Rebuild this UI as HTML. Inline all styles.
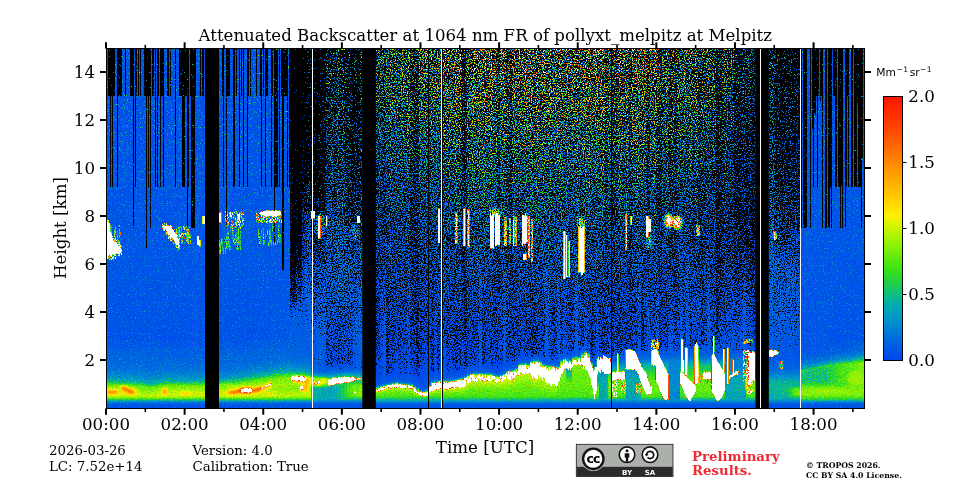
<!DOCTYPE html>
<html lang="en"><head><meta charset="utf-8"><title>Attenuated Backscatter at 1064 nm FR of pollyxt_melpitz at Melpitz</title>
<style>
html,body{margin:0;padding:0;background:#fff;}
body{width:960px;height:480px;overflow:hidden;}
svg{display:block;will-change:transform;}
text{font-family:"DejaVu Serif","Liberation Serif",serif;fill:#000;}
.t16{font-size:16.67px;}
.t13{font-size:13.33px;}
</style></head>
<body>
<svg width="960" height="480" viewBox="0 0 960 480">
<defs>
<filter id="lidar" filterUnits="userSpaceOnUse" x="107" y="49" width="757" height="359" color-interpolation-filters="sRGB">
<feTurbulence type="fractalNoise" baseFrequency="0.83 0.79" numOctaves="2" seed="5" result="t"/>
<feColorMatrix in="t" type="matrix" values="1 0 0 0 0 1 0 0 0 0 1 0 0 0 0 0 0 0 0 1" result="n"/>
<feTurbulence type="fractalNoise" baseFrequency="0.77 0.87" numOctaves="2" seed="23" result="t2"/>
<feColorMatrix in="t2" type="matrix" values="0 1 0 0 0 0 1 0 0 0 0 1 0 0 0 0 0 0 0 1" result="n2"/>
<feComponentTransfer in="n2" result="spk"><feFuncR type="table" tableValues="0 0 0 0 0 0 0 0 0 0 0 0 0 0 0 0 0 0 0 0 0 0 0 0 0 0 0 0 0 0 0 0 0 0 0 0 0 0 0 0 0 0 0 0 0 0 0 0 0 0 0 0 0 0 0 0 0 0 0 0 0 0 0 0 0 0 0 0 0 0 0 0 0 0 0 0 0 0 0 0 0 0 0 0 0 0 0 0 0 0 0 0 0 0 0 0 0 0 0 0 0 0 0 0 0 0 0 0 0 0 0 0 0 0 0 0 0 0 0 0 0 0.019 0.037 0.056 0.074 0.093 0.111 0.13 0.148 0.167 0.185 0.204 0.222 0.241 0.259 0.278 0.296 0.315 0.333 0.352 0.37 0.389 0.407 0.426 0.444 0.463 0.481 0.5 0.519 0.537 0.556 0.574 0.593 0.611 0.63 0.648 0.667 0.685 0.704 0.722 0.741 0.759 0.778 0.796 0.815 0.833 0.852 0.87 0.889 0.907 0.926 0.944 0.963 0.981 1 1 1 1 1 1 1 1 1 1 1 1 1 1 1 1 1 1 1 1 1 1 1 1 1 1 1"/><feFuncG type="table" tableValues="0 0 0 0 0 0 0 0 0 0 0 0 0 0 0 0 0 0 0 0 0 0 0 0 0 0 0 0 0 0 0 0 0 0 0 0 0 0 0 0 0 0 0 0 0 0 0 0 0 0 0 0 0 0 0 0 0 0 0 0 0 0 0 0 0 0 0 0 0 0 0 0 0 0 0 0 0 0 0 0 0 0 0 0 0 0 0 0 0 0 0 0 0 0 0 0 0 0 0 0 0 0 0 0 0 0 0 0 0 0 0 0 0 0 0 0 0 0 0 0 0 0.019 0.037 0.056 0.074 0.093 0.111 0.13 0.148 0.167 0.185 0.204 0.222 0.241 0.259 0.278 0.296 0.315 0.333 0.352 0.37 0.389 0.407 0.426 0.444 0.463 0.481 0.5 0.519 0.537 0.556 0.574 0.593 0.611 0.63 0.648 0.667 0.685 0.704 0.722 0.741 0.759 0.778 0.796 0.815 0.833 0.852 0.87 0.889 0.907 0.926 0.944 0.963 0.981 1 1 1 1 1 1 1 1 1 1 1 1 1 1 1 1 1 1 1 1 1 1 1 1 1 1 1"/><feFuncB type="table" tableValues="0 0 0 0 0 0 0 0 0 0 0 0 0 0 0 0 0 0 0 0 0 0 0 0 0 0 0 0 0 0 0 0 0 0 0 0 0 0 0 0 0 0 0 0 0 0 0 0 0 0 0 0 0 0 0 0 0 0 0 0 0 0 0 0 0 0 0 0 0 0 0 0 0 0 0 0 0 0 0 0 0 0 0 0 0 0 0 0 0 0 0 0 0 0 0 0 0 0 0 0 0 0 0 0 0 0 0 0 0 0 0 0 0 0 0 0 0 0 0 0 0 0.019 0.037 0.056 0.074 0.093 0.111 0.13 0.148 0.167 0.185 0.204 0.222 0.241 0.259 0.278 0.296 0.315 0.333 0.352 0.37 0.389 0.407 0.426 0.444 0.463 0.481 0.5 0.519 0.537 0.556 0.574 0.593 0.611 0.63 0.648 0.667 0.685 0.704 0.722 0.741 0.759 0.778 0.796 0.815 0.833 0.852 0.87 0.889 0.907 0.926 0.944 0.963 0.981 1 1 1 1 1 1 1 1 1 1 1 1 1 1 1 1 1 1 1 1 1 1 1 1 1 1 1"/></feComponentTransfer>
<feColorMatrix in="SourceGraphic" type="matrix" values="0 1 0 0 0 0 1 0 0 0 0 1 0 0 0 0 0 0 0 1" result="sg"/>
<feColorMatrix in="SourceGraphic" type="matrix" values="1 0 0 0 0 1 0 0 0 0 1 0 0 0 0 0 0 0 0 1" result="sv"/>
<feColorMatrix in="SourceGraphic" type="matrix" values="0 0 1 0 0 0 0 1 0 0 0 0 1 0 0 0 0 0 0 1" result="sb"/>
<feComposite in="sg" in2="n" operator="arithmetic" k1="8" k2="-4" k3="0" k4="0.5" result="T"/>
<feComposite in="sv" in2="T" operator="arithmetic" k1="0" k2="1" k3="1" k4="-0.5" result="w1"/>
<feComposite in="sb" in2="spk" operator="arithmetic" k1="0.3" k2="0" k3="0" k4="0" result="S"/>
<feComposite in="w1" in2="S" operator="arithmetic" k1="0" k2="1" k3="1" k4="0" result="w"/>
<feComponentTransfer in="w">
<feFuncR type="table" tableValues="0 0 0 0 0 0 0 0 0 0 0 0 0 0 0 0 0 0 0 0 0 0 0 0 0 0 0 0 0 0 0 0 0 0 0 0 0 0 0 0 0 0 0 0 0 0 0 0 0 0 0 0 0 0 0 0 0 0 0 0 0 0 0 0 0 0 0 0 0 0 0 0 0.015 0.029 0.044 0.059 0.075 0.09 0.106 0.122 0.137 0.157 0.176 0.196 0.216 0.235 0.272 0.308 0.345 0.382 0.418 0.455 0.492 0.528 0.565 0.601 0.638 0.675 0.711 0.748 0.784 0.827 0.871 0.914 0.957 1 1 1 1 1 1 1 1 1 1 1 1 1 1 1 1 1 1 1 1 1 1 1 1 1 1 1 1 1 1 1 1 1 1 1 1 1 1 1 1 1 1 1 1 1 1 1 1 1 1 1 1 1 1 1 1 1 1 1 1 1 1 1 1 1 1 1 1 1 1 1 1 1 1 1 1 1 1 1 1 1 1 1 1 1 1 1 1 1 1 1 1 1 1 1 1 1 1 1 1 1 1 1 1 1 1 1 1 1 1 1 1 1 1 1 1 1 1 1 1 1 1 1 1 1 1 1 1 1 1 1 1 1 1 1 1 1 1 1 1 1 1 1 1 1 1"/>
<feFuncG type="table" tableValues="0 0 0 0 0 0 0 0 0 0 0 0 0 0 0 0 0 0 0 0 0 0 0 0 0 0 0 0 0 0 0 0 0 0 0 0 0 0 0 0 0 0 0 0 0 0 0 0 0 0 0.267 0.285 0.304 0.323 0.342 0.361 0.38 0.398 0.419 0.441 0.463 0.485 0.507 0.529 0.551 0.573 0.59 0.607 0.624 0.641 0.658 0.675 0.692 0.71 0.727 0.745 0.761 0.776 0.792 0.808 0.824 0.838 0.852 0.866 0.88 0.894 0.9 0.907 0.913 0.919 0.925 0.932 0.938 0.942 0.945 0.948 0.95 0.953 0.956 0.958 0.961 0.957 0.953 0.949 0.945 0.941 0.92 0.899 0.878 0.858 0.837 0.816 0.795 0.774 0.754 0.733 0.713 0.693 0.672 0.652 0.631 0.611 0.591 0.57 0.55 0.529 0.509 0.489 0.468 0.448 0.427 0.407 0.387 0.366 0.346 0.325 0.305 0.285 0.267 0.251 0.235 0.22 0.204 0.188 0.173 0.157 0.141 0.125 0.11 0.094 0.078 1 1 1 1 1 1 1 1 1 1 1 1 1 1 1 1 1 1 1 1 1 1 1 1 1 1 1 1 1 1 1 1 1 1 1 1 1 1 1 1 1 1 1 1 1 1 1 1 1 1 1 1 1 1 1 1 1 1 1 1 1 1 1 1 1 1 1 1 1 1 1 1 1 1 1 1 1 1 1 1 1 1 1 1 1 1 1 1 1 1 1 1 1 1 1 1 1 1 1 1"/>
<feFuncB type="table" tableValues="0 0 0 0 0 0 0 0 0 0 0 0 0 0 0 0 0 0 0 0 0 0 0 0 0 0 0 0 0 0 0 0 0 0 0 0 0 0 0 0 0 0 0 0 0 0 0 0 0 0 0.933 0.926 0.919 0.911 0.904 0.897 0.889 0.882 0.873 0.864 0.854 0.844 0.834 0.824 0.814 0.804 0.784 0.765 0.745 0.725 0.706 0.686 0.642 0.598 0.554 0.51 0.455 0.4 0.345 0.29 0.235 0.204 0.173 0.141 0.11 0.078 0.073 0.068 0.063 0.058 0.052 0.047 0.042 0.037 0.031 0.026 0.021 0.016 0.01 0.005 0 0 0 0 0 0 0 0 0 0 0 0 0 0 0 0 0 0 0 0 0 0 0 0 0 0 0 0 0 0 0 0 0 0 0 0 0 0 0 0 0 0 0 0 0 0 0 0 0 0 0 1 1 1 1 1 1 1 1 1 1 1 1 1 1 1 1 1 1 1 1 1 1 1 1 1 1 1 1 1 1 1 1 1 1 1 1 1 1 1 1 1 1 1 1 1 1 1 1 1 1 1 1 1 1 1 1 1 1 1 1 1 1 1 1 1 1 1 1 1 1 1 1 1 1 1 1 1 1 1 1 1 1 1 1 1 1 1 1 1 1 1 1 1 1 1 1 1 1 1 1"/>
</feComponentTransfer>
</filter>
<filter id="soft" x="-10%" y="-10%" width="120%" height="120%" color-interpolation-filters="sRGB"><feGaussianBlur stdDeviation="0.55"/></filter>
<filter id="soft2" x="-20%" y="-20%" width="140%" height="140%" color-interpolation-filters="sRGB"><feGaussianBlur stdDeviation="1.6"/></filter>
</defs>
<rect x="0" y="0" width="960" height="480" fill="#fff"/>
<defs>
<linearGradient id="s0" gradientUnits="userSpaceOnUse" x1="0" y1="49" x2="0" y2="408"><stop offset="0" stop-color="#340099"/><stop offset="0.1309" stop-color="#34008c"/><stop offset="0.5487" stop-color="#35004f"/><stop offset="0.5989" stop-color="#350047"/><stop offset="0.8022" stop-color="#350140"/><stop offset="0.8802" stop-color="#3a013b"/><stop offset="0.8997" stop-color="#3d0139"/><stop offset="0.9136" stop-color="#410338"/><stop offset="0.922" stop-color="#460338"/><stop offset="0.9276" stop-color="#4c0338"/><stop offset="0.9359" stop-color="#5a0337"/><stop offset="0.9582" stop-color="#680336"/><stop offset="0.9666" stop-color="#640335"/><stop offset="0.9721" stop-color="#5c0335"/><stop offset="0.9805" stop-color="#450334"/><stop offset="0.9847" stop-color="#3c0134"/><stop offset="0.9903" stop-color="#360134"/><stop offset="1" stop-color="#340033"/></linearGradient>
<linearGradient id="s1" gradientUnits="userSpaceOnUse" x1="0" y1="49" x2="0" y2="408"><stop offset="0" stop-color="#340099"/><stop offset="0.1309" stop-color="#34008c"/><stop offset="0.5487" stop-color="#35004f"/><stop offset="0.5989" stop-color="#350047"/><stop offset="0.8022" stop-color="#350140"/><stop offset="0.8802" stop-color="#3a013b"/><stop offset="0.8997" stop-color="#3d0139"/><stop offset="0.9136" stop-color="#410338"/><stop offset="0.9276" stop-color="#4b0338"/><stop offset="0.9359" stop-color="#590337"/><stop offset="0.9471" stop-color="#620336"/><stop offset="0.9582" stop-color="#680336"/><stop offset="0.9666" stop-color="#640335"/><stop offset="0.9721" stop-color="#5c0335"/><stop offset="0.9805" stop-color="#450334"/><stop offset="0.9847" stop-color="#3c0134"/><stop offset="0.9903" stop-color="#360134"/><stop offset="1" stop-color="#340033"/></linearGradient>
<linearGradient id="s2" gradientUnits="userSpaceOnUse" x1="0" y1="49" x2="0" y2="408"><stop offset="0" stop-color="#340099"/><stop offset="0.1309" stop-color="#34008c"/><stop offset="0.5487" stop-color="#35004f"/><stop offset="0.5989" stop-color="#350047"/><stop offset="0.8022" stop-color="#350140"/><stop offset="0.8802" stop-color="#3a013b"/><stop offset="0.8997" stop-color="#3d0139"/><stop offset="0.922" stop-color="#450338"/><stop offset="0.9276" stop-color="#4b0338"/><stop offset="0.9359" stop-color="#590337"/><stop offset="0.9471" stop-color="#620336"/><stop offset="0.9582" stop-color="#680336"/><stop offset="0.9666" stop-color="#640335"/><stop offset="0.9721" stop-color="#5c0335"/><stop offset="0.9805" stop-color="#450334"/><stop offset="0.9847" stop-color="#3c0134"/><stop offset="0.9903" stop-color="#360134"/><stop offset="1" stop-color="#340033"/></linearGradient>
<linearGradient id="s3" gradientUnits="userSpaceOnUse" x1="0" y1="49" x2="0" y2="408"><stop offset="0" stop-color="#340099"/><stop offset="0.1309" stop-color="#34008c"/><stop offset="0.5487" stop-color="#35004f"/><stop offset="0.5989" stop-color="#350047"/><stop offset="0.8036" stop-color="#35013f"/><stop offset="0.8816" stop-color="#3a013b"/><stop offset="0.9011" stop-color="#3d0139"/><stop offset="0.915" stop-color="#410338"/><stop offset="0.9234" stop-color="#460338"/><stop offset="0.9318" stop-color="#520337"/><stop offset="0.9373" stop-color="#5b0337"/><stop offset="0.9582" stop-color="#680336"/><stop offset="0.9666" stop-color="#640335"/><stop offset="0.9721" stop-color="#5c0335"/><stop offset="0.9805" stop-color="#450334"/><stop offset="0.9847" stop-color="#3c0134"/><stop offset="0.9903" stop-color="#360134"/><stop offset="1" stop-color="#340033"/></linearGradient>
<linearGradient id="s4" gradientUnits="userSpaceOnUse" x1="0" y1="49" x2="0" y2="408"><stop offset="0" stop-color="#340099"/><stop offset="0.1309" stop-color="#34008c"/><stop offset="0.5487" stop-color="#35004f"/><stop offset="0.5989" stop-color="#350047"/><stop offset="0.8036" stop-color="#35013f"/><stop offset="0.8816" stop-color="#3a013b"/><stop offset="0.9011" stop-color="#3d0139"/><stop offset="0.915" stop-color="#410338"/><stop offset="0.9234" stop-color="#460338"/><stop offset="0.929" stop-color="#4c0338"/><stop offset="0.9373" stop-color="#5a0337"/><stop offset="0.9471" stop-color="#620336"/><stop offset="0.9582" stop-color="#680336"/><stop offset="0.9666" stop-color="#640335"/><stop offset="0.9721" stop-color="#5c0335"/><stop offset="0.9805" stop-color="#450334"/><stop offset="0.9847" stop-color="#3c0134"/><stop offset="0.9903" stop-color="#360134"/><stop offset="1" stop-color="#340033"/></linearGradient>
<linearGradient id="s5" gradientUnits="userSpaceOnUse" x1="0" y1="49" x2="0" y2="408"><stop offset="0" stop-color="#340099"/><stop offset="0.1309" stop-color="#34008c"/><stop offset="0.5487" stop-color="#35004f"/><stop offset="0.5989" stop-color="#350047"/><stop offset="0.8036" stop-color="#35013f"/><stop offset="0.8816" stop-color="#3a013b"/><stop offset="0.9011" stop-color="#3d0139"/><stop offset="0.915" stop-color="#410338"/><stop offset="0.9234" stop-color="#460338"/><stop offset="0.929" stop-color="#4c0338"/><stop offset="0.9373" stop-color="#5a0337"/><stop offset="0.9471" stop-color="#620336"/><stop offset="0.9582" stop-color="#680336"/><stop offset="0.9666" stop-color="#640335"/><stop offset="0.9721" stop-color="#5c0335"/><stop offset="0.9805" stop-color="#450334"/><stop offset="0.9847" stop-color="#3c0134"/><stop offset="0.9903" stop-color="#360134"/><stop offset="1" stop-color="#340033"/></linearGradient>
<linearGradient id="s6" gradientUnits="userSpaceOnUse" x1="0" y1="49" x2="0" y2="408"><stop offset="0" stop-color="#340099"/><stop offset="0.1309" stop-color="#34008c"/><stop offset="0.5487" stop-color="#35004f"/><stop offset="0.5989" stop-color="#350047"/><stop offset="0.8036" stop-color="#35013f"/><stop offset="0.8816" stop-color="#3a013b"/><stop offset="0.9011" stop-color="#3d0139"/><stop offset="0.915" stop-color="#410338"/><stop offset="0.9234" stop-color="#460338"/><stop offset="0.929" stop-color="#4c0338"/><stop offset="0.9373" stop-color="#5a0337"/><stop offset="0.9471" stop-color="#620336"/><stop offset="0.9582" stop-color="#680336"/><stop offset="0.9666" stop-color="#640335"/><stop offset="0.9721" stop-color="#5c0335"/><stop offset="0.9805" stop-color="#450334"/><stop offset="0.9847" stop-color="#3c0134"/><stop offset="0.9903" stop-color="#360134"/><stop offset="1" stop-color="#340033"/></linearGradient>
<linearGradient id="s7" gradientUnits="userSpaceOnUse" x1="0" y1="49" x2="0" y2="408"><stop offset="0" stop-color="#340099"/><stop offset="0.1309" stop-color="#34008c"/><stop offset="0.5487" stop-color="#35004f"/><stop offset="0.5989" stop-color="#350047"/><stop offset="0.8036" stop-color="#35013f"/><stop offset="0.8816" stop-color="#3a013b"/><stop offset="0.9011" stop-color="#3d0139"/><stop offset="0.9234" stop-color="#450338"/><stop offset="0.929" stop-color="#4b0338"/><stop offset="0.9373" stop-color="#590337"/><stop offset="0.9471" stop-color="#620336"/><stop offset="0.9582" stop-color="#680336"/><stop offset="0.9666" stop-color="#640335"/><stop offset="0.9721" stop-color="#5c0335"/><stop offset="0.9805" stop-color="#450334"/><stop offset="0.9847" stop-color="#3c0134"/><stop offset="0.9903" stop-color="#360134"/><stop offset="1" stop-color="#340033"/></linearGradient>
<linearGradient id="s8" gradientUnits="userSpaceOnUse" x1="0" y1="49" x2="0" y2="408"><stop offset="0" stop-color="#340099"/><stop offset="0.1309" stop-color="#34008c"/><stop offset="0.5487" stop-color="#35004f"/><stop offset="0.5989" stop-color="#350047"/><stop offset="0.805" stop-color="#35013f"/><stop offset="0.883" stop-color="#3a013a"/><stop offset="0.9025" stop-color="#3d0139"/><stop offset="0.9248" stop-color="#460338"/><stop offset="0.9331" stop-color="#520337"/><stop offset="0.9387" stop-color="#5b0337"/><stop offset="0.9471" stop-color="#620336"/><stop offset="0.9582" stop-color="#680336"/><stop offset="0.9666" stop-color="#640335"/><stop offset="0.9721" stop-color="#5c0335"/><stop offset="0.9805" stop-color="#450334"/><stop offset="0.9847" stop-color="#3c0134"/><stop offset="0.9903" stop-color="#360134"/><stop offset="1" stop-color="#340033"/></linearGradient>
<linearGradient id="s9" gradientUnits="userSpaceOnUse" x1="0" y1="49" x2="0" y2="408"><stop offset="0" stop-color="#340099"/><stop offset="0.1309" stop-color="#34008c"/><stop offset="0.5487" stop-color="#35004f"/><stop offset="0.5989" stop-color="#350047"/><stop offset="0.805" stop-color="#35013f"/><stop offset="0.883" stop-color="#3a013a"/><stop offset="0.9025" stop-color="#3d0139"/><stop offset="0.9164" stop-color="#410338"/><stop offset="0.9248" stop-color="#460338"/><stop offset="0.9387" stop-color="#5a0337"/><stop offset="0.9471" stop-color="#610336"/><stop offset="0.9582" stop-color="#670336"/><stop offset="0.9666" stop-color="#640335"/><stop offset="0.9721" stop-color="#5c0335"/><stop offset="0.9805" stop-color="#450334"/><stop offset="0.9847" stop-color="#3c0134"/><stop offset="0.9903" stop-color="#360134"/><stop offset="1" stop-color="#340033"/></linearGradient>
<linearGradient id="s10" gradientUnits="userSpaceOnUse" x1="0" y1="49" x2="0" y2="408"><stop offset="0" stop-color="#340099"/><stop offset="0.1309" stop-color="#34008c"/><stop offset="0.5487" stop-color="#35004f"/><stop offset="0.5989" stop-color="#350047"/><stop offset="0.805" stop-color="#35013f"/><stop offset="0.883" stop-color="#3a013a"/><stop offset="0.9025" stop-color="#3d0139"/><stop offset="0.9164" stop-color="#410338"/><stop offset="0.9248" stop-color="#460338"/><stop offset="0.9304" stop-color="#4c0337"/><stop offset="0.9387" stop-color="#5a0337"/><stop offset="0.9582" stop-color="#650336"/><stop offset="0.9666" stop-color="#640335"/><stop offset="0.9721" stop-color="#5c0335"/><stop offset="0.9805" stop-color="#450334"/><stop offset="0.9847" stop-color="#3c0134"/><stop offset="0.9903" stop-color="#360134"/><stop offset="1" stop-color="#340033"/></linearGradient>
<linearGradient id="s11" gradientUnits="userSpaceOnUse" x1="0" y1="49" x2="0" y2="408"><stop offset="0" stop-color="#340099"/><stop offset="0.1309" stop-color="#34008c"/><stop offset="0.5487" stop-color="#35004f"/><stop offset="0.5989" stop-color="#350047"/><stop offset="0.8064" stop-color="#35013f"/><stop offset="0.8844" stop-color="#3a013a"/><stop offset="0.9039" stop-color="#3d0139"/><stop offset="0.9178" stop-color="#410338"/><stop offset="0.9262" stop-color="#460338"/><stop offset="0.9401" stop-color="#5a0337"/><stop offset="0.9471" stop-color="#5c0336"/><stop offset="0.9582" stop-color="#620336"/><stop offset="0.9666" stop-color="#640335"/><stop offset="0.9721" stop-color="#5c0335"/><stop offset="0.9805" stop-color="#450334"/><stop offset="0.9847" stop-color="#3c0134"/><stop offset="0.9903" stop-color="#360134"/><stop offset="1" stop-color="#340033"/></linearGradient>
<linearGradient id="s12" gradientUnits="userSpaceOnUse" x1="0" y1="49" x2="0" y2="408"><stop offset="0" stop-color="#340099"/><stop offset="0.1309" stop-color="#34008c"/><stop offset="0.5487" stop-color="#35004f"/><stop offset="0.5989" stop-color="#350047"/><stop offset="0.8078" stop-color="#35013f"/><stop offset="0.8384" stop-color="#38013d"/><stop offset="0.8858" stop-color="#3a013a"/><stop offset="0.9053" stop-color="#3d0139"/><stop offset="0.9192" stop-color="#410338"/><stop offset="0.9276" stop-color="#460338"/><stop offset="0.9331" stop-color="#4c0337"/><stop offset="0.9359" stop-color="#520337"/><stop offset="0.9415" stop-color="#5a0337"/><stop offset="0.9582" stop-color="#600336"/><stop offset="0.9666" stop-color="#640335"/><stop offset="0.9721" stop-color="#5c0335"/><stop offset="0.9805" stop-color="#450334"/><stop offset="0.9847" stop-color="#3c0134"/><stop offset="0.9903" stop-color="#360134"/><stop offset="1" stop-color="#340033"/></linearGradient>
<linearGradient id="s13" gradientUnits="userSpaceOnUse" x1="0" y1="49" x2="0" y2="408"><stop offset="0" stop-color="#340099"/><stop offset="0.1309" stop-color="#34008c"/><stop offset="0.5487" stop-color="#35004f"/><stop offset="0.5989" stop-color="#350047"/><stop offset="0.8092" stop-color="#35013f"/><stop offset="0.8872" stop-color="#3a013a"/><stop offset="0.9067" stop-color="#3d0139"/><stop offset="0.9206" stop-color="#410338"/><stop offset="0.929" stop-color="#460338"/><stop offset="0.9345" stop-color="#4c0337"/><stop offset="0.9429" stop-color="#5a0337"/><stop offset="0.9666" stop-color="#640335"/><stop offset="0.9721" stop-color="#5c0335"/><stop offset="0.9805" stop-color="#450334"/><stop offset="0.9847" stop-color="#3c0134"/><stop offset="0.9903" stop-color="#360134"/><stop offset="1" stop-color="#340033"/></linearGradient>
<linearGradient id="s14" gradientUnits="userSpaceOnUse" x1="0" y1="49" x2="0" y2="408"><stop offset="0" stop-color="#340099"/><stop offset="0.1309" stop-color="#34008c"/><stop offset="0.5487" stop-color="#35004f"/><stop offset="0.5989" stop-color="#350047"/><stop offset="0.8106" stop-color="#35013f"/><stop offset="0.8886" stop-color="#3a013a"/><stop offset="0.9081" stop-color="#3d0139"/><stop offset="0.922" stop-color="#410338"/><stop offset="0.9304" stop-color="#460337"/><stop offset="0.9359" stop-color="#4c0337"/><stop offset="0.9443" stop-color="#5a0337"/><stop offset="0.9666" stop-color="#640335"/><stop offset="0.9721" stop-color="#5c0335"/><stop offset="0.9805" stop-color="#450334"/><stop offset="0.9847" stop-color="#3c0134"/><stop offset="0.9903" stop-color="#360134"/><stop offset="1" stop-color="#340033"/></linearGradient>
<linearGradient id="s15" gradientUnits="userSpaceOnUse" x1="0" y1="49" x2="0" y2="408"><stop offset="0" stop-color="#340099"/><stop offset="0.1309" stop-color="#34008c"/><stop offset="0.5487" stop-color="#35004f"/><stop offset="0.5989" stop-color="#350047"/><stop offset="0.8092" stop-color="#35013f"/><stop offset="0.8384" stop-color="#38013d"/><stop offset="0.8872" stop-color="#3a013a"/><stop offset="0.9067" stop-color="#3d0139"/><stop offset="0.9206" stop-color="#410338"/><stop offset="0.929" stop-color="#460338"/><stop offset="0.9345" stop-color="#4c0337"/><stop offset="0.9429" stop-color="#5a0337"/><stop offset="0.9666" stop-color="#640335"/><stop offset="0.9721" stop-color="#5c0335"/><stop offset="0.9805" stop-color="#450334"/><stop offset="0.9847" stop-color="#3c0134"/><stop offset="0.9903" stop-color="#360134"/><stop offset="1" stop-color="#340033"/></linearGradient>
<linearGradient id="s16" gradientUnits="userSpaceOnUse" x1="0" y1="49" x2="0" y2="408"><stop offset="0" stop-color="#340099"/><stop offset="0.1309" stop-color="#34008c"/><stop offset="0.5487" stop-color="#35004f"/><stop offset="0.5989" stop-color="#350047"/><stop offset="0.8078" stop-color="#35013f"/><stop offset="0.8384" stop-color="#38013d"/><stop offset="0.8858" stop-color="#3a013a"/><stop offset="0.9053" stop-color="#3d0139"/><stop offset="0.9192" stop-color="#410338"/><stop offset="0.9276" stop-color="#460338"/><stop offset="0.9331" stop-color="#4c0337"/><stop offset="0.9415" stop-color="#5a0337"/><stop offset="0.9582" stop-color="#620336"/><stop offset="0.9666" stop-color="#640335"/><stop offset="0.9721" stop-color="#5c0335"/><stop offset="0.9805" stop-color="#450334"/><stop offset="0.9847" stop-color="#3c0134"/><stop offset="0.9903" stop-color="#360134"/><stop offset="1" stop-color="#340033"/></linearGradient>
<linearGradient id="s17" gradientUnits="userSpaceOnUse" x1="0" y1="49" x2="0" y2="408"><stop offset="0" stop-color="#340099"/><stop offset="0.1309" stop-color="#34008c"/><stop offset="0.5487" stop-color="#35004f"/><stop offset="0.5989" stop-color="#350047"/><stop offset="0.8064" stop-color="#35013f"/><stop offset="0.8844" stop-color="#3a013a"/><stop offset="0.9039" stop-color="#3d0139"/><stop offset="0.9178" stop-color="#410338"/><stop offset="0.9262" stop-color="#460338"/><stop offset="0.9318" stop-color="#4c0337"/><stop offset="0.9401" stop-color="#5a0337"/><stop offset="0.9582" stop-color="#630336"/><stop offset="0.9666" stop-color="#640335"/><stop offset="0.9721" stop-color="#5c0335"/><stop offset="0.9805" stop-color="#450334"/><stop offset="0.9847" stop-color="#3c0134"/><stop offset="0.9903" stop-color="#360134"/><stop offset="1" stop-color="#340033"/></linearGradient>
<linearGradient id="s18" gradientUnits="userSpaceOnUse" x1="0" y1="49" x2="0" y2="408"><stop offset="0" stop-color="#340099"/><stop offset="0.1309" stop-color="#34008c"/><stop offset="0.5487" stop-color="#35004f"/><stop offset="0.5989" stop-color="#350047"/><stop offset="0.805" stop-color="#35013f"/><stop offset="0.883" stop-color="#3a013a"/><stop offset="0.9025" stop-color="#3d0139"/><stop offset="0.9164" stop-color="#410338"/><stop offset="0.9248" stop-color="#460338"/><stop offset="0.9304" stop-color="#4c0337"/><stop offset="0.9387" stop-color="#5a0337"/><stop offset="0.9582" stop-color="#640336"/><stop offset="0.9666" stop-color="#640335"/><stop offset="0.9721" stop-color="#5c0335"/><stop offset="0.9805" stop-color="#450334"/><stop offset="0.9847" stop-color="#3c0134"/><stop offset="0.9903" stop-color="#360134"/><stop offset="1" stop-color="#340033"/></linearGradient>
<linearGradient id="s19" gradientUnits="userSpaceOnUse" x1="0" y1="49" x2="0" y2="408"><stop offset="0" stop-color="#340099"/><stop offset="0.1309" stop-color="#34008c"/><stop offset="0.5487" stop-color="#35004f"/><stop offset="0.5989" stop-color="#350047"/><stop offset="0.8036" stop-color="#35013f"/><stop offset="0.8816" stop-color="#3a013b"/><stop offset="0.9011" stop-color="#3d0139"/><stop offset="0.915" stop-color="#410338"/><stop offset="0.9234" stop-color="#460338"/><stop offset="0.929" stop-color="#4c0338"/><stop offset="0.9373" stop-color="#5a0337"/><stop offset="0.9582" stop-color="#650336"/><stop offset="0.9666" stop-color="#640335"/><stop offset="0.9721" stop-color="#5c0335"/><stop offset="0.9805" stop-color="#450334"/><stop offset="0.9847" stop-color="#3c0134"/><stop offset="0.9903" stop-color="#360134"/><stop offset="1" stop-color="#340033"/></linearGradient>
<linearGradient id="s20" gradientUnits="userSpaceOnUse" x1="0" y1="49" x2="0" y2="408"><stop offset="0" stop-color="#340099"/><stop offset="0.1309" stop-color="#34008c"/><stop offset="0.5487" stop-color="#35004f"/><stop offset="0.5989" stop-color="#350047"/><stop offset="0.8036" stop-color="#35013f"/><stop offset="0.8816" stop-color="#3a013b"/><stop offset="0.9011" stop-color="#3d0139"/><stop offset="0.915" stop-color="#410338"/><stop offset="0.9234" stop-color="#460338"/><stop offset="0.929" stop-color="#4c0338"/><stop offset="0.9373" stop-color="#5a0337"/><stop offset="0.9582" stop-color="#650336"/><stop offset="0.9666" stop-color="#640335"/><stop offset="0.9721" stop-color="#5c0335"/><stop offset="0.9805" stop-color="#450334"/><stop offset="0.9847" stop-color="#3c0134"/><stop offset="0.9903" stop-color="#360134"/><stop offset="1" stop-color="#340033"/></linearGradient>
<linearGradient id="s21" gradientUnits="userSpaceOnUse" x1="0" y1="49" x2="0" y2="408"><stop offset="0" stop-color="#340099"/><stop offset="0.1309" stop-color="#34008c"/><stop offset="0.5487" stop-color="#35004f"/><stop offset="0.5989" stop-color="#350047"/><stop offset="0.8036" stop-color="#35013f"/><stop offset="0.8816" stop-color="#3a013b"/><stop offset="0.9011" stop-color="#3d0139"/><stop offset="0.915" stop-color="#410338"/><stop offset="0.9234" stop-color="#460338"/><stop offset="0.929" stop-color="#4c0338"/><stop offset="0.9373" stop-color="#5a0337"/><stop offset="0.9582" stop-color="#650336"/><stop offset="0.9666" stop-color="#640335"/><stop offset="0.9721" stop-color="#5c0335"/><stop offset="0.9805" stop-color="#450334"/><stop offset="0.9847" stop-color="#3c0134"/><stop offset="0.9903" stop-color="#360134"/><stop offset="1" stop-color="#340033"/></linearGradient>
<linearGradient id="s22" gradientUnits="userSpaceOnUse" x1="0" y1="49" x2="0" y2="408"><stop offset="0" stop-color="#340099"/><stop offset="0.1309" stop-color="#34008c"/><stop offset="0.5487" stop-color="#35004f"/><stop offset="0.5989" stop-color="#350047"/><stop offset="0.8036" stop-color="#35013f"/><stop offset="0.8816" stop-color="#3a013b"/><stop offset="0.9011" stop-color="#3d0139"/><stop offset="0.915" stop-color="#410338"/><stop offset="0.9234" stop-color="#460338"/><stop offset="0.929" stop-color="#4c0338"/><stop offset="0.9373" stop-color="#5a0337"/><stop offset="0.9582" stop-color="#650336"/><stop offset="0.9666" stop-color="#640335"/><stop offset="0.9721" stop-color="#5c0335"/><stop offset="0.9805" stop-color="#450334"/><stop offset="0.9847" stop-color="#3c0134"/><stop offset="0.9903" stop-color="#360134"/><stop offset="1" stop-color="#340033"/></linearGradient>
<linearGradient id="s23" gradientUnits="userSpaceOnUse" x1="0" y1="49" x2="0" y2="408"><stop offset="0" stop-color="#340099"/><stop offset="0.1309" stop-color="#34008c"/><stop offset="0.5487" stop-color="#35004f"/><stop offset="0.5989" stop-color="#350047"/><stop offset="0.8036" stop-color="#35013f"/><stop offset="0.8816" stop-color="#3a013b"/><stop offset="0.9011" stop-color="#3d0139"/><stop offset="0.915" stop-color="#410338"/><stop offset="0.9234" stop-color="#460338"/><stop offset="0.929" stop-color="#4c0338"/><stop offset="0.9373" stop-color="#5a0337"/><stop offset="0.9582" stop-color="#650336"/><stop offset="0.9666" stop-color="#640335"/><stop offset="0.9721" stop-color="#5c0335"/><stop offset="0.9805" stop-color="#450334"/><stop offset="0.9847" stop-color="#3c0134"/><stop offset="0.9903" stop-color="#360134"/><stop offset="1" stop-color="#340033"/></linearGradient>
<linearGradient id="s24" gradientUnits="userSpaceOnUse" x1="0" y1="49" x2="0" y2="408"><stop offset="0" stop-color="#340099"/><stop offset="0.1309" stop-color="#34008c"/><stop offset="0.5487" stop-color="#35004f"/><stop offset="0.5989" stop-color="#350047"/><stop offset="0.8036" stop-color="#35013f"/><stop offset="0.8816" stop-color="#3a013b"/><stop offset="0.9011" stop-color="#3d0139"/><stop offset="0.915" stop-color="#410338"/><stop offset="0.9234" stop-color="#460338"/><stop offset="0.929" stop-color="#4c0338"/><stop offset="0.9373" stop-color="#5a0337"/><stop offset="0.9582" stop-color="#650336"/><stop offset="0.9666" stop-color="#640335"/><stop offset="0.9721" stop-color="#5c0335"/><stop offset="0.9805" stop-color="#450334"/><stop offset="0.9847" stop-color="#3c0134"/><stop offset="0.9903" stop-color="#360134"/><stop offset="1" stop-color="#340033"/></linearGradient>
<linearGradient id="s25" gradientUnits="userSpaceOnUse" x1="0" y1="49" x2="0" y2="408"><stop offset="0" stop-color="#340099"/><stop offset="0.1309" stop-color="#34008c"/><stop offset="0.5487" stop-color="#35004f"/><stop offset="0.5989" stop-color="#350047"/><stop offset="0.8036" stop-color="#35013f"/><stop offset="0.8816" stop-color="#3a013b"/><stop offset="0.9011" stop-color="#3d0139"/><stop offset="0.915" stop-color="#410338"/><stop offset="0.9234" stop-color="#460338"/><stop offset="0.929" stop-color="#4c0338"/><stop offset="0.9373" stop-color="#5a0337"/><stop offset="0.9582" stop-color="#650336"/><stop offset="0.9666" stop-color="#640335"/><stop offset="0.9721" stop-color="#5c0335"/><stop offset="0.9805" stop-color="#450334"/><stop offset="0.9847" stop-color="#3c0134"/><stop offset="0.9903" stop-color="#360134"/><stop offset="1" stop-color="#340033"/></linearGradient>
<linearGradient id="s26" gradientUnits="userSpaceOnUse" x1="0" y1="49" x2="0" y2="408"><stop offset="0" stop-color="#340099"/><stop offset="0.1309" stop-color="#34008c"/><stop offset="0.5487" stop-color="#35004f"/><stop offset="0.5989" stop-color="#350047"/><stop offset="0.8036" stop-color="#35013f"/><stop offset="0.8816" stop-color="#3a013b"/><stop offset="0.9011" stop-color="#3d0139"/><stop offset="0.915" stop-color="#410338"/><stop offset="0.9234" stop-color="#460338"/><stop offset="0.929" stop-color="#4c0338"/><stop offset="0.9373" stop-color="#5a0337"/><stop offset="0.9582" stop-color="#650336"/><stop offset="0.9666" stop-color="#640335"/><stop offset="0.9721" stop-color="#5c0335"/><stop offset="0.9805" stop-color="#450334"/><stop offset="0.9847" stop-color="#3c0134"/><stop offset="0.9903" stop-color="#360134"/><stop offset="1" stop-color="#340033"/></linearGradient>
<linearGradient id="s27" gradientUnits="userSpaceOnUse" x1="0" y1="49" x2="0" y2="408"><stop offset="0" stop-color="#340099"/><stop offset="0.1309" stop-color="#34008c"/><stop offset="0.5487" stop-color="#35004f"/><stop offset="0.5989" stop-color="#350047"/><stop offset="0.8036" stop-color="#35013f"/><stop offset="0.8816" stop-color="#3a013b"/><stop offset="0.9011" stop-color="#3d0139"/><stop offset="0.915" stop-color="#410338"/><stop offset="0.9234" stop-color="#460338"/><stop offset="0.929" stop-color="#4c0338"/><stop offset="0.9373" stop-color="#5a0337"/><stop offset="0.9582" stop-color="#650336"/><stop offset="0.9666" stop-color="#640335"/><stop offset="0.9721" stop-color="#5c0335"/><stop offset="0.9805" stop-color="#450334"/><stop offset="0.9847" stop-color="#3c0134"/><stop offset="0.9903" stop-color="#360134"/><stop offset="1" stop-color="#340033"/></linearGradient>
<linearGradient id="s28" gradientUnits="userSpaceOnUse" x1="0" y1="49" x2="0" y2="408"><stop offset="0" stop-color="#340099"/><stop offset="0.1309" stop-color="#34008c"/><stop offset="0.5487" stop-color="#35004f"/><stop offset="0.5989" stop-color="#350047"/><stop offset="0.8036" stop-color="#35013f"/><stop offset="0.8816" stop-color="#3a013b"/><stop offset="0.9011" stop-color="#3d0139"/><stop offset="0.915" stop-color="#410338"/><stop offset="0.9234" stop-color="#460338"/><stop offset="0.929" stop-color="#4c0338"/><stop offset="0.9373" stop-color="#5a0337"/><stop offset="0.9582" stop-color="#650336"/><stop offset="0.9666" stop-color="#640335"/><stop offset="0.9721" stop-color="#5c0335"/><stop offset="0.9805" stop-color="#450334"/><stop offset="0.9847" stop-color="#3c0134"/><stop offset="0.9903" stop-color="#360134"/><stop offset="1" stop-color="#340033"/></linearGradient>
<linearGradient id="s29" gradientUnits="userSpaceOnUse" x1="0" y1="49" x2="0" y2="408"><stop offset="0" stop-color="#340099"/><stop offset="0.1309" stop-color="#34008c"/><stop offset="0.5487" stop-color="#35004f"/><stop offset="0.5989" stop-color="#350047"/><stop offset="0.8036" stop-color="#35013f"/><stop offset="0.8816" stop-color="#3a013b"/><stop offset="0.9011" stop-color="#3d0139"/><stop offset="0.915" stop-color="#410338"/><stop offset="0.9234" stop-color="#460338"/><stop offset="0.929" stop-color="#4c0338"/><stop offset="0.9373" stop-color="#5a0337"/><stop offset="0.9582" stop-color="#650336"/><stop offset="0.9666" stop-color="#640335"/><stop offset="0.9721" stop-color="#5c0335"/><stop offset="0.9805" stop-color="#450334"/><stop offset="0.9847" stop-color="#3c0134"/><stop offset="0.9903" stop-color="#360134"/><stop offset="1" stop-color="#340033"/></linearGradient>
<linearGradient id="s30" gradientUnits="userSpaceOnUse" x1="0" y1="49" x2="0" y2="408"><stop offset="0" stop-color="#340099"/><stop offset="0.1309" stop-color="#34008c"/><stop offset="0.5487" stop-color="#35004f"/><stop offset="0.5989" stop-color="#350047"/><stop offset="0.8036" stop-color="#35013f"/><stop offset="0.8816" stop-color="#3a013b"/><stop offset="0.9011" stop-color="#3d0139"/><stop offset="0.915" stop-color="#410338"/><stop offset="0.9234" stop-color="#460338"/><stop offset="0.929" stop-color="#4c0338"/><stop offset="0.9373" stop-color="#5a0337"/><stop offset="0.9582" stop-color="#650336"/><stop offset="0.9666" stop-color="#640335"/><stop offset="0.9721" stop-color="#5c0335"/><stop offset="0.9805" stop-color="#450334"/><stop offset="0.9847" stop-color="#3c0134"/><stop offset="0.9903" stop-color="#360134"/><stop offset="1" stop-color="#340033"/></linearGradient>
<linearGradient id="s31" gradientUnits="userSpaceOnUse" x1="0" y1="49" x2="0" y2="408"><stop offset="0" stop-color="#340099"/><stop offset="0.1309" stop-color="#34008c"/><stop offset="0.5487" stop-color="#35004f"/><stop offset="0.5989" stop-color="#350047"/><stop offset="0.8036" stop-color="#35013f"/><stop offset="0.8816" stop-color="#3a013b"/><stop offset="0.9011" stop-color="#3d0139"/><stop offset="0.915" stop-color="#410338"/><stop offset="0.9234" stop-color="#460338"/><stop offset="0.929" stop-color="#4c0338"/><stop offset="0.9373" stop-color="#5a0337"/><stop offset="0.9582" stop-color="#650336"/><stop offset="0.9666" stop-color="#640335"/><stop offset="0.9721" stop-color="#5c0335"/><stop offset="0.9805" stop-color="#450334"/><stop offset="0.9847" stop-color="#3c0134"/><stop offset="0.9903" stop-color="#360134"/><stop offset="1" stop-color="#340033"/></linearGradient>
<linearGradient id="s32" gradientUnits="userSpaceOnUse" x1="0" y1="49" x2="0" y2="408"><stop offset="0" stop-color="#340099"/><stop offset="0.1309" stop-color="#34008c"/><stop offset="0.5487" stop-color="#35004f"/><stop offset="0.5989" stop-color="#350047"/><stop offset="0.8036" stop-color="#35013f"/><stop offset="0.8816" stop-color="#3a013b"/><stop offset="0.9011" stop-color="#3d0139"/><stop offset="0.915" stop-color="#410338"/><stop offset="0.9234" stop-color="#460338"/><stop offset="0.929" stop-color="#4c0338"/><stop offset="0.9373" stop-color="#5a0337"/><stop offset="0.9582" stop-color="#650336"/><stop offset="0.9666" stop-color="#640335"/><stop offset="0.9721" stop-color="#5c0335"/><stop offset="0.9805" stop-color="#450334"/><stop offset="0.9847" stop-color="#3c0134"/><stop offset="0.9903" stop-color="#360134"/><stop offset="1" stop-color="#340033"/></linearGradient>
<linearGradient id="s33" gradientUnits="userSpaceOnUse" x1="0" y1="49" x2="0" y2="408"><stop offset="0" stop-color="#340099"/><stop offset="0.1309" stop-color="#34008c"/><stop offset="0.5487" stop-color="#35004f"/><stop offset="0.5989" stop-color="#350047"/><stop offset="0.8106" stop-color="#35013f"/><stop offset="0.8858" stop-color="#3a013a"/><stop offset="0.9025" stop-color="#3d0139"/><stop offset="0.9136" stop-color="#410338"/><stop offset="0.922" stop-color="#460338"/><stop offset="0.9276" stop-color="#4c0338"/><stop offset="0.9318" stop-color="#540337"/><stop offset="0.9359" stop-color="#600337"/><stop offset="0.9387" stop-color="#5b0337"/><stop offset="0.9582" stop-color="#650336"/><stop offset="0.9666" stop-color="#640335"/><stop offset="0.9721" stop-color="#5c0335"/><stop offset="0.9805" stop-color="#450334"/><stop offset="0.9847" stop-color="#3c0134"/><stop offset="0.9903" stop-color="#360134"/><stop offset="1" stop-color="#340033"/></linearGradient>
<linearGradient id="s34" gradientUnits="userSpaceOnUse" x1="0" y1="49" x2="0" y2="408"><stop offset="0" stop-color="#340099"/><stop offset="0.1309" stop-color="#34008c"/><stop offset="0.5487" stop-color="#35004f"/><stop offset="0.5989" stop-color="#350047"/><stop offset="0.8092" stop-color="#35013f"/><stop offset="0.8844" stop-color="#3a013a"/><stop offset="0.9011" stop-color="#3d0139"/><stop offset="0.9206" stop-color="#450338"/><stop offset="0.9262" stop-color="#4b0338"/><stop offset="0.9359" stop-color="#600337"/><stop offset="0.9373" stop-color="#5c0337"/><stop offset="0.9582" stop-color="#660336"/><stop offset="0.9666" stop-color="#640335"/><stop offset="0.9721" stop-color="#5c0335"/><stop offset="0.9805" stop-color="#450334"/><stop offset="0.9847" stop-color="#3c0134"/><stop offset="0.9903" stop-color="#360134"/><stop offset="1" stop-color="#340033"/></linearGradient>
<linearGradient id="s35" gradientUnits="userSpaceOnUse" x1="0" y1="49" x2="0" y2="408"><stop offset="0" stop-color="#340099"/><stop offset="0.1309" stop-color="#34008c"/><stop offset="0.5487" stop-color="#35004f"/><stop offset="0.5989" stop-color="#350047"/><stop offset="0.8092" stop-color="#35013f"/><stop offset="0.8384" stop-color="#38013d"/><stop offset="0.8844" stop-color="#3a013a"/><stop offset="0.9011" stop-color="#3d0139"/><stop offset="0.9123" stop-color="#410339"/><stop offset="0.9206" stop-color="#460338"/><stop offset="0.9304" stop-color="#540337"/><stop offset="0.9359" stop-color="#600337"/><stop offset="0.9373" stop-color="#5b0337"/><stop offset="0.9582" stop-color="#670336"/><stop offset="0.9666" stop-color="#640335"/><stop offset="0.9721" stop-color="#5c0335"/><stop offset="0.9805" stop-color="#450334"/><stop offset="0.9847" stop-color="#3c0134"/><stop offset="0.9903" stop-color="#360134"/><stop offset="1" stop-color="#340033"/></linearGradient>
<linearGradient id="s36" gradientUnits="userSpaceOnUse" x1="0" y1="49" x2="0" y2="408"><stop offset="0" stop-color="#340099"/><stop offset="0.1309" stop-color="#34008c"/><stop offset="0.5487" stop-color="#35004f"/><stop offset="0.5989" stop-color="#350047"/><stop offset="0.8078" stop-color="#35013f"/><stop offset="0.8384" stop-color="#38013d"/><stop offset="0.883" stop-color="#3a013a"/><stop offset="0.8997" stop-color="#3d0139"/><stop offset="0.9109" stop-color="#410339"/><stop offset="0.9192" stop-color="#460338"/><stop offset="0.9248" stop-color="#4c0338"/><stop offset="0.9359" stop-color="#600337"/><stop offset="0.9471" stop-color="#620336"/><stop offset="0.9582" stop-color="#670336"/><stop offset="0.9666" stop-color="#640335"/><stop offset="0.9721" stop-color="#5c0335"/><stop offset="0.9805" stop-color="#450334"/><stop offset="0.9847" stop-color="#3c0134"/><stop offset="0.9903" stop-color="#360134"/><stop offset="1" stop-color="#340033"/></linearGradient>
<linearGradient id="s37" gradientUnits="userSpaceOnUse" x1="0" y1="49" x2="0" y2="408"><stop offset="0" stop-color="#340099"/><stop offset="0.1309" stop-color="#34008c"/><stop offset="0.5487" stop-color="#35004f"/><stop offset="0.5989" stop-color="#350047"/><stop offset="0.8078" stop-color="#35013f"/><stop offset="0.8384" stop-color="#38013d"/><stop offset="0.883" stop-color="#3a013a"/><stop offset="0.8997" stop-color="#3d0139"/><stop offset="0.9109" stop-color="#410339"/><stop offset="0.9192" stop-color="#460338"/><stop offset="0.929" stop-color="#540338"/><stop offset="0.9359" stop-color="#600337"/><stop offset="0.9471" stop-color="#620336"/><stop offset="0.9582" stop-color="#680336"/><stop offset="0.9666" stop-color="#640335"/><stop offset="0.9721" stop-color="#5c0335"/><stop offset="0.9805" stop-color="#450334"/><stop offset="0.9847" stop-color="#3c0134"/><stop offset="0.9903" stop-color="#360134"/><stop offset="1" stop-color="#340033"/></linearGradient>
<linearGradient id="s38" gradientUnits="userSpaceOnUse" x1="0" y1="49" x2="0" y2="408"><stop offset="0" stop-color="#340099"/><stop offset="0.1309" stop-color="#34008c"/><stop offset="0.5487" stop-color="#35004f"/><stop offset="0.5989" stop-color="#350047"/><stop offset="0.8064" stop-color="#35013f"/><stop offset="0.8816" stop-color="#3a013b"/><stop offset="0.8983" stop-color="#3d0139"/><stop offset="0.9095" stop-color="#410339"/><stop offset="0.9178" stop-color="#460338"/><stop offset="0.9234" stop-color="#4c0338"/><stop offset="0.9276" stop-color="#530338"/><stop offset="0.9345" stop-color="#5b0337"/><stop offset="0.9359" stop-color="#600337"/><stop offset="0.9582" stop-color="#680336"/><stop offset="0.9666" stop-color="#640335"/><stop offset="0.9721" stop-color="#5c0335"/><stop offset="0.9805" stop-color="#450334"/><stop offset="0.9847" stop-color="#3c0134"/><stop offset="0.9903" stop-color="#360134"/><stop offset="1" stop-color="#340033"/></linearGradient>
<linearGradient id="s39" gradientUnits="userSpaceOnUse" x1="0" y1="49" x2="0" y2="408"><stop offset="0" stop-color="#340099"/><stop offset="0.1309" stop-color="#34008c"/><stop offset="0.5487" stop-color="#35004f"/><stop offset="0.5989" stop-color="#350047"/><stop offset="0.805" stop-color="#35013f"/><stop offset="0.8969" stop-color="#3c013a"/><stop offset="0.9081" stop-color="#400339"/><stop offset="0.9164" stop-color="#450338"/><stop offset="0.922" stop-color="#4b0338"/><stop offset="0.9262" stop-color="#520338"/><stop offset="0.9331" stop-color="#5a0337"/><stop offset="0.9359" stop-color="#600337"/><stop offset="0.9582" stop-color="#680336"/><stop offset="0.9666" stop-color="#640335"/><stop offset="0.9721" stop-color="#5c0335"/><stop offset="0.9805" stop-color="#450334"/><stop offset="0.9847" stop-color="#3c0134"/><stop offset="0.9903" stop-color="#360134"/><stop offset="1" stop-color="#340033"/></linearGradient>
<linearGradient id="s40" gradientUnits="userSpaceOnUse" x1="0" y1="49" x2="0" y2="408"><stop offset="0" stop-color="#340099"/><stop offset="0.1309" stop-color="#34008c"/><stop offset="0.5487" stop-color="#35004f"/><stop offset="0.5989" stop-color="#350047"/><stop offset="0.805" stop-color="#35013f"/><stop offset="0.8802" stop-color="#3a013b"/><stop offset="0.8969" stop-color="#3d013a"/><stop offset="0.9081" stop-color="#410339"/><stop offset="0.9164" stop-color="#460338"/><stop offset="0.922" stop-color="#4c0338"/><stop offset="0.9262" stop-color="#540338"/><stop offset="0.9359" stop-color="#600337"/><stop offset="0.9582" stop-color="#680336"/><stop offset="0.9666" stop-color="#640335"/><stop offset="0.9721" stop-color="#5c0335"/><stop offset="0.9805" stop-color="#450334"/><stop offset="0.9847" stop-color="#3c0134"/><stop offset="0.9903" stop-color="#360134"/><stop offset="1" stop-color="#340033"/></linearGradient>
<linearGradient id="s41" gradientUnits="userSpaceOnUse" x1="0" y1="49" x2="0" y2="408"><stop offset="0" stop-color="#340099"/><stop offset="0.1309" stop-color="#34008c"/><stop offset="0.5487" stop-color="#35004f"/><stop offset="0.5989" stop-color="#350047"/><stop offset="0.8036" stop-color="#35013f"/><stop offset="0.8788" stop-color="#3a013b"/><stop offset="0.8955" stop-color="#3d013a"/><stop offset="0.9067" stop-color="#410339"/><stop offset="0.915" stop-color="#460338"/><stop offset="0.9206" stop-color="#4c0338"/><stop offset="0.9248" stop-color="#540338"/><stop offset="0.9359" stop-color="#600337"/><stop offset="0.9471" stop-color="#620336"/><stop offset="0.9582" stop-color="#680336"/><stop offset="0.9666" stop-color="#640335"/><stop offset="0.9721" stop-color="#5c0335"/><stop offset="0.9805" stop-color="#450334"/><stop offset="0.9847" stop-color="#3c0134"/><stop offset="0.9903" stop-color="#360134"/><stop offset="1" stop-color="#340033"/></linearGradient>
<linearGradient id="s42" gradientUnits="userSpaceOnUse" x1="0" y1="49" x2="0" y2="408"><stop offset="0" stop-color="#340099"/><stop offset="0.1309" stop-color="#34008c"/><stop offset="0.5487" stop-color="#35004f"/><stop offset="0.5989" stop-color="#350047"/><stop offset="0.8022" stop-color="#350140"/><stop offset="0.8774" stop-color="#3a013b"/><stop offset="0.8942" stop-color="#3d013a"/><stop offset="0.9053" stop-color="#410339"/><stop offset="0.9136" stop-color="#460338"/><stop offset="0.9192" stop-color="#4c0338"/><stop offset="0.9234" stop-color="#530338"/><stop offset="0.9359" stop-color="#600337"/><stop offset="0.9471" stop-color="#620336"/><stop offset="0.9582" stop-color="#670336"/><stop offset="0.9666" stop-color="#640335"/><stop offset="0.9721" stop-color="#5c0335"/><stop offset="0.9805" stop-color="#450334"/><stop offset="0.9847" stop-color="#3c0134"/><stop offset="0.9903" stop-color="#360134"/><stop offset="1" stop-color="#340033"/></linearGradient>
<linearGradient id="s43" gradientUnits="userSpaceOnUse" x1="0" y1="49" x2="0" y2="408"><stop offset="0" stop-color="#340099"/><stop offset="0.1309" stop-color="#34008c"/><stop offset="0.5487" stop-color="#35004f"/><stop offset="0.5989" stop-color="#350047"/><stop offset="0.8008" stop-color="#350140"/><stop offset="0.876" stop-color="#3a013b"/><stop offset="0.8928" stop-color="#3d013a"/><stop offset="0.9039" stop-color="#410339"/><stop offset="0.9123" stop-color="#460339"/><stop offset="0.9178" stop-color="#4c0338"/><stop offset="0.922" stop-color="#530338"/><stop offset="0.929" stop-color="#5b0338"/><stop offset="0.9359" stop-color="#600337"/><stop offset="0.9471" stop-color="#620336"/><stop offset="0.9582" stop-color="#670336"/><stop offset="0.9666" stop-color="#640335"/><stop offset="0.9721" stop-color="#5c0335"/><stop offset="0.9805" stop-color="#450334"/><stop offset="0.9847" stop-color="#3c0134"/><stop offset="0.9903" stop-color="#360134"/><stop offset="1" stop-color="#340033"/></linearGradient>
<linearGradient id="s44" gradientUnits="userSpaceOnUse" x1="0" y1="49" x2="0" y2="408"><stop offset="0" stop-color="#340099"/><stop offset="0.1309" stop-color="#34008c"/><stop offset="0.5487" stop-color="#35004f"/><stop offset="0.5989" stop-color="#350047"/><stop offset="0.7994" stop-color="#350140"/><stop offset="0.8747" stop-color="#3a013b"/><stop offset="0.8914" stop-color="#3d013a"/><stop offset="0.9025" stop-color="#410339"/><stop offset="0.9109" stop-color="#460339"/><stop offset="0.9164" stop-color="#4c0338"/><stop offset="0.9206" stop-color="#530338"/><stop offset="0.9276" stop-color="#5b0338"/><stop offset="0.9359" stop-color="#600337"/><stop offset="0.9471" stop-color="#620336"/><stop offset="0.9582" stop-color="#670336"/><stop offset="0.9666" stop-color="#640335"/><stop offset="0.9721" stop-color="#5c0335"/><stop offset="0.9805" stop-color="#450334"/><stop offset="0.9847" stop-color="#3c0134"/><stop offset="0.9903" stop-color="#360134"/><stop offset="1" stop-color="#340033"/></linearGradient>
<linearGradient id="s45" gradientUnits="userSpaceOnUse" x1="0" y1="49" x2="0" y2="408"><stop offset="0" stop-color="#340099"/><stop offset="0.1309" stop-color="#34008c"/><stop offset="0.5487" stop-color="#35004f"/><stop offset="0.5989" stop-color="#350047"/><stop offset="0.7994" stop-color="#350140"/><stop offset="0.8733" stop-color="#3a013b"/><stop offset="0.89" stop-color="#3d013a"/><stop offset="0.9095" stop-color="#450339"/><stop offset="0.915" stop-color="#4b0338"/><stop offset="0.9192" stop-color="#530338"/><stop offset="0.9262" stop-color="#5b0338"/><stop offset="0.9359" stop-color="#600337"/><stop offset="0.9471" stop-color="#610336"/><stop offset="0.9582" stop-color="#670336"/><stop offset="0.9666" stop-color="#640335"/><stop offset="0.9721" stop-color="#5c0335"/><stop offset="0.9805" stop-color="#450334"/><stop offset="0.9847" stop-color="#3c0134"/><stop offset="0.9903" stop-color="#360134"/><stop offset="1" stop-color="#340033"/></linearGradient>
<linearGradient id="s46" gradientUnits="userSpaceOnUse" x1="0" y1="49" x2="0" y2="408"><stop offset="0" stop-color="#340099"/><stop offset="0.1309" stop-color="#34008c"/><stop offset="0.5487" stop-color="#35004f"/><stop offset="0.5989" stop-color="#350047"/><stop offset="0.7994" stop-color="#350140"/><stop offset="0.8719" stop-color="#3a013b"/><stop offset="0.8997" stop-color="#400339"/><stop offset="0.9081" stop-color="#450339"/><stop offset="0.9136" stop-color="#4b0338"/><stop offset="0.9248" stop-color="#5b0338"/><stop offset="0.9359" stop-color="#600337"/><stop offset="0.9471" stop-color="#610336"/><stop offset="0.9582" stop-color="#660336"/><stop offset="0.9666" stop-color="#640335"/><stop offset="0.9721" stop-color="#5c0335"/><stop offset="0.9805" stop-color="#450334"/><stop offset="0.9847" stop-color="#3c0134"/><stop offset="0.9903" stop-color="#360134"/><stop offset="1" stop-color="#340033"/></linearGradient>
<linearGradient id="s47" gradientUnits="userSpaceOnUse" x1="0" y1="49" x2="0" y2="408"><stop offset="0" stop-color="#340099"/><stop offset="0.1309" stop-color="#34008c"/><stop offset="0.5487" stop-color="#35004f"/><stop offset="0.5989" stop-color="#350047"/><stop offset="0.7994" stop-color="#350140"/><stop offset="0.8719" stop-color="#3a013b"/><stop offset="0.8886" stop-color="#3d013a"/><stop offset="0.8997" stop-color="#410339"/><stop offset="0.9081" stop-color="#470339"/><stop offset="0.9136" stop-color="#4d0338"/><stop offset="0.9164" stop-color="#520338"/><stop offset="0.9248" stop-color="#5c0338"/><stop offset="0.9359" stop-color="#600337"/><stop offset="0.9471" stop-color="#610336"/><stop offset="0.9582" stop-color="#660336"/><stop offset="0.9666" stop-color="#640335"/><stop offset="0.9721" stop-color="#5c0335"/><stop offset="0.9805" stop-color="#450334"/><stop offset="0.9847" stop-color="#3c0134"/><stop offset="0.9903" stop-color="#360134"/><stop offset="1" stop-color="#340033"/></linearGradient>
<linearGradient id="s48" gradientUnits="userSpaceOnUse" x1="0" y1="49" x2="0" y2="408"><stop offset="0" stop-color="#340099"/><stop offset="0.1309" stop-color="#34008c"/><stop offset="0.5487" stop-color="#35004f"/><stop offset="0.5989" stop-color="#350047"/><stop offset="0.7994" stop-color="#350140"/><stop offset="0.8858" stop-color="#3c013a"/><stop offset="0.8969" stop-color="#40033a"/><stop offset="0.9053" stop-color="#450339"/><stop offset="0.9109" stop-color="#4b0339"/><stop offset="0.9164" stop-color="#540338"/><stop offset="0.922" stop-color="#5a0338"/><stop offset="0.9359" stop-color="#600337"/><stop offset="0.9471" stop-color="#610336"/><stop offset="0.9582" stop-color="#660336"/><stop offset="0.9666" stop-color="#640335"/><stop offset="0.9721" stop-color="#5c0335"/><stop offset="0.9805" stop-color="#450334"/><stop offset="0.9847" stop-color="#3c0134"/><stop offset="0.9903" stop-color="#360134"/><stop offset="1" stop-color="#340033"/></linearGradient>
<linearGradient id="s49" gradientUnits="userSpaceOnUse" x1="0" y1="49" x2="0" y2="408"><stop offset="0" stop-color="#340099"/><stop offset="0.1309" stop-color="#34008c"/><stop offset="0.5487" stop-color="#35004f"/><stop offset="0.5989" stop-color="#350047"/><stop offset="0.7994" stop-color="#350140"/><stop offset="0.8691" stop-color="#3a013b"/><stop offset="0.8858" stop-color="#3d013a"/><stop offset="0.8969" stop-color="#41033a"/><stop offset="0.9053" stop-color="#470339"/><stop offset="0.9109" stop-color="#4d0339"/><stop offset="0.9136" stop-color="#520338"/><stop offset="0.922" stop-color="#5b0338"/><stop offset="0.9359" stop-color="#600337"/><stop offset="0.9471" stop-color="#600336"/><stop offset="0.9582" stop-color="#660336"/><stop offset="0.9666" stop-color="#640335"/><stop offset="0.9721" stop-color="#5c0335"/><stop offset="0.9805" stop-color="#450334"/><stop offset="0.9847" stop-color="#3c0134"/><stop offset="0.9903" stop-color="#360134"/><stop offset="1" stop-color="#340033"/></linearGradient>
<linearGradient id="s50" gradientUnits="userSpaceOnUse" x1="0" y1="49" x2="0" y2="408"><stop offset="0" stop-color="#340099"/><stop offset="0.1309" stop-color="#34008c"/><stop offset="0.5487" stop-color="#35004f"/><stop offset="0.5989" stop-color="#350047"/><stop offset="0.7994" stop-color="#350140"/><stop offset="0.883" stop-color="#3c013a"/><stop offset="0.8942" stop-color="#40033a"/><stop offset="0.9025" stop-color="#450339"/><stop offset="0.9081" stop-color="#4b0339"/><stop offset="0.9136" stop-color="#540338"/><stop offset="0.9192" stop-color="#5a0338"/><stop offset="0.9359" stop-color="#600337"/><stop offset="0.9471" stop-color="#600336"/><stop offset="0.9582" stop-color="#650336"/><stop offset="0.9666" stop-color="#640335"/><stop offset="0.9721" stop-color="#5c0335"/><stop offset="0.9805" stop-color="#450334"/><stop offset="0.9847" stop-color="#3c0134"/><stop offset="0.9903" stop-color="#360134"/><stop offset="1" stop-color="#340033"/></linearGradient>
<linearGradient id="s51" gradientUnits="userSpaceOnUse" x1="0" y1="49" x2="0" y2="408"><stop offset="0" stop-color="#340099"/><stop offset="0.1309" stop-color="#34008c"/><stop offset="0.5487" stop-color="#35004f"/><stop offset="0.5989" stop-color="#350047"/><stop offset="0.7994" stop-color="#360140"/><stop offset="0.8663" stop-color="#3a013c"/><stop offset="0.883" stop-color="#3d013a"/><stop offset="0.8942" stop-color="#41033a"/><stop offset="0.9025" stop-color="#470339"/><stop offset="0.9081" stop-color="#4d0339"/><stop offset="0.9109" stop-color="#520339"/><stop offset="0.9192" stop-color="#5b0338"/><stop offset="0.9359" stop-color="#600337"/><stop offset="0.9471" stop-color="#600336"/><stop offset="0.9582" stop-color="#650336"/><stop offset="0.9666" stop-color="#640335"/><stop offset="0.9721" stop-color="#5c0335"/><stop offset="0.9805" stop-color="#450334"/><stop offset="0.9847" stop-color="#3c0134"/><stop offset="0.9903" stop-color="#360134"/><stop offset="1" stop-color="#340033"/></linearGradient>
<linearGradient id="s52" gradientUnits="userSpaceOnUse" x1="0" y1="49" x2="0" y2="408"><stop offset="0" stop-color="#340099"/><stop offset="0.1309" stop-color="#34008c"/><stop offset="0.5487" stop-color="#35004f"/><stop offset="0.5989" stop-color="#350047"/><stop offset="0.7994" stop-color="#360140"/><stop offset="0.8649" stop-color="#3a013c"/><stop offset="0.8816" stop-color="#3d013b"/><stop offset="0.8928" stop-color="#41033a"/><stop offset="0.9011" stop-color="#460339"/><stop offset="0.9109" stop-color="#540339"/><stop offset="0.9178" stop-color="#5b0338"/><stop offset="0.9359" stop-color="#600337"/><stop offset="0.9471" stop-color="#5f0336"/><stop offset="0.9582" stop-color="#640336"/><stop offset="0.9666" stop-color="#640335"/><stop offset="0.9721" stop-color="#5c0335"/><stop offset="0.9805" stop-color="#450334"/><stop offset="0.9847" stop-color="#3c0134"/><stop offset="0.9903" stop-color="#360134"/><stop offset="1" stop-color="#340033"/></linearGradient>
<linearGradient id="s53" gradientUnits="userSpaceOnUse" x1="0" y1="49" x2="0" y2="408"><stop offset="0" stop-color="#340099"/><stop offset="0.1309" stop-color="#34008c"/><stop offset="0.5487" stop-color="#35004f"/><stop offset="0.5989" stop-color="#350047"/><stop offset="0.7994" stop-color="#360140"/><stop offset="0.8635" stop-color="#3a013c"/><stop offset="0.8802" stop-color="#3d013b"/><stop offset="0.8914" stop-color="#41033a"/><stop offset="0.8997" stop-color="#460339"/><stop offset="0.9053" stop-color="#4c0339"/><stop offset="0.9095" stop-color="#530339"/><stop offset="0.9164" stop-color="#5b0338"/><stop offset="0.9359" stop-color="#600337"/><stop offset="0.9471" stop-color="#5e0336"/><stop offset="0.9582" stop-color="#630336"/><stop offset="0.9666" stop-color="#640335"/><stop offset="0.9721" stop-color="#5c0335"/><stop offset="0.9805" stop-color="#450334"/><stop offset="0.9847" stop-color="#3c0134"/><stop offset="0.9903" stop-color="#360134"/><stop offset="1" stop-color="#340033"/></linearGradient>
<linearGradient id="s54" gradientUnits="userSpaceOnUse" x1="0" y1="49" x2="0" y2="408"><stop offset="0" stop-color="#340099"/><stop offset="0.1309" stop-color="#34008c"/><stop offset="0.5487" stop-color="#35004f"/><stop offset="0.5989" stop-color="#350047"/><stop offset="0.7994" stop-color="#360140"/><stop offset="0.8635" stop-color="#3a013c"/><stop offset="0.8802" stop-color="#3d013b"/><stop offset="0.8914" stop-color="#41033a"/><stop offset="0.8997" stop-color="#470339"/><stop offset="0.9053" stop-color="#4d0339"/><stop offset="0.9081" stop-color="#520339"/><stop offset="0.9164" stop-color="#5b0338"/><stop offset="0.9359" stop-color="#600337"/><stop offset="0.9471" stop-color="#5e0336"/><stop offset="0.9666" stop-color="#640335"/><stop offset="0.9721" stop-color="#5c0335"/><stop offset="0.9805" stop-color="#450334"/><stop offset="0.9847" stop-color="#3c0134"/><stop offset="0.9903" stop-color="#360134"/><stop offset="1" stop-color="#340033"/></linearGradient>
<linearGradient id="s55" gradientUnits="userSpaceOnUse" x1="0" y1="49" x2="0" y2="408"><stop offset="0" stop-color="#340099"/><stop offset="0.1309" stop-color="#34008c"/><stop offset="0.5487" stop-color="#35004f"/><stop offset="0.5989" stop-color="#350047"/><stop offset="0.7994" stop-color="#360140"/><stop offset="0.8621" stop-color="#3a013c"/><stop offset="0.8788" stop-color="#3d013b"/><stop offset="0.89" stop-color="#41033a"/><stop offset="0.8983" stop-color="#460339"/><stop offset="0.9039" stop-color="#4c0339"/><stop offset="0.9081" stop-color="#540339"/><stop offset="0.915" stop-color="#5b0338"/><stop offset="0.9359" stop-color="#600337"/><stop offset="0.9471" stop-color="#5d0336"/><stop offset="0.9666" stop-color="#640335"/><stop offset="0.9721" stop-color="#5c0335"/><stop offset="0.9805" stop-color="#450334"/><stop offset="0.9847" stop-color="#3c0134"/><stop offset="0.9903" stop-color="#360134"/><stop offset="1" stop-color="#340033"/></linearGradient>
<linearGradient id="s56" gradientUnits="userSpaceOnUse" x1="0" y1="49" x2="0" y2="408"><stop offset="0" stop-color="#340099"/><stop offset="0.1309" stop-color="#34008c"/><stop offset="0.5487" stop-color="#35004f"/><stop offset="0.5989" stop-color="#350047"/><stop offset="0.7994" stop-color="#360140"/><stop offset="0.8607" stop-color="#3a013c"/><stop offset="0.8774" stop-color="#3d013b"/><stop offset="0.8886" stop-color="#41033a"/><stop offset="0.9025" stop-color="#4b0339"/><stop offset="0.9067" stop-color="#530339"/><stop offset="0.9136" stop-color="#5b0338"/><stop offset="0.9359" stop-color="#600337"/><stop offset="0.9471" stop-color="#5d0336"/><stop offset="0.9666" stop-color="#640335"/><stop offset="0.9721" stop-color="#5c0335"/><stop offset="0.9805" stop-color="#450334"/><stop offset="0.9847" stop-color="#3c0134"/><stop offset="0.9903" stop-color="#360134"/><stop offset="1" stop-color="#340033"/></linearGradient>
<linearGradient id="s57" gradientUnits="userSpaceOnUse" x1="0" y1="49" x2="0" y2="408"><stop offset="0" stop-color="#0b1200"/><stop offset="0.1978" stop-color="#180d00"/><stop offset="0.4986" stop-color="#270700"/><stop offset="0.5989" stop-color="#2b0500"/><stop offset="0.6992" stop-color="#310300"/><stop offset="0.7493" stop-color="#370300"/><stop offset="0.8384" stop-color="#390200"/><stop offset="0.8607" stop-color="#3a0100"/><stop offset="0.8774" stop-color="#3d0100"/><stop offset="0.8886" stop-color="#410300"/><stop offset="0.8969" stop-color="#460300"/><stop offset="0.9025" stop-color="#4c0300"/><stop offset="0.9067" stop-color="#540300"/><stop offset="0.9136" stop-color="#5b0300"/><stop offset="0.9359" stop-color="#600300"/><stop offset="0.9471" stop-color="#5e0300"/><stop offset="0.9666" stop-color="#640300"/><stop offset="0.9721" stop-color="#5c0300"/><stop offset="0.9805" stop-color="#450300"/><stop offset="0.9847" stop-color="#3c0000"/><stop offset="0.9903" stop-color="#360000"/><stop offset="1" stop-color="#340000"/></linearGradient>
<linearGradient id="s58" gradientUnits="userSpaceOnUse" x1="0" y1="49" x2="0" y2="408"><stop offset="0" stop-color="#001700"/><stop offset="0.1978" stop-color="#111100"/><stop offset="0.5989" stop-color="#290600"/><stop offset="0.6992" stop-color="#310400"/><stop offset="0.7493" stop-color="#390300"/><stop offset="0.7855" stop-color="#370300"/><stop offset="0.8607" stop-color="#3a0200"/><stop offset="0.8774" stop-color="#3d0100"/><stop offset="0.8886" stop-color="#410300"/><stop offset="0.8969" stop-color="#460300"/><stop offset="0.9025" stop-color="#4c0300"/><stop offset="0.9067" stop-color="#540300"/><stop offset="0.9136" stop-color="#5b0300"/><stop offset="0.9359" stop-color="#600300"/><stop offset="0.9471" stop-color="#5e0300"/><stop offset="0.9582" stop-color="#630300"/><stop offset="0.9666" stop-color="#640300"/><stop offset="0.9721" stop-color="#5c0300"/><stop offset="0.9805" stop-color="#450300"/><stop offset="0.9847" stop-color="#3c0000"/><stop offset="0.9903" stop-color="#360000"/><stop offset="1" stop-color="#340000"/></linearGradient>
<linearGradient id="s59" gradientUnits="userSpaceOnUse" x1="0" y1="49" x2="0" y2="408"><stop offset="0" stop-color="#011600"/><stop offset="0.1978" stop-color="#111000"/><stop offset="0.5487" stop-color="#270700"/><stop offset="0.649" stop-color="#320500"/><stop offset="0.7493" stop-color="#370300"/><stop offset="0.8384" stop-color="#390200"/><stop offset="0.8607" stop-color="#3a0200"/><stop offset="0.8774" stop-color="#3d0100"/><stop offset="0.8886" stop-color="#410300"/><stop offset="0.8969" stop-color="#460300"/><stop offset="0.9025" stop-color="#4c0300"/><stop offset="0.9067" stop-color="#540300"/><stop offset="0.9136" stop-color="#5b0300"/><stop offset="0.9359" stop-color="#600300"/><stop offset="0.9471" stop-color="#5e0300"/><stop offset="0.9582" stop-color="#630300"/><stop offset="0.9666" stop-color="#640300"/><stop offset="0.9721" stop-color="#5c0300"/><stop offset="0.9805" stop-color="#450300"/><stop offset="0.9847" stop-color="#3c0000"/><stop offset="0.9903" stop-color="#360000"/><stop offset="1" stop-color="#340000"/></linearGradient>
<linearGradient id="s60" gradientUnits="userSpaceOnUse" x1="0" y1="49" x2="0" y2="408"><stop offset="0" stop-color="#061400"/><stop offset="0.3315" stop-color="#1c0b00"/><stop offset="0.5487" stop-color="#280600"/><stop offset="0.649" stop-color="#320500"/><stop offset="0.7493" stop-color="#370300"/><stop offset="0.8384" stop-color="#390200"/><stop offset="0.8607" stop-color="#3a0200"/><stop offset="0.8774" stop-color="#3d0100"/><stop offset="0.8886" stop-color="#410300"/><stop offset="0.8969" stop-color="#460300"/><stop offset="0.9025" stop-color="#4c0300"/><stop offset="0.9067" stop-color="#540300"/><stop offset="0.9136" stop-color="#5b0300"/><stop offset="0.9359" stop-color="#600300"/><stop offset="0.9471" stop-color="#5e0300"/><stop offset="0.9582" stop-color="#630300"/><stop offset="0.9666" stop-color="#640300"/><stop offset="0.9721" stop-color="#5c0300"/><stop offset="0.9805" stop-color="#450300"/><stop offset="0.9847" stop-color="#3c0000"/><stop offset="0.9903" stop-color="#360000"/><stop offset="1" stop-color="#340000"/></linearGradient>
<linearGradient id="s61" gradientUnits="userSpaceOnUse" x1="0" y1="49" x2="0" y2="408"><stop offset="0" stop-color="#160f00"/><stop offset="0.3315" stop-color="#240900"/><stop offset="0.4986" stop-color="#310600"/><stop offset="0.7493" stop-color="#360200"/><stop offset="0.8329" stop-color="#380200"/><stop offset="0.8607" stop-color="#3a0100"/><stop offset="0.8774" stop-color="#3d0100"/><stop offset="0.8886" stop-color="#410300"/><stop offset="0.8969" stop-color="#460300"/><stop offset="0.9025" stop-color="#4c0300"/><stop offset="0.9067" stop-color="#540300"/><stop offset="0.9136" stop-color="#5b0300"/><stop offset="0.9359" stop-color="#600300"/><stop offset="0.9471" stop-color="#5f0300"/><stop offset="0.9582" stop-color="#640300"/><stop offset="0.9666" stop-color="#640300"/><stop offset="0.9721" stop-color="#5c0300"/><stop offset="0.9805" stop-color="#450300"/><stop offset="0.9847" stop-color="#3c0000"/><stop offset="0.9903" stop-color="#360000"/><stop offset="1" stop-color="#340000"/></linearGradient>
<linearGradient id="s62" gradientUnits="userSpaceOnUse" x1="0" y1="49" x2="0" y2="408"><stop offset="0" stop-color="#0a1800"/><stop offset="0.2646" stop-color="#1b0f00"/><stop offset="0.3315" stop-color="#1e0d00"/><stop offset="0.3844" stop-color="#260c00"/><stop offset="0.4986" stop-color="#320900"/><stop offset="0.649" stop-color="#370500"/><stop offset="0.8384" stop-color="#380200"/><stop offset="0.8802" stop-color="#3d0100"/><stop offset="0.8914" stop-color="#410300"/><stop offset="0.8997" stop-color="#460300"/><stop offset="0.9053" stop-color="#4c0300"/><stop offset="0.9095" stop-color="#540300"/><stop offset="0.9164" stop-color="#5b0300"/><stop offset="0.9359" stop-color="#600300"/><stop offset="0.9471" stop-color="#5f0300"/><stop offset="0.9582" stop-color="#640300"/><stop offset="0.9666" stop-color="#640300"/><stop offset="0.9721" stop-color="#5c0300"/><stop offset="0.9805" stop-color="#450300"/><stop offset="0.9847" stop-color="#3c0000"/><stop offset="0.9903" stop-color="#360000"/><stop offset="1" stop-color="#340000"/></linearGradient>
<linearGradient id="s63" gradientUnits="userSpaceOnUse" x1="0" y1="49" x2="0" y2="408"><stop offset="0" stop-color="#121500"/><stop offset="0.3315" stop-color="#220c00"/><stop offset="0.3844" stop-color="#290b00"/><stop offset="0.4986" stop-color="#330800"/><stop offset="0.7493" stop-color="#380300"/><stop offset="0.8384" stop-color="#380200"/><stop offset="0.8663" stop-color="#3a0200"/><stop offset="0.883" stop-color="#3d0100"/><stop offset="0.8942" stop-color="#410300"/><stop offset="0.9025" stop-color="#460300"/><stop offset="0.9081" stop-color="#4c0300"/><stop offset="0.9123" stop-color="#530300"/><stop offset="0.9192" stop-color="#5b0300"/><stop offset="0.9359" stop-color="#600300"/><stop offset="0.9471" stop-color="#5f0300"/><stop offset="0.9582" stop-color="#640300"/><stop offset="0.9666" stop-color="#640300"/><stop offset="0.9721" stop-color="#5c0300"/><stop offset="0.9805" stop-color="#450300"/><stop offset="0.9847" stop-color="#3c0000"/><stop offset="0.9903" stop-color="#360000"/><stop offset="1" stop-color="#340000"/></linearGradient>
<linearGradient id="s64" gradientUnits="userSpaceOnUse" x1="0" y1="49" x2="0" y2="408"><stop offset="0" stop-color="#002200"/><stop offset="0.0975" stop-color="#001d00"/><stop offset="0.4485" stop-color="#210e00"/><stop offset="0.5989" stop-color="#320900"/><stop offset="0.6992" stop-color="#360600"/><stop offset="0.8384" stop-color="#380300"/><stop offset="0.8942" stop-color="#380200"/><stop offset="0.9053" stop-color="#3f0100"/><stop offset="0.9109" stop-color="#490300"/><stop offset="0.9164" stop-color="#600300"/><stop offset="0.9304" stop-color="#600300"/><stop offset="0.9387" stop-color="#570300"/><stop offset="0.9443" stop-color="#490300"/><stop offset="0.9749" stop-color="#490300"/><stop offset="0.9805" stop-color="#410300"/><stop offset="0.9847" stop-color="#3b0000"/><stop offset="0.9903" stop-color="#360000"/><stop offset="1" stop-color="#340000"/></linearGradient>
<linearGradient id="s65" gradientUnits="userSpaceOnUse" x1="0" y1="49" x2="0" y2="408"><stop offset="0" stop-color="#021b00"/><stop offset="0.1978" stop-color="#131300"/><stop offset="0.4485" stop-color="#250b00"/><stop offset="0.5989" stop-color="#320700"/><stop offset="0.8384" stop-color="#370200"/><stop offset="0.8719" stop-color="#360200"/><stop offset="0.8942" stop-color="#380100"/><stop offset="0.9053" stop-color="#3f0100"/><stop offset="0.9109" stop-color="#480300"/><stop offset="0.9164" stop-color="#5e0300"/><stop offset="0.9304" stop-color="#600300"/><stop offset="0.9387" stop-color="#570300"/><stop offset="0.9443" stop-color="#490300"/><stop offset="0.9749" stop-color="#490300"/><stop offset="0.9805" stop-color="#410300"/><stop offset="0.9847" stop-color="#3b0000"/><stop offset="0.9903" stop-color="#360000"/><stop offset="1" stop-color="#340000"/></linearGradient>
<linearGradient id="s66" gradientUnits="userSpaceOnUse" x1="0" y1="49" x2="0" y2="408"><stop offset="0" stop-color="#002300"/><stop offset="0.0975" stop-color="#001e00"/><stop offset="0.4485" stop-color="#220e00"/><stop offset="0.5989" stop-color="#320900"/><stop offset="0.6992" stop-color="#360600"/><stop offset="0.8384" stop-color="#380300"/><stop offset="0.8955" stop-color="#380200"/><stop offset="0.9067" stop-color="#400300"/><stop offset="0.9123" stop-color="#4b0300"/><stop offset="0.9178" stop-color="#600300"/><stop offset="0.9304" stop-color="#600300"/><stop offset="0.9387" stop-color="#570300"/><stop offset="0.9443" stop-color="#480300"/><stop offset="0.9749" stop-color="#480300"/><stop offset="0.9805" stop-color="#410300"/><stop offset="0.9847" stop-color="#3b0000"/><stop offset="0.9903" stop-color="#360000"/><stop offset="1" stop-color="#340000"/></linearGradient>
<linearGradient id="s67" gradientUnits="userSpaceOnUse" x1="0" y1="49" x2="0" y2="408"><stop offset="0" stop-color="#002500"/><stop offset="0.1309" stop-color="#011e00"/><stop offset="0.4986" stop-color="#270d00"/><stop offset="0.5989" stop-color="#320a00"/><stop offset="0.6992" stop-color="#360700"/><stop offset="0.8384" stop-color="#380300"/><stop offset="0.8955" stop-color="#380200"/><stop offset="0.9067" stop-color="#3f0200"/><stop offset="0.9123" stop-color="#490300"/><stop offset="0.9178" stop-color="#600300"/><stop offset="0.9304" stop-color="#600300"/><stop offset="0.9387" stop-color="#570300"/><stop offset="0.9443" stop-color="#470300"/><stop offset="0.9749" stop-color="#470300"/><stop offset="0.9805" stop-color="#410300"/><stop offset="0.9847" stop-color="#3b0000"/><stop offset="0.9903" stop-color="#360000"/><stop offset="1" stop-color="#340000"/></linearGradient>
<linearGradient id="s68" gradientUnits="userSpaceOnUse" x1="0" y1="49" x2="0" y2="408"><stop offset="0" stop-color="#021f00"/><stop offset="0.1978" stop-color="#131600"/><stop offset="0.5989" stop-color="#320800"/><stop offset="0.649" stop-color="#350700"/><stop offset="0.8384" stop-color="#370200"/><stop offset="0.8747" stop-color="#360200"/><stop offset="0.8969" stop-color="#380200"/><stop offset="0.9081" stop-color="#400300"/><stop offset="0.9136" stop-color="#4c0300"/><stop offset="0.9192" stop-color="#600300"/><stop offset="0.9304" stop-color="#600300"/><stop offset="0.9387" stop-color="#570300"/><stop offset="0.9443" stop-color="#470300"/><stop offset="0.9749" stop-color="#470300"/><stop offset="0.9805" stop-color="#410300"/><stop offset="0.9847" stop-color="#3b0000"/><stop offset="0.9903" stop-color="#360000"/><stop offset="1" stop-color="#340000"/></linearGradient>
<linearGradient id="s69" gradientUnits="userSpaceOnUse" x1="0" y1="49" x2="0" y2="408"><stop offset="0" stop-color="#1c1e00"/><stop offset="0.1978" stop-color="#261600"/><stop offset="0.3315" stop-color="#2a1100"/><stop offset="0.4485" stop-color="#310d00"/><stop offset="0.649" stop-color="#350700"/><stop offset="0.8747" stop-color="#330200"/><stop offset="0.8969" stop-color="#380100"/><stop offset="0.9081" stop-color="#3f0300"/><stop offset="0.9136" stop-color="#4a0300"/><stop offset="0.9192" stop-color="#5e0300"/><stop offset="0.9304" stop-color="#5e0300"/><stop offset="0.9387" stop-color="#550300"/><stop offset="0.9443" stop-color="#460300"/><stop offset="0.9749" stop-color="#460300"/><stop offset="0.9805" stop-color="#410300"/><stop offset="0.9847" stop-color="#3b0000"/><stop offset="0.9903" stop-color="#360000"/><stop offset="1" stop-color="#340000"/></linearGradient>
<linearGradient id="s70" gradientUnits="userSpaceOnUse" x1="0" y1="49" x2="0" y2="408"><stop offset="0" stop-color="#132a00"/><stop offset="0.1978" stop-color="#211e00"/><stop offset="0.4986" stop-color="#320f00"/><stop offset="0.649" stop-color="#350900"/><stop offset="0.8733" stop-color="#330200"/><stop offset="0.8955" stop-color="#380200"/><stop offset="0.9067" stop-color="#3f0200"/><stop offset="0.9178" stop-color="#500300"/><stop offset="0.9304" stop-color="#510300"/><stop offset="0.9443" stop-color="#460300"/><stop offset="0.9749" stop-color="#460300"/><stop offset="0.9805" stop-color="#410300"/><stop offset="0.9847" stop-color="#3b0000"/><stop offset="0.9903" stop-color="#360000"/><stop offset="1" stop-color="#340000"/></linearGradient>
<linearGradient id="s71" gradientUnits="userSpaceOnUse" x1="0" y1="49" x2="0" y2="408"><stop offset="0" stop-color="#1b2000"/><stop offset="0.2646" stop-color="#281400"/><stop offset="0.3315" stop-color="#2a1200"/><stop offset="0.4485" stop-color="#310d00"/><stop offset="0.649" stop-color="#350700"/><stop offset="0.8733" stop-color="#330200"/><stop offset="0.8955" stop-color="#380200"/><stop offset="0.9067" stop-color="#400300"/><stop offset="0.9123" stop-color="#4a0300"/><stop offset="0.9178" stop-color="#510300"/><stop offset="0.9304" stop-color="#510300"/><stop offset="0.9443" stop-color="#470300"/><stop offset="0.9749" stop-color="#470300"/><stop offset="0.9805" stop-color="#410300"/><stop offset="0.9847" stop-color="#3b0000"/><stop offset="0.9903" stop-color="#360000"/><stop offset="1" stop-color="#340000"/></linearGradient>
<linearGradient id="s72" gradientUnits="userSpaceOnUse" x1="0" y1="49" x2="0" y2="408"><stop offset="0" stop-color="#1c1e00"/><stop offset="0.1309" stop-color="#231800"/><stop offset="0.4986" stop-color="#330b00"/><stop offset="0.649" stop-color="#350700"/><stop offset="0.8719" stop-color="#330200"/><stop offset="0.8942" stop-color="#380200"/><stop offset="0.9053" stop-color="#3f0100"/><stop offset="0.9164" stop-color="#510300"/><stop offset="0.9304" stop-color="#510300"/><stop offset="0.9443" stop-color="#480300"/><stop offset="0.9749" stop-color="#480300"/><stop offset="0.9805" stop-color="#410300"/><stop offset="0.9847" stop-color="#3b0000"/><stop offset="0.9903" stop-color="#360000"/><stop offset="1" stop-color="#340000"/></linearGradient>
<linearGradient id="s73" gradientUnits="userSpaceOnUse" x1="0" y1="49" x2="0" y2="408"><stop offset="0" stop-color="#142900"/><stop offset="0.1978" stop-color="#221e00"/><stop offset="0.3315" stop-color="#281700"/><stop offset="0.4485" stop-color="#311100"/><stop offset="0.5989" stop-color="#360b00"/><stop offset="0.8705" stop-color="#330200"/><stop offset="0.8928" stop-color="#370200"/><stop offset="0.9039" stop-color="#3f0200"/><stop offset="0.9095" stop-color="#490300"/><stop offset="0.915" stop-color="#500300"/><stop offset="0.9304" stop-color="#510300"/><stop offset="0.9387" stop-color="#4b0300"/><stop offset="0.9749" stop-color="#4a0300"/><stop offset="0.9805" stop-color="#410300"/><stop offset="0.9847" stop-color="#3b0000"/><stop offset="0.9903" stop-color="#360000"/><stop offset="1" stop-color="#340000"/></linearGradient>
<linearGradient id="s74" gradientUnits="userSpaceOnUse" x1="0" y1="49" x2="0" y2="408"><stop offset="0" stop-color="#182400"/><stop offset="0.0975" stop-color="#1f1f00"/><stop offset="0.4986" stop-color="#330d00"/><stop offset="0.6992" stop-color="#350600"/><stop offset="0.8705" stop-color="#330200"/><stop offset="0.8928" stop-color="#370200"/><stop offset="0.9039" stop-color="#400300"/><stop offset="0.9095" stop-color="#4a0300"/><stop offset="0.915" stop-color="#510300"/><stop offset="0.9304" stop-color="#510300"/><stop offset="0.9387" stop-color="#4e0300"/><stop offset="0.9666" stop-color="#4e0300"/><stop offset="0.9749" stop-color="#4c0300"/><stop offset="0.9805" stop-color="#410300"/><stop offset="0.9847" stop-color="#3b0000"/><stop offset="0.9903" stop-color="#360000"/><stop offset="1" stop-color="#340000"/></linearGradient>
<linearGradient id="s75" gradientUnits="userSpaceOnUse" x1="0" y1="49" x2="0" y2="408"><stop offset="0" stop-color="#0a2900"/><stop offset="0.1309" stop-color="#152100"/><stop offset="0.4986" stop-color="#300f00"/><stop offset="0.5989" stop-color="#350b00"/><stop offset="0.8691" stop-color="#330200"/><stop offset="0.8914" stop-color="#370200"/><stop offset="0.9025" stop-color="#3f0200"/><stop offset="0.9136" stop-color="#510300"/><stop offset="0.9666" stop-color="#520300"/><stop offset="0.9749" stop-color="#4c0300"/><stop offset="0.9805" stop-color="#410300"/><stop offset="0.9847" stop-color="#3b0000"/><stop offset="0.9903" stop-color="#360000"/><stop offset="1" stop-color="#340000"/></linearGradient>
<linearGradient id="s76" gradientUnits="userSpaceOnUse" x1="0" y1="49" x2="0" y2="408"><stop offset="0" stop-color="#052700"/><stop offset="0.1978" stop-color="#161c00"/><stop offset="0.3315" stop-color="#1f1500"/><stop offset="0.5989" stop-color="#340a00"/><stop offset="0.7994" stop-color="#340400"/><stop offset="0.8691" stop-color="#330200"/><stop offset="0.8914" stop-color="#370200"/><stop offset="0.9025" stop-color="#3f0200"/><stop offset="0.9136" stop-color="#500300"/><stop offset="0.9304" stop-color="#510300"/><stop offset="0.9387" stop-color="#570300"/><stop offset="0.9666" stop-color="#570300"/><stop offset="0.9749" stop-color="#4c0300"/><stop offset="0.9805" stop-color="#410300"/><stop offset="0.9847" stop-color="#3b0000"/><stop offset="0.9903" stop-color="#360000"/><stop offset="1" stop-color="#340000"/></linearGradient>
<linearGradient id="s77" gradientUnits="userSpaceOnUse" x1="0" y1="49" x2="0" y2="408"><stop offset="0" stop-color="#082200"/><stop offset="0.1978" stop-color="#181900"/><stop offset="0.3315" stop-color="#201300"/><stop offset="0.5487" stop-color="#310b00"/><stop offset="0.649" stop-color="#350800"/><stop offset="0.8705" stop-color="#330200"/><stop offset="0.8928" stop-color="#370200"/><stop offset="0.9039" stop-color="#400300"/><stop offset="0.9095" stop-color="#4a0300"/><stop offset="0.915" stop-color="#510300"/><stop offset="0.9304" stop-color="#510300"/><stop offset="0.9387" stop-color="#590300"/><stop offset="0.9666" stop-color="#590300"/><stop offset="0.9749" stop-color="#4c0300"/><stop offset="0.9805" stop-color="#410300"/><stop offset="0.9847" stop-color="#3b0000"/><stop offset="0.9903" stop-color="#360000"/><stop offset="1" stop-color="#340000"/></linearGradient>
<linearGradient id="s78" gradientUnits="userSpaceOnUse" x1="0" y1="49" x2="0" y2="408"><stop offset="0" stop-color="#0b1e00"/><stop offset="0.2646" stop-color="#1e1300"/><stop offset="0.3315" stop-color="#211100"/><stop offset="0.4485" stop-color="#2a0d00"/><stop offset="0.5989" stop-color="#330800"/><stop offset="0.7994" stop-color="#370300"/><stop offset="0.8705" stop-color="#360200"/><stop offset="0.8928" stop-color="#380200"/><stop offset="0.9039" stop-color="#3f0100"/><stop offset="0.915" stop-color="#510300"/><stop offset="0.9304" stop-color="#510300"/><stop offset="0.9387" stop-color="#5b0300"/><stop offset="0.9666" stop-color="#5b0300"/><stop offset="0.9805" stop-color="#410300"/><stop offset="0.9847" stop-color="#3b0000"/><stop offset="0.9903" stop-color="#360000"/><stop offset="1" stop-color="#340000"/></linearGradient>
<linearGradient id="s79" gradientUnits="userSpaceOnUse" x1="0" y1="49" x2="0" y2="408"><stop offset="0" stop-color="#0a2000"/><stop offset="0.1309" stop-color="#151a00"/><stop offset="0.3844" stop-color="#251000"/><stop offset="0.5487" stop-color="#310a00"/><stop offset="0.649" stop-color="#350700"/><stop offset="0.8928" stop-color="#380200"/><stop offset="0.9039" stop-color="#3f0100"/><stop offset="0.915" stop-color="#500300"/><stop offset="0.9304" stop-color="#510300"/><stop offset="0.9387" stop-color="#5c0300"/><stop offset="0.9666" stop-color="#5c0300"/><stop offset="0.9805" stop-color="#410300"/><stop offset="0.9847" stop-color="#3b0000"/><stop offset="0.9903" stop-color="#360000"/><stop offset="1" stop-color="#340000"/></linearGradient>
<linearGradient id="s80" gradientUnits="userSpaceOnUse" x1="0" y1="49" x2="0" y2="408"><stop offset="0" stop-color="#022b00"/><stop offset="0.1978" stop-color="#151f00"/><stop offset="0.3315" stop-color="#1e1800"/><stop offset="0.3844" stop-color="#241500"/><stop offset="0.5487" stop-color="#310d00"/><stop offset="0.649" stop-color="#360900"/><stop offset="0.8384" stop-color="#390300"/><stop offset="0.8719" stop-color="#370200"/><stop offset="0.8942" stop-color="#380200"/><stop offset="0.9053" stop-color="#400300"/><stop offset="0.9109" stop-color="#4a0300"/><stop offset="0.9164" stop-color="#510300"/><stop offset="0.9304" stop-color="#510300"/><stop offset="0.9387" stop-color="#5e0300"/><stop offset="0.9666" stop-color="#5e0300"/><stop offset="0.9805" stop-color="#410300"/><stop offset="0.9847" stop-color="#3b0000"/><stop offset="0.9903" stop-color="#360000"/><stop offset="1" stop-color="#340000"/></linearGradient>
<linearGradient id="s81" gradientUnits="userSpaceOnUse" x1="0" y1="49" x2="0" y2="408"><stop offset="0" stop-color="#072900"/><stop offset="0.1978" stop-color="#181e00"/><stop offset="0.3315" stop-color="#211700"/><stop offset="0.5487" stop-color="#320d00"/><stop offset="0.649" stop-color="#360900"/><stop offset="0.8384" stop-color="#390300"/><stop offset="0.8719" stop-color="#370200"/><stop offset="0.8942" stop-color="#380200"/><stop offset="0.9053" stop-color="#3f0200"/><stop offset="0.9164" stop-color="#510300"/><stop offset="0.9304" stop-color="#510300"/><stop offset="0.9387" stop-color="#5e0300"/><stop offset="0.9666" stop-color="#5e0300"/><stop offset="0.9805" stop-color="#410300"/><stop offset="0.9847" stop-color="#3b0000"/><stop offset="0.9903" stop-color="#360000"/><stop offset="1" stop-color="#340000"/></linearGradient>
<linearGradient id="s82" gradientUnits="userSpaceOnUse" x1="0" y1="49" x2="0" y2="408"><stop offset="0" stop-color="#292d00"/><stop offset="0.2646" stop-color="#2e1500"/><stop offset="0.4986" stop-color="#310a00"/><stop offset="0.9109" stop-color="#330000"/><stop offset="0.9331" stop-color="#360000"/><stop offset="0.9401" stop-color="#3c0000"/><stop offset="0.9443" stop-color="#510300"/><stop offset="0.9471" stop-color="#630300"/><stop offset="0.9554" stop-color="#620300"/><stop offset="0.961" stop-color="#5c0300"/><stop offset="0.968" stop-color="#570300"/><stop offset="0.9805" stop-color="#450300"/><stop offset="0.9847" stop-color="#3d0000"/><stop offset="0.9903" stop-color="#360000"/><stop offset="1" stop-color="#340000"/></linearGradient>
<linearGradient id="s83" gradientUnits="userSpaceOnUse" x1="0" y1="49" x2="0" y2="408"><stop offset="0" stop-color="#2c2000"/><stop offset="0.2646" stop-color="#2f1000"/><stop offset="0.5989" stop-color="#320500"/><stop offset="0.9095" stop-color="#330000"/><stop offset="0.9318" stop-color="#360000"/><stop offset="0.9387" stop-color="#3b0000"/><stop offset="0.9429" stop-color="#4f0300"/><stop offset="0.9457" stop-color="#630300"/><stop offset="0.954" stop-color="#630300"/><stop offset="0.961" stop-color="#5b0300"/><stop offset="0.968" stop-color="#570300"/><stop offset="0.9805" stop-color="#450300"/><stop offset="0.9847" stop-color="#3d0000"/><stop offset="0.9903" stop-color="#360000"/><stop offset="1" stop-color="#340000"/></linearGradient>
<linearGradient id="s84" gradientUnits="userSpaceOnUse" x1="0" y1="49" x2="0" y2="408"><stop offset="0" stop-color="#2a2900"/><stop offset="0.1978" stop-color="#2e1800"/><stop offset="0.4485" stop-color="#300b00"/><stop offset="0.6992" stop-color="#340400"/><stop offset="0.9067" stop-color="#340100"/><stop offset="0.929" stop-color="#360000"/><stop offset="0.9359" stop-color="#3a0000"/><stop offset="0.9401" stop-color="#4b0300"/><stop offset="0.9429" stop-color="#620300"/><stop offset="0.9513" stop-color="#630300"/><stop offset="0.9596" stop-color="#5b0300"/><stop offset="0.968" stop-color="#570300"/><stop offset="0.9805" stop-color="#450300"/><stop offset="0.9847" stop-color="#3d0000"/><stop offset="0.9903" stop-color="#360000"/><stop offset="1" stop-color="#340000"/></linearGradient>
<linearGradient id="s85" gradientUnits="userSpaceOnUse" x1="0" y1="49" x2="0" y2="408"><stop offset="0" stop-color="#202400"/><stop offset="0.1309" stop-color="#261900"/><stop offset="0.4485" stop-color="#2e0900"/><stop offset="0.6992" stop-color="#350400"/><stop offset="0.9262" stop-color="#370000"/><stop offset="0.9331" stop-color="#3a0000"/><stop offset="0.9373" stop-color="#4a0300"/><stop offset="0.9401" stop-color="#600300"/><stop offset="0.9485" stop-color="#630300"/><stop offset="0.9582" stop-color="#5b0300"/><stop offset="0.968" stop-color="#570300"/><stop offset="0.9805" stop-color="#450300"/><stop offset="0.9847" stop-color="#3d0000"/><stop offset="0.9903" stop-color="#360000"/><stop offset="1" stop-color="#340000"/></linearGradient>
<linearGradient id="s86" gradientUnits="userSpaceOnUse" x1="0" y1="49" x2="0" y2="408"><stop offset="0" stop-color="#2a2e00"/><stop offset="0.2646" stop-color="#2e1600"/><stop offset="0.5487" stop-color="#310800"/><stop offset="0.9025" stop-color="#320100"/><stop offset="0.9248" stop-color="#360000"/><stop offset="0.9318" stop-color="#3a0000"/><stop offset="0.9359" stop-color="#4c0300"/><stop offset="0.9387" stop-color="#630300"/><stop offset="0.9471" stop-color="#630300"/><stop offset="0.9582" stop-color="#5b0300"/><stop offset="0.968" stop-color="#570300"/><stop offset="0.9805" stop-color="#450300"/><stop offset="0.9847" stop-color="#3d0000"/><stop offset="0.9903" stop-color="#360000"/><stop offset="1" stop-color="#340000"/></linearGradient>
<linearGradient id="s87" gradientUnits="userSpaceOnUse" x1="0" y1="49" x2="0" y2="408"><stop offset="0" stop-color="#293300"/><stop offset="0.1978" stop-color="#2d1d00"/><stop offset="0.4485" stop-color="#300d00"/><stop offset="0.7493" stop-color="#330400"/><stop offset="0.9011" stop-color="#330100"/><stop offset="0.9234" stop-color="#360000"/><stop offset="0.9304" stop-color="#3b0000"/><stop offset="0.9345" stop-color="#4f0300"/><stop offset="0.9373" stop-color="#630300"/><stop offset="0.9457" stop-color="#630300"/><stop offset="0.9568" stop-color="#5b0300"/><stop offset="0.968" stop-color="#570300"/><stop offset="0.9805" stop-color="#450300"/><stop offset="0.9847" stop-color="#3d0000"/><stop offset="0.9903" stop-color="#360000"/><stop offset="1" stop-color="#340000"/></linearGradient>
<linearGradient id="s88" gradientUnits="userSpaceOnUse" x1="0" y1="49" x2="0" y2="408"><stop offset="0" stop-color="#293100"/><stop offset="0.1978" stop-color="#2d1c00"/><stop offset="0.4485" stop-color="#300c00"/><stop offset="0.7994" stop-color="#330300"/><stop offset="0.8983" stop-color="#330100"/><stop offset="0.9206" stop-color="#360000"/><stop offset="0.9276" stop-color="#390000"/><stop offset="0.9318" stop-color="#490300"/><stop offset="0.9345" stop-color="#5f0300"/><stop offset="0.9443" stop-color="#630300"/><stop offset="0.9554" stop-color="#5c0300"/><stop offset="0.968" stop-color="#570300"/><stop offset="0.9805" stop-color="#450300"/><stop offset="0.9847" stop-color="#3d0000"/><stop offset="0.9903" stop-color="#360000"/><stop offset="1" stop-color="#340000"/></linearGradient>
<linearGradient id="s89" gradientUnits="userSpaceOnUse" x1="0" y1="49" x2="0" y2="408"><stop offset="0" stop-color="#2c2400"/><stop offset="0.1978" stop-color="#2f1500"/><stop offset="0.5487" stop-color="#320600"/><stop offset="0.8969" stop-color="#340100"/><stop offset="0.9192" stop-color="#360000"/><stop offset="0.9262" stop-color="#3a0000"/><stop offset="0.9304" stop-color="#4c0300"/><stop offset="0.9331" stop-color="#640300"/><stop offset="0.9429" stop-color="#640300"/><stop offset="0.9554" stop-color="#5b0300"/><stop offset="0.968" stop-color="#570300"/><stop offset="0.9805" stop-color="#450300"/><stop offset="0.9847" stop-color="#3d0000"/><stop offset="0.9903" stop-color="#360000"/><stop offset="1" stop-color="#340000"/></linearGradient>
<linearGradient id="s90" gradientUnits="userSpaceOnUse" x1="0" y1="49" x2="0" y2="408"><stop offset="0" stop-color="#293300"/><stop offset="0.1978" stop-color="#2d1e00"/><stop offset="0.3844" stop-color="#301000"/><stop offset="0.649" stop-color="#320600"/><stop offset="0.8983" stop-color="#330100"/><stop offset="0.9206" stop-color="#360000"/><stop offset="0.9276" stop-color="#3a0000"/><stop offset="0.9318" stop-color="#4b0300"/><stop offset="0.9345" stop-color="#630300"/><stop offset="0.9443" stop-color="#630300"/><stop offset="0.9554" stop-color="#5b0300"/><stop offset="0.968" stop-color="#570300"/><stop offset="0.9805" stop-color="#450300"/><stop offset="0.9847" stop-color="#3d0000"/><stop offset="0.9903" stop-color="#360000"/><stop offset="1" stop-color="#340000"/></linearGradient>
<linearGradient id="s91" gradientUnits="userSpaceOnUse" x1="0" y1="49" x2="0" y2="408"><stop offset="0" stop-color="#293400"/><stop offset="0.1309" stop-color="#2c2400"/><stop offset="0.3844" stop-color="#301000"/><stop offset="0.649" stop-color="#330600"/><stop offset="0.8997" stop-color="#340100"/><stop offset="0.922" stop-color="#360000"/><stop offset="0.929" stop-color="#3a0000"/><stop offset="0.9331" stop-color="#4b0300"/><stop offset="0.9359" stop-color="#630300"/><stop offset="0.9443" stop-color="#640300"/><stop offset="0.9568" stop-color="#5b0300"/><stop offset="0.968" stop-color="#570300"/><stop offset="0.9805" stop-color="#450300"/><stop offset="0.9847" stop-color="#3d0000"/><stop offset="0.9903" stop-color="#360000"/><stop offset="1" stop-color="#340000"/></linearGradient>
<linearGradient id="s92" gradientUnits="userSpaceOnUse" x1="0" y1="49" x2="0" y2="408"><stop offset="0" stop-color="#2a3300"/><stop offset="0.1978" stop-color="#2e1d00"/><stop offset="0.4485" stop-color="#300d00"/><stop offset="0.7493" stop-color="#330400"/><stop offset="0.9011" stop-color="#330100"/><stop offset="0.9234" stop-color="#360000"/><stop offset="0.9304" stop-color="#3b0000"/><stop offset="0.9345" stop-color="#500300"/><stop offset="0.9373" stop-color="#640300"/><stop offset="0.9457" stop-color="#640300"/><stop offset="0.9568" stop-color="#5b0300"/><stop offset="0.968" stop-color="#570300"/><stop offset="0.9805" stop-color="#450300"/><stop offset="0.9847" stop-color="#3d0000"/><stop offset="0.9903" stop-color="#360000"/><stop offset="1" stop-color="#340000"/></linearGradient>
<linearGradient id="s93" gradientUnits="userSpaceOnUse" x1="0" y1="49" x2="0" y2="408"><stop offset="0" stop-color="#293a00"/><stop offset="0.1978" stop-color="#2d2100"/><stop offset="0.4485" stop-color="#300e00"/><stop offset="0.7493" stop-color="#350400"/><stop offset="0.9011" stop-color="#350100"/><stop offset="0.9234" stop-color="#370000"/><stop offset="0.9304" stop-color="#3a0000"/><stop offset="0.9345" stop-color="#4a0300"/><stop offset="0.9373" stop-color="#600300"/><stop offset="0.9457" stop-color="#640300"/><stop offset="0.9568" stop-color="#5b0300"/><stop offset="0.968" stop-color="#570300"/><stop offset="0.9805" stop-color="#450300"/><stop offset="0.9847" stop-color="#3d0000"/><stop offset="0.9903" stop-color="#360000"/><stop offset="1" stop-color="#340000"/></linearGradient>
<linearGradient id="s94" gradientUnits="userSpaceOnUse" x1="0" y1="49" x2="0" y2="408"><stop offset="0" stop-color="#143c00"/><stop offset="0.1309" stop-color="#1d2a00"/><stop offset="0.3315" stop-color="#271600"/><stop offset="0.4986" stop-color="#2c0c00"/><stop offset="0.6992" stop-color="#320500"/><stop offset="0.9025" stop-color="#330100"/><stop offset="0.9248" stop-color="#360000"/><stop offset="0.9318" stop-color="#3a0000"/><stop offset="0.9359" stop-color="#4c0300"/><stop offset="0.9387" stop-color="#640300"/><stop offset="0.9471" stop-color="#640300"/><stop offset="0.9582" stop-color="#5b0300"/><stop offset="0.968" stop-color="#570300"/><stop offset="0.9805" stop-color="#450300"/><stop offset="0.9847" stop-color="#3d0000"/><stop offset="0.9903" stop-color="#360000"/><stop offset="1" stop-color="#340000"/></linearGradient>
<linearGradient id="s95" gradientUnits="userSpaceOnUse" x1="0" y1="49" x2="0" y2="408"><stop offset="0" stop-color="#0c3500"/><stop offset="0.1309" stop-color="#182500"/><stop offset="0.3315" stop-color="#241400"/><stop offset="0.5989" stop-color="#2f0700"/><stop offset="0.8384" stop-color="#330200"/><stop offset="0.9081" stop-color="#330100"/><stop offset="0.9304" stop-color="#360000"/><stop offset="0.9373" stop-color="#390000"/><stop offset="0.9415" stop-color="#4a0300"/><stop offset="0.9443" stop-color="#610300"/><stop offset="0.954" stop-color="#640300"/><stop offset="0.961" stop-color="#5b0300"/><stop offset="0.968" stop-color="#570300"/><stop offset="0.9805" stop-color="#450300"/><stop offset="0.9847" stop-color="#3d0000"/><stop offset="0.9903" stop-color="#360000"/><stop offset="1" stop-color="#340000"/></linearGradient>
<linearGradient id="s96" gradientUnits="userSpaceOnUse" x1="0" y1="49" x2="0" y2="408"><stop offset="0" stop-color="#173000"/><stop offset="0.0975" stop-color="#1e2500"/><stop offset="0.3315" stop-color="#281200"/><stop offset="0.5989" stop-color="#300700"/><stop offset="0.9136" stop-color="#320000"/><stop offset="0.9359" stop-color="#360000"/><stop offset="0.9443" stop-color="#3c0000"/><stop offset="0.9471" stop-color="#490300"/><stop offset="0.9499" stop-color="#5e0300"/><stop offset="0.961" stop-color="#650300"/><stop offset="0.9638" stop-color="#5d0300"/><stop offset="0.9805" stop-color="#450300"/><stop offset="0.9847" stop-color="#3d0000"/><stop offset="0.9903" stop-color="#360000"/><stop offset="1" stop-color="#340000"/></linearGradient>
<linearGradient id="s97" gradientUnits="userSpaceOnUse" x1="0" y1="49" x2="0" y2="408"><stop offset="0" stop-color="#293f00"/><stop offset="0.1309" stop-color="#2c2c00"/><stop offset="0.3315" stop-color="#2f1700"/><stop offset="0.5487" stop-color="#310a00"/><stop offset="0.9192" stop-color="#330000"/><stop offset="0.9415" stop-color="#360000"/><stop offset="0.9485" stop-color="#390000"/><stop offset="0.9526" stop-color="#490300"/><stop offset="0.9554" stop-color="#600300"/><stop offset="0.9652" stop-color="#650300"/><stop offset="0.9666" stop-color="#5b0300"/><stop offset="0.968" stop-color="#570300"/><stop offset="0.9805" stop-color="#450300"/><stop offset="0.9847" stop-color="#3d0000"/><stop offset="0.9903" stop-color="#360000"/><stop offset="1" stop-color="#340000"/></linearGradient>
<linearGradient id="s98" gradientUnits="userSpaceOnUse" x1="0" y1="49" x2="0" y2="408"><stop offset="0" stop-color="#2a3800"/><stop offset="0.1978" stop-color="#2e2000"/><stop offset="0.3844" stop-color="#301100"/><stop offset="0.649" stop-color="#320600"/><stop offset="0.9234" stop-color="#340000"/><stop offset="0.9457" stop-color="#360000"/><stop offset="0.9526" stop-color="#3c0000"/><stop offset="0.9568" stop-color="#510300"/><stop offset="0.9596" stop-color="#650300"/><stop offset="0.9652" stop-color="#650300"/><stop offset="0.9666" stop-color="#5b0300"/><stop offset="0.968" stop-color="#570300"/><stop offset="0.9805" stop-color="#450300"/><stop offset="0.9847" stop-color="#3d0000"/><stop offset="0.9903" stop-color="#360000"/><stop offset="1" stop-color="#340000"/></linearGradient>
<linearGradient id="s99" gradientUnits="userSpaceOnUse" x1="0" y1="49" x2="0" y2="408"><stop offset="0" stop-color="#2a3900"/><stop offset="0.1978" stop-color="#2e2100"/><stop offset="0.3844" stop-color="#301100"/><stop offset="0.649" stop-color="#330600"/><stop offset="0.9192" stop-color="#340000"/><stop offset="0.9415" stop-color="#360000"/><stop offset="0.9499" stop-color="#3d0000"/><stop offset="0.9526" stop-color="#490300"/><stop offset="0.9554" stop-color="#5f0300"/><stop offset="0.9652" stop-color="#650300"/><stop offset="0.9666" stop-color="#5b0300"/><stop offset="0.968" stop-color="#570300"/><stop offset="0.9805" stop-color="#450300"/><stop offset="0.9847" stop-color="#3d0000"/><stop offset="0.9903" stop-color="#360000"/><stop offset="1" stop-color="#340000"/></linearGradient>
<linearGradient id="s100" gradientUnits="userSpaceOnUse" x1="0" y1="49" x2="0" y2="408"><stop offset="0" stop-color="#2c2f00"/><stop offset="0.1978" stop-color="#2f1b00"/><stop offset="0.4986" stop-color="#310a00"/><stop offset="0.6992" stop-color="#340400"/><stop offset="0.9053" stop-color="#350100"/><stop offset="0.9276" stop-color="#370000"/><stop offset="0.9345" stop-color="#3a0000"/><stop offset="0.9387" stop-color="#490300"/><stop offset="0.9415" stop-color="#600300"/><stop offset="0.9568" stop-color="#650300"/><stop offset="0.9624" stop-color="#5c0300"/><stop offset="0.968" stop-color="#570300"/><stop offset="0.9805" stop-color="#450300"/><stop offset="0.9847" stop-color="#3d0000"/><stop offset="0.9903" stop-color="#360000"/><stop offset="1" stop-color="#340000"/></linearGradient>
<linearGradient id="s101" gradientUnits="userSpaceOnUse" x1="0" y1="49" x2="0" y2="408"><stop offset="0" stop-color="#2b3800"/><stop offset="0.1978" stop-color="#2e2000"/><stop offset="0.4485" stop-color="#310d00"/><stop offset="0.7493" stop-color="#320400"/><stop offset="0.8955" stop-color="#320100"/><stop offset="0.9178" stop-color="#360000"/><stop offset="0.9248" stop-color="#390000"/><stop offset="0.929" stop-color="#4b0300"/><stop offset="0.9318" stop-color="#630300"/><stop offset="0.9526" stop-color="#650300"/><stop offset="0.961" stop-color="#5b0300"/><stop offset="0.968" stop-color="#570300"/><stop offset="0.9805" stop-color="#450300"/><stop offset="0.9847" stop-color="#3d0000"/><stop offset="0.9903" stop-color="#360000"/><stop offset="1" stop-color="#340000"/></linearGradient>
<linearGradient id="s102" gradientUnits="userSpaceOnUse" x1="0" y1="49" x2="0" y2="408"><stop offset="0" stop-color="#2b3300"/><stop offset="0.1978" stop-color="#2f1d00"/><stop offset="0.4485" stop-color="#310c00"/><stop offset="0.7994" stop-color="#340300"/><stop offset="0.8955" stop-color="#340100"/><stop offset="0.9178" stop-color="#370000"/><stop offset="0.9248" stop-color="#3c0000"/><stop offset="0.929" stop-color="#510300"/><stop offset="0.9318" stop-color="#650300"/><stop offset="0.9513" stop-color="#650300"/><stop offset="0.9596" stop-color="#5b0300"/><stop offset="0.968" stop-color="#570300"/><stop offset="0.9805" stop-color="#450300"/><stop offset="0.9847" stop-color="#3d0000"/><stop offset="0.9903" stop-color="#360000"/><stop offset="1" stop-color="#340000"/></linearGradient>
<linearGradient id="s103" gradientUnits="userSpaceOnUse" x1="0" y1="49" x2="0" y2="408"><stop offset="0" stop-color="#2c2f00"/><stop offset="0.1978" stop-color="#2f1b00"/><stop offset="0.4986" stop-color="#310900"/><stop offset="0.8942" stop-color="#330100"/><stop offset="0.9164" stop-color="#360000"/><stop offset="0.922" stop-color="#390000"/><stop offset="0.9276" stop-color="#520300"/><stop offset="0.9304" stop-color="#650300"/><stop offset="0.9485" stop-color="#650300"/><stop offset="0.9582" stop-color="#5b0300"/><stop offset="0.968" stop-color="#570300"/><stop offset="0.9805" stop-color="#450300"/><stop offset="0.9847" stop-color="#3d0000"/><stop offset="0.9903" stop-color="#360000"/><stop offset="1" stop-color="#340000"/></linearGradient>
<linearGradient id="s104" gradientUnits="userSpaceOnUse" x1="0" y1="49" x2="0" y2="408"><stop offset="0" stop-color="#2a4000"/><stop offset="0.1978" stop-color="#2e2400"/><stop offset="0.3844" stop-color="#301300"/><stop offset="0.4986" stop-color="#310c00"/><stop offset="0.6992" stop-color="#350500"/><stop offset="0.9136" stop-color="#370000"/><stop offset="0.9206" stop-color="#3a0000"/><stop offset="0.9248" stop-color="#4c0300"/><stop offset="0.9276" stop-color="#650300"/><stop offset="0.9471" stop-color="#650300"/><stop offset="0.9582" stop-color="#5b0300"/><stop offset="0.968" stop-color="#570300"/><stop offset="0.9805" stop-color="#450300"/><stop offset="0.9847" stop-color="#3d0000"/><stop offset="0.9903" stop-color="#360000"/><stop offset="1" stop-color="#340000"/></linearGradient>
<linearGradient id="s105" gradientUnits="userSpaceOnUse" x1="0" y1="49" x2="0" y2="408"><stop offset="0" stop-color="#294b00"/><stop offset="0.1309" stop-color="#2c3400"/><stop offset="0.2646" stop-color="#2e2200"/><stop offset="0.4485" stop-color="#301100"/><stop offset="0.649" stop-color="#340700"/><stop offset="0.8914" stop-color="#350100"/><stop offset="0.9136" stop-color="#370000"/><stop offset="0.9206" stop-color="#3a0000"/><stop offset="0.9248" stop-color="#4b0300"/><stop offset="0.9276" stop-color="#640300"/><stop offset="0.9485" stop-color="#650300"/><stop offset="0.9582" stop-color="#5b0300"/><stop offset="0.968" stop-color="#570300"/><stop offset="0.9805" stop-color="#450300"/><stop offset="0.9847" stop-color="#3d0000"/><stop offset="0.9903" stop-color="#360000"/><stop offset="1" stop-color="#340000"/></linearGradient>
<linearGradient id="s106" gradientUnits="userSpaceOnUse" x1="0" y1="49" x2="0" y2="408"><stop offset="0" stop-color="#294b00"/><stop offset="0.1309" stop-color="#2c3400"/><stop offset="0.2646" stop-color="#2e2200"/><stop offset="0.4485" stop-color="#301100"/><stop offset="0.649" stop-color="#320700"/><stop offset="0.8928" stop-color="#330100"/><stop offset="0.915" stop-color="#360000"/><stop offset="0.922" stop-color="#3c0000"/><stop offset="0.9262" stop-color="#510300"/><stop offset="0.929" stop-color="#650300"/><stop offset="0.9471" stop-color="#650300"/><stop offset="0.9582" stop-color="#5b0300"/><stop offset="0.968" stop-color="#570300"/><stop offset="0.9805" stop-color="#450300"/><stop offset="0.9847" stop-color="#3d0000"/><stop offset="0.9903" stop-color="#360000"/><stop offset="1" stop-color="#340000"/></linearGradient>
<linearGradient id="s107" gradientUnits="userSpaceOnUse" x1="0" y1="49" x2="0" y2="408"><stop offset="0" stop-color="#2b3700"/><stop offset="0.1978" stop-color="#2f1f00"/><stop offset="0.4485" stop-color="#310d00"/><stop offset="0.7493" stop-color="#330400"/><stop offset="0.8928" stop-color="#340100"/><stop offset="0.915" stop-color="#360000"/><stop offset="0.922" stop-color="#3b0000"/><stop offset="0.9262" stop-color="#4f0300"/><stop offset="0.929" stop-color="#650300"/><stop offset="0.9471" stop-color="#650300"/><stop offset="0.9568" stop-color="#5c0300"/><stop offset="0.968" stop-color="#570300"/><stop offset="0.9805" stop-color="#450300"/><stop offset="0.9847" stop-color="#3d0000"/><stop offset="0.9903" stop-color="#360000"/><stop offset="1" stop-color="#340000"/></linearGradient>
<linearGradient id="s108" gradientUnits="userSpaceOnUse" x1="0" y1="49" x2="0" y2="408"><stop offset="0" stop-color="#2a4300"/><stop offset="0.1309" stop-color="#2d2f00"/><stop offset="0.3315" stop-color="#2f1800"/><stop offset="0.5989" stop-color="#320800"/><stop offset="0.89" stop-color="#330100"/><stop offset="0.9123" stop-color="#360000"/><stop offset="0.9192" stop-color="#390000"/><stop offset="0.9234" stop-color="#4a0300"/><stop offset="0.9262" stop-color="#620300"/><stop offset="0.9457" stop-color="#650300"/><stop offset="0.9568" stop-color="#5b0300"/><stop offset="0.968" stop-color="#570300"/><stop offset="0.9805" stop-color="#450300"/><stop offset="0.9847" stop-color="#3d0000"/><stop offset="0.9903" stop-color="#360000"/><stop offset="1" stop-color="#340000"/></linearGradient>
<linearGradient id="s109" gradientUnits="userSpaceOnUse" x1="0" y1="49" x2="0" y2="408"><stop offset="0" stop-color="#285100"/><stop offset="0.1309" stop-color="#2b3800"/><stop offset="0.3315" stop-color="#2f1d00"/><stop offset="0.4986" stop-color="#300f00"/><stop offset="0.7493" stop-color="#320500"/><stop offset="0.8886" stop-color="#320100"/><stop offset="0.9109" stop-color="#360100"/><stop offset="0.9178" stop-color="#3a0000"/><stop offset="0.922" stop-color="#4e0300"/><stop offset="0.9248" stop-color="#650300"/><stop offset="0.9457" stop-color="#650300"/><stop offset="0.9568" stop-color="#5b0300"/><stop offset="0.968" stop-color="#570300"/><stop offset="0.9805" stop-color="#450300"/><stop offset="0.9847" stop-color="#3d0000"/><stop offset="0.9903" stop-color="#360000"/><stop offset="1" stop-color="#340000"/></linearGradient>
<linearGradient id="s110" gradientUnits="userSpaceOnUse" x1="0" y1="49" x2="0" y2="408"><stop offset="0" stop-color="#285100"/><stop offset="0.1309" stop-color="#2b3800"/><stop offset="0.3315" stop-color="#2f1d00"/><stop offset="0.5487" stop-color="#320c00"/><stop offset="0.8872" stop-color="#330100"/><stop offset="0.9095" stop-color="#360100"/><stop offset="0.9164" stop-color="#3b0000"/><stop offset="0.9206" stop-color="#4e0300"/><stop offset="0.9234" stop-color="#650300"/><stop offset="0.9443" stop-color="#650300"/><stop offset="0.9568" stop-color="#5b0300"/><stop offset="0.968" stop-color="#570300"/><stop offset="0.9805" stop-color="#450300"/><stop offset="0.9847" stop-color="#3d0000"/><stop offset="0.9903" stop-color="#360000"/><stop offset="1" stop-color="#340000"/></linearGradient>
<linearGradient id="s111" gradientUnits="userSpaceOnUse" x1="0" y1="49" x2="0" y2="408"><stop offset="0" stop-color="#0b3d00"/><stop offset="0.0975" stop-color="#152f00"/><stop offset="0.2646" stop-color="#211c00"/><stop offset="0.4485" stop-color="#290e00"/><stop offset="0.649" stop-color="#310600"/><stop offset="0.8384" stop-color="#330200"/><stop offset="0.8858" stop-color="#330100"/><stop offset="0.9081" stop-color="#360100"/><stop offset="0.915" stop-color="#3c0000"/><stop offset="0.9192" stop-color="#520300"/><stop offset="0.922" stop-color="#650300"/><stop offset="0.9443" stop-color="#650300"/><stop offset="0.9554" stop-color="#5c0300"/><stop offset="0.968" stop-color="#570300"/><stop offset="0.9805" stop-color="#450300"/><stop offset="0.9847" stop-color="#3d0000"/><stop offset="0.9903" stop-color="#360000"/><stop offset="1" stop-color="#340000"/></linearGradient>
<linearGradient id="s112" gradientUnits="userSpaceOnUse" x1="0" y1="49" x2="0" y2="408"><stop offset="0" stop-color="#004800"/><stop offset="0.0306" stop-color="#004300"/><stop offset="0.1309" stop-color="#0b3200"/><stop offset="0.2646" stop-color="#192100"/><stop offset="0.3844" stop-color="#221500"/><stop offset="0.5989" stop-color="#2e0900"/><stop offset="0.8384" stop-color="#320200"/><stop offset="0.8816" stop-color="#320100"/><stop offset="0.9039" stop-color="#360100"/><stop offset="0.9109" stop-color="#3a0100"/><stop offset="0.915" stop-color="#4d0300"/><stop offset="0.9178" stop-color="#650300"/><stop offset="0.9401" stop-color="#650300"/><stop offset="0.954" stop-color="#5b0300"/><stop offset="0.968" stop-color="#570300"/><stop offset="0.9805" stop-color="#450300"/><stop offset="0.9847" stop-color="#3d0000"/><stop offset="0.9903" stop-color="#360000"/><stop offset="1" stop-color="#340000"/></linearGradient>
<linearGradient id="s113" gradientUnits="userSpaceOnUse" x1="0" y1="49" x2="0" y2="408"><stop offset="0" stop-color="#2b3e00"/><stop offset="0.1978" stop-color="#2e2300"/><stop offset="0.4485" stop-color="#310e00"/><stop offset="0.7493" stop-color="#330400"/><stop offset="0.876" stop-color="#330100"/><stop offset="0.8983" stop-color="#360100"/><stop offset="0.9053" stop-color="#390100"/><stop offset="0.9095" stop-color="#4b0300"/><stop offset="0.9123" stop-color="#640300"/><stop offset="0.9318" stop-color="#650300"/><stop offset="0.9499" stop-color="#5b0300"/><stop offset="0.968" stop-color="#570300"/><stop offset="0.9805" stop-color="#450300"/><stop offset="0.9847" stop-color="#3d0000"/><stop offset="0.9903" stop-color="#360000"/><stop offset="1" stop-color="#340000"/></linearGradient>
<linearGradient id="s114" gradientUnits="userSpaceOnUse" x1="0" y1="49" x2="0" y2="408"><stop offset="0" stop-color="#295000"/><stop offset="0.1309" stop-color="#2c3700"/><stop offset="0.2646" stop-color="#2e2400"/><stop offset="0.4485" stop-color="#301200"/><stop offset="0.649" stop-color="#330700"/><stop offset="0.8733" stop-color="#330200"/><stop offset="0.8955" stop-color="#360100"/><stop offset="0.9025" stop-color="#3a0100"/><stop offset="0.9067" stop-color="#4e0300"/><stop offset="0.9095" stop-color="#650300"/><stop offset="0.9276" stop-color="#650300"/><stop offset="0.9471" stop-color="#5b0300"/><stop offset="0.968" stop-color="#570300"/><stop offset="0.9805" stop-color="#450300"/><stop offset="0.9847" stop-color="#3d0000"/><stop offset="0.9903" stop-color="#360000"/><stop offset="1" stop-color="#340000"/></linearGradient>
<linearGradient id="s115" gradientUnits="userSpaceOnUse" x1="0" y1="49" x2="0" y2="408"><stop offset="0" stop-color="#285400"/><stop offset="0.1309" stop-color="#2b3a00"/><stop offset="0.2646" stop-color="#2e2600"/><stop offset="0.4986" stop-color="#310f00"/><stop offset="0.7493" stop-color="#320500"/><stop offset="0.8733" stop-color="#330200"/><stop offset="0.8955" stop-color="#360100"/><stop offset="0.9025" stop-color="#3c0100"/><stop offset="0.9067" stop-color="#520300"/><stop offset="0.9095" stop-color="#650300"/><stop offset="0.9276" stop-color="#650300"/><stop offset="0.9471" stop-color="#5b0300"/><stop offset="0.968" stop-color="#570300"/><stop offset="0.9805" stop-color="#450300"/><stop offset="0.9847" stop-color="#3d0000"/><stop offset="0.9903" stop-color="#360000"/><stop offset="1" stop-color="#340000"/></linearGradient>
<linearGradient id="s116" gradientUnits="userSpaceOnUse" x1="0" y1="49" x2="0" y2="408"><stop offset="0" stop-color="#2a4800"/><stop offset="0.1309" stop-color="#2d3200"/><stop offset="0.2646" stop-color="#2f2100"/><stop offset="0.4485" stop-color="#311000"/><stop offset="0.7493" stop-color="#330400"/><stop offset="0.8719" stop-color="#330100"/><stop offset="0.8942" stop-color="#360100"/><stop offset="0.9011" stop-color="#390100"/><stop offset="0.9053" stop-color="#4a0300"/><stop offset="0.9081" stop-color="#620300"/><stop offset="0.9262" stop-color="#650300"/><stop offset="0.9471" stop-color="#5b0300"/><stop offset="0.968" stop-color="#570300"/><stop offset="0.9805" stop-color="#450300"/><stop offset="0.9847" stop-color="#3d0000"/><stop offset="0.9903" stop-color="#360000"/><stop offset="1" stop-color="#340000"/></linearGradient>
<linearGradient id="s117" gradientUnits="userSpaceOnUse" x1="0" y1="49" x2="0" y2="408"><stop offset="0" stop-color="#2a4900"/><stop offset="0.1309" stop-color="#2c3300"/><stop offset="0.2646" stop-color="#2f2100"/><stop offset="0.4485" stop-color="#311100"/><stop offset="0.649" stop-color="#350700"/><stop offset="0.8942" stop-color="#370100"/><stop offset="0.9011" stop-color="#3a0100"/><stop offset="0.9053" stop-color="#4c0300"/><stop offset="0.9081" stop-color="#650300"/><stop offset="0.9262" stop-color="#650300"/><stop offset="0.9471" stop-color="#5b0300"/><stop offset="0.968" stop-color="#570300"/><stop offset="0.9805" stop-color="#450300"/><stop offset="0.9847" stop-color="#3d0000"/><stop offset="0.9903" stop-color="#360000"/><stop offset="1" stop-color="#340000"/></linearGradient>
<linearGradient id="s118" gradientUnits="userSpaceOnUse" x1="0" y1="49" x2="0" y2="408"><stop offset="0" stop-color="#285500"/><stop offset="0.1309" stop-color="#2b3b00"/><stop offset="0.3315" stop-color="#2f1e00"/><stop offset="0.4986" stop-color="#311000"/><stop offset="0.6992" stop-color="#320600"/><stop offset="0.8719" stop-color="#320200"/><stop offset="0.8942" stop-color="#360100"/><stop offset="0.9011" stop-color="#390100"/><stop offset="0.9053" stop-color="#4a0300"/><stop offset="0.9081" stop-color="#620300"/><stop offset="0.9262" stop-color="#650300"/><stop offset="0.9471" stop-color="#5b0300"/><stop offset="0.968" stop-color="#570300"/><stop offset="0.9805" stop-color="#450300"/><stop offset="0.9847" stop-color="#3d0000"/><stop offset="0.9903" stop-color="#360000"/><stop offset="1" stop-color="#340000"/></linearGradient>
<linearGradient id="s119" gradientUnits="userSpaceOnUse" x1="0" y1="49" x2="0" y2="408"><stop offset="0" stop-color="#2a4800"/><stop offset="0.1309" stop-color="#2d3200"/><stop offset="0.3315" stop-color="#301a00"/><stop offset="0.5487" stop-color="#320b00"/><stop offset="0.7493" stop-color="#330400"/><stop offset="0.8733" stop-color="#330100"/><stop offset="0.8955" stop-color="#360100"/><stop offset="0.9025" stop-color="#3c0100"/><stop offset="0.9067" stop-color="#510300"/><stop offset="0.9095" stop-color="#650300"/><stop offset="0.9276" stop-color="#650300"/><stop offset="0.9471" stop-color="#5b0300"/><stop offset="0.968" stop-color="#570300"/><stop offset="0.9805" stop-color="#450300"/><stop offset="0.9847" stop-color="#3d0000"/><stop offset="0.9903" stop-color="#360000"/><stop offset="1" stop-color="#340000"/></linearGradient>
<linearGradient id="s120" gradientUnits="userSpaceOnUse" x1="0" y1="49" x2="0" y2="408"><stop offset="0" stop-color="#294d00"/><stop offset="0.1309" stop-color="#2c3500"/><stop offset="0.2646" stop-color="#2e2300"/><stop offset="0.4986" stop-color="#310e00"/><stop offset="0.6992" stop-color="#330600"/><stop offset="0.8733" stop-color="#340200"/><stop offset="0.8955" stop-color="#360100"/><stop offset="0.9025" stop-color="#3b0100"/><stop offset="0.9067" stop-color="#4e0300"/><stop offset="0.9095" stop-color="#650300"/><stop offset="0.9276" stop-color="#650300"/><stop offset="0.9471" stop-color="#5b0300"/><stop offset="0.968" stop-color="#570300"/><stop offset="0.9805" stop-color="#450300"/><stop offset="0.9847" stop-color="#3d0000"/><stop offset="0.9903" stop-color="#360000"/><stop offset="1" stop-color="#340000"/></linearGradient>
<linearGradient id="s121" gradientUnits="userSpaceOnUse" x1="0" y1="49" x2="0" y2="408"><stop offset="0" stop-color="#285600"/><stop offset="0.1309" stop-color="#2c3c00"/><stop offset="0.2646" stop-color="#2e2700"/><stop offset="0.3844" stop-color="#301900"/><stop offset="0.5989" stop-color="#320a00"/><stop offset="0.8747" stop-color="#330200"/><stop offset="0.8969" stop-color="#360100"/><stop offset="0.9039" stop-color="#3a0100"/><stop offset="0.9081" stop-color="#4d0300"/><stop offset="0.9109" stop-color="#650300"/><stop offset="0.9276" stop-color="#650300"/><stop offset="0.9485" stop-color="#5b0300"/><stop offset="0.968" stop-color="#570300"/><stop offset="0.9805" stop-color="#450300"/><stop offset="0.9847" stop-color="#3d0000"/><stop offset="0.9903" stop-color="#360000"/><stop offset="1" stop-color="#340000"/></linearGradient>
<linearGradient id="s122" gradientUnits="userSpaceOnUse" x1="0" y1="49" x2="0" y2="408"><stop offset="0" stop-color="#2b3f00"/><stop offset="0.1978" stop-color="#2e2400"/><stop offset="0.3844" stop-color="#301300"/><stop offset="0.649" stop-color="#320600"/><stop offset="0.8788" stop-color="#330100"/><stop offset="0.9011" stop-color="#360100"/><stop offset="0.9081" stop-color="#3c0100"/><stop offset="0.9123" stop-color="#510300"/><stop offset="0.915" stop-color="#650300"/><stop offset="0.929" stop-color="#650300"/><stop offset="0.9485" stop-color="#5b0300"/><stop offset="0.968" stop-color="#570300"/><stop offset="0.9805" stop-color="#450300"/><stop offset="0.9847" stop-color="#3d0000"/><stop offset="0.9903" stop-color="#360000"/><stop offset="1" stop-color="#340000"/></linearGradient>
<linearGradient id="s123" gradientUnits="userSpaceOnUse" x1="0" y1="49" x2="0" y2="408"><stop offset="0" stop-color="#065200"/><stop offset="0.1309" stop-color="#143900"/><stop offset="0.2646" stop-color="#1e2500"/><stop offset="0.3844" stop-color="#261800"/><stop offset="0.5487" stop-color="#2d0c00"/><stop offset="0.7493" stop-color="#330500"/><stop offset="0.8788" stop-color="#330100"/><stop offset="0.9011" stop-color="#360100"/><stop offset="0.9081" stop-color="#3a0100"/><stop offset="0.9123" stop-color="#4b0300"/><stop offset="0.915" stop-color="#640300"/><stop offset="0.9304" stop-color="#650300"/><stop offset="0.9485" stop-color="#5b0300"/><stop offset="0.968" stop-color="#570300"/><stop offset="0.9805" stop-color="#450300"/><stop offset="0.9847" stop-color="#3d0000"/><stop offset="0.9903" stop-color="#360000"/><stop offset="1" stop-color="#340000"/></linearGradient>
<linearGradient id="s124" gradientUnits="userSpaceOnUse" x1="0" y1="49" x2="0" y2="408"><stop offset="0" stop-color="#2a4700"/><stop offset="0.1309" stop-color="#2d3100"/><stop offset="0.2646" stop-color="#2f2000"/><stop offset="0.4986" stop-color="#310d00"/><stop offset="0.7493" stop-color="#330400"/><stop offset="0.876" stop-color="#330100"/><stop offset="0.8983" stop-color="#360100"/><stop offset="0.9053" stop-color="#390100"/><stop offset="0.9095" stop-color="#490300"/><stop offset="0.9123" stop-color="#600300"/><stop offset="0.929" stop-color="#650300"/><stop offset="0.9485" stop-color="#5b0300"/><stop offset="0.968" stop-color="#570300"/><stop offset="0.9805" stop-color="#450300"/><stop offset="0.9847" stop-color="#3d0000"/><stop offset="0.9903" stop-color="#360000"/><stop offset="1" stop-color="#340000"/></linearGradient>
<linearGradient id="s125" gradientUnits="userSpaceOnUse" x1="0" y1="49" x2="0" y2="408"><stop offset="0" stop-color="#295600"/><stop offset="0.1309" stop-color="#2c3c00"/><stop offset="0.2646" stop-color="#2e2700"/><stop offset="0.3844" stop-color="#301900"/><stop offset="0.4986" stop-color="#311000"/><stop offset="0.6992" stop-color="#350600"/><stop offset="0.8955" stop-color="#370100"/><stop offset="0.9025" stop-color="#3a0100"/><stop offset="0.9067" stop-color="#4b0300"/><stop offset="0.9095" stop-color="#640300"/><stop offset="0.929" stop-color="#650300"/><stop offset="0.9485" stop-color="#5b0300"/><stop offset="0.968" stop-color="#570300"/><stop offset="0.9805" stop-color="#450300"/><stop offset="0.9847" stop-color="#3d0000"/><stop offset="0.9903" stop-color="#360000"/><stop offset="1" stop-color="#340000"/></linearGradient>
<linearGradient id="s126" gradientUnits="userSpaceOnUse" x1="0" y1="49" x2="0" y2="408"><stop offset="0" stop-color="#075200"/><stop offset="0.1309" stop-color="#153800"/><stop offset="0.3315" stop-color="#231d00"/><stop offset="0.4986" stop-color="#2b0f00"/><stop offset="0.649" stop-color="#310800"/><stop offset="0.8384" stop-color="#330300"/><stop offset="0.8663" stop-color="#330200"/><stop offset="0.8886" stop-color="#360100"/><stop offset="0.8955" stop-color="#3a0100"/><stop offset="0.8997" stop-color="#4d0300"/><stop offset="0.9025" stop-color="#650300"/><stop offset="0.9248" stop-color="#650300"/><stop offset="0.9471" stop-color="#5b0300"/><stop offset="0.968" stop-color="#570300"/><stop offset="0.9805" stop-color="#450300"/><stop offset="0.9847" stop-color="#3d0000"/><stop offset="0.9903" stop-color="#360000"/><stop offset="1" stop-color="#340000"/></linearGradient>
<linearGradient id="s127" gradientUnits="userSpaceOnUse" x1="0" y1="49" x2="0" y2="408"><stop offset="0" stop-color="#044f00"/><stop offset="0.1309" stop-color="#123600"/><stop offset="0.3315" stop-color="#221c00"/><stop offset="0.4986" stop-color="#2a0e00"/><stop offset="0.6992" stop-color="#320600"/><stop offset="0.8635" stop-color="#330200"/><stop offset="0.8858" stop-color="#360100"/><stop offset="0.8928" stop-color="#3b0100"/><stop offset="0.8969" stop-color="#4f0300"/><stop offset="0.8997" stop-color="#650300"/><stop offset="0.9234" stop-color="#650300"/><stop offset="0.9457" stop-color="#5b0300"/><stop offset="0.968" stop-color="#570300"/><stop offset="0.9805" stop-color="#450300"/><stop offset="0.9847" stop-color="#3d0000"/><stop offset="0.9903" stop-color="#360000"/><stop offset="1" stop-color="#340000"/></linearGradient>
<linearGradient id="s128" gradientUnits="userSpaceOnUse" x1="0" y1="49" x2="0" y2="408"><stop offset="0" stop-color="#2b4300"/><stop offset="0.1978" stop-color="#2e2600"/><stop offset="0.3844" stop-color="#301400"/><stop offset="0.649" stop-color="#320600"/><stop offset="0.8635" stop-color="#330200"/><stop offset="0.8858" stop-color="#360100"/><stop offset="0.8914" stop-color="#390100"/><stop offset="0.8969" stop-color="#520300"/><stop offset="0.8997" stop-color="#650300"/><stop offset="0.9206" stop-color="#650300"/><stop offset="0.9443" stop-color="#5b0300"/><stop offset="0.968" stop-color="#570300"/><stop offset="0.9805" stop-color="#450300"/><stop offset="0.9847" stop-color="#3d0000"/><stop offset="0.9903" stop-color="#360000"/><stop offset="1" stop-color="#340000"/></linearGradient>
<linearGradient id="s129" gradientUnits="userSpaceOnUse" x1="0" y1="49" x2="0" y2="408"><stop offset="0" stop-color="#2c3b00"/><stop offset="0.1978" stop-color="#2f2200"/><stop offset="0.3844" stop-color="#311200"/><stop offset="0.5989" stop-color="#320700"/><stop offset="0.8579" stop-color="#330200"/><stop offset="0.8802" stop-color="#360100"/><stop offset="0.8872" stop-color="#390100"/><stop offset="0.8914" stop-color="#490300"/><stop offset="0.8942" stop-color="#600300"/><stop offset="0.9136" stop-color="#650300"/><stop offset="0.9415" stop-color="#5b0300"/><stop offset="0.968" stop-color="#570300"/><stop offset="0.9805" stop-color="#450300"/><stop offset="0.9847" stop-color="#3d0000"/><stop offset="0.9903" stop-color="#360000"/><stop offset="1" stop-color="#340000"/></linearGradient>
<linearGradient id="s130" gradientUnits="userSpaceOnUse" x1="0" y1="49" x2="0" y2="408"><stop offset="0" stop-color="#2b4000"/><stop offset="0.1978" stop-color="#2e2400"/><stop offset="0.3844" stop-color="#301300"/><stop offset="0.649" stop-color="#330600"/><stop offset="0.8468" stop-color="#330200"/><stop offset="0.8691" stop-color="#360100"/><stop offset="0.876" stop-color="#390100"/><stop offset="0.8802" stop-color="#490300"/><stop offset="0.883" stop-color="#600300"/><stop offset="0.9081" stop-color="#650300"/><stop offset="0.9387" stop-color="#5b0300"/><stop offset="0.968" stop-color="#570300"/><stop offset="0.9805" stop-color="#450300"/><stop offset="0.9847" stop-color="#3d0000"/><stop offset="0.9903" stop-color="#360000"/><stop offset="1" stop-color="#340000"/></linearGradient>
<linearGradient id="s131" gradientUnits="userSpaceOnUse" x1="0" y1="49" x2="0" y2="408"><stop offset="0" stop-color="#2b4400"/><stop offset="0.1309" stop-color="#2d2f00"/><stop offset="0.3315" stop-color="#301900"/><stop offset="0.5487" stop-color="#320a00"/><stop offset="0.844" stop-color="#340200"/><stop offset="0.8663" stop-color="#360200"/><stop offset="0.8733" stop-color="#390100"/><stop offset="0.8774" stop-color="#490300"/><stop offset="0.8802" stop-color="#600300"/><stop offset="0.9081" stop-color="#650300"/><stop offset="0.9387" stop-color="#5b0300"/><stop offset="0.968" stop-color="#570300"/><stop offset="0.9805" stop-color="#450300"/><stop offset="0.9847" stop-color="#3d0000"/><stop offset="0.9903" stop-color="#360000"/><stop offset="1" stop-color="#340000"/></linearGradient>
<linearGradient id="s132" gradientUnits="userSpaceOnUse" x1="0" y1="49" x2="0" y2="408"><stop offset="0" stop-color="#2a4a00"/><stop offset="0.1309" stop-color="#2d3300"/><stop offset="0.3315" stop-color="#2f1a00"/><stop offset="0.5487" stop-color="#320b00"/><stop offset="0.7493" stop-color="#330400"/><stop offset="0.8454" stop-color="#330200"/><stop offset="0.8677" stop-color="#360200"/><stop offset="0.8747" stop-color="#3c0100"/><stop offset="0.8788" stop-color="#510300"/><stop offset="0.8816" stop-color="#640300"/><stop offset="0.9081" stop-color="#640300"/><stop offset="0.9387" stop-color="#5b0300"/><stop offset="0.968" stop-color="#570300"/><stop offset="0.9805" stop-color="#450300"/><stop offset="0.9847" stop-color="#3d0000"/><stop offset="0.9903" stop-color="#360000"/><stop offset="1" stop-color="#340000"/></linearGradient>
<linearGradient id="s133" gradientUnits="userSpaceOnUse" x1="0" y1="49" x2="0" y2="408"><stop offset="0" stop-color="#294e00"/><stop offset="0.1309" stop-color="#2c3600"/><stop offset="0.2646" stop-color="#2e2300"/><stop offset="0.4986" stop-color="#310e00"/><stop offset="0.6992" stop-color="#330600"/><stop offset="0.8468" stop-color="#330200"/><stop offset="0.8691" stop-color="#360200"/><stop offset="0.876" stop-color="#3b0100"/><stop offset="0.8802" stop-color="#4e0300"/><stop offset="0.883" stop-color="#640300"/><stop offset="0.9081" stop-color="#640300"/><stop offset="0.9387" stop-color="#5b0300"/><stop offset="0.968" stop-color="#570300"/><stop offset="0.9805" stop-color="#450300"/><stop offset="0.9847" stop-color="#3d0000"/><stop offset="0.9903" stop-color="#360000"/><stop offset="1" stop-color="#340000"/></linearGradient>
<linearGradient id="s134" gradientUnits="userSpaceOnUse" x1="0" y1="49" x2="0" y2="408"><stop offset="0" stop-color="#285500"/><stop offset="0.1309" stop-color="#2c3b00"/><stop offset="0.2646" stop-color="#2e2600"/><stop offset="0.4485" stop-color="#301300"/><stop offset="0.649" stop-color="#310800"/><stop offset="0.8384" stop-color="#320300"/><stop offset="0.8607" stop-color="#360200"/><stop offset="0.8677" stop-color="#3a0200"/><stop offset="0.8719" stop-color="#4c0300"/><stop offset="0.8747" stop-color="#630300"/><stop offset="0.9192" stop-color="#630300"/><stop offset="0.9443" stop-color="#5b0300"/><stop offset="0.968" stop-color="#570300"/><stop offset="0.9805" stop-color="#450300"/><stop offset="0.9847" stop-color="#3d0000"/><stop offset="0.9903" stop-color="#360000"/><stop offset="1" stop-color="#340000"/></linearGradient>
<linearGradient id="s135" gradientUnits="userSpaceOnUse" x1="0" y1="49" x2="0" y2="408"><stop offset="0" stop-color="#295200"/><stop offset="0.1309" stop-color="#2c3800"/><stop offset="0.3315" stop-color="#2f1d00"/><stop offset="0.4986" stop-color="#310f00"/><stop offset="0.6992" stop-color="#320600"/><stop offset="0.8384" stop-color="#320300"/><stop offset="0.8593" stop-color="#360200"/><stop offset="0.8663" stop-color="#3b0200"/><stop offset="0.8705" stop-color="#500300"/><stop offset="0.8733" stop-color="#630300"/><stop offset="0.9248" stop-color="#630300"/><stop offset="0.9471" stop-color="#5b0300"/><stop offset="0.968" stop-color="#570300"/><stop offset="0.9805" stop-color="#450300"/><stop offset="0.9847" stop-color="#3d0000"/><stop offset="0.9903" stop-color="#360000"/><stop offset="1" stop-color="#340000"/></linearGradient>
<linearGradient id="s136" gradientUnits="userSpaceOnUse" x1="0" y1="49" x2="0" y2="408"><stop offset="0" stop-color="#285700"/><stop offset="0.1309" stop-color="#2b3c00"/><stop offset="0.2646" stop-color="#2e2700"/><stop offset="0.3844" stop-color="#301900"/><stop offset="0.5989" stop-color="#320a00"/><stop offset="0.8384" stop-color="#330300"/><stop offset="0.8593" stop-color="#360200"/><stop offset="0.8663" stop-color="#3b0200"/><stop offset="0.8705" stop-color="#4f0300"/><stop offset="0.8733" stop-color="#620300"/><stop offset="0.9248" stop-color="#620300"/><stop offset="0.9471" stop-color="#5b0300"/><stop offset="0.968" stop-color="#570300"/><stop offset="0.9805" stop-color="#450300"/><stop offset="0.9847" stop-color="#3d0000"/><stop offset="0.9903" stop-color="#360000"/><stop offset="1" stop-color="#340000"/></linearGradient>
<linearGradient id="s137" gradientUnits="userSpaceOnUse" x1="0" y1="49" x2="0" y2="408"><stop offset="0" stop-color="#2b4000"/><stop offset="0.1309" stop-color="#2d2c00"/><stop offset="0.3315" stop-color="#301700"/><stop offset="0.5487" stop-color="#320a00"/><stop offset="0.8398" stop-color="#330200"/><stop offset="0.8621" stop-color="#360200"/><stop offset="0.8691" stop-color="#3a0100"/><stop offset="0.8733" stop-color="#4c0300"/><stop offset="0.876" stop-color="#610300"/><stop offset="0.922" stop-color="#610300"/><stop offset="0.968" stop-color="#570300"/><stop offset="0.9805" stop-color="#450300"/><stop offset="0.9847" stop-color="#3d0000"/><stop offset="0.9903" stop-color="#360000"/><stop offset="1" stop-color="#340000"/></linearGradient>
<linearGradient id="s138" gradientUnits="userSpaceOnUse" x1="0" y1="49" x2="0" y2="408"><stop offset="0" stop-color="#285700"/><stop offset="0.1309" stop-color="#2b3c00"/><stop offset="0.2646" stop-color="#2e2700"/><stop offset="0.3844" stop-color="#301900"/><stop offset="0.5989" stop-color="#320a00"/><stop offset="0.8468" stop-color="#330200"/><stop offset="0.8691" stop-color="#360200"/><stop offset="0.876" stop-color="#390200"/><stop offset="0.8802" stop-color="#4a0300"/><stop offset="0.883" stop-color="#5d0300"/><stop offset="0.9262" stop-color="#610300"/><stop offset="0.968" stop-color="#570300"/><stop offset="0.9805" stop-color="#450300"/><stop offset="0.9847" stop-color="#3d0000"/><stop offset="0.9903" stop-color="#360000"/><stop offset="1" stop-color="#340000"/></linearGradient>
<linearGradient id="s139" gradientUnits="userSpaceOnUse" x1="0" y1="49" x2="0" y2="408"><stop offset="0" stop-color="#2b4100"/><stop offset="0.1978" stop-color="#2e2500"/><stop offset="0.3844" stop-color="#301300"/><stop offset="0.649" stop-color="#350600"/><stop offset="0.8719" stop-color="#370100"/><stop offset="0.8788" stop-color="#3a0100"/><stop offset="0.883" stop-color="#4c0300"/><stop offset="0.8858" stop-color="#600300"/><stop offset="0.9373" stop-color="#600300"/><stop offset="0.968" stop-color="#570300"/><stop offset="0.9805" stop-color="#450300"/><stop offset="0.9847" stop-color="#3d0000"/><stop offset="0.9903" stop-color="#360000"/><stop offset="1" stop-color="#340000"/></linearGradient>
<linearGradient id="s140" gradientUnits="userSpaceOnUse" x1="0" y1="49" x2="0" y2="408"><stop offset="0" stop-color="#285500"/><stop offset="0.1309" stop-color="#2b3b00"/><stop offset="0.2646" stop-color="#2e2600"/><stop offset="0.4485" stop-color="#301300"/><stop offset="0.649" stop-color="#340800"/><stop offset="0.8496" stop-color="#350200"/><stop offset="0.8719" stop-color="#370200"/><stop offset="0.8788" stop-color="#3a0100"/><stop offset="0.883" stop-color="#4c0300"/><stop offset="0.8858" stop-color="#600300"/><stop offset="0.9415" stop-color="#600300"/><stop offset="0.968" stop-color="#570300"/><stop offset="0.9805" stop-color="#450300"/><stop offset="0.9847" stop-color="#3d0000"/><stop offset="0.9903" stop-color="#360000"/><stop offset="1" stop-color="#340000"/></linearGradient>
<linearGradient id="s141" gradientUnits="userSpaceOnUse" x1="0" y1="49" x2="0" y2="408"><stop offset="0" stop-color="#2a4600"/><stop offset="0.1978" stop-color="#2e2800"/><stop offset="0.3844" stop-color="#301500"/><stop offset="0.5989" stop-color="#320800"/><stop offset="0.851" stop-color="#330200"/><stop offset="0.8733" stop-color="#360100"/><stop offset="0.8802" stop-color="#3b0100"/><stop offset="0.8844" stop-color="#4e0300"/><stop offset="0.8872" stop-color="#5f0300"/><stop offset="0.9471" stop-color="#5f0300"/><stop offset="0.968" stop-color="#570300"/><stop offset="0.9805" stop-color="#450300"/><stop offset="0.9847" stop-color="#3d0000"/><stop offset="0.9903" stop-color="#360000"/><stop offset="1" stop-color="#340000"/></linearGradient>
<linearGradient id="s142" gradientUnits="userSpaceOnUse" x1="0" y1="49" x2="0" y2="408"><stop offset="0" stop-color="#2c3900"/><stop offset="0.1978" stop-color="#2f2000"/><stop offset="0.4485" stop-color="#310d00"/><stop offset="0.7493" stop-color="#330400"/><stop offset="0.8524" stop-color="#330200"/><stop offset="0.8747" stop-color="#360100"/><stop offset="0.8816" stop-color="#390100"/><stop offset="0.8858" stop-color="#4a0300"/><stop offset="0.8886" stop-color="#5b0300"/><stop offset="0.9485" stop-color="#5f0300"/><stop offset="0.968" stop-color="#570300"/><stop offset="0.9805" stop-color="#450300"/><stop offset="0.9847" stop-color="#3d0000"/><stop offset="0.9903" stop-color="#360000"/><stop offset="1" stop-color="#340000"/></linearGradient>
<linearGradient id="s143" gradientUnits="userSpaceOnUse" x1="0" y1="49" x2="0" y2="408"><stop offset="0" stop-color="#285b00"/><stop offset="0.1309" stop-color="#2b3f00"/><stop offset="0.2646" stop-color="#2e2900"/><stop offset="0.4485" stop-color="#301400"/><stop offset="0.649" stop-color="#350800"/><stop offset="0.8747" stop-color="#370200"/><stop offset="0.8816" stop-color="#3a0100"/><stop offset="0.8858" stop-color="#490300"/><stop offset="0.8886" stop-color="#5a0300"/><stop offset="0.9387" stop-color="#5e0300"/><stop offset="0.968" stop-color="#570300"/><stop offset="0.9805" stop-color="#450300"/><stop offset="0.9847" stop-color="#3d0000"/><stop offset="0.9903" stop-color="#360000"/><stop offset="1" stop-color="#340000"/></linearGradient>
<linearGradient id="s144" gradientUnits="userSpaceOnUse" x1="0" y1="49" x2="0" y2="408"><stop offset="0" stop-color="#294a00"/><stop offset="0.1309" stop-color="#2c3400"/><stop offset="0.2646" stop-color="#2e2200"/><stop offset="0.4485" stop-color="#311100"/><stop offset="0.6992" stop-color="#330500"/><stop offset="0.8384" stop-color="#330200"/><stop offset="0.8593" stop-color="#360200"/><stop offset="0.8663" stop-color="#3b0200"/><stop offset="0.8733" stop-color="#5e0300"/><stop offset="0.9095" stop-color="#5e0300"/><stop offset="0.968" stop-color="#570300"/><stop offset="0.9805" stop-color="#450300"/><stop offset="0.9847" stop-color="#3d0000"/><stop offset="0.9903" stop-color="#360000"/><stop offset="1" stop-color="#340000"/></linearGradient>
<linearGradient id="s145" gradientUnits="userSpaceOnUse" x1="0" y1="49" x2="0" y2="408"><stop offset="0" stop-color="#2b3f00"/><stop offset="0.1309" stop-color="#2d2c00"/><stop offset="0.3315" stop-color="#301700"/><stop offset="0.5487" stop-color="#320a00"/><stop offset="0.8384" stop-color="#350200"/><stop offset="0.8538" stop-color="#370200"/><stop offset="0.8607" stop-color="#3a0200"/><stop offset="0.8649" stop-color="#490300"/><stop offset="0.8677" stop-color="#5a0300"/><stop offset="0.8997" stop-color="#5d0300"/><stop offset="0.9345" stop-color="#5b0300"/><stop offset="0.968" stop-color="#570300"/><stop offset="0.9805" stop-color="#450300"/><stop offset="0.9847" stop-color="#3d0000"/><stop offset="0.9903" stop-color="#360000"/><stop offset="1" stop-color="#340000"/></linearGradient>
<linearGradient id="s146" gradientUnits="userSpaceOnUse" x1="0" y1="49" x2="0" y2="408"><stop offset="0" stop-color="#2b3d00"/><stop offset="0.1309" stop-color="#2d2a00"/><stop offset="0.3315" stop-color="#301600"/><stop offset="0.5487" stop-color="#320900"/><stop offset="0.8384" stop-color="#340200"/><stop offset="0.8552" stop-color="#360200"/><stop offset="0.8621" stop-color="#3a0200"/><stop offset="0.8663" stop-color="#4c0300"/><stop offset="0.8691" stop-color="#470300"/><stop offset="0.8969" stop-color="#470300"/><stop offset="0.9331" stop-color="#5b0300"/><stop offset="0.968" stop-color="#570300"/><stop offset="0.9805" stop-color="#450300"/><stop offset="0.9847" stop-color="#3d0000"/><stop offset="0.9903" stop-color="#360000"/><stop offset="1" stop-color="#340000"/></linearGradient>
<linearGradient id="s147" gradientUnits="userSpaceOnUse" x1="0" y1="49" x2="0" y2="408"><stop offset="0" stop-color="#294d00"/><stop offset="0.1978" stop-color="#2d2b00"/><stop offset="0.4485" stop-color="#301100"/><stop offset="0.649" stop-color="#320700"/><stop offset="0.8384" stop-color="#330200"/><stop offset="0.8579" stop-color="#360200"/><stop offset="0.8649" stop-color="#3b0200"/><stop offset="0.8691" stop-color="#4b0300"/><stop offset="0.8719" stop-color="#470300"/><stop offset="0.8969" stop-color="#470300"/><stop offset="0.9331" stop-color="#5b0300"/><stop offset="0.968" stop-color="#570300"/><stop offset="0.9805" stop-color="#450300"/><stop offset="0.9847" stop-color="#3d0000"/><stop offset="0.9903" stop-color="#360000"/><stop offset="1" stop-color="#340000"/></linearGradient>
<linearGradient id="s148" gradientUnits="userSpaceOnUse" x1="0" y1="49" x2="0" y2="408"><stop offset="0" stop-color="#2b3f00"/><stop offset="0.1978" stop-color="#2e2400"/><stop offset="0.3844" stop-color="#301300"/><stop offset="0.649" stop-color="#330600"/><stop offset="0.8273" stop-color="#330200"/><stop offset="0.8496" stop-color="#360200"/><stop offset="0.8565" stop-color="#3a0200"/><stop offset="0.8607" stop-color="#4c0300"/><stop offset="0.8635" stop-color="#5d0300"/><stop offset="0.9248" stop-color="#5b0300"/><stop offset="0.968" stop-color="#570300"/><stop offset="0.9805" stop-color="#450300"/><stop offset="0.9847" stop-color="#3d0000"/><stop offset="0.9903" stop-color="#360000"/><stop offset="1" stop-color="#340000"/></linearGradient>
<linearGradient id="s149" gradientUnits="userSpaceOnUse" x1="0" y1="49" x2="0" y2="408"><stop offset="0" stop-color="#275a00"/><stop offset="0.1309" stop-color="#2b3e00"/><stop offset="0.3315" stop-color="#2f2000"/><stop offset="0.4986" stop-color="#311000"/><stop offset="0.649" stop-color="#360800"/><stop offset="0.8468" stop-color="#370200"/><stop offset="0.8538" stop-color="#3a0200"/><stop offset="0.8579" stop-color="#4a0300"/><stop offset="0.8607" stop-color="#5a0300"/><stop offset="0.8802" stop-color="#5c0300"/><stop offset="0.9248" stop-color="#5b0300"/><stop offset="0.968" stop-color="#570300"/><stop offset="0.9805" stop-color="#450300"/><stop offset="0.9847" stop-color="#3d0000"/><stop offset="0.9903" stop-color="#360000"/><stop offset="1" stop-color="#340000"/></linearGradient>
<linearGradient id="s150" gradientUnits="userSpaceOnUse" x1="0" y1="49" x2="0" y2="408"><stop offset="0" stop-color="#2b3b00"/><stop offset="0.1309" stop-color="#2d2900"/><stop offset="0.3315" stop-color="#301500"/><stop offset="0.5989" stop-color="#330700"/><stop offset="0.8259" stop-color="#340200"/><stop offset="0.8482" stop-color="#360200"/><stop offset="0.8552" stop-color="#390200"/><stop offset="0.8593" stop-color="#4a0300"/><stop offset="0.8621" stop-color="#5a0300"/><stop offset="0.8816" stop-color="#5c0300"/><stop offset="0.9248" stop-color="#5b0300"/><stop offset="0.968" stop-color="#570300"/><stop offset="0.9805" stop-color="#450300"/><stop offset="0.9847" stop-color="#3d0000"/><stop offset="0.9903" stop-color="#360000"/><stop offset="1" stop-color="#340000"/></linearGradient>
<linearGradient id="s151" gradientUnits="userSpaceOnUse" x1="0" y1="49" x2="0" y2="408"><stop offset="0" stop-color="#2a4400"/><stop offset="0.1309" stop-color="#2d2f00"/><stop offset="0.3315" stop-color="#301900"/><stop offset="0.5487" stop-color="#310a00"/><stop offset="0.8162" stop-color="#330300"/><stop offset="0.8384" stop-color="#360200"/><stop offset="0.8468" stop-color="#3c0200"/><stop offset="0.8524" stop-color="#580300"/><stop offset="0.8886" stop-color="#5c0300"/><stop offset="0.929" stop-color="#5b0300"/><stop offset="0.968" stop-color="#570300"/><stop offset="0.9805" stop-color="#450300"/><stop offset="0.9847" stop-color="#3d0000"/><stop offset="0.9903" stop-color="#360000"/><stop offset="1" stop-color="#340000"/></linearGradient>
<linearGradient id="s152" gradientUnits="userSpaceOnUse" x1="0" y1="49" x2="0" y2="408"><stop offset="0" stop-color="#294b00"/><stop offset="0.1309" stop-color="#2c3400"/><stop offset="0.2646" stop-color="#2e2200"/><stop offset="0.4485" stop-color="#301100"/><stop offset="0.6992" stop-color="#340500"/><stop offset="0.812" stop-color="#350300"/><stop offset="0.8384" stop-color="#380200"/><stop offset="0.8412" stop-color="#3a0200"/><stop offset="0.8454" stop-color="#490300"/><stop offset="0.8482" stop-color="#590300"/><stop offset="0.9318" stop-color="#5b0300"/><stop offset="0.968" stop-color="#570300"/><stop offset="0.9805" stop-color="#450300"/><stop offset="0.9847" stop-color="#3d0000"/><stop offset="0.9903" stop-color="#360000"/><stop offset="1" stop-color="#340000"/></linearGradient>
<linearGradient id="s153" gradientUnits="userSpaceOnUse" x1="0" y1="49" x2="0" y2="408"><stop offset="0" stop-color="#285100"/><stop offset="0.1309" stop-color="#2c3800"/><stop offset="0.3315" stop-color="#2f1d00"/><stop offset="0.4986" stop-color="#310f00"/><stop offset="0.6992" stop-color="#330600"/><stop offset="0.8162" stop-color="#330300"/><stop offset="0.8384" stop-color="#360300"/><stop offset="0.8454" stop-color="#3a0200"/><stop offset="0.8496" stop-color="#4c0300"/><stop offset="0.8524" stop-color="#5b0300"/><stop offset="0.9401" stop-color="#5b0300"/><stop offset="0.968" stop-color="#570300"/><stop offset="0.9805" stop-color="#450300"/><stop offset="0.9847" stop-color="#3d0000"/><stop offset="0.9903" stop-color="#360000"/><stop offset="1" stop-color="#340000"/></linearGradient>
<linearGradient id="s154" gradientUnits="userSpaceOnUse" x1="0" y1="49" x2="0" y2="408"><stop offset="0" stop-color="#2b3f00"/><stop offset="0.1978" stop-color="#2e2300"/><stop offset="0.4485" stop-color="#310e00"/><stop offset="0.6992" stop-color="#320500"/><stop offset="0.844" stop-color="#320200"/><stop offset="0.8663" stop-color="#360100"/><stop offset="0.8733" stop-color="#3c0100"/><stop offset="0.8802" stop-color="#5b0300"/><stop offset="0.961" stop-color="#5b0300"/><stop offset="0.968" stop-color="#570300"/><stop offset="0.9805" stop-color="#450300"/><stop offset="0.9847" stop-color="#3d0000"/><stop offset="0.9903" stop-color="#360000"/><stop offset="1" stop-color="#340000"/></linearGradient>
<linearGradient id="s155" gradientUnits="userSpaceOnUse" x1="0" y1="49" x2="0" y2="408"><stop offset="0" stop-color="#2b3f00"/><stop offset="0.1309" stop-color="#2d2c00"/><stop offset="0.3315" stop-color="#301700"/><stop offset="0.5487" stop-color="#320a00"/><stop offset="0.8552" stop-color="#330200"/><stop offset="0.8774" stop-color="#360100"/><stop offset="0.8844" stop-color="#3a0100"/><stop offset="0.8886" stop-color="#4c0300"/><stop offset="0.8914" stop-color="#5b0300"/><stop offset="0.9666" stop-color="#5b0300"/><stop offset="0.968" stop-color="#570300"/><stop offset="0.9805" stop-color="#450300"/><stop offset="0.9847" stop-color="#3d0000"/><stop offset="0.9903" stop-color="#360000"/><stop offset="1" stop-color="#340000"/></linearGradient>
<linearGradient id="s156" gradientUnits="userSpaceOnUse" x1="0" y1="49" x2="0" y2="408"><stop offset="0" stop-color="#294a00"/><stop offset="0.1309" stop-color="#2c3300"/><stop offset="0.3315" stop-color="#2f1a00"/><stop offset="0.5487" stop-color="#320b00"/><stop offset="0.7493" stop-color="#340400"/><stop offset="0.8384" stop-color="#350200"/><stop offset="0.8538" stop-color="#370200"/><stop offset="0.8607" stop-color="#3c0200"/><stop offset="0.8649" stop-color="#4b0300"/><stop offset="0.8677" stop-color="#470300"/><stop offset="0.9262" stop-color="#470300"/><stop offset="0.9471" stop-color="#5b0300"/><stop offset="0.968" stop-color="#570300"/><stop offset="0.9805" stop-color="#450300"/><stop offset="0.9847" stop-color="#3d0000"/><stop offset="0.9903" stop-color="#360000"/><stop offset="1" stop-color="#340000"/></linearGradient>
<linearGradient id="s157" gradientUnits="userSpaceOnUse" x1="0" y1="49" x2="0" y2="408"><stop offset="0" stop-color="#285000"/><stop offset="0.1309" stop-color="#2c3700"/><stop offset="0.2646" stop-color="#2e2400"/><stop offset="0.4485" stop-color="#301200"/><stop offset="0.649" stop-color="#320700"/><stop offset="0.8468" stop-color="#330200"/><stop offset="0.8747" stop-color="#390100"/><stop offset="0.8886" stop-color="#3f0100"/><stop offset="0.9025" stop-color="#3f0300"/><stop offset="0.922" stop-color="#470300"/><stop offset="0.9499" stop-color="#470300"/><stop offset="0.968" stop-color="#450300"/><stop offset="0.9749" stop-color="#470300"/><stop offset="0.9805" stop-color="#420300"/><stop offset="0.9847" stop-color="#3c0000"/><stop offset="0.9903" stop-color="#360000"/><stop offset="1" stop-color="#340000"/></linearGradient>
<linearGradient id="s158" gradientUnits="userSpaceOnUse" x1="0" y1="49" x2="0" y2="408"><stop offset="0" stop-color="#294d00"/><stop offset="0.1309" stop-color="#2c3600"/><stop offset="0.2646" stop-color="#2e2300"/><stop offset="0.4986" stop-color="#310e00"/><stop offset="0.6992" stop-color="#320600"/><stop offset="0.8454" stop-color="#320200"/><stop offset="0.8733" stop-color="#380100"/><stop offset="0.8872" stop-color="#3f0100"/><stop offset="0.9011" stop-color="#3f0300"/><stop offset="0.922" stop-color="#470300"/><stop offset="0.9499" stop-color="#470300"/><stop offset="0.968" stop-color="#450300"/><stop offset="0.9749" stop-color="#470300"/><stop offset="0.9805" stop-color="#420300"/><stop offset="0.9847" stop-color="#3c0000"/><stop offset="0.9903" stop-color="#360000"/><stop offset="1" stop-color="#340000"/></linearGradient>
<linearGradient id="s159" gradientUnits="userSpaceOnUse" x1="0" y1="49" x2="0" y2="408"><stop offset="0" stop-color="#045900"/><stop offset="0.1309" stop-color="#123e00"/><stop offset="0.2646" stop-color="#1d2800"/><stop offset="0.4485" stop-color="#281400"/><stop offset="0.5989" stop-color="#300a00"/><stop offset="0.7994" stop-color="#330400"/><stop offset="0.844" stop-color="#330300"/><stop offset="0.8719" stop-color="#390200"/><stop offset="0.8858" stop-color="#3f0100"/><stop offset="0.8997" stop-color="#410300"/><stop offset="0.922" stop-color="#4a0300"/><stop offset="0.9499" stop-color="#4a0300"/><stop offset="0.968" stop-color="#480300"/><stop offset="0.9749" stop-color="#4a0300"/><stop offset="0.9805" stop-color="#420300"/><stop offset="0.9847" stop-color="#3c0000"/><stop offset="0.9903" stop-color="#360000"/><stop offset="1" stop-color="#340000"/></linearGradient>
<linearGradient id="s160" gradientUnits="userSpaceOnUse" x1="0" y1="49" x2="0" y2="408"><stop offset="0" stop-color="#2a4000"/><stop offset="0.1978" stop-color="#2e2400"/><stop offset="0.3844" stop-color="#301300"/><stop offset="0.649" stop-color="#330600"/><stop offset="0.8426" stop-color="#340200"/><stop offset="0.8705" stop-color="#390100"/><stop offset="0.8844" stop-color="#3f0100"/><stop offset="0.8983" stop-color="#4c0300"/><stop offset="0.922" stop-color="#5a0300"/><stop offset="0.9499" stop-color="#5b0300"/><stop offset="0.968" stop-color="#570300"/><stop offset="0.9805" stop-color="#420300"/><stop offset="0.9847" stop-color="#3c0000"/><stop offset="0.9903" stop-color="#360000"/><stop offset="1" stop-color="#340000"/></linearGradient>
<linearGradient id="s161" gradientUnits="userSpaceOnUse" x1="0" y1="49" x2="0" y2="408"><stop offset="0" stop-color="#005300"/><stop offset="0.0306" stop-color="#024c00"/><stop offset="0.1309" stop-color="#0e3900"/><stop offset="0.2646" stop-color="#1b2500"/><stop offset="0.4485" stop-color="#271300"/><stop offset="0.649" stop-color="#300800"/><stop offset="0.8412" stop-color="#320300"/><stop offset="0.8691" stop-color="#380200"/><stop offset="0.883" stop-color="#3f0100"/><stop offset="0.8969" stop-color="#4c0300"/><stop offset="0.922" stop-color="#5a0300"/><stop offset="0.9499" stop-color="#5b0300"/><stop offset="0.968" stop-color="#570300"/><stop offset="0.9805" stop-color="#420300"/><stop offset="0.9847" stop-color="#3c0000"/><stop offset="0.9903" stop-color="#360000"/><stop offset="1" stop-color="#340000"/></linearGradient>
<linearGradient id="s162" gradientUnits="userSpaceOnUse" x1="0" y1="49" x2="0" y2="408"><stop offset="0" stop-color="#0e5500"/><stop offset="0.1309" stop-color="#193b00"/><stop offset="0.3315" stop-color="#251e00"/><stop offset="0.5487" stop-color="#2f0c00"/><stop offset="0.7493" stop-color="#330500"/><stop offset="0.8398" stop-color="#340300"/><stop offset="0.8677" stop-color="#380200"/><stop offset="0.8816" stop-color="#3f0100"/><stop offset="0.8955" stop-color="#4b0300"/><stop offset="0.922" stop-color="#5a0300"/><stop offset="0.9499" stop-color="#5b0300"/><stop offset="0.968" stop-color="#570300"/><stop offset="0.9805" stop-color="#420300"/><stop offset="0.9847" stop-color="#3c0000"/><stop offset="0.9903" stop-color="#360000"/><stop offset="1" stop-color="#340000"/></linearGradient>
<linearGradient id="s163" gradientUnits="userSpaceOnUse" x1="0" y1="49" x2="0" y2="408"><stop offset="0" stop-color="#285100"/><stop offset="0.1978" stop-color="#2d2d00"/><stop offset="0.3844" stop-color="#301800"/><stop offset="0.5487" stop-color="#310c00"/><stop offset="0.7493" stop-color="#320500"/><stop offset="0.8384" stop-color="#320300"/><stop offset="0.8663" stop-color="#380200"/><stop offset="0.8802" stop-color="#3f0100"/><stop offset="0.8942" stop-color="#4b0300"/><stop offset="0.922" stop-color="#5a0300"/><stop offset="0.9499" stop-color="#5b0300"/><stop offset="0.968" stop-color="#570300"/><stop offset="0.9805" stop-color="#420300"/><stop offset="0.9847" stop-color="#3c0000"/><stop offset="0.9903" stop-color="#360000"/><stop offset="1" stop-color="#340000"/></linearGradient>
<linearGradient id="s164" gradientUnits="userSpaceOnUse" x1="0" y1="49" x2="0" y2="408"><stop offset="0" stop-color="#284f00"/><stop offset="0.1309" stop-color="#2b3700"/><stop offset="0.2646" stop-color="#2e2400"/><stop offset="0.4485" stop-color="#301200"/><stop offset="0.649" stop-color="#330700"/><stop offset="0.8384" stop-color="#330300"/><stop offset="0.8663" stop-color="#390200"/><stop offset="0.8802" stop-color="#400300"/><stop offset="0.8942" stop-color="#4c0300"/><stop offset="0.922" stop-color="#5a0300"/><stop offset="0.9499" stop-color="#5b0300"/><stop offset="0.968" stop-color="#570300"/><stop offset="0.9805" stop-color="#420300"/><stop offset="0.9847" stop-color="#3c0000"/><stop offset="0.9903" stop-color="#360000"/><stop offset="1" stop-color="#340000"/></linearGradient>
<linearGradient id="s165" gradientUnits="userSpaceOnUse" x1="0" y1="49" x2="0" y2="408"><stop offset="0" stop-color="#2b3700"/><stop offset="0.1978" stop-color="#2f1f00"/><stop offset="0.3844" stop-color="#301000"/><stop offset="0.649" stop-color="#330500"/><stop offset="0.8384" stop-color="#330200"/><stop offset="0.8649" stop-color="#390100"/><stop offset="0.8788" stop-color="#400300"/><stop offset="0.8928" stop-color="#4a0300"/><stop offset="0.922" stop-color="#570300"/><stop offset="0.9499" stop-color="#580300"/><stop offset="0.968" stop-color="#540300"/><stop offset="0.9749" stop-color="#4c0300"/><stop offset="0.9805" stop-color="#420300"/><stop offset="0.9847" stop-color="#3c0000"/><stop offset="0.9903" stop-color="#360000"/><stop offset="1" stop-color="#340000"/></linearGradient>
<linearGradient id="s166" gradientUnits="userSpaceOnUse" x1="0" y1="49" x2="0" y2="408"><stop offset="0" stop-color="#294c00"/><stop offset="0.1309" stop-color="#2c3400"/><stop offset="0.3315" stop-color="#2f1b00"/><stop offset="0.5487" stop-color="#310b00"/><stop offset="0.8384" stop-color="#330200"/><stop offset="0.8635" stop-color="#390200"/><stop offset="0.8774" stop-color="#3f0100"/><stop offset="0.8914" stop-color="#3f0300"/><stop offset="0.922" stop-color="#470300"/><stop offset="0.9499" stop-color="#470300"/><stop offset="0.968" stop-color="#450300"/><stop offset="0.9749" stop-color="#470300"/><stop offset="0.9805" stop-color="#420300"/><stop offset="0.9847" stop-color="#3c0000"/><stop offset="0.9903" stop-color="#360000"/><stop offset="1" stop-color="#340000"/></linearGradient>
<linearGradient id="s167" gradientUnits="userSpaceOnUse" x1="0" y1="49" x2="0" y2="408"><stop offset="0" stop-color="#024c00"/><stop offset="0.1309" stop-color="#113500"/><stop offset="0.2646" stop-color="#1d2300"/><stop offset="0.4485" stop-color="#281100"/><stop offset="0.649" stop-color="#300700"/><stop offset="0.8384" stop-color="#330200"/><stop offset="0.8621" stop-color="#390200"/><stop offset="0.876" stop-color="#3f0100"/><stop offset="0.89" stop-color="#3f0300"/><stop offset="0.922" stop-color="#470300"/><stop offset="0.9499" stop-color="#470300"/><stop offset="0.968" stop-color="#450300"/><stop offset="0.9749" stop-color="#470300"/><stop offset="0.9805" stop-color="#420300"/><stop offset="0.9847" stop-color="#3c0000"/><stop offset="0.9903" stop-color="#360000"/><stop offset="1" stop-color="#340000"/></linearGradient>
<linearGradient id="s168" gradientUnits="userSpaceOnUse" x1="0" y1="49" x2="0" y2="408"><stop offset="0" stop-color="#294c00"/><stop offset="0.1309" stop-color="#2c3400"/><stop offset="0.3315" stop-color="#2f1b00"/><stop offset="0.5487" stop-color="#310b00"/><stop offset="0.8384" stop-color="#330200"/><stop offset="0.8607" stop-color="#380200"/><stop offset="0.8747" stop-color="#3f0100"/><stop offset="0.8886" stop-color="#3f0300"/><stop offset="0.922" stop-color="#470300"/><stop offset="0.9499" stop-color="#470300"/><stop offset="0.968" stop-color="#450300"/><stop offset="0.9749" stop-color="#470300"/><stop offset="0.9805" stop-color="#420300"/><stop offset="0.9847" stop-color="#3c0000"/><stop offset="0.9903" stop-color="#360000"/><stop offset="1" stop-color="#340000"/></linearGradient>
<linearGradient id="s169" gradientUnits="userSpaceOnUse" x1="0" y1="49" x2="0" y2="408"><stop offset="0" stop-color="#275700"/><stop offset="0.1309" stop-color="#2b3c00"/><stop offset="0.2646" stop-color="#2d2700"/><stop offset="0.3844" stop-color="#2f1900"/><stop offset="0.5989" stop-color="#320a00"/><stop offset="0.8315" stop-color="#330300"/><stop offset="0.8593" stop-color="#380200"/><stop offset="0.8733" stop-color="#3f0200"/><stop offset="0.8872" stop-color="#3f0100"/><stop offset="0.922" stop-color="#470300"/><stop offset="0.9499" stop-color="#470300"/><stop offset="0.968" stop-color="#450300"/><stop offset="0.9749" stop-color="#470300"/><stop offset="0.9805" stop-color="#420300"/><stop offset="0.9847" stop-color="#3c0000"/><stop offset="0.9903" stop-color="#360000"/><stop offset="1" stop-color="#340000"/></linearGradient>
<linearGradient id="s170" gradientUnits="userSpaceOnUse" x1="0" y1="49" x2="0" y2="408"><stop offset="0" stop-color="#284d00"/><stop offset="0.1309" stop-color="#2c3500"/><stop offset="0.3315" stop-color="#2f1b00"/><stop offset="0.4986" stop-color="#310e00"/><stop offset="0.6992" stop-color="#350600"/><stop offset="0.8384" stop-color="#360200"/><stop offset="0.8579" stop-color="#390200"/><stop offset="0.8719" stop-color="#3f0200"/><stop offset="0.8858" stop-color="#410300"/><stop offset="0.922" stop-color="#4a0300"/><stop offset="0.9499" stop-color="#4a0300"/><stop offset="0.968" stop-color="#480300"/><stop offset="0.9749" stop-color="#4a0300"/><stop offset="0.9805" stop-color="#420300"/><stop offset="0.9847" stop-color="#3c0000"/><stop offset="0.9903" stop-color="#360000"/><stop offset="1" stop-color="#340000"/></linearGradient>
<linearGradient id="s171" gradientUnits="userSpaceOnUse" x1="0" y1="49" x2="0" y2="408"><stop offset="0" stop-color="#294900"/><stop offset="0.1309" stop-color="#2c3300"/><stop offset="0.3315" stop-color="#2f1a00"/><stop offset="0.5487" stop-color="#310b00"/><stop offset="0.8301" stop-color="#310300"/><stop offset="0.8579" stop-color="#380200"/><stop offset="0.8719" stop-color="#3f0300"/><stop offset="0.8858" stop-color="#4c0300"/><stop offset="0.922" stop-color="#5a0300"/><stop offset="0.9499" stop-color="#5b0300"/><stop offset="0.968" stop-color="#570300"/><stop offset="0.9805" stop-color="#420300"/><stop offset="0.9847" stop-color="#3c0000"/><stop offset="0.9903" stop-color="#360000"/><stop offset="1" stop-color="#340000"/></linearGradient>
<linearGradient id="s172" gradientUnits="userSpaceOnUse" x1="0" y1="49" x2="0" y2="408"><stop offset="0" stop-color="#2a3d00"/><stop offset="0.1978" stop-color="#2e2300"/><stop offset="0.3844" stop-color="#301200"/><stop offset="0.5989" stop-color="#320800"/><stop offset="0.8384" stop-color="#340200"/><stop offset="0.8579" stop-color="#390200"/><stop offset="0.8719" stop-color="#400300"/><stop offset="0.8858" stop-color="#4c0300"/><stop offset="0.922" stop-color="#5a0300"/><stop offset="0.9499" stop-color="#5b0300"/><stop offset="0.968" stop-color="#570300"/><stop offset="0.9805" stop-color="#420300"/><stop offset="0.9847" stop-color="#3c0000"/><stop offset="0.9903" stop-color="#360000"/><stop offset="1" stop-color="#340000"/></linearGradient>
<linearGradient id="s173" gradientUnits="userSpaceOnUse" x1="0" y1="49" x2="0" y2="408"><stop offset="0" stop-color="#094100"/><stop offset="0.1978" stop-color="#1b2500"/><stop offset="0.3844" stop-color="#261300"/><stop offset="0.4986" stop-color="#2b0c00"/><stop offset="0.5989" stop-color="#310800"/><stop offset="0.6992" stop-color="#350500"/><stop offset="0.8384" stop-color="#360200"/><stop offset="0.8565" stop-color="#390200"/><stop offset="0.8705" stop-color="#3f0100"/><stop offset="0.8844" stop-color="#4b0300"/><stop offset="0.922" stop-color="#5a0300"/><stop offset="0.9499" stop-color="#5b0300"/><stop offset="0.968" stop-color="#570300"/><stop offset="0.9805" stop-color="#420300"/><stop offset="0.9847" stop-color="#3c0000"/><stop offset="0.9903" stop-color="#360000"/><stop offset="1" stop-color="#340000"/></linearGradient>
<linearGradient id="s174" gradientUnits="userSpaceOnUse" x1="0" y1="49" x2="0" y2="408"><stop offset="0" stop-color="#2a3d00"/><stop offset="0.1309" stop-color="#2d2a00"/><stop offset="0.3844" stop-color="#301200"/><stop offset="0.5989" stop-color="#330800"/><stop offset="0.8287" stop-color="#340200"/><stop offset="0.8565" stop-color="#380200"/><stop offset="0.8705" stop-color="#3f0100"/><stop offset="0.8844" stop-color="#4c0300"/><stop offset="0.922" stop-color="#5a0300"/><stop offset="0.9499" stop-color="#5b0300"/><stop offset="0.968" stop-color="#570300"/><stop offset="0.9805" stop-color="#420300"/><stop offset="0.9847" stop-color="#3c0000"/><stop offset="0.9903" stop-color="#360000"/><stop offset="1" stop-color="#340000"/></linearGradient>
<linearGradient id="s175" gradientUnits="userSpaceOnUse" x1="0" y1="49" x2="0" y2="408"><stop offset="0" stop-color="#275400"/><stop offset="0.1309" stop-color="#2b3a00"/><stop offset="0.2646" stop-color="#2e2600"/><stop offset="0.4986" stop-color="#310f00"/><stop offset="0.7493" stop-color="#320500"/><stop offset="0.8384" stop-color="#340300"/><stop offset="0.8565" stop-color="#380200"/><stop offset="0.8705" stop-color="#3f0200"/><stop offset="0.8844" stop-color="#4c0300"/><stop offset="0.922" stop-color="#5a0300"/><stop offset="0.9499" stop-color="#5b0300"/><stop offset="0.968" stop-color="#570300"/><stop offset="0.9805" stop-color="#420300"/><stop offset="0.9847" stop-color="#3c0000"/><stop offset="0.9903" stop-color="#360000"/><stop offset="1" stop-color="#340000"/></linearGradient>
<linearGradient id="s176" gradientUnits="userSpaceOnUse" x1="0" y1="49" x2="0" y2="408"><stop offset="0" stop-color="#075400"/><stop offset="0.1309" stop-color="#153a00"/><stop offset="0.2646" stop-color="#1f2600"/><stop offset="0.4485" stop-color="#291300"/><stop offset="0.649" stop-color="#330800"/><stop offset="0.8384" stop-color="#360300"/><stop offset="0.8565" stop-color="#390200"/><stop offset="0.8705" stop-color="#3f0300"/><stop offset="0.8844" stop-color="#4c0300"/><stop offset="0.922" stop-color="#5a0300"/><stop offset="0.9499" stop-color="#5b0300"/><stop offset="0.968" stop-color="#570300"/><stop offset="0.9805" stop-color="#420300"/><stop offset="0.9847" stop-color="#3c0000"/><stop offset="0.9903" stop-color="#360000"/><stop offset="1" stop-color="#340000"/></linearGradient>
<linearGradient id="s177" gradientUnits="userSpaceOnUse" x1="0" y1="49" x2="0" y2="408"><stop offset="0" stop-color="#024700"/><stop offset="0.1309" stop-color="#113100"/><stop offset="0.3315" stop-color="#211900"/><stop offset="0.5487" stop-color="#2c0b00"/><stop offset="0.649" stop-color="#300700"/><stop offset="0.8287" stop-color="#320300"/><stop offset="0.8565" stop-color="#390200"/><stop offset="0.8705" stop-color="#400300"/><stop offset="0.8844" stop-color="#4c0300"/><stop offset="0.922" stop-color="#5a0300"/><stop offset="0.9499" stop-color="#5b0300"/><stop offset="0.968" stop-color="#570300"/><stop offset="0.9805" stop-color="#420300"/><stop offset="0.9847" stop-color="#3c0000"/><stop offset="0.9903" stop-color="#360000"/><stop offset="1" stop-color="#340000"/></linearGradient>
<linearGradient id="s178" gradientUnits="userSpaceOnUse" x1="0" y1="49" x2="0" y2="408"><stop offset="0" stop-color="#2a3400"/><stop offset="0.1978" stop-color="#2e1e00"/><stop offset="0.4485" stop-color="#310c00"/><stop offset="0.6992" stop-color="#330400"/><stop offset="0.8273" stop-color="#330200"/><stop offset="0.8552" stop-color="#380200"/><stop offset="0.8691" stop-color="#3f0100"/><stop offset="0.883" stop-color="#4b0300"/><stop offset="0.922" stop-color="#5a0300"/><stop offset="0.9499" stop-color="#5b0300"/><stop offset="0.968" stop-color="#570300"/><stop offset="0.9805" stop-color="#420300"/><stop offset="0.9847" stop-color="#3c0000"/><stop offset="0.9903" stop-color="#360000"/><stop offset="1" stop-color="#340000"/></linearGradient>
<linearGradient id="s179" gradientUnits="userSpaceOnUse" x1="0" y1="49" x2="0" y2="408"><stop offset="0" stop-color="#293800"/><stop offset="0.1978" stop-color="#2d2000"/><stop offset="0.3844" stop-color="#301100"/><stop offset="0.649" stop-color="#320600"/><stop offset="0.8273" stop-color="#330200"/><stop offset="0.8552" stop-color="#380200"/><stop offset="0.8691" stop-color="#3f0100"/><stop offset="0.883" stop-color="#4a0300"/><stop offset="0.922" stop-color="#560300"/><stop offset="0.9499" stop-color="#570300"/><stop offset="0.968" stop-color="#530300"/><stop offset="0.9749" stop-color="#4c0300"/><stop offset="0.9805" stop-color="#420300"/><stop offset="0.9847" stop-color="#3c0000"/><stop offset="0.9903" stop-color="#360000"/><stop offset="1" stop-color="#340000"/></linearGradient>
<linearGradient id="s180" gradientUnits="userSpaceOnUse" x1="0" y1="49" x2="0" y2="408"><stop offset="0" stop-color="#124500"/><stop offset="0.0975" stop-color="#1a3500"/><stop offset="0.2646" stop-color="#241f00"/><stop offset="0.4485" stop-color="#2b1000"/><stop offset="0.649" stop-color="#330700"/><stop offset="0.8384" stop-color="#360200"/><stop offset="0.8552" stop-color="#390200"/><stop offset="0.8691" stop-color="#3f0200"/><stop offset="0.9499" stop-color="#410300"/><stop offset="0.968" stop-color="#3f0300"/><stop offset="0.9805" stop-color="#420300"/><stop offset="0.9847" stop-color="#3c0000"/><stop offset="0.9903" stop-color="#360000"/><stop offset="1" stop-color="#340000"/></linearGradient>
<linearGradient id="s181" gradientUnits="userSpaceOnUse" x1="0" y1="49" x2="0" y2="408"><stop offset="0" stop-color="#134100"/><stop offset="0.1309" stop-color="#1d2e00"/><stop offset="0.2646" stop-color="#241e00"/><stop offset="0.4986" stop-color="#2d0c00"/><stop offset="0.6992" stop-color="#330500"/><stop offset="0.8384" stop-color="#350200"/><stop offset="0.8552" stop-color="#390200"/><stop offset="0.8691" stop-color="#3f0200"/><stop offset="0.9499" stop-color="#410300"/><stop offset="0.968" stop-color="#3f0300"/><stop offset="0.9805" stop-color="#420300"/><stop offset="0.9847" stop-color="#3c0000"/><stop offset="0.9903" stop-color="#360000"/><stop offset="1" stop-color="#340000"/></linearGradient>
<linearGradient id="s182" gradientUnits="userSpaceOnUse" x1="0" y1="49" x2="0" y2="408"><stop offset="0" stop-color="#153c00"/><stop offset="0.1309" stop-color="#1e2a00"/><stop offset="0.2646" stop-color="#251b00"/><stop offset="0.5487" stop-color="#2f0900"/><stop offset="0.7493" stop-color="#330400"/><stop offset="0.8273" stop-color="#330200"/><stop offset="0.8552" stop-color="#390200"/><stop offset="0.8691" stop-color="#3f0100"/><stop offset="0.922" stop-color="#410300"/><stop offset="0.9499" stop-color="#410300"/><stop offset="0.968" stop-color="#3f0300"/><stop offset="0.9805" stop-color="#420300"/><stop offset="0.9847" stop-color="#3c0000"/><stop offset="0.9903" stop-color="#360000"/><stop offset="1" stop-color="#340000"/></linearGradient>
<linearGradient id="s183" gradientUnits="userSpaceOnUse" x1="0" y1="49" x2="0" y2="408"><stop offset="0" stop-color="#273900"/><stop offset="0.1978" stop-color="#2c2000"/><stop offset="0.4485" stop-color="#300d00"/><stop offset="0.7493" stop-color="#340400"/><stop offset="0.8259" stop-color="#340200"/><stop offset="0.8538" stop-color="#390200"/><stop offset="0.8677" stop-color="#3f0100"/><stop offset="0.9499" stop-color="#410300"/><stop offset="0.968" stop-color="#3f0300"/><stop offset="0.9805" stop-color="#420300"/><stop offset="0.9847" stop-color="#3c0000"/><stop offset="0.9903" stop-color="#360000"/><stop offset="1" stop-color="#340000"/></linearGradient>
<linearGradient id="s184" gradientUnits="userSpaceOnUse" x1="0" y1="49" x2="0" y2="408"><stop offset="0" stop-color="#263800"/><stop offset="0.1978" stop-color="#2c2000"/><stop offset="0.4485" stop-color="#300d00"/><stop offset="0.7493" stop-color="#360400"/><stop offset="0.8384" stop-color="#370200"/><stop offset="0.8538" stop-color="#390200"/><stop offset="0.8677" stop-color="#3f0100"/><stop offset="0.8816" stop-color="#4a0300"/><stop offset="0.922" stop-color="#560300"/><stop offset="0.9499" stop-color="#570300"/><stop offset="0.968" stop-color="#530300"/><stop offset="0.9749" stop-color="#4c0300"/><stop offset="0.9805" stop-color="#420300"/><stop offset="0.9847" stop-color="#3c0000"/><stop offset="0.9903" stop-color="#360000"/><stop offset="1" stop-color="#340000"/></linearGradient>
<linearGradient id="s185" gradientUnits="userSpaceOnUse" x1="0" y1="49" x2="0" y2="408"><stop offset="0" stop-color="#273400"/><stop offset="0.1978" stop-color="#2c1e00"/><stop offset="0.4485" stop-color="#300c00"/><stop offset="0.6992" stop-color="#330400"/><stop offset="0.8259" stop-color="#330200"/><stop offset="0.8538" stop-color="#390200"/><stop offset="0.8677" stop-color="#3f0100"/><stop offset="0.8816" stop-color="#4c0300"/><stop offset="0.922" stop-color="#5a0300"/><stop offset="0.9499" stop-color="#5b0300"/><stop offset="0.968" stop-color="#570300"/><stop offset="0.9805" stop-color="#420300"/><stop offset="0.9847" stop-color="#3c0000"/><stop offset="0.9903" stop-color="#360000"/><stop offset="1" stop-color="#340000"/></linearGradient>
<linearGradient id="s186" gradientUnits="userSpaceOnUse" x1="0" y1="49" x2="0" y2="408"><stop offset="0" stop-color="#253a00"/><stop offset="0.1309" stop-color="#292800"/><stop offset="0.3315" stop-color="#2d1500"/><stop offset="0.5487" stop-color="#320900"/><stop offset="0.649" stop-color="#360600"/><stop offset="0.8384" stop-color="#370200"/><stop offset="0.8538" stop-color="#390200"/><stop offset="0.8677" stop-color="#3f0300"/><stop offset="0.8816" stop-color="#4c0300"/><stop offset="0.922" stop-color="#5a0300"/><stop offset="0.9499" stop-color="#5b0300"/><stop offset="0.968" stop-color="#570300"/><stop offset="0.9805" stop-color="#420300"/><stop offset="0.9847" stop-color="#3c0000"/><stop offset="0.9903" stop-color="#360000"/><stop offset="1" stop-color="#340000"/></linearGradient>
<linearGradient id="s187" gradientUnits="userSpaceOnUse" x1="0" y1="49" x2="0" y2="408"><stop offset="0" stop-color="#204a00"/><stop offset="0.1309" stop-color="#263400"/><stop offset="0.2646" stop-color="#2a2200"/><stop offset="0.4485" stop-color="#2e1100"/><stop offset="0.649" stop-color="#320700"/><stop offset="0.8259" stop-color="#330300"/><stop offset="0.8538" stop-color="#390200"/><stop offset="0.8677" stop-color="#400300"/><stop offset="0.8816" stop-color="#4c0300"/><stop offset="0.922" stop-color="#5a0300"/><stop offset="0.9499" stop-color="#5b0300"/><stop offset="0.968" stop-color="#570300"/><stop offset="0.9805" stop-color="#420300"/><stop offset="0.9847" stop-color="#3c0000"/><stop offset="0.9903" stop-color="#360000"/><stop offset="1" stop-color="#340000"/></linearGradient>
<linearGradient id="s188" gradientUnits="userSpaceOnUse" x1="0" y1="49" x2="0" y2="408"><stop offset="0" stop-color="#263000"/><stop offset="0.1978" stop-color="#2b1b00"/><stop offset="0.4986" stop-color="#300a00"/><stop offset="0.7493" stop-color="#340300"/><stop offset="0.8245" stop-color="#340200"/><stop offset="0.8524" stop-color="#380200"/><stop offset="0.8663" stop-color="#3f0100"/><stop offset="0.8802" stop-color="#4b0300"/><stop offset="0.922" stop-color="#5a0300"/><stop offset="0.9499" stop-color="#5b0300"/><stop offset="0.968" stop-color="#570300"/><stop offset="0.9805" stop-color="#420300"/><stop offset="0.9847" stop-color="#3c0000"/><stop offset="0.9903" stop-color="#360000"/><stop offset="1" stop-color="#340000"/></linearGradient>
<linearGradient id="s189" gradientUnits="userSpaceOnUse" x1="0" y1="49" x2="0" y2="408"><stop offset="0" stop-color="#1f4800"/><stop offset="0.1309" stop-color="#253200"/><stop offset="0.3315" stop-color="#2c1a00"/><stop offset="0.5487" stop-color="#300b00"/><stop offset="0.7493" stop-color="#330500"/><stop offset="0.8245" stop-color="#330300"/><stop offset="0.8524" stop-color="#380200"/><stop offset="0.8663" stop-color="#3f0200"/><stop offset="0.8802" stop-color="#4c0300"/><stop offset="0.922" stop-color="#5a0300"/><stop offset="0.9499" stop-color="#5b0300"/><stop offset="0.968" stop-color="#570300"/><stop offset="0.9805" stop-color="#420300"/><stop offset="0.9847" stop-color="#3c0000"/><stop offset="0.9903" stop-color="#360000"/><stop offset="1" stop-color="#340000"/></linearGradient>
<linearGradient id="s190" gradientUnits="userSpaceOnUse" x1="0" y1="49" x2="0" y2="408"><stop offset="0" stop-color="#113a00"/><stop offset="0.0975" stop-color="#192c00"/><stop offset="0.2646" stop-color="#231b00"/><stop offset="0.4485" stop-color="#2b0e00"/><stop offset="0.649" stop-color="#330600"/><stop offset="0.8245" stop-color="#340300"/><stop offset="0.8524" stop-color="#390200"/><stop offset="0.8663" stop-color="#3f0200"/><stop offset="0.8802" stop-color="#4c0300"/><stop offset="0.922" stop-color="#5a0300"/><stop offset="0.9499" stop-color="#5b0300"/><stop offset="0.968" stop-color="#570300"/><stop offset="0.9805" stop-color="#420300"/><stop offset="0.9847" stop-color="#3c0000"/><stop offset="0.9903" stop-color="#360000"/><stop offset="1" stop-color="#340000"/></linearGradient>
<linearGradient id="s191" gradientUnits="userSpaceOnUse" x1="0" y1="49" x2="0" y2="408"><stop offset="0" stop-color="#0b4400"/><stop offset="0.1309" stop-color="#172f00"/><stop offset="0.3315" stop-color="#241900"/><stop offset="0.4986" stop-color="#2b0d00"/><stop offset="0.649" stop-color="#310700"/><stop offset="0.8245" stop-color="#330300"/><stop offset="0.8524" stop-color="#380200"/><stop offset="0.8663" stop-color="#3f0200"/><stop offset="0.8802" stop-color="#4c0300"/><stop offset="0.922" stop-color="#5a0300"/><stop offset="0.9499" stop-color="#5b0300"/><stop offset="0.968" stop-color="#570300"/><stop offset="0.9805" stop-color="#420300"/><stop offset="0.9847" stop-color="#3c0000"/><stop offset="0.9903" stop-color="#360000"/><stop offset="1" stop-color="#340000"/></linearGradient>
<linearGradient id="s192" gradientUnits="userSpaceOnUse" x1="0" y1="49" x2="0" y2="408"><stop offset="0" stop-color="#213800"/><stop offset="0.1978" stop-color="#282000"/><stop offset="0.3844" stop-color="#2d1100"/><stop offset="0.649" stop-color="#330600"/><stop offset="0.8245" stop-color="#340300"/><stop offset="0.8524" stop-color="#390200"/><stop offset="0.8663" stop-color="#3f0200"/><stop offset="0.8802" stop-color="#4b0300"/><stop offset="0.922" stop-color="#5a0300"/><stop offset="0.9499" stop-color="#5b0300"/><stop offset="0.968" stop-color="#570300"/><stop offset="0.9805" stop-color="#420300"/><stop offset="0.9847" stop-color="#3c0000"/><stop offset="0.9903" stop-color="#360000"/><stop offset="1" stop-color="#340000"/></linearGradient>
<linearGradient id="s193" gradientUnits="userSpaceOnUse" x1="0" y1="49" x2="0" y2="408"><stop offset="0" stop-color="#242d00"/><stop offset="0.2646" stop-color="#2c1500"/><stop offset="0.4986" stop-color="#300900"/><stop offset="0.6992" stop-color="#360400"/><stop offset="0.8384" stop-color="#370200"/><stop offset="0.8538" stop-color="#390200"/><stop offset="0.8677" stop-color="#400300"/><stop offset="0.8816" stop-color="#4c0300"/><stop offset="0.922" stop-color="#5a0300"/><stop offset="0.9499" stop-color="#5b0300"/><stop offset="0.968" stop-color="#570300"/><stop offset="0.9805" stop-color="#420300"/><stop offset="0.9847" stop-color="#3c0000"/><stop offset="0.9903" stop-color="#360000"/><stop offset="1" stop-color="#340000"/></linearGradient>
<linearGradient id="s194" gradientUnits="userSpaceOnUse" x1="0" y1="49" x2="0" y2="408"><stop offset="0" stop-color="#213300"/><stop offset="0.1978" stop-color="#281d00"/><stop offset="0.4485" stop-color="#2e0d00"/><stop offset="0.7493" stop-color="#340400"/><stop offset="0.8259" stop-color="#340300"/><stop offset="0.8538" stop-color="#390200"/><stop offset="0.8677" stop-color="#3f0300"/><stop offset="0.8816" stop-color="#4c0300"/><stop offset="0.922" stop-color="#5a0300"/><stop offset="0.9499" stop-color="#5b0300"/><stop offset="0.968" stop-color="#570300"/><stop offset="0.9805" stop-color="#420300"/><stop offset="0.9847" stop-color="#3c0000"/><stop offset="0.9903" stop-color="#360000"/><stop offset="1" stop-color="#340000"/></linearGradient>
<linearGradient id="s195" gradientUnits="userSpaceOnUse" x1="0" y1="49" x2="0" y2="408"><stop offset="0" stop-color="#213000"/><stop offset="0.1978" stop-color="#291c00"/><stop offset="0.3844" stop-color="#2d0f00"/><stop offset="0.649" stop-color="#330500"/><stop offset="0.8259" stop-color="#340300"/><stop offset="0.8538" stop-color="#390200"/><stop offset="0.8677" stop-color="#3f0100"/><stop offset="0.8816" stop-color="#4c0300"/><stop offset="0.922" stop-color="#5a0300"/><stop offset="0.9499" stop-color="#5b0300"/><stop offset="0.968" stop-color="#570300"/><stop offset="0.9805" stop-color="#420300"/><stop offset="0.9847" stop-color="#3c0000"/><stop offset="0.9903" stop-color="#360000"/><stop offset="1" stop-color="#340000"/></linearGradient>
<linearGradient id="s196" gradientUnits="userSpaceOnUse" x1="0" y1="49" x2="0" y2="408"><stop offset="0" stop-color="#003100"/><stop offset="0.1309" stop-color="#0f2300"/><stop offset="0.3315" stop-color="#201200"/><stop offset="0.4986" stop-color="#280a00"/><stop offset="0.5989" stop-color="#2e0700"/><stop offset="0.8259" stop-color="#330300"/><stop offset="0.8538" stop-color="#380200"/><stop offset="0.8677" stop-color="#3f0200"/><stop offset="0.8816" stop-color="#4c0300"/><stop offset="0.922" stop-color="#5a0300"/><stop offset="0.9499" stop-color="#5b0300"/><stop offset="0.968" stop-color="#570300"/><stop offset="0.9805" stop-color="#420300"/><stop offset="0.9847" stop-color="#3c0000"/><stop offset="0.9903" stop-color="#360000"/><stop offset="1" stop-color="#340000"/></linearGradient>
<linearGradient id="s197" gradientUnits="userSpaceOnUse" x1="0" y1="49" x2="0" y2="408"><stop offset="0" stop-color="#003800"/><stop offset="0.0306" stop-color="#003400"/><stop offset="0.1309" stop-color="#0c2800"/><stop offset="0.2646" stop-color="#191a00"/><stop offset="0.3844" stop-color="#221200"/><stop offset="0.5487" stop-color="#2c0900"/><stop offset="0.7493" stop-color="#340400"/><stop offset="0.8259" stop-color="#340300"/><stop offset="0.8538" stop-color="#390200"/><stop offset="0.8677" stop-color="#3f0200"/><stop offset="0.8816" stop-color="#4b0300"/><stop offset="0.922" stop-color="#5a0300"/><stop offset="0.9499" stop-color="#5b0300"/><stop offset="0.968" stop-color="#570300"/><stop offset="0.9805" stop-color="#420300"/><stop offset="0.9847" stop-color="#3c0000"/><stop offset="0.9903" stop-color="#360000"/><stop offset="1" stop-color="#340000"/></linearGradient>
<linearGradient id="s198" gradientUnits="userSpaceOnUse" x1="0" y1="49" x2="0" y2="408"><stop offset="0" stop-color="#1f3200"/><stop offset="0.1309" stop-color="#252300"/><stop offset="0.3315" stop-color="#2b1300"/><stop offset="0.4986" stop-color="#2f0a00"/><stop offset="0.8384" stop-color="#350200"/><stop offset="0.8552" stop-color="#390200"/><stop offset="0.8691" stop-color="#3f0300"/><stop offset="0.883" stop-color="#4a0300"/><stop offset="0.922" stop-color="#570300"/><stop offset="0.9499" stop-color="#580300"/><stop offset="0.968" stop-color="#540300"/><stop offset="0.9749" stop-color="#4c0300"/><stop offset="0.9805" stop-color="#420300"/><stop offset="0.9847" stop-color="#3c0000"/><stop offset="0.9903" stop-color="#360000"/><stop offset="1" stop-color="#340000"/></linearGradient>
<linearGradient id="s199" gradientUnits="userSpaceOnUse" x1="0" y1="49" x2="0" y2="408"><stop offset="0" stop-color="#1e3100"/><stop offset="0.1978" stop-color="#271c00"/><stop offset="0.4986" stop-color="#2e0a00"/><stop offset="0.649" stop-color="#330600"/><stop offset="0.8384" stop-color="#350200"/><stop offset="0.8552" stop-color="#390200"/><stop offset="0.8691" stop-color="#3f0200"/><stop offset="0.883" stop-color="#3f0300"/><stop offset="0.922" stop-color="#470300"/><stop offset="0.9499" stop-color="#470300"/><stop offset="0.968" stop-color="#450300"/><stop offset="0.9749" stop-color="#470300"/><stop offset="0.9805" stop-color="#420300"/><stop offset="0.9847" stop-color="#3c0000"/><stop offset="0.9903" stop-color="#360000"/><stop offset="1" stop-color="#340000"/></linearGradient>
<linearGradient id="s200" gradientUnits="userSpaceOnUse" x1="0" y1="49" x2="0" y2="408"><stop offset="0" stop-color="#212800"/><stop offset="0.1978" stop-color="#291700"/><stop offset="0.4485" stop-color="#2e0a00"/><stop offset="0.6992" stop-color="#330400"/><stop offset="0.8384" stop-color="#350200"/><stop offset="0.8552" stop-color="#390200"/><stop offset="0.8691" stop-color="#3f0100"/><stop offset="0.883" stop-color="#3f0100"/><stop offset="0.922" stop-color="#470300"/><stop offset="0.9499" stop-color="#470300"/><stop offset="0.968" stop-color="#450300"/><stop offset="0.9749" stop-color="#470300"/><stop offset="0.9805" stop-color="#420300"/><stop offset="0.9847" stop-color="#3c0000"/><stop offset="0.9903" stop-color="#360000"/><stop offset="1" stop-color="#340000"/></linearGradient>
<linearGradient id="s201" gradientUnits="userSpaceOnUse" x1="0" y1="49" x2="0" y2="408"><stop offset="0" stop-color="#1f2b00"/><stop offset="0.1309" stop-color="#251e00"/><stop offset="0.3315" stop-color="#2b1000"/><stop offset="0.649" stop-color="#330500"/><stop offset="0.8384" stop-color="#360200"/><stop offset="0.8552" stop-color="#390200"/><stop offset="0.8691" stop-color="#3f0100"/><stop offset="0.883" stop-color="#3f0100"/><stop offset="0.922" stop-color="#470300"/><stop offset="0.9499" stop-color="#470300"/><stop offset="0.968" stop-color="#450300"/><stop offset="0.9749" stop-color="#470300"/><stop offset="0.9805" stop-color="#420300"/><stop offset="0.9847" stop-color="#3c0000"/><stop offset="0.9903" stop-color="#360000"/><stop offset="1" stop-color="#340000"/></linearGradient>
<linearGradient id="s202" gradientUnits="userSpaceOnUse" x1="0" y1="49" x2="0" y2="408"><stop offset="0" stop-color="#0e2c00"/><stop offset="0.1309" stop-color="#191f00"/><stop offset="0.3844" stop-color="#270e00"/><stop offset="0.6992" stop-color="#330500"/><stop offset="0.8384" stop-color="#350200"/><stop offset="0.8565" stop-color="#390200"/><stop offset="0.8705" stop-color="#3f0100"/><stop offset="0.8844" stop-color="#3f0300"/><stop offset="0.922" stop-color="#470300"/><stop offset="0.9499" stop-color="#470300"/><stop offset="0.968" stop-color="#450300"/><stop offset="0.9749" stop-color="#470300"/><stop offset="0.9805" stop-color="#420300"/><stop offset="0.9847" stop-color="#3c0000"/><stop offset="0.9903" stop-color="#360000"/><stop offset="1" stop-color="#340000"/></linearGradient>
<linearGradient id="s203" gradientUnits="userSpaceOnUse" x1="0" y1="49" x2="0" y2="408"><stop offset="0" stop-color="#002e00"/><stop offset="0.1309" stop-color="#0e2000"/><stop offset="0.3315" stop-color="#1f1200"/><stop offset="0.5989" stop-color="#2f0700"/><stop offset="0.7493" stop-color="#340400"/><stop offset="0.8384" stop-color="#350200"/><stop offset="0.8565" stop-color="#390200"/><stop offset="0.8705" stop-color="#3f0200"/><stop offset="0.8844" stop-color="#3f0300"/><stop offset="0.922" stop-color="#470300"/><stop offset="0.9499" stop-color="#470300"/><stop offset="0.968" stop-color="#450300"/><stop offset="0.9749" stop-color="#470300"/><stop offset="0.9805" stop-color="#420300"/><stop offset="0.9847" stop-color="#3c0000"/><stop offset="0.9903" stop-color="#360000"/><stop offset="1" stop-color="#340000"/></linearGradient>
<linearGradient id="s204" gradientUnits="userSpaceOnUse" x1="0" y1="49" x2="0" y2="408"><stop offset="0" stop-color="#1b1e00"/><stop offset="0.1309" stop-color="#221500"/><stop offset="0.3844" stop-color="#2b0a00"/><stop offset="0.4986" stop-color="#2d0700"/><stop offset="0.649" stop-color="#330400"/><stop offset="0.8384" stop-color="#350200"/><stop offset="0.8565" stop-color="#390100"/><stop offset="0.8705" stop-color="#3f0100"/><stop offset="0.8844" stop-color="#3f0100"/><stop offset="0.922" stop-color="#470300"/><stop offset="0.9499" stop-color="#470300"/><stop offset="0.968" stop-color="#450300"/><stop offset="0.9749" stop-color="#470300"/><stop offset="0.9805" stop-color="#420300"/><stop offset="0.9847" stop-color="#3c0000"/><stop offset="0.9903" stop-color="#360000"/><stop offset="1" stop-color="#340000"/></linearGradient>
<linearGradient id="s205" gradientUnits="userSpaceOnUse" x1="0" y1="49" x2="0" y2="408"><stop offset="0" stop-color="#142600"/><stop offset="0.1978" stop-color="#211700"/><stop offset="0.3844" stop-color="#290d00"/><stop offset="0.4986" stop-color="#2c0900"/><stop offset="0.5989" stop-color="#320600"/><stop offset="0.6992" stop-color="#360400"/><stop offset="0.8384" stop-color="#370200"/><stop offset="0.8565" stop-color="#390200"/><stop offset="0.8705" stop-color="#3f0100"/><stop offset="0.8844" stop-color="#3f0100"/><stop offset="0.922" stop-color="#470300"/><stop offset="0.9499" stop-color="#470300"/><stop offset="0.968" stop-color="#450300"/><stop offset="0.9749" stop-color="#470300"/><stop offset="0.9805" stop-color="#420300"/><stop offset="0.9847" stop-color="#3c0000"/><stop offset="0.9903" stop-color="#360000"/><stop offset="1" stop-color="#340000"/></linearGradient>
<linearGradient id="s206" gradientUnits="userSpaceOnUse" x1="0" y1="49" x2="0" y2="408"><stop offset="0" stop-color="#152400"/><stop offset="0.1309" stop-color="#1e1a00"/><stop offset="0.3844" stop-color="#290c00"/><stop offset="0.4986" stop-color="#2c0800"/><stop offset="0.649" stop-color="#320500"/><stop offset="0.8384" stop-color="#350200"/><stop offset="0.8565" stop-color="#390200"/><stop offset="0.8705" stop-color="#3f0100"/><stop offset="0.8844" stop-color="#490300"/><stop offset="0.922" stop-color="#570300"/><stop offset="0.9499" stop-color="#580300"/><stop offset="0.968" stop-color="#540300"/><stop offset="0.9749" stop-color="#4c0300"/><stop offset="0.9805" stop-color="#420300"/><stop offset="0.9847" stop-color="#3c0000"/><stop offset="0.9903" stop-color="#360000"/><stop offset="1" stop-color="#340000"/></linearGradient>
<linearGradient id="s207" gradientUnits="userSpaceOnUse" x1="0" y1="49" x2="0" y2="408"><stop offset="0" stop-color="#162300"/><stop offset="0.1978" stop-color="#211500"/><stop offset="0.4485" stop-color="#2b0a00"/><stop offset="0.7493" stop-color="#340400"/><stop offset="0.8384" stop-color="#350200"/><stop offset="0.8579" stop-color="#390200"/><stop offset="0.8719" stop-color="#400300"/><stop offset="0.8858" stop-color="#4c0300"/><stop offset="0.922" stop-color="#5a0300"/><stop offset="0.9499" stop-color="#5b0300"/><stop offset="0.968" stop-color="#570300"/><stop offset="0.9805" stop-color="#420300"/><stop offset="0.9847" stop-color="#3c0000"/><stop offset="0.9903" stop-color="#360000"/><stop offset="1" stop-color="#340000"/></linearGradient>
<linearGradient id="s208" gradientUnits="userSpaceOnUse" x1="0" y1="49" x2="0" y2="408"><stop offset="0" stop-color="#182000"/><stop offset="0.1978" stop-color="#231300"/><stop offset="0.3844" stop-color="#2a0b00"/><stop offset="0.4986" stop-color="#2c0700"/><stop offset="0.649" stop-color="#320500"/><stop offset="0.8301" stop-color="#340200"/><stop offset="0.8579" stop-color="#390200"/><stop offset="0.8719" stop-color="#3f0300"/><stop offset="0.8858" stop-color="#4c0300"/><stop offset="0.922" stop-color="#5a0300"/><stop offset="0.9499" stop-color="#5b0300"/><stop offset="0.968" stop-color="#570300"/><stop offset="0.9805" stop-color="#420300"/><stop offset="0.9847" stop-color="#3c0000"/><stop offset="0.9903" stop-color="#360000"/><stop offset="1" stop-color="#340000"/></linearGradient>
<linearGradient id="s209" gradientUnits="userSpaceOnUse" x1="0" y1="49" x2="0" y2="408"><stop offset="0" stop-color="#142500"/><stop offset="0.1309" stop-color="#1d1a00"/><stop offset="0.3315" stop-color="#260f00"/><stop offset="0.5989" stop-color="#300600"/><stop offset="0.7994" stop-color="#340300"/><stop offset="0.8384" stop-color="#350200"/><stop offset="0.8579" stop-color="#390200"/><stop offset="0.8719" stop-color="#3f0100"/><stop offset="0.8858" stop-color="#4c0300"/><stop offset="0.922" stop-color="#5a0300"/><stop offset="0.9499" stop-color="#5b0300"/><stop offset="0.968" stop-color="#570300"/><stop offset="0.9805" stop-color="#420300"/><stop offset="0.9847" stop-color="#3c0000"/><stop offset="0.9903" stop-color="#360000"/><stop offset="1" stop-color="#340000"/></linearGradient>
<linearGradient id="s210" gradientUnits="userSpaceOnUse" x1="0" y1="49" x2="0" y2="408"><stop offset="0" stop-color="#291500"/><stop offset="0.5487" stop-color="#360700"/><stop offset="0.8524" stop-color="#360200"/><stop offset="0.8886" stop-color="#390100"/><stop offset="0.9053" stop-color="#3e0100"/><stop offset="0.9248" stop-color="#480300"/><stop offset="0.9387" stop-color="#4b0300"/><stop offset="0.9471" stop-color="#480300"/><stop offset="0.9721" stop-color="#480300"/><stop offset="0.9791" stop-color="#420300"/><stop offset="0.9903" stop-color="#360000"/><stop offset="1" stop-color="#340000"/></linearGradient>
<linearGradient id="s211" gradientUnits="userSpaceOnUse" x1="0" y1="49" x2="0" y2="408"><stop offset="0" stop-color="#221f00"/><stop offset="0.2646" stop-color="#2d1300"/><stop offset="0.3315" stop-color="#2e1100"/><stop offset="0.4485" stop-color="#340d00"/><stop offset="0.5989" stop-color="#380800"/><stop offset="0.8524" stop-color="#370200"/><stop offset="0.8886" stop-color="#390200"/><stop offset="0.9053" stop-color="#3e0100"/><stop offset="0.9248" stop-color="#480300"/><stop offset="0.9387" stop-color="#4b0300"/><stop offset="0.9471" stop-color="#480300"/><stop offset="0.9721" stop-color="#480300"/><stop offset="0.9791" stop-color="#420300"/><stop offset="0.9903" stop-color="#360000"/><stop offset="1" stop-color="#340000"/></linearGradient>
<linearGradient id="s212" gradientUnits="userSpaceOnUse" x1="0" y1="49" x2="0" y2="408"><stop offset="0" stop-color="#1f1a00"/><stop offset="0.0975" stop-color="#241600"/><stop offset="0.5989" stop-color="#360700"/><stop offset="0.8524" stop-color="#360200"/><stop offset="0.8886" stop-color="#390100"/><stop offset="0.9053" stop-color="#3e0100"/><stop offset="0.9248" stop-color="#480300"/><stop offset="0.9387" stop-color="#4b0300"/><stop offset="0.9471" stop-color="#490300"/><stop offset="0.9721" stop-color="#490300"/><stop offset="0.9791" stop-color="#420300"/><stop offset="0.9903" stop-color="#360000"/><stop offset="1" stop-color="#340000"/></linearGradient>
<linearGradient id="s213" gradientUnits="userSpaceOnUse" x1="0" y1="49" x2="0" y2="408"><stop offset="0" stop-color="#131d00"/><stop offset="0.2646" stop-color="#221200"/><stop offset="0.4986" stop-color="#300b00"/><stop offset="0.5989" stop-color="#360800"/><stop offset="0.8524" stop-color="#370200"/><stop offset="0.8886" stop-color="#390200"/><stop offset="0.9053" stop-color="#3e0100"/><stop offset="0.9248" stop-color="#480300"/><stop offset="0.9387" stop-color="#4b0300"/><stop offset="0.9721" stop-color="#490300"/><stop offset="0.9791" stop-color="#420300"/><stop offset="0.9903" stop-color="#360000"/><stop offset="1" stop-color="#340000"/></linearGradient>
<linearGradient id="s214" gradientUnits="userSpaceOnUse" x1="0" y1="49" x2="0" y2="408"><stop offset="0" stop-color="#161900"/><stop offset="0.2646" stop-color="#241000"/><stop offset="0.3315" stop-color="#260e00"/><stop offset="0.5487" stop-color="#330800"/><stop offset="0.7493" stop-color="#370400"/><stop offset="0.8524" stop-color="#360200"/><stop offset="0.8886" stop-color="#390100"/><stop offset="0.9053" stop-color="#3e0100"/><stop offset="0.9248" stop-color="#480300"/><stop offset="0.9387" stop-color="#4b0300"/><stop offset="0.9721" stop-color="#490300"/><stop offset="0.9791" stop-color="#420300"/><stop offset="0.9903" stop-color="#360000"/><stop offset="1" stop-color="#340000"/></linearGradient>
<linearGradient id="s215" gradientUnits="userSpaceOnUse" x1="0" y1="49" x2="0" y2="408"><stop offset="0" stop-color="#141a00"/><stop offset="0.2646" stop-color="#231100"/><stop offset="0.4485" stop-color="#2c0b00"/><stop offset="0.5989" stop-color="#350700"/><stop offset="0.7994" stop-color="#370300"/><stop offset="0.8524" stop-color="#360200"/><stop offset="0.8886" stop-color="#390100"/><stop offset="0.9053" stop-color="#3e0100"/><stop offset="0.9248" stop-color="#480300"/><stop offset="0.9387" stop-color="#4b0300"/><stop offset="0.9638" stop-color="#4b0300"/><stop offset="0.9721" stop-color="#490300"/><stop offset="0.9791" stop-color="#420300"/><stop offset="0.9903" stop-color="#360000"/><stop offset="1" stop-color="#340000"/></linearGradient>
<linearGradient id="s216" gradientUnits="userSpaceOnUse" x1="0" y1="49" x2="0" y2="408"><stop offset="0" stop-color="#191600"/><stop offset="0.1978" stop-color="#231000"/><stop offset="0.4986" stop-color="#300800"/><stop offset="0.649" stop-color="#360500"/><stop offset="0.8524" stop-color="#360200"/><stop offset="0.8886" stop-color="#390100"/><stop offset="0.9053" stop-color="#3e0100"/><stop offset="0.9248" stop-color="#480300"/><stop offset="0.9471" stop-color="#4c0300"/><stop offset="0.9638" stop-color="#4c0300"/><stop offset="0.9721" stop-color="#490300"/><stop offset="0.9791" stop-color="#420300"/><stop offset="0.9903" stop-color="#360000"/><stop offset="1" stop-color="#340000"/></linearGradient>
<linearGradient id="s217" gradientUnits="userSpaceOnUse" x1="0" y1="49" x2="0" y2="408"><stop offset="0" stop-color="#121c00"/><stop offset="0.4485" stop-color="#2c0c00"/><stop offset="0.5989" stop-color="#360700"/><stop offset="0.8524" stop-color="#370200"/><stop offset="0.8886" stop-color="#390200"/><stop offset="0.9053" stop-color="#3e0100"/><stop offset="0.9248" stop-color="#480300"/><stop offset="0.9387" stop-color="#4b0300"/><stop offset="0.9471" stop-color="#4f0300"/><stop offset="0.9638" stop-color="#4f0300"/><stop offset="0.9721" stop-color="#490300"/><stop offset="0.9791" stop-color="#420300"/><stop offset="0.9903" stop-color="#360000"/><stop offset="1" stop-color="#340000"/></linearGradient>
<linearGradient id="s218" gradientUnits="userSpaceOnUse" x1="0" y1="49" x2="0" y2="408"><stop offset="0" stop-color="#101d00"/><stop offset="0.2646" stop-color="#211300"/><stop offset="0.4986" stop-color="#2f0b00"/><stop offset="0.5989" stop-color="#360800"/><stop offset="0.8524" stop-color="#370200"/><stop offset="0.8886" stop-color="#390200"/><stop offset="0.9053" stop-color="#3e0100"/><stop offset="0.9248" stop-color="#480300"/><stop offset="0.9387" stop-color="#4b0300"/><stop offset="0.9471" stop-color="#550300"/><stop offset="0.9638" stop-color="#550300"/><stop offset="0.9721" stop-color="#490300"/><stop offset="0.9791" stop-color="#420300"/><stop offset="0.9903" stop-color="#360000"/><stop offset="1" stop-color="#340000"/></linearGradient>
<linearGradient id="s219" gradientUnits="userSpaceOnUse" x1="0" y1="49" x2="0" y2="408"><stop offset="0" stop-color="#171700"/><stop offset="0.5989" stop-color="#350600"/><stop offset="0.8524" stop-color="#360200"/><stop offset="0.8886" stop-color="#390100"/><stop offset="0.9053" stop-color="#3e0100"/><stop offset="0.9248" stop-color="#480300"/><stop offset="0.9387" stop-color="#4b0300"/><stop offset="0.9471" stop-color="#5a0300"/><stop offset="0.9638" stop-color="#5a0300"/><stop offset="0.9721" stop-color="#490300"/><stop offset="0.9791" stop-color="#420300"/><stop offset="0.9903" stop-color="#360000"/><stop offset="1" stop-color="#340000"/></linearGradient>
<linearGradient id="s220" gradientUnits="userSpaceOnUse" x1="0" y1="49" x2="0" y2="408"><stop offset="0" stop-color="#191500"/><stop offset="0.4986" stop-color="#300800"/><stop offset="0.649" stop-color="#360500"/><stop offset="0.8524" stop-color="#360200"/><stop offset="0.8886" stop-color="#390100"/><stop offset="0.9053" stop-color="#3e0100"/><stop offset="0.9248" stop-color="#480300"/><stop offset="0.9387" stop-color="#4b0300"/><stop offset="0.9471" stop-color="#5c0300"/><stop offset="0.9638" stop-color="#5c0300"/><stop offset="0.9721" stop-color="#490300"/><stop offset="0.9791" stop-color="#420300"/><stop offset="0.9903" stop-color="#360000"/><stop offset="1" stop-color="#340000"/></linearGradient>
<linearGradient id="s221" gradientUnits="userSpaceOnUse" x1="0" y1="49" x2="0" y2="408"><stop offset="0" stop-color="#340099"/><stop offset="0.1309" stop-color="#34008c"/><stop offset="0.5487" stop-color="#35004f"/><stop offset="0.5989" stop-color="#350047"/><stop offset="0.8384" stop-color="#35013d"/><stop offset="0.8663" stop-color="#38013c"/><stop offset="0.8802" stop-color="#3d013b"/><stop offset="0.8886" stop-color="#42033a"/><stop offset="0.8983" stop-color="#510339"/><stop offset="0.9053" stop-color="#4c0339"/><stop offset="0.9276" stop-color="#4c0338"/><stop offset="0.9443" stop-color="#5c0337"/><stop offset="0.961" stop-color="#5e0335"/><stop offset="0.9708" stop-color="#570335"/><stop offset="0.9763" stop-color="#500335"/><stop offset="0.9847" stop-color="#3c0134"/><stop offset="0.9903" stop-color="#360134"/><stop offset="1" stop-color="#340033"/></linearGradient>
<linearGradient id="s222" gradientUnits="userSpaceOnUse" x1="0" y1="49" x2="0" y2="408"><stop offset="0" stop-color="#340099"/><stop offset="0.1309" stop-color="#34008c"/><stop offset="0.5487" stop-color="#35004f"/><stop offset="0.5989" stop-color="#350047"/><stop offset="0.8384" stop-color="#35013d"/><stop offset="0.8649" stop-color="#39013c"/><stop offset="0.8788" stop-color="#3d013b"/><stop offset="0.8872" stop-color="#43033a"/><stop offset="0.8969" stop-color="#51033a"/><stop offset="0.9039" stop-color="#4c0339"/><stop offset="0.9276" stop-color="#4c0338"/><stop offset="0.9443" stop-color="#5c0337"/><stop offset="0.961" stop-color="#5e0335"/><stop offset="0.9708" stop-color="#570335"/><stop offset="0.9763" stop-color="#500335"/><stop offset="0.9847" stop-color="#3c0134"/><stop offset="0.9903" stop-color="#360134"/><stop offset="1" stop-color="#340033"/></linearGradient>
<linearGradient id="s223" gradientUnits="userSpaceOnUse" x1="0" y1="49" x2="0" y2="408"><stop offset="0" stop-color="#340099"/><stop offset="0.1309" stop-color="#34008c"/><stop offset="0.5487" stop-color="#35004f"/><stop offset="0.5989" stop-color="#350047"/><stop offset="0.8384" stop-color="#35013d"/><stop offset="0.8621" stop-color="#38013c"/><stop offset="0.8844" stop-color="#41033a"/><stop offset="0.8942" stop-color="#50033a"/><stop offset="0.9011" stop-color="#4c0339"/><stop offset="0.9276" stop-color="#4c0338"/><stop offset="0.9443" stop-color="#5c0337"/><stop offset="0.961" stop-color="#5e0335"/><stop offset="0.9708" stop-color="#570335"/><stop offset="0.9763" stop-color="#500335"/><stop offset="0.9847" stop-color="#3c0134"/><stop offset="0.9903" stop-color="#360134"/><stop offset="1" stop-color="#340033"/></linearGradient>
<linearGradient id="s224" gradientUnits="userSpaceOnUse" x1="0" y1="49" x2="0" y2="408"><stop offset="0" stop-color="#340099"/><stop offset="0.1309" stop-color="#34008c"/><stop offset="0.5487" stop-color="#35004f"/><stop offset="0.5989" stop-color="#350047"/><stop offset="0.8384" stop-color="#35013d"/><stop offset="0.8607" stop-color="#38013c"/><stop offset="0.8747" stop-color="#3d013b"/><stop offset="0.883" stop-color="#42033a"/><stop offset="0.8886" stop-color="#49033a"/><stop offset="0.8928" stop-color="#51033a"/><stop offset="0.8997" stop-color="#4c0339"/><stop offset="0.9276" stop-color="#4c0338"/><stop offset="0.9443" stop-color="#5c0337"/><stop offset="0.961" stop-color="#5e0335"/><stop offset="0.9708" stop-color="#570335"/><stop offset="0.9763" stop-color="#500335"/><stop offset="0.9847" stop-color="#3c0134"/><stop offset="0.9903" stop-color="#360134"/><stop offset="1" stop-color="#340033"/></linearGradient>
<linearGradient id="s225" gradientUnits="userSpaceOnUse" x1="0" y1="49" x2="0" y2="408"><stop offset="0" stop-color="#340099"/><stop offset="0.1309" stop-color="#34008c"/><stop offset="0.5487" stop-color="#35004f"/><stop offset="0.5989" stop-color="#350047"/><stop offset="0.8384" stop-color="#35013d"/><stop offset="0.8593" stop-color="#38013c"/><stop offset="0.8733" stop-color="#3d013b"/><stop offset="0.8816" stop-color="#42033b"/><stop offset="0.8914" stop-color="#51033a"/><stop offset="0.8983" stop-color="#4c0339"/><stop offset="0.9276" stop-color="#4c0338"/><stop offset="0.9443" stop-color="#5c0337"/><stop offset="0.961" stop-color="#5e0335"/><stop offset="0.9708" stop-color="#570335"/><stop offset="0.9763" stop-color="#500335"/><stop offset="0.9847" stop-color="#3c0134"/><stop offset="0.9903" stop-color="#360134"/><stop offset="1" stop-color="#340033"/></linearGradient>
<linearGradient id="s226" gradientUnits="userSpaceOnUse" x1="0" y1="49" x2="0" y2="408"><stop offset="0" stop-color="#340099"/><stop offset="0.1309" stop-color="#34008c"/><stop offset="0.5487" stop-color="#35004f"/><stop offset="0.5989" stop-color="#350047"/><stop offset="0.8384" stop-color="#36013d"/><stop offset="0.8565" stop-color="#38013c"/><stop offset="0.8705" stop-color="#3c013b"/><stop offset="0.8788" stop-color="#41033b"/><stop offset="0.8844" stop-color="#48033a"/><stop offset="0.8886" stop-color="#50033a"/><stop offset="0.8955" stop-color="#4c033a"/><stop offset="0.9276" stop-color="#4c0338"/><stop offset="0.9443" stop-color="#5c0337"/><stop offset="0.961" stop-color="#5e0335"/><stop offset="0.9708" stop-color="#570335"/><stop offset="0.9763" stop-color="#500335"/><stop offset="0.9847" stop-color="#3c0134"/><stop offset="0.9903" stop-color="#360134"/><stop offset="1" stop-color="#340033"/></linearGradient>
<linearGradient id="s227" gradientUnits="userSpaceOnUse" x1="0" y1="49" x2="0" y2="408"><stop offset="0" stop-color="#340099"/><stop offset="0.1309" stop-color="#34008c"/><stop offset="0.5487" stop-color="#35004f"/><stop offset="0.5989" stop-color="#350047"/><stop offset="0.8384" stop-color="#36013d"/><stop offset="0.8552" stop-color="#38013c"/><stop offset="0.8691" stop-color="#3d013b"/><stop offset="0.8774" stop-color="#42033b"/><stop offset="0.8872" stop-color="#50033a"/><stop offset="0.8942" stop-color="#4c033a"/><stop offset="0.9276" stop-color="#4c0338"/><stop offset="0.9443" stop-color="#5c0337"/><stop offset="0.961" stop-color="#5e0335"/><stop offset="0.9708" stop-color="#570335"/><stop offset="0.9763" stop-color="#500335"/><stop offset="0.9847" stop-color="#3c0134"/><stop offset="0.9903" stop-color="#360134"/><stop offset="1" stop-color="#340033"/></linearGradient>
<linearGradient id="s228" gradientUnits="userSpaceOnUse" x1="0" y1="49" x2="0" y2="408"><stop offset="0" stop-color="#340099"/><stop offset="0.1309" stop-color="#34008c"/><stop offset="0.5487" stop-color="#35004f"/><stop offset="0.5989" stop-color="#350047"/><stop offset="0.8384" stop-color="#36013d"/><stop offset="0.8538" stop-color="#38013c"/><stop offset="0.8677" stop-color="#3d013b"/><stop offset="0.876" stop-color="#42033b"/><stop offset="0.8816" stop-color="#49033b"/><stop offset="0.8858" stop-color="#51033a"/><stop offset="0.8928" stop-color="#4c033a"/><stop offset="0.9276" stop-color="#4c0338"/><stop offset="0.9443" stop-color="#5c0337"/><stop offset="0.961" stop-color="#5e0335"/><stop offset="0.9708" stop-color="#570335"/><stop offset="0.9763" stop-color="#500335"/><stop offset="0.9847" stop-color="#3c0134"/><stop offset="0.9903" stop-color="#360134"/><stop offset="1" stop-color="#340033"/></linearGradient>
<linearGradient id="s229" gradientUnits="userSpaceOnUse" x1="0" y1="49" x2="0" y2="408"><stop offset="0" stop-color="#340099"/><stop offset="0.1309" stop-color="#34008c"/><stop offset="0.5487" stop-color="#35004f"/><stop offset="0.5989" stop-color="#350047"/><stop offset="0.8384" stop-color="#36013d"/><stop offset="0.8524" stop-color="#38013c"/><stop offset="0.8663" stop-color="#3d013c"/><stop offset="0.8747" stop-color="#42033b"/><stop offset="0.8844" stop-color="#51033a"/><stop offset="0.8914" stop-color="#4c033a"/><stop offset="0.9276" stop-color="#4c0338"/><stop offset="0.9443" stop-color="#5c0337"/><stop offset="0.961" stop-color="#5e0335"/><stop offset="0.9708" stop-color="#570335"/><stop offset="0.9763" stop-color="#500335"/><stop offset="0.9847" stop-color="#3c0134"/><stop offset="0.9903" stop-color="#360134"/><stop offset="1" stop-color="#340033"/></linearGradient>
<linearGradient id="s230" gradientUnits="userSpaceOnUse" x1="0" y1="49" x2="0" y2="408"><stop offset="0" stop-color="#340099"/><stop offset="0.1309" stop-color="#34008c"/><stop offset="0.5487" stop-color="#35004f"/><stop offset="0.5989" stop-color="#350047"/><stop offset="0.8384" stop-color="#36013d"/><stop offset="0.8635" stop-color="#3c013c"/><stop offset="0.8719" stop-color="#41033b"/><stop offset="0.8816" stop-color="#50033b"/><stop offset="0.9276" stop-color="#4e0338"/><stop offset="0.9443" stop-color="#5c0337"/><stop offset="0.961" stop-color="#5e0335"/><stop offset="0.9708" stop-color="#570335"/><stop offset="0.9763" stop-color="#500335"/><stop offset="0.9847" stop-color="#3c0134"/><stop offset="0.9903" stop-color="#360134"/><stop offset="1" stop-color="#340033"/></linearGradient>
<linearGradient id="s231" gradientUnits="userSpaceOnUse" x1="0" y1="49" x2="0" y2="408"><stop offset="0" stop-color="#340099"/><stop offset="0.1309" stop-color="#34008c"/><stop offset="0.5487" stop-color="#35004f"/><stop offset="0.5989" stop-color="#350047"/><stop offset="0.8203" stop-color="#35013e"/><stop offset="0.8482" stop-color="#38013d"/><stop offset="0.8621" stop-color="#3d013c"/><stop offset="0.8705" stop-color="#42033b"/><stop offset="0.876" stop-color="#49033b"/><stop offset="0.8802" stop-color="#51033b"/><stop offset="0.9276" stop-color="#500338"/><stop offset="0.9443" stop-color="#5c0337"/><stop offset="0.961" stop-color="#5e0335"/><stop offset="0.9708" stop-color="#570335"/><stop offset="0.9763" stop-color="#500335"/><stop offset="0.9847" stop-color="#3c0134"/><stop offset="0.9903" stop-color="#360134"/><stop offset="1" stop-color="#340033"/></linearGradient>
<linearGradient id="s232" gradientUnits="userSpaceOnUse" x1="0" y1="49" x2="0" y2="408"><stop offset="0" stop-color="#340099"/><stop offset="0.1309" stop-color="#34008c"/><stop offset="0.5487" stop-color="#35004f"/><stop offset="0.5989" stop-color="#350047"/><stop offset="0.8189" stop-color="#35013f"/><stop offset="0.8468" stop-color="#38013d"/><stop offset="0.8607" stop-color="#3d013c"/><stop offset="0.8691" stop-color="#42033b"/><stop offset="0.8788" stop-color="#51033b"/><stop offset="0.9276" stop-color="#520338"/><stop offset="0.9359" stop-color="#550337"/><stop offset="0.9443" stop-color="#5c0337"/><stop offset="0.961" stop-color="#5e0335"/><stop offset="0.9708" stop-color="#570335"/><stop offset="0.9763" stop-color="#500335"/><stop offset="0.9847" stop-color="#3c0134"/><stop offset="0.9903" stop-color="#360134"/><stop offset="1" stop-color="#340033"/></linearGradient>
<linearGradient id="s233" gradientUnits="userSpaceOnUse" x1="0" y1="49" x2="0" y2="408"><stop offset="0" stop-color="#340099"/><stop offset="0.1309" stop-color="#34008c"/><stop offset="0.5487" stop-color="#35004f"/><stop offset="0.5989" stop-color="#350047"/><stop offset="0.8175" stop-color="#35013f"/><stop offset="0.8454" stop-color="#39013d"/><stop offset="0.8593" stop-color="#3d013c"/><stop offset="0.8677" stop-color="#42033b"/><stop offset="0.8774" stop-color="#51033b"/><stop offset="0.8844" stop-color="#54033a"/><stop offset="0.9359" stop-color="#550337"/><stop offset="0.9443" stop-color="#5c0337"/><stop offset="0.961" stop-color="#5e0335"/><stop offset="0.9708" stop-color="#570335"/><stop offset="0.9763" stop-color="#500335"/><stop offset="0.9847" stop-color="#3c0134"/><stop offset="0.9903" stop-color="#360134"/><stop offset="1" stop-color="#340033"/></linearGradient>
<linearGradient id="s234" gradientUnits="userSpaceOnUse" x1="0" y1="49" x2="0" y2="408"><stop offset="0" stop-color="#340099"/><stop offset="0.1309" stop-color="#34008c"/><stop offset="0.5487" stop-color="#35004f"/><stop offset="0.5989" stop-color="#350047"/><stop offset="0.8162" stop-color="#35013f"/><stop offset="0.8384" stop-color="#37013d"/><stop offset="0.8579" stop-color="#3d013c"/><stop offset="0.8663" stop-color="#43033c"/><stop offset="0.876" stop-color="#51033b"/><stop offset="0.883" stop-color="#56033a"/><stop offset="0.9359" stop-color="#560337"/><stop offset="0.9443" stop-color="#5c0337"/><stop offset="0.961" stop-color="#5e0335"/><stop offset="0.9708" stop-color="#570335"/><stop offset="0.9763" stop-color="#500335"/><stop offset="0.9847" stop-color="#3c0134"/><stop offset="0.9903" stop-color="#360134"/><stop offset="1" stop-color="#340033"/></linearGradient>
<linearGradient id="s235" gradientUnits="userSpaceOnUse" x1="0" y1="49" x2="0" y2="408"><stop offset="0" stop-color="#340099"/><stop offset="0.1309" stop-color="#34008c"/><stop offset="0.5487" stop-color="#35004f"/><stop offset="0.5989" stop-color="#350047"/><stop offset="0.8148" stop-color="#35013f"/><stop offset="0.8426" stop-color="#38013d"/><stop offset="0.8565" stop-color="#3d013c"/><stop offset="0.8649" stop-color="#42033c"/><stop offset="0.8747" stop-color="#51033b"/><stop offset="0.8816" stop-color="#57033b"/><stop offset="0.9359" stop-color="#570337"/><stop offset="0.9443" stop-color="#5c0337"/><stop offset="0.961" stop-color="#5e0335"/><stop offset="0.9708" stop-color="#570335"/><stop offset="0.9763" stop-color="#500335"/><stop offset="0.9847" stop-color="#3c0134"/><stop offset="0.9903" stop-color="#360134"/><stop offset="1" stop-color="#340033"/></linearGradient>
<linearGradient id="s236" gradientUnits="userSpaceOnUse" x1="0" y1="49" x2="0" y2="408"><stop offset="0" stop-color="#340099"/><stop offset="0.1309" stop-color="#34008c"/><stop offset="0.5487" stop-color="#35004f"/><stop offset="0.5989" stop-color="#350047"/><stop offset="0.8134" stop-color="#35013f"/><stop offset="0.8412" stop-color="#38013d"/><stop offset="0.8552" stop-color="#3d013c"/><stop offset="0.8635" stop-color="#42033c"/><stop offset="0.8733" stop-color="#51033b"/><stop offset="0.8802" stop-color="#58033b"/><stop offset="0.9359" stop-color="#580337"/><stop offset="0.9443" stop-color="#5c0337"/><stop offset="0.961" stop-color="#5e0335"/><stop offset="0.9708" stop-color="#570335"/><stop offset="0.9763" stop-color="#500335"/><stop offset="0.9847" stop-color="#3c0134"/><stop offset="0.9903" stop-color="#360134"/><stop offset="1" stop-color="#340033"/></linearGradient>
<linearGradient id="s237" gradientUnits="userSpaceOnUse" x1="0" y1="49" x2="0" y2="408"><stop offset="0" stop-color="#340099"/><stop offset="0.1309" stop-color="#34008c"/><stop offset="0.5487" stop-color="#35004f"/><stop offset="0.5989" stop-color="#350047"/><stop offset="0.812" stop-color="#35013f"/><stop offset="0.8398" stop-color="#38013d"/><stop offset="0.8538" stop-color="#3d013c"/><stop offset="0.8621" stop-color="#42033c"/><stop offset="0.8677" stop-color="#49033b"/><stop offset="0.8719" stop-color="#51033b"/><stop offset="0.8788" stop-color="#59033b"/><stop offset="0.9359" stop-color="#590337"/><stop offset="0.9443" stop-color="#5c0337"/><stop offset="0.961" stop-color="#5e0335"/><stop offset="0.9708" stop-color="#570335"/><stop offset="0.9763" stop-color="#500335"/><stop offset="0.9847" stop-color="#3c0134"/><stop offset="0.9903" stop-color="#360134"/><stop offset="1" stop-color="#340033"/></linearGradient>
<linearGradient id="s238" gradientUnits="userSpaceOnUse" x1="0" y1="49" x2="0" y2="408"><stop offset="0" stop-color="#340099"/><stop offset="0.1309" stop-color="#34008c"/><stop offset="0.5487" stop-color="#35004f"/><stop offset="0.5989" stop-color="#350047"/><stop offset="0.8106" stop-color="#35013f"/><stop offset="0.8384" stop-color="#38013d"/><stop offset="0.8524" stop-color="#3d013c"/><stop offset="0.8607" stop-color="#42033c"/><stop offset="0.8774" stop-color="#5a033b"/><stop offset="0.9359" stop-color="#5a0337"/><stop offset="0.961" stop-color="#5e0335"/><stop offset="0.9708" stop-color="#570335"/><stop offset="0.9763" stop-color="#500335"/><stop offset="0.9847" stop-color="#3c0134"/><stop offset="0.9903" stop-color="#360134"/><stop offset="1" stop-color="#340033"/></linearGradient>
<linearGradient id="s239" gradientUnits="userSpaceOnUse" x1="0" y1="49" x2="0" y2="408"><stop offset="0" stop-color="#340099"/><stop offset="0.1309" stop-color="#34008c"/><stop offset="0.5487" stop-color="#35004f"/><stop offset="0.5989" stop-color="#350047"/><stop offset="0.8092" stop-color="#35013f"/><stop offset="0.8384" stop-color="#39013d"/><stop offset="0.851" stop-color="#3c013c"/><stop offset="0.8593" stop-color="#41033c"/><stop offset="0.876" stop-color="#5a033b"/><stop offset="0.9443" stop-color="#5c0337"/><stop offset="0.961" stop-color="#5e0335"/><stop offset="0.9708" stop-color="#570335"/><stop offset="0.9763" stop-color="#500335"/><stop offset="0.9847" stop-color="#3c0134"/><stop offset="0.9903" stop-color="#360134"/><stop offset="1" stop-color="#340033"/></linearGradient>
<linearGradient id="s240" gradientUnits="userSpaceOnUse" x1="0" y1="49" x2="0" y2="408"><stop offset="0" stop-color="#340099"/><stop offset="0.1309" stop-color="#34008c"/><stop offset="0.5487" stop-color="#35004f"/><stop offset="0.5989" stop-color="#350047"/><stop offset="0.8092" stop-color="#35013f"/><stop offset="0.8384" stop-color="#39013d"/><stop offset="0.851" stop-color="#3d013c"/><stop offset="0.8593" stop-color="#43033c"/><stop offset="0.876" stop-color="#5c033b"/><stop offset="0.9443" stop-color="#5c0337"/><stop offset="0.961" stop-color="#5e0335"/><stop offset="0.9708" stop-color="#570335"/><stop offset="0.9763" stop-color="#500335"/><stop offset="0.9847" stop-color="#3c0134"/><stop offset="0.9903" stop-color="#360134"/><stop offset="1" stop-color="#340033"/></linearGradient>
<linearGradient id="s241" gradientUnits="userSpaceOnUse" x1="0" y1="49" x2="0" y2="408"><stop offset="0" stop-color="#340099"/><stop offset="0.1309" stop-color="#34008c"/><stop offset="0.5487" stop-color="#35004f"/><stop offset="0.5989" stop-color="#350047"/><stop offset="0.8078" stop-color="#35013f"/><stop offset="0.8384" stop-color="#39013d"/><stop offset="0.8496" stop-color="#3d013d"/><stop offset="0.8579" stop-color="#42033c"/><stop offset="0.8635" stop-color="#4a033c"/><stop offset="0.8747" stop-color="#5d033b"/><stop offset="0.9443" stop-color="#5c0337"/><stop offset="0.961" stop-color="#5e0335"/><stop offset="0.9708" stop-color="#570335"/><stop offset="0.9763" stop-color="#500335"/><stop offset="0.9847" stop-color="#3c0134"/><stop offset="0.9903" stop-color="#360134"/><stop offset="1" stop-color="#340033"/></linearGradient>
<linearGradient id="s242" gradientUnits="userSpaceOnUse" x1="0" y1="49" x2="0" y2="408"><stop offset="0" stop-color="#340099"/><stop offset="0.1309" stop-color="#34008c"/><stop offset="0.5487" stop-color="#35004f"/><stop offset="0.5989" stop-color="#350047"/><stop offset="0.8064" stop-color="#35013f"/><stop offset="0.8343" stop-color="#38013e"/><stop offset="0.8482" stop-color="#3d013d"/><stop offset="0.8565" stop-color="#42033c"/><stop offset="0.8621" stop-color="#49033c"/><stop offset="0.8733" stop-color="#5d033b"/><stop offset="0.9359" stop-color="#5e0337"/><stop offset="0.9443" stop-color="#5c0337"/><stop offset="0.961" stop-color="#5e0335"/><stop offset="0.9708" stop-color="#570335"/><stop offset="0.9763" stop-color="#500335"/><stop offset="0.9847" stop-color="#3c0134"/><stop offset="0.9903" stop-color="#360134"/><stop offset="1" stop-color="#340033"/></linearGradient>
</defs>
<g filter="url(#lidar)">
<rect x="106" y="48" width="760" height="362" fill="#360280"/>
<rect x="107" y="49" width="3" height="359" fill="url(#s0)"/>
<rect x="110" y="49" width="3" height="359" fill="url(#s1)"/>
<rect x="113" y="49" width="3" height="359" fill="url(#s2)"/>
<rect x="116" y="49" width="3" height="359" fill="url(#s3)"/>
<rect x="119" y="49" width="3" height="359" fill="url(#s4)"/>
<rect x="122" y="49" width="3" height="359" fill="url(#s5)"/>
<rect x="125" y="49" width="3" height="359" fill="url(#s6)"/>
<rect x="128" y="49" width="3" height="359" fill="url(#s7)"/>
<rect x="131" y="49" width="3" height="359" fill="url(#s8)"/>
<rect x="134" y="49" width="3" height="359" fill="url(#s9)"/>
<rect x="137" y="49" width="3" height="359" fill="url(#s10)"/>
<rect x="140" y="49" width="3" height="359" fill="url(#s11)"/>
<rect x="143" y="49" width="3" height="359" fill="url(#s12)"/>
<rect x="146" y="49" width="3" height="359" fill="url(#s13)"/>
<rect x="149" y="49" width="3" height="359" fill="url(#s14)"/>
<rect x="152" y="49" width="3" height="359" fill="url(#s15)"/>
<rect x="155" y="49" width="3" height="359" fill="url(#s16)"/>
<rect x="158" y="49" width="3" height="359" fill="url(#s17)"/>
<rect x="161" y="49" width="3" height="359" fill="url(#s18)"/>
<rect x="164" y="49" width="3" height="359" fill="url(#s19)"/>
<rect x="167" y="49" width="3" height="359" fill="url(#s20)"/>
<rect x="170" y="49" width="3" height="359" fill="url(#s21)"/>
<rect x="173" y="49" width="3" height="359" fill="url(#s22)"/>
<rect x="176" y="49" width="3" height="359" fill="url(#s23)"/>
<rect x="179" y="49" width="3" height="359" fill="url(#s24)"/>
<rect x="182" y="49" width="3" height="359" fill="url(#s25)"/>
<rect x="185" y="49" width="3" height="359" fill="url(#s26)"/>
<rect x="188" y="49" width="3" height="359" fill="url(#s27)"/>
<rect x="191" y="49" width="3" height="359" fill="url(#s28)"/>
<rect x="194" y="49" width="3" height="359" fill="url(#s29)"/>
<rect x="197" y="49" width="3" height="359" fill="url(#s30)"/>
<rect x="200" y="49" width="3" height="359" fill="url(#s31)"/>
<rect x="203" y="49" width="3" height="359" fill="url(#s32)"/>
<rect x="218" y="49" width="3" height="359" fill="url(#s33)"/>
<rect x="221" y="49" width="3" height="359" fill="url(#s34)"/>
<rect x="224" y="49" width="3" height="359" fill="url(#s35)"/>
<rect x="227" y="49" width="3" height="359" fill="url(#s36)"/>
<rect x="230" y="49" width="3" height="359" fill="url(#s37)"/>
<rect x="233" y="49" width="3" height="359" fill="url(#s38)"/>
<rect x="236" y="49" width="3" height="359" fill="url(#s39)"/>
<rect x="239" y="49" width="3" height="359" fill="url(#s40)"/>
<rect x="242" y="49" width="3" height="359" fill="url(#s41)"/>
<rect x="245" y="49" width="3" height="359" fill="url(#s42)"/>
<rect x="248" y="49" width="3" height="359" fill="url(#s43)"/>
<rect x="251" y="49" width="3" height="359" fill="url(#s44)"/>
<rect x="254" y="49" width="3" height="359" fill="url(#s45)"/>
<rect x="257" y="49" width="3" height="359" fill="url(#s46)"/>
<rect x="260" y="49" width="3" height="359" fill="url(#s47)"/>
<rect x="263" y="49" width="3" height="359" fill="url(#s48)"/>
<rect x="266" y="49" width="3" height="359" fill="url(#s49)"/>
<rect x="269" y="49" width="3" height="359" fill="url(#s50)"/>
<rect x="272" y="49" width="3" height="359" fill="url(#s51)"/>
<rect x="275" y="49" width="3" height="359" fill="url(#s52)"/>
<rect x="278" y="49" width="3" height="359" fill="url(#s53)"/>
<rect x="281" y="49" width="3" height="359" fill="url(#s54)"/>
<rect x="284" y="49" width="3" height="359" fill="url(#s55)"/>
<rect x="287" y="49" width="3" height="359" fill="url(#s56)"/>
<rect x="290" y="49" width="3" height="359" fill="url(#s57)"/>
<rect x="293" y="49" width="3" height="359" fill="url(#s58)"/>
<rect x="296" y="49" width="3" height="359" fill="url(#s59)"/>
<rect x="299" y="49" width="3" height="359" fill="url(#s60)"/>
<rect x="302" y="49" width="3" height="359" fill="url(#s61)"/>
<rect x="305" y="49" width="3" height="359" fill="url(#s62)"/>
<rect x="308" y="49" width="3" height="359" fill="url(#s63)"/>
<rect x="311" y="49" width="3" height="359" fill="url(#s64)"/>
<rect x="314" y="49" width="3" height="359" fill="url(#s65)"/>
<rect x="317" y="49" width="3" height="359" fill="url(#s66)"/>
<rect x="320" y="49" width="3" height="359" fill="url(#s67)"/>
<rect x="323" y="49" width="3" height="359" fill="url(#s68)"/>
<rect x="326" y="49" width="3" height="359" fill="url(#s69)"/>
<rect x="329" y="49" width="3" height="359" fill="url(#s70)"/>
<rect x="332" y="49" width="3" height="359" fill="url(#s71)"/>
<rect x="335" y="49" width="3" height="359" fill="url(#s72)"/>
<rect x="338" y="49" width="3" height="359" fill="url(#s73)"/>
<rect x="341" y="49" width="3" height="359" fill="url(#s74)"/>
<rect x="344" y="49" width="3" height="359" fill="url(#s75)"/>
<rect x="347" y="49" width="3" height="359" fill="url(#s76)"/>
<rect x="350" y="49" width="3" height="359" fill="url(#s77)"/>
<rect x="353" y="49" width="3" height="359" fill="url(#s78)"/>
<rect x="356" y="49" width="3" height="359" fill="url(#s79)"/>
<rect x="359" y="49" width="3" height="359" fill="url(#s80)"/>
<rect x="362" y="49" width="3" height="359" fill="url(#s81)"/>
<rect x="374" y="49" width="3" height="359" fill="url(#s82)"/>
<rect x="377" y="49" width="3" height="359" fill="url(#s83)"/>
<rect x="380" y="49" width="3" height="359" fill="url(#s84)"/>
<rect x="383" y="49" width="3" height="359" fill="url(#s85)"/>
<rect x="386" y="49" width="3" height="359" fill="url(#s86)"/>
<rect x="389" y="49" width="3" height="359" fill="url(#s87)"/>
<rect x="392" y="49" width="3" height="359" fill="url(#s88)"/>
<rect x="395" y="49" width="3" height="359" fill="url(#s89)"/>
<rect x="398" y="49" width="3" height="359" fill="url(#s90)"/>
<rect x="401" y="49" width="3" height="359" fill="url(#s91)"/>
<rect x="404" y="49" width="3" height="359" fill="url(#s92)"/>
<rect x="407" y="49" width="3" height="359" fill="url(#s93)"/>
<rect x="410" y="49" width="3" height="359" fill="url(#s94)"/>
<rect x="413" y="49" width="3" height="359" fill="url(#s95)"/>
<rect x="416" y="49" width="3" height="359" fill="url(#s96)"/>
<rect x="419" y="49" width="3" height="359" fill="url(#s97)"/>
<rect x="422" y="49" width="3" height="359" fill="url(#s98)"/>
<rect x="425" y="49" width="3" height="359" fill="url(#s99)"/>
<rect x="428" y="49" width="3" height="359" fill="url(#s100)"/>
<rect x="431" y="49" width="3" height="359" fill="url(#s101)"/>
<rect x="434" y="49" width="3" height="359" fill="url(#s102)"/>
<rect x="437" y="49" width="3" height="359" fill="url(#s103)"/>
<rect x="440" y="49" width="3" height="359" fill="url(#s104)"/>
<rect x="443" y="49" width="3" height="359" fill="url(#s105)"/>
<rect x="446" y="49" width="3" height="359" fill="url(#s106)"/>
<rect x="449" y="49" width="3" height="359" fill="url(#s107)"/>
<rect x="452" y="49" width="3" height="359" fill="url(#s108)"/>
<rect x="455" y="49" width="3" height="359" fill="url(#s109)"/>
<rect x="458" y="49" width="3" height="359" fill="url(#s110)"/>
<rect x="461" y="49" width="3" height="359" fill="url(#s111)"/>
<rect x="464" y="49" width="3" height="359" fill="url(#s112)"/>
<rect x="467" y="49" width="3" height="359" fill="url(#s113)"/>
<rect x="470" y="49" width="3" height="359" fill="url(#s114)"/>
<rect x="473" y="49" width="3" height="359" fill="url(#s115)"/>
<rect x="476" y="49" width="3" height="359" fill="url(#s116)"/>
<rect x="479" y="49" width="3" height="359" fill="url(#s117)"/>
<rect x="482" y="49" width="3" height="359" fill="url(#s118)"/>
<rect x="485" y="49" width="3" height="359" fill="url(#s119)"/>
<rect x="488" y="49" width="3" height="359" fill="url(#s120)"/>
<rect x="491" y="49" width="3" height="359" fill="url(#s121)"/>
<rect x="494" y="49" width="3" height="359" fill="url(#s122)"/>
<rect x="497" y="49" width="3" height="359" fill="url(#s123)"/>
<rect x="500" y="49" width="3" height="359" fill="url(#s124)"/>
<rect x="503" y="49" width="3" height="359" fill="url(#s125)"/>
<rect x="506" y="49" width="3" height="359" fill="url(#s126)"/>
<rect x="509" y="49" width="3" height="359" fill="url(#s127)"/>
<rect x="512" y="49" width="3" height="359" fill="url(#s128)"/>
<rect x="515" y="49" width="3" height="359" fill="url(#s129)"/>
<rect x="518" y="49" width="3" height="359" fill="url(#s130)"/>
<rect x="521" y="49" width="3" height="359" fill="url(#s131)"/>
<rect x="524" y="49" width="3" height="359" fill="url(#s132)"/>
<rect x="527" y="49" width="3" height="359" fill="url(#s133)"/>
<rect x="530" y="49" width="3" height="359" fill="url(#s134)"/>
<rect x="533" y="49" width="3" height="359" fill="url(#s135)"/>
<rect x="536" y="49" width="3" height="359" fill="url(#s136)"/>
<rect x="539" y="49" width="3" height="359" fill="url(#s137)"/>
<rect x="542" y="49" width="3" height="359" fill="url(#s138)"/>
<rect x="545" y="49" width="3" height="359" fill="url(#s139)"/>
<rect x="548" y="49" width="3" height="359" fill="url(#s140)"/>
<rect x="551" y="49" width="3" height="359" fill="url(#s141)"/>
<rect x="554" y="49" width="3" height="359" fill="url(#s142)"/>
<rect x="557" y="49" width="3" height="359" fill="url(#s143)"/>
<rect x="560" y="49" width="3" height="359" fill="url(#s144)"/>
<rect x="563" y="49" width="3" height="359" fill="url(#s145)"/>
<rect x="566" y="49" width="3" height="359" fill="url(#s146)"/>
<rect x="569" y="49" width="3" height="359" fill="url(#s147)"/>
<rect x="572" y="49" width="3" height="359" fill="url(#s148)"/>
<rect x="575" y="49" width="3" height="359" fill="url(#s149)"/>
<rect x="578" y="49" width="3" height="359" fill="url(#s150)"/>
<rect x="581" y="49" width="3" height="359" fill="url(#s151)"/>
<rect x="584" y="49" width="3" height="359" fill="url(#s152)"/>
<rect x="587" y="49" width="3" height="359" fill="url(#s153)"/>
<rect x="590" y="49" width="3" height="359" fill="url(#s154)"/>
<rect x="593" y="49" width="3" height="359" fill="url(#s155)"/>
<rect x="596" y="49" width="3" height="359" fill="url(#s156)"/>
<rect x="599" y="49" width="3" height="359" fill="url(#s157)"/>
<rect x="602" y="49" width="3" height="359" fill="url(#s158)"/>
<rect x="605" y="49" width="3" height="359" fill="url(#s159)"/>
<rect x="608" y="49" width="3" height="359" fill="url(#s160)"/>
<rect x="611" y="49" width="3" height="359" fill="url(#s161)"/>
<rect x="614" y="49" width="3" height="359" fill="url(#s162)"/>
<rect x="617" y="49" width="3" height="359" fill="url(#s163)"/>
<rect x="620" y="49" width="3" height="359" fill="url(#s164)"/>
<rect x="623" y="49" width="3" height="359" fill="url(#s165)"/>
<rect x="626" y="49" width="3" height="359" fill="url(#s166)"/>
<rect x="629" y="49" width="3" height="359" fill="url(#s167)"/>
<rect x="632" y="49" width="3" height="359" fill="url(#s168)"/>
<rect x="635" y="49" width="3" height="359" fill="url(#s169)"/>
<rect x="638" y="49" width="3" height="359" fill="url(#s170)"/>
<rect x="641" y="49" width="3" height="359" fill="url(#s171)"/>
<rect x="644" y="49" width="3" height="359" fill="url(#s172)"/>
<rect x="647" y="49" width="3" height="359" fill="url(#s173)"/>
<rect x="650" y="49" width="3" height="359" fill="url(#s174)"/>
<rect x="653" y="49" width="3" height="359" fill="url(#s175)"/>
<rect x="656" y="49" width="3" height="359" fill="url(#s176)"/>
<rect x="659" y="49" width="3" height="359" fill="url(#s177)"/>
<rect x="662" y="49" width="3" height="359" fill="url(#s178)"/>
<rect x="665" y="49" width="3" height="359" fill="url(#s179)"/>
<rect x="668" y="49" width="3" height="359" fill="url(#s180)"/>
<rect x="671" y="49" width="3" height="359" fill="url(#s181)"/>
<rect x="674" y="49" width="3" height="359" fill="url(#s182)"/>
<rect x="677" y="49" width="3" height="359" fill="url(#s183)"/>
<rect x="680" y="49" width="3" height="359" fill="url(#s184)"/>
<rect x="683" y="49" width="3" height="359" fill="url(#s185)"/>
<rect x="686" y="49" width="3" height="359" fill="url(#s186)"/>
<rect x="689" y="49" width="3" height="359" fill="url(#s187)"/>
<rect x="692" y="49" width="3" height="359" fill="url(#s188)"/>
<rect x="695" y="49" width="3" height="359" fill="url(#s189)"/>
<rect x="698" y="49" width="3" height="359" fill="url(#s190)"/>
<rect x="701" y="49" width="3" height="359" fill="url(#s191)"/>
<rect x="704" y="49" width="3" height="359" fill="url(#s192)"/>
<rect x="707" y="49" width="3" height="359" fill="url(#s193)"/>
<rect x="710" y="49" width="3" height="359" fill="url(#s194)"/>
<rect x="713" y="49" width="3" height="359" fill="url(#s195)"/>
<rect x="716" y="49" width="3" height="359" fill="url(#s196)"/>
<rect x="719" y="49" width="3" height="359" fill="url(#s197)"/>
<rect x="722" y="49" width="3" height="359" fill="url(#s198)"/>
<rect x="725" y="49" width="3" height="359" fill="url(#s199)"/>
<rect x="728" y="49" width="3" height="359" fill="url(#s200)"/>
<rect x="731" y="49" width="3" height="359" fill="url(#s201)"/>
<rect x="734" y="49" width="3" height="359" fill="url(#s202)"/>
<rect x="737" y="49" width="3" height="359" fill="url(#s203)"/>
<rect x="740" y="49" width="3" height="359" fill="url(#s204)"/>
<rect x="743" y="49" width="3" height="359" fill="url(#s205)"/>
<rect x="746" y="49" width="3" height="359" fill="url(#s206)"/>
<rect x="749" y="49" width="3" height="359" fill="url(#s207)"/>
<rect x="752" y="49" width="3" height="359" fill="url(#s208)"/>
<rect x="755" y="49" width="3" height="359" fill="url(#s209)"/>
<rect x="767" y="49" width="3" height="359" fill="url(#s210)"/>
<rect x="770" y="49" width="3" height="359" fill="url(#s211)"/>
<rect x="773" y="49" width="3" height="359" fill="url(#s212)"/>
<rect x="776" y="49" width="3" height="359" fill="url(#s213)"/>
<rect x="779" y="49" width="3" height="359" fill="url(#s214)"/>
<rect x="782" y="49" width="3" height="359" fill="url(#s215)"/>
<rect x="785" y="49" width="3" height="359" fill="url(#s216)"/>
<rect x="788" y="49" width="3" height="359" fill="url(#s217)"/>
<rect x="791" y="49" width="3" height="359" fill="url(#s218)"/>
<rect x="794" y="49" width="3" height="359" fill="url(#s219)"/>
<rect x="797" y="49" width="3" height="359" fill="url(#s220)"/>
<rect x="800" y="49" width="3" height="359" fill="url(#s221)"/>
<rect x="803" y="49" width="3" height="359" fill="url(#s222)"/>
<rect x="806" y="49" width="3" height="359" fill="url(#s223)"/>
<rect x="809" y="49" width="3" height="359" fill="url(#s224)"/>
<rect x="812" y="49" width="3" height="359" fill="url(#s225)"/>
<rect x="815" y="49" width="3" height="359" fill="url(#s226)"/>
<rect x="818" y="49" width="3" height="359" fill="url(#s227)"/>
<rect x="821" y="49" width="3" height="359" fill="url(#s228)"/>
<rect x="824" y="49" width="3" height="359" fill="url(#s229)"/>
<rect x="827" y="49" width="3" height="359" fill="url(#s230)"/>
<rect x="830" y="49" width="3" height="359" fill="url(#s231)"/>
<rect x="833" y="49" width="3" height="359" fill="url(#s232)"/>
<rect x="836" y="49" width="3" height="359" fill="url(#s233)"/>
<rect x="839" y="49" width="3" height="359" fill="url(#s234)"/>
<rect x="842" y="49" width="3" height="359" fill="url(#s235)"/>
<rect x="845" y="49" width="3" height="359" fill="url(#s236)"/>
<rect x="848" y="49" width="3" height="359" fill="url(#s237)"/>
<rect x="851" y="49" width="3" height="359" fill="url(#s238)"/>
<rect x="854" y="49" width="3" height="359" fill="url(#s239)"/>
<rect x="857" y="49" width="3" height="359" fill="url(#s240)"/>
<rect x="860" y="49" width="3" height="359" fill="url(#s241)"/>
<rect x="863" y="49" width="1" height="359" fill="url(#s242)"/>
<rect x="108" y="49" width="1" height="47.0" fill="#0c00ff"/>
<rect x="109" y="49" width="1" height="47.0" fill="#0c00ff"/>
<rect x="110" y="49" width="1" height="138.0" fill="#0c00ff"/>
<rect x="111" y="49" width="1" height="47.0" fill="#0c00ff"/>
<rect x="112" y="49" width="1" height="138.0" fill="#0c00ff"/>
<rect x="113" y="49" width="1" height="47.0" fill="#0c00ff"/>
<rect x="114" y="49" width="1" height="47.0" fill="#0c00ff"/>
<rect x="117" y="49" width="1" height="138.0" fill="#0c00ff"/>
<rect x="118" y="49" width="1" height="47.0" fill="#0c00ff"/>
<rect x="119" y="49" width="1" height="47.0" fill="#0c00ff"/>
<rect x="120" y="49" width="1" height="47.0" fill="#0c00ff"/>
<rect x="121" y="49" width="1" height="47.0" fill="#0c00ff"/>
<rect x="125" y="49" width="1" height="47.0" fill="#0c00ff"/>
<rect x="130" y="49" width="1" height="47.0" fill="#0c00ff"/>
<rect x="131" y="49" width="1" height="47.0" fill="#0c00ff"/>
<rect x="132" y="49" width="1" height="47.0" fill="#0c00ff"/>
<rect x="133" y="49" width="1" height="178.9" fill="#0c00ff"/>
<rect x="135" y="49" width="1" height="138.0" fill="#0c00ff"/>
<rect x="136" y="49" width="1" height="47.0" fill="#0c00ff"/>
<rect x="138" y="49" width="1" height="47.0" fill="#0c00ff"/>
<rect x="140" y="49" width="1" height="47.0" fill="#0c00ff"/>
<rect x="144" y="49" width="1" height="47.0" fill="#0c00ff"/>
<rect x="145" y="49" width="1" height="47.0" fill="#0c00ff"/>
<rect x="146" y="49" width="1" height="198.4" fill="#0c00ff"/>
<rect x="147" y="49" width="1" height="47.0" fill="#0c00ff"/>
<rect x="148" y="49" width="1" height="138.0" fill="#0c00ff"/>
<rect x="149" y="49" width="1" height="47.0" fill="#0c00ff"/>
<rect x="150" y="49" width="1" height="178.3" fill="#0c00ff"/>
<rect x="152" y="49" width="1" height="47.0" fill="#0c00ff"/>
<rect x="153" y="49" width="1" height="47.0" fill="#0c00ff"/>
<rect x="155" y="49" width="1" height="138.0" fill="#0c00ff"/>
<rect x="157" y="49" width="1" height="138.0" fill="#0c00ff"/>
<rect x="158" y="49" width="1" height="47.0" fill="#0c00ff"/>
<rect x="160" y="49" width="1" height="138.0" fill="#0c00ff"/>
<rect x="161" y="49" width="1" height="47.0" fill="#0c00ff"/>
<rect x="162" y="49" width="1" height="47.0" fill="#0c00ff"/>
<rect x="163" y="49" width="1" height="138.0" fill="#0c00ff"/>
<rect x="167" y="49" width="1" height="47.0" fill="#0c00ff"/>
<rect x="168" y="49" width="1" height="47.0" fill="#0c00ff"/>
<rect x="170" y="49" width="1" height="47.0" fill="#0c00ff"/>
<rect x="175" y="49" width="1" height="138.0" fill="#0c00ff"/>
<rect x="179" y="49" width="1" height="47.0" fill="#0c00ff"/>
<rect x="180" y="49" width="1" height="47.0" fill="#0c00ff"/>
<rect x="181" y="49" width="1" height="47.0" fill="#0c00ff"/>
<rect x="182" y="49" width="1" height="138.0" fill="#0c00ff"/>
<rect x="183" y="49" width="1" height="138.0" fill="#0c00ff"/>
<rect x="184" y="49" width="1" height="138.0" fill="#0c00ff"/>
<rect x="185" y="49" width="1" height="47.0" fill="#0c00ff"/>
<rect x="186" y="49" width="1" height="47.0" fill="#0c00ff"/>
<rect x="187" y="49" width="1" height="178.0" fill="#0c00ff"/>
<rect x="188" y="49" width="1" height="138.0" fill="#0c00ff"/>
<rect x="190" y="49" width="1" height="47.0" fill="#0c00ff"/>
<rect x="191" y="49" width="1" height="178.1" fill="#0c00ff"/>
<rect x="192" y="49" width="1" height="178.1" fill="#0c00ff"/>
<rect x="193" y="49" width="1" height="178.1" fill="#0c00ff"/>
<rect x="194" y="49" width="1" height="178.1" fill="#0c00ff"/>
<rect x="195" y="49" width="1" height="47.0" fill="#0c00ff"/>
<rect x="200" y="49" width="1" height="47.0" fill="#0c00ff"/>
<rect x="202" y="49" width="1" height="47.0" fill="#0c00ff"/>
<rect x="203" y="49" width="1" height="47.0" fill="#0c00ff"/>
<rect x="222" y="49" width="1" height="47.0" fill="#0c00ff"/>
<rect x="223" y="49" width="1" height="138.0" fill="#0c00ff"/>
<rect x="226" y="49" width="1" height="178.8" fill="#0c00ff"/>
<rect x="227" y="49" width="1" height="47.0" fill="#0c00ff"/>
<rect x="228" y="49" width="1" height="47.0" fill="#0c00ff"/>
<rect x="229" y="49" width="1" height="47.0" fill="#0c00ff"/>
<rect x="233" y="49" width="1" height="138.0" fill="#0c00ff"/>
<rect x="234" y="49" width="1" height="138.0" fill="#0c00ff"/>
<rect x="236" y="49" width="1" height="47.0" fill="#0c00ff"/>
<rect x="239" y="49" width="1" height="138.0" fill="#0c00ff"/>
<rect x="241" y="49" width="1" height="47.0" fill="#0c00ff"/>
<rect x="243" y="49" width="1" height="138.0" fill="#0c00ff"/>
<rect x="247" y="49" width="1" height="138.0" fill="#0c00ff"/>
<rect x="248" y="49" width="1" height="47.0" fill="#0c00ff"/>
<rect x="250" y="49" width="1" height="47.0" fill="#0c00ff"/>
<rect x="256" y="49" width="1" height="47.0" fill="#0c00ff"/>
<rect x="260" y="49" width="1" height="47.0" fill="#0c00ff"/>
<rect x="261" y="49" width="1" height="138.0" fill="#0c00ff"/>
<rect x="263" y="49" width="1" height="47.0" fill="#0c00ff"/>
<rect x="265" y="49" width="1" height="138.0" fill="#0c00ff"/>
<rect x="266" y="49" width="1" height="47.0" fill="#0c00ff"/>
<rect x="267" y="49" width="1" height="47.0" fill="#0c00ff"/>
<rect x="271" y="49" width="1" height="138.0" fill="#0c00ff"/>
<rect x="272" y="49" width="1" height="47.0" fill="#0c00ff"/>
<rect x="274" y="49" width="1" height="193.6" fill="#0c00ff"/>
<rect x="275" y="49" width="1" height="138.0" fill="#0c00ff"/>
<rect x="276" y="49" width="1" height="138.0" fill="#0c00ff"/>
<rect x="277" y="49" width="1" height="138.0" fill="#0c00ff"/>
<rect x="279" y="49" width="1" height="138.0" fill="#0c00ff"/>
<rect x="281" y="49" width="1" height="47.0" fill="#0c00ff"/>
<rect x="282" y="49" width="1" height="220.7" fill="#0c00ff"/>
<rect x="283" y="49" width="1" height="220.7" fill="#0c00ff"/>
<rect x="284" y="49" width="1" height="47.0" fill="#0c00ff"/>
<rect x="285" y="49" width="1" height="47.0" fill="#0c00ff"/>
<rect x="286" y="49" width="1" height="47.0" fill="#0c00ff"/>
<rect x="287" y="49" width="1" height="138.0" fill="#0c00ff"/>
<rect x="289" y="49" width="1" height="138.0" fill="#0c00ff"/>
<rect x="801" y="49" width="1" height="178.7" fill="#0c00ff"/>
<rect x="803" y="49" width="1" height="178.6" fill="#0c00ff"/>
<rect x="804" y="49" width="1" height="179.0" fill="#0c00ff"/>
<rect x="805" y="49" width="1" height="178.8" fill="#0c00ff"/>
<rect x="806" y="49" width="1" height="178.8" fill="#0c00ff"/>
<rect x="810" y="49" width="1" height="178.6" fill="#0c00ff"/>
<rect x="812" y="49" width="1" height="79.4" fill="#0c00ff"/>
<rect x="813" y="49" width="1" height="138.0" fill="#0c00ff"/>
<rect x="814" y="49" width="1" height="64.1" fill="#0c00ff"/>
<rect x="815" y="49" width="1" height="65.1" fill="#0c00ff"/>
<rect x="816" y="49" width="1" height="47.0" fill="#0c00ff"/>
<rect x="817" y="49" width="1" height="138.0" fill="#0c00ff"/>
<rect x="818" y="49" width="1" height="47.0" fill="#0c00ff"/>
<rect x="820" y="49" width="1" height="51.6" fill="#0c00ff"/>
<rect x="821" y="49" width="1" height="47.0" fill="#0c00ff"/>
<rect x="822" y="49" width="1" height="178.4" fill="#0c00ff"/>
<rect x="825" y="49" width="1" height="178.4" fill="#0c00ff"/>
<rect x="826" y="49" width="1" height="178.5" fill="#0c00ff"/>
<rect x="828" y="49" width="1" height="178.5" fill="#0c00ff"/>
<rect x="829" y="49" width="1" height="178.5" fill="#0c00ff"/>
<rect x="830" y="49" width="1" height="138.0" fill="#0c00ff"/>
<rect x="831" y="49" width="1" height="178.9" fill="#0c00ff"/>
<rect x="833" y="49" width="1" height="47.0" fill="#0c00ff"/>
<rect x="834" y="49" width="1" height="47.0" fill="#0c00ff"/>
<rect x="835" y="49" width="1" height="138.0" fill="#0c00ff"/>
<rect x="836" y="49" width="1" height="138.0" fill="#0c00ff"/>
<rect x="838" y="49" width="1" height="138.0" fill="#0c00ff"/>
<rect x="839" y="49" width="1" height="138.0" fill="#0c00ff"/>
<rect x="840" y="49" width="1" height="178.3" fill="#0c00ff"/>
<rect x="841" y="49" width="1" height="138.0" fill="#0c00ff"/>
<rect x="842" y="49" width="1" height="178.1" fill="#0c00ff"/>
<rect x="845" y="49" width="1" height="178.1" fill="#0c00ff"/>
<rect x="846" y="49" width="1" height="138.0" fill="#0c00ff"/>
<rect x="847" y="49" width="1" height="47.0" fill="#0c00ff"/>
<rect x="848" y="49" width="1" height="138.0" fill="#0c00ff"/>
<rect x="851" y="49" width="1" height="138.0" fill="#0c00ff"/>
<rect x="852" y="49" width="1" height="138.0" fill="#0c00ff"/>
<rect x="854" y="49" width="1" height="138.0" fill="#0c00ff"/>
<rect x="855" y="49" width="1" height="138.0" fill="#0c00ff"/>
<rect x="856" y="49" width="1" height="138.0" fill="#0c00ff"/>
<rect x="857" y="49" width="1" height="54.0" fill="#0c00ff"/>
<rect x="858" y="49" width="1" height="138.0" fill="#0c00ff"/>
<rect x="859" y="49" width="1" height="138.0" fill="#0c00ff"/>
<rect x="860" y="49" width="1" height="138.0" fill="#0c00ff"/>
<rect x="861" y="49" width="1" height="178.9" fill="#0c00ff"/>
<rect x="862" y="49" width="1" height="109.3" fill="#0c00ff"/>
<g filter="url(#soft2)"><ellipse cx="112.0" cy="392.0" rx="7.0" ry="2.0" fill="#7f0200" opacity="1"/><ellipse cx="126.0" cy="389.5" rx="6.0" ry="2.6" fill="#840200" opacity="1" transform="rotate(25 126 389.5)"/><ellipse cx="131.5" cy="392.0" rx="3.5" ry="1.8" fill="#8c0200" opacity="1"/><ellipse cx="164.5" cy="391.5" rx="2.5" ry="3.5" fill="#7c0200" opacity="1"/><ellipse cx="185.0" cy="393.0" rx="6.0" ry="1.0" fill="#7c0200" opacity="1"/><ellipse cx="235.0" cy="392.0" rx="8.0" ry="1.8" fill="#890200" opacity="1" transform="rotate(-8 235 392)"/><ellipse cx="246.0" cy="390.5" rx="8.0" ry="3.0" fill="#960200" opacity="1"/><ellipse cx="258.0" cy="389.5" rx="6.0" ry="2.0" fill="#8e0200" opacity="1" transform="rotate(-20 258 389.5)"/><ellipse cx="267.0" cy="386.5" rx="5.0" ry="1.6" fill="#840200" opacity="1" transform="rotate(-32 267 386.5)"/><ellipse cx="300.0" cy="380.0" rx="7.0" ry="3.0" fill="#7f0200" opacity="1"/><ellipse cx="305.0" cy="388.0" rx="4.0" ry="4.0" fill="#750200" opacity="1"/><ellipse cx="308.0" cy="381.0" rx="3.0" ry="4.0" fill="#750200" opacity="1"/><ellipse cx="318.0" cy="383.5" rx="4.0" ry="1.8" fill="#750200" opacity="1"/><ellipse cx="324.0" cy="381.0" rx="2.5" ry="1.5" fill="#7a0200" opacity="1"/><ellipse cx="748.5" cy="386.0" rx="2.5" ry="4.0" fill="#840200" opacity="1"/><ellipse cx="781.0" cy="365.0" rx="1.0" ry="2.5" fill="#700200" opacity="1"/><ellipse cx="855.0" cy="378.0" rx="8.0" ry="7.0" fill="#630200" opacity="0.7"/><ellipse cx="830.0" cy="391.0" rx="22.0" ry="2.5" fill="#630200" opacity="0.6"/></g>
<g><rect x="743" y="350" width="1" height="2" fill="#980300"/><rect x="744" y="350" width="1" height="2" fill="#9b0300"/><rect x="746" y="350" width="1" height="2" fill="#9b0300"/><rect x="747" y="350" width="1" height="1" fill="#d00300"/><rect x="748" y="350" width="1" height="2" fill="#cc0300"/><rect x="743" y="351" width="1" height="1" fill="#6a0300"/><rect x="744" y="351" width="1" height="2" fill="#940300"/><rect x="745" y="351" width="1" height="2" fill="#bb0300"/><rect x="746" y="351" width="1" height="1" fill="#a00300"/><rect x="747" y="351" width="1" height="1" fill="#d20300"/><rect x="748" y="351" width="1" height="2" fill="#c30300"/><rect x="743" y="352" width="1" height="1" fill="#6b0300"/><rect x="744" y="352" width="1" height="1" fill="#4c0300"/><rect x="745" y="352" width="1" height="1" fill="#750300"/><rect x="746" y="352" width="1" height="2" fill="#4e0300"/><rect x="748" y="352" width="1" height="1" fill="#550300"/><rect x="743" y="353" width="1" height="1" fill="#6b0300"/><rect x="744" y="353" width="1" height="1" fill="#5d0300"/><rect x="746" y="353" width="1" height="1" fill="#800300"/><rect x="747" y="353" width="1" height="1" fill="#b00300"/><rect x="748" y="353" width="1" height="1" fill="#810300"/><rect x="744" y="354" width="1" height="1" fill="#bf0300"/><rect x="745" y="354" width="1" height="1" fill="#7c0300"/><rect x="748" y="354" width="1" height="2" fill="#830300"/><rect x="743" y="355" width="1" height="2" fill="#520300"/><rect x="745" y="355" width="1" height="1" fill="#790300"/><rect x="746" y="355" width="1" height="2" fill="#c00300"/><rect x="747" y="355" width="1" height="1" fill="#4d0300"/><rect x="743" y="356" width="1" height="1" fill="#530300"/><rect x="746" y="356" width="1" height="2" fill="#960300"/><rect x="743" y="357" width="1" height="2" fill="#b50300"/><rect x="746" y="357" width="1" height="2" fill="#850300"/><rect x="743" y="358" width="1" height="1" fill="#520300"/><rect x="744" y="358" width="1" height="1" fill="#8f0300"/><rect x="745" y="358" width="1" height="1" fill="#cd0300"/><rect x="748" y="358" width="1" height="2" fill="#d50300"/><rect x="743" y="359" width="1" height="1" fill="#cb0300"/><rect x="746" y="359" width="1" height="1" fill="#4e0300"/><rect x="743" y="360" width="1" height="1" fill="#540300"/><rect x="744" y="361" width="1" height="2" fill="#4c0300"/><rect x="746" y="361" width="1" height="1" fill="#550300"/><rect x="747" y="361" width="1" height="1" fill="#830300"/><rect x="748" y="361" width="1" height="1" fill="#510300"/><rect x="743" y="362" width="1" height="1" fill="#530300"/><rect x="744" y="362" width="1" height="1" fill="#b30300"/><rect x="745" y="362" width="1" height="1" fill="#990300"/><rect x="746" y="362" width="1" height="1" fill="#510300"/><rect x="747" y="362" width="1" height="1" fill="#630300"/><rect x="743" y="363" width="1" height="1" fill="#7d0300"/><rect x="744" y="363" width="1" height="1" fill="#a70300"/><rect x="745" y="363" width="1" height="2" fill="#590300"/><rect x="746" y="363" width="1" height="2" fill="#540300"/><rect x="743" y="364" width="1" height="1" fill="#b50300"/><rect x="744" y="364" width="1" height="1" fill="#b20300"/><rect x="746" y="364" width="1" height="1" fill="#c00300"/><rect x="748" y="364" width="1" height="2" fill="#5d0300"/><rect x="743" y="365" width="1" height="1" fill="#b50300"/><rect x="747" y="365" width="1" height="2" fill="#9d0300"/><rect x="743" y="366" width="1" height="1" fill="#760300"/><rect x="745" y="366" width="1" height="1" fill="#5f0300"/><rect x="746" y="366" width="1" height="1" fill="#740300"/><rect x="747" y="366" width="1" height="2" fill="#790300"/><rect x="748" y="366" width="1" height="1" fill="#560300"/><rect x="745" y="367" width="1" height="2" fill="#520300"/><rect x="748" y="367" width="1" height="1" fill="#730300"/><rect x="745" y="368" width="1" height="1" fill="#850300"/><rect x="746" y="368" width="1" height="1" fill="#8a0300"/><rect x="747" y="368" width="1" height="1" fill="#c70300"/><rect x="748" y="368" width="1" height="2" fill="#690300"/><rect x="743" y="369" width="1" height="2" fill="#b70300"/><rect x="746" y="369" width="1" height="2" fill="#7d0300"/><rect x="747" y="369" width="1" height="2" fill="#930300"/><rect x="743" y="370" width="1" height="1" fill="#550300"/><rect x="744" y="370" width="1" height="1" fill="#8b0300"/><rect x="743" y="371" width="1" height="1" fill="#9b0300"/><rect x="744" y="371" width="1" height="2" fill="#540300"/><rect x="746" y="371" width="1" height="1" fill="#a50300"/><rect x="747" y="371" width="1" height="2" fill="#6b0300"/><rect x="748" y="371" width="1" height="1" fill="#850300"/><rect x="743" y="372" width="1" height="1" fill="#620300"/><rect x="744" y="372" width="1" height="2" fill="#8b0300"/><rect x="746" y="372" width="1" height="1" fill="#d40300"/><rect x="747" y="372" width="1" height="1" fill="#6d0300"/><rect x="744" y="373" width="1" height="2" fill="#5a0300"/><rect x="745" y="373" width="1" height="1" fill="#690300"/><rect x="746" y="373" width="1" height="1" fill="#910300"/><rect x="747" y="373" width="1" height="1" fill="#500300"/><rect x="748" y="373" width="1" height="2" fill="#6b0300"/><rect x="745" y="374" width="1" height="2" fill="#590300"/><rect x="746" y="374" width="1" height="1" fill="#590300"/><rect x="747" y="374" width="1" height="2" fill="#990300"/><rect x="748" y="374" width="1" height="1" fill="#980300"/><rect x="743" y="375" width="1" height="2" fill="#a60300"/><rect x="744" y="375" width="1" height="1" fill="#ab0300"/><rect x="746" y="375" width="1" height="1" fill="#9d0300"/><rect x="747" y="375" width="1" height="2" fill="#aa0300"/><rect x="743" y="376" width="1" height="2" fill="#760300"/><rect x="746" y="377" width="1" height="1" fill="#b30300"/><rect x="746" y="378" width="1" height="2" fill="#670300"/><rect x="748" y="378" width="1" height="2" fill="#5e0300"/><rect x="744" y="379" width="1" height="1" fill="#560300"/><rect x="745" y="379" width="1" height="1" fill="#b80300"/><rect x="747" y="379" width="1" height="1" fill="#5e0300"/><rect x="743" y="380" width="1" height="1" fill="#a10300"/><rect x="744" y="380" width="1" height="1" fill="#870300"/><rect x="745" y="380" width="1" height="2" fill="#6f0300"/><rect x="746" y="380" width="1" height="2" fill="#620300"/><rect x="748" y="380" width="1" height="2" fill="#b00300"/><rect x="748" y="383" width="1" height="1" fill="#8a0300"/><rect x="749" y="383" width="1" height="1" fill="#6f0300"/><rect x="750" y="383" width="1" height="1" fill="#b00300"/><rect x="751" y="383" width="1" height="1" fill="#680300"/><rect x="752" y="383" width="1" height="1" fill="#b40300"/><rect x="747" y="384" width="1" height="1" fill="#7f0300"/><rect x="748" y="384" width="1" height="2" fill="#b90300"/><rect x="749" y="384" width="1" height="1" fill="#a10300"/><rect x="750" y="384" width="1" height="2" fill="#700300"/><rect x="748" y="385" width="1" height="2" fill="#960300"/><rect x="752" y="385" width="1" height="2" fill="#6d0300"/><rect x="747" y="386" width="1" height="1" fill="#650300"/><rect x="748" y="386" width="1" height="2" fill="#590300"/><rect x="749" y="386" width="1" height="2" fill="#4f0300"/><rect x="751" y="386" width="1" height="1" fill="#940300"/><rect x="752" y="386" width="1" height="2" fill="#570300"/><rect x="747" y="387" width="1" height="2" fill="#a70300"/><rect x="750" y="387" width="1" height="1" fill="#5d0300"/><rect x="750" y="388" width="1" height="1" fill="#590300"/><rect x="747" y="389" width="1" height="1" fill="#4c0300"/><rect x="751" y="389" width="1" height="2" fill="#5b0300"/><rect x="752" y="389" width="1" height="2" fill="#660300"/><rect x="747" y="390" width="1" height="2" fill="#7a0300"/><rect x="750" y="390" width="1" height="2" fill="#830300"/><rect x="751" y="390" width="1" height="2" fill="#730300"/><rect x="752" y="390" width="1" height="2" fill="#a00300"/><rect x="747" y="391" width="1" height="2" fill="#c00300"/><rect x="748" y="391" width="1" height="2" fill="#c00300"/><rect x="749" y="391" width="1" height="2" fill="#4d0300"/><rect x="750" y="391" width="1" height="1" fill="#9c0300"/><rect x="751" y="391" width="1" height="2" fill="#a50300"/><rect x="752" y="391" width="1" height="1" fill="#680300"/><rect x="747" y="392" width="1" height="2" fill="#c00300"/><rect x="748" y="392" width="1" height="1" fill="#8b0300"/><rect x="750" y="392" width="1" height="2" fill="#b20300"/><rect x="752" y="392" width="1" height="2" fill="#4f0300"/><rect x="747" y="393" width="1" height="1" fill="#a00300"/><rect x="748" y="393" width="1" height="1" fill="#9a0300"/><rect x="749" y="393" width="1" height="2" fill="#6f0300"/><rect x="750" y="393" width="1" height="1" fill="#770300"/><rect x="612" y="379" width="1" height="2" fill="#c50300"/><rect x="613" y="379" width="1" height="1" fill="#880300"/><rect x="615" y="379" width="1" height="1" fill="#bb0300"/><rect x="616" y="379" width="1" height="1" fill="#510300"/><rect x="612" y="380" width="1" height="1" fill="#b10300"/><rect x="614" y="380" width="1" height="2" fill="#6c0300"/><rect x="612" y="381" width="1" height="2" fill="#500300"/><rect x="613" y="381" width="1" height="1" fill="#530300"/><rect x="614" y="381" width="1" height="2" fill="#680300"/><rect x="616" y="381" width="1" height="1" fill="#aa0300"/><rect x="615" y="382" width="1" height="2" fill="#a20300"/><rect x="616" y="382" width="1" height="2" fill="#4d0300"/><rect x="616" y="383" width="1" height="2" fill="#c20300"/><rect x="612" y="384" width="1" height="2" fill="#a90300"/><rect x="613" y="384" width="1" height="2" fill="#6b0300"/><rect x="615" y="384" width="1" height="2" fill="#9c0300"/><rect x="616" y="384" width="1" height="1" fill="#bd0300"/><rect x="612" y="385" width="1" height="1" fill="#b00300"/><rect x="613" y="385" width="1" height="1" fill="#640300"/><rect x="614" y="385" width="1" height="1" fill="#740300"/><rect x="615" y="385" width="1" height="1" fill="#5e0300"/><rect x="616" y="385" width="1" height="1" fill="#bd0300"/><rect x="612" y="386" width="1" height="1" fill="#a70300"/><rect x="613" y="386" width="1" height="1" fill="#c70300"/><rect x="615" y="386" width="1" height="1" fill="#b00300"/><rect x="614" y="387" width="1" height="1" fill="#670300"/><rect x="615" y="387" width="1" height="1" fill="#9e0300"/><rect x="616" y="387" width="1" height="2" fill="#4c0300"/><rect x="612" y="388" width="1" height="1" fill="#a40300"/><rect x="616" y="388" width="1" height="1" fill="#ba0300"/><rect x="612" y="389" width="1" height="1" fill="#b40300"/><rect x="614" y="389" width="1" height="1" fill="#780300"/><rect x="615" y="389" width="1" height="1" fill="#af0300"/><rect x="612" y="390" width="1" height="1" fill="#c60300"/><rect x="612" y="391" width="1" height="1" fill="#c60300"/><rect x="614" y="392" width="1" height="2" fill="#bd0300"/><rect x="615" y="392" width="1" height="1" fill="#7b0300"/><rect x="616" y="392" width="1" height="2" fill="#b40300"/><rect x="613" y="393" width="1" height="2" fill="#a10300"/><rect x="614" y="394" width="1" height="1" fill="#a70300"/><rect x="615" y="394" width="1" height="1" fill="#6a0300"/><rect x="616" y="394" width="1" height="1" fill="#570300"/><rect x="612" y="395" width="1" height="2" fill="#4d0300"/><rect x="614" y="395" width="1" height="2" fill="#9e0300"/><rect x="615" y="395" width="1" height="1" fill="#8a0300"/><rect x="616" y="395" width="1" height="2" fill="#bb0300"/><rect x="612" y="396" width="1" height="2" fill="#850300"/><rect x="613" y="396" width="1" height="1" fill="#b70300"/><rect x="614" y="396" width="1" height="1" fill="#620300"/><rect x="615" y="396" width="1" height="1" fill="#af0300"/><rect x="653" y="339" width="1" height="2" fill="#5d0300"/><rect x="656" y="339" width="1" height="1" fill="#9d0300"/><rect x="657" y="339" width="1" height="2" fill="#720300"/><rect x="651" y="340" width="1" height="1" fill="#880300"/><rect x="652" y="340" width="1" height="1" fill="#770300"/><rect x="654" y="340" width="1" height="1" fill="#7d0300"/><rect x="655" y="340" width="1" height="1" fill="#890300"/><rect x="657" y="340" width="1" height="1" fill="#850300"/><rect x="652" y="341" width="1" height="1" fill="#a10300"/><rect x="653" y="341" width="1" height="2" fill="#890300"/><rect x="654" y="341" width="1" height="1" fill="#620300"/><rect x="656" y="341" width="1" height="2" fill="#900300"/><rect x="657" y="341" width="1" height="2" fill="#6d0300"/><rect x="652" y="342" width="1" height="2" fill="#5d0300"/><rect x="655" y="342" width="1" height="2" fill="#530300"/><rect x="656" y="342" width="1" height="1" fill="#4d0300"/><rect x="657" y="342" width="1" height="1" fill="#6a0300"/><rect x="658" y="342" width="1" height="2" fill="#790300"/><rect x="651" y="343" width="1" height="2" fill="#9c0300"/><rect x="653" y="343" width="1" height="2" fill="#7c0300"/><rect x="655" y="343" width="1" height="1" fill="#a50300"/><rect x="656" y="343" width="1" height="1" fill="#9f0300"/><rect x="657" y="343" width="1" height="1" fill="#a90300"/><rect x="658" y="343" width="1" height="1" fill="#670300"/><rect x="651" y="344" width="1" height="1" fill="#920300"/><rect x="652" y="344" width="1" height="1" fill="#a40300"/><rect x="653" y="344" width="1" height="2" fill="#a70300"/><rect x="655" y="344" width="1" height="1" fill="#630300"/><rect x="656" y="344" width="1" height="1" fill="#800300"/><rect x="657" y="344" width="1" height="2" fill="#af0300"/><rect x="658" y="344" width="1" height="2" fill="#750300"/><rect x="651" y="345" width="1" height="2" fill="#b60300"/><rect x="652" y="345" width="1" height="2" fill="#790300"/><rect x="653" y="345" width="1" height="1" fill="#800300"/><rect x="654" y="345" width="1" height="1" fill="#740300"/><rect x="656" y="345" width="1" height="1" fill="#5f0300"/><rect x="658" y="345" width="1" height="1" fill="#810300"/><rect x="651" y="346" width="1" height="1" fill="#680300"/><rect x="654" y="346" width="1" height="1" fill="#540300"/><rect x="656" y="346" width="1" height="1" fill="#5b0300"/><rect x="657" y="346" width="1" height="1" fill="#860300"/><rect x="658" y="346" width="1" height="2" fill="#b50300"/><rect x="651" y="347" width="1" height="1" fill="#780300"/><rect x="653" y="347" width="1" height="1" fill="#ad0300"/><rect x="654" y="347" width="1" height="1" fill="#660300"/><rect x="655" y="347" width="1" height="1" fill="#6c0300"/><rect x="656" y="347" width="1" height="2" fill="#860300"/><rect x="657" y="347" width="1" height="1" fill="#540300"/><rect x="658" y="347" width="1" height="2" fill="#790300"/><rect x="653" y="348" width="1" height="1" fill="#5e0300"/><rect x="654" y="348" width="1" height="1" fill="#4d0300"/><rect x="657" y="348" width="1" height="1" fill="#5e0300"/><rect x="651" y="349" width="1" height="2" fill="#710300"/><rect x="653" y="349" width="1" height="2" fill="#790300"/><rect x="654" y="349" width="1" height="2" fill="#a40300"/><rect x="655" y="349" width="1" height="1" fill="#660300"/><rect x="657" y="349" width="1" height="2" fill="#820300"/><rect x="652" y="350" width="1" height="1" fill="#8b0300"/><rect x="655" y="350" width="1" height="2" fill="#930300"/><rect x="656" y="350" width="1" height="1" fill="#5a0300"/><rect x="621" y="379" width="1" height="1" fill="#ad0300"/><rect x="622" y="379" width="1" height="1" fill="#a30300"/><rect x="624" y="379" width="1" height="2" fill="#610300"/><rect x="621" y="380" width="1" height="1" fill="#760300"/><rect x="622" y="380" width="1" height="1" fill="#ae0300"/><rect x="621" y="381" width="1" height="1" fill="#5d0300"/><rect x="623" y="381" width="1" height="2" fill="#750300"/><rect x="623" y="382" width="1" height="1" fill="#ae0300"/><rect x="625" y="382" width="1" height="1" fill="#510300"/><rect x="621" y="383" width="1" height="2" fill="#9c0300"/><rect x="623" y="383" width="1" height="1" fill="#620300"/><rect x="624" y="383" width="1" height="2" fill="#790300"/><rect x="625" y="383" width="1" height="1" fill="#ad0300"/><rect x="622" y="384" width="1" height="2" fill="#4c0300"/><rect x="623" y="384" width="1" height="2" fill="#6b0300"/><rect x="624" y="384" width="1" height="2" fill="#840300"/><rect x="625" y="384" width="1" height="1" fill="#4d0300"/><rect x="622" y="385" width="1" height="2" fill="#900300"/><rect x="625" y="385" width="1" height="2" fill="#9c0300"/><rect x="621" y="386" width="1" height="1" fill="#4f0300"/><rect x="622" y="386" width="1" height="1" fill="#8b0300"/><rect x="624" y="386" width="1" height="1" fill="#6f0300"/><rect x="625" y="386" width="1" height="2" fill="#600300"/><rect x="621" y="387" width="1" height="1" fill="#9e0300"/><rect x="621" y="388" width="1" height="1" fill="#730300"/><rect x="622" y="388" width="1" height="1" fill="#b30300"/><rect x="625" y="388" width="1" height="1" fill="#700300"/><rect x="621" y="389" width="1" height="2" fill="#b00300"/><rect x="622" y="389" width="1" height="1" fill="#810300"/><rect x="623" y="389" width="1" height="2" fill="#6b0300"/><rect x="625" y="389" width="1" height="2" fill="#880300"/><rect x="623" y="390" width="1" height="1" fill="#560300"/><rect x="624" y="390" width="1" height="1" fill="#a30300"/><rect x="621" y="391" width="1" height="1" fill="#7a0300"/><rect x="625" y="391" width="1" height="1" fill="#740300"/><rect x="622" y="392" width="1" height="1" fill="#4c0300"/><rect x="624" y="392" width="1" height="2" fill="#670300"/><rect x="636" y="383" width="1" height="2" fill="#880300"/><rect x="639" y="383" width="1" height="1" fill="#670300"/><rect x="640" y="383" width="1" height="2" fill="#680300"/><rect x="636" y="384" width="1" height="2" fill="#820300"/><rect x="637" y="384" width="1" height="1" fill="#620300"/><rect x="638" y="384" width="1" height="1" fill="#860300"/><rect x="639" y="384" width="1" height="2" fill="#5a0300"/><rect x="640" y="384" width="1" height="1" fill="#6a0300"/><rect x="641" y="384" width="1" height="2" fill="#8b0300"/><rect x="636" y="385" width="1" height="1" fill="#9b0300"/><rect x="638" y="385" width="1" height="1" fill="#5b0300"/><rect x="639" y="385" width="1" height="1" fill="#7b0300"/><rect x="636" y="386" width="1" height="2" fill="#640300"/><rect x="639" y="386" width="1" height="1" fill="#870300"/><rect x="640" y="386" width="1" height="1" fill="#880300"/><rect x="641" y="386" width="1" height="1" fill="#530300"/><rect x="637" y="387" width="1" height="1" fill="#710300"/><rect x="639" y="387" width="1" height="1" fill="#540300"/><rect x="640" y="387" width="1" height="2" fill="#500300"/><rect x="641" y="387" width="1" height="1" fill="#620300"/><rect x="636" y="388" width="1" height="1" fill="#680300"/><rect x="638" y="388" width="1" height="1" fill="#650300"/><rect x="639" y="388" width="1" height="1" fill="#6f0300"/><rect x="640" y="388" width="1" height="2" fill="#640300"/><rect x="641" y="388" width="1" height="2" fill="#790300"/><rect x="636" y="389" width="1" height="2" fill="#6b0300"/><rect x="638" y="389" width="1" height="2" fill="#4c0300"/><rect x="639" y="389" width="1" height="1" fill="#600300"/><rect x="640" y="389" width="1" height="2" fill="#860300"/><rect x="641" y="389" width="1" height="2" fill="#880300"/><rect x="636" y="390" width="1" height="1" fill="#7a0300"/><rect x="637" y="390" width="1" height="1" fill="#5d0300"/><rect x="638" y="390" width="1" height="1" fill="#9e0300"/><rect x="640" y="390" width="1" height="1" fill="#670300"/><rect x="636" y="391" width="1" height="1" fill="#a30300"/><rect x="637" y="391" width="1" height="1" fill="#640300"/><rect x="638" y="391" width="1" height="1" fill="#540300"/><rect x="639" y="391" width="1" height="2" fill="#600300"/><rect x="640" y="391" width="1" height="2" fill="#7c0300"/><rect x="641" y="391" width="1" height="1" fill="#7e0300"/><rect x="636" y="392" width="1" height="1" fill="#900300"/><rect x="637" y="392" width="1" height="2" fill="#990300"/><rect x="638" y="392" width="1" height="1" fill="#510300"/><rect x="639" y="392" width="1" height="2" fill="#5b0300"/><rect x="640" y="392" width="1" height="1" fill="#8e0300"/><rect x="704" y="371" width="1" height="2" fill="#760300"/><rect x="706" y="371" width="1" height="2" fill="#560300"/><rect x="709" y="371" width="1" height="1" fill="#590300"/><rect x="710" y="371" width="1" height="1" fill="#770300"/><rect x="704" y="372" width="1" height="1" fill="#ac0300"/><rect x="705" y="372" width="1" height="2" fill="#530300"/><rect x="708" y="372" width="1" height="2" fill="#a10300"/><rect x="709" y="372" width="1" height="2" fill="#aa0300"/><rect x="710" y="372" width="1" height="1" fill="#7b0300"/><rect x="703" y="373" width="1" height="2" fill="#500300"/><rect x="704" y="373" width="1" height="2" fill="#830300"/><rect x="705" y="373" width="1" height="1" fill="#540300"/><rect x="707" y="373" width="1" height="1" fill="#4e0300"/><rect x="708" y="373" width="1" height="1" fill="#a80300"/><rect x="710" y="373" width="1" height="2" fill="#b40300"/><rect x="703" y="374" width="1" height="1" fill="#650300"/><rect x="704" y="374" width="1" height="2" fill="#720300"/><rect x="705" y="374" width="1" height="2" fill="#680300"/><rect x="708" y="374" width="1" height="2" fill="#680300"/><rect x="709" y="374" width="1" height="1" fill="#b10300"/><rect x="705" y="375" width="1" height="2" fill="#830300"/><rect x="706" y="375" width="1" height="2" fill="#530300"/><rect x="707" y="375" width="1" height="2" fill="#560300"/><rect x="708" y="375" width="1" height="2" fill="#b20300"/><rect x="709" y="375" width="1" height="2" fill="#5c0300"/><rect x="710" y="375" width="1" height="1" fill="#510300"/><rect x="706" y="376" width="1" height="1" fill="#5c0300"/><rect x="707" y="376" width="1" height="2" fill="#5a0300"/><rect x="709" y="376" width="1" height="2" fill="#5b0300"/><rect x="703" y="377" width="1" height="2" fill="#7b0300"/><rect x="705" y="377" width="1" height="1" fill="#650300"/><rect x="706" y="377" width="1" height="1" fill="#b60300"/><rect x="707" y="377" width="1" height="2" fill="#7d0300"/><rect x="709" y="377" width="1" height="2" fill="#b70300"/><rect x="710" y="377" width="1" height="1" fill="#5d0300"/><rect x="703" y="378" width="1" height="1" fill="#7e0300"/><rect x="704" y="378" width="1" height="1" fill="#7b0300"/><rect x="706" y="378" width="1" height="1" fill="#730300"/><rect x="707" y="378" width="1" height="2" fill="#800300"/><rect x="708" y="378" width="1" height="1" fill="#540300"/><rect x="710" y="378" width="1" height="1" fill="#600300"/><rect x="703" y="379" width="1" height="1" fill="#810300"/><rect x="705" y="379" width="1" height="2" fill="#680300"/><rect x="706" y="379" width="1" height="2" fill="#660300"/><rect x="710" y="379" width="1" height="1" fill="#990300"/><rect x="705" y="380" width="1" height="1" fill="#980300"/><rect x="706" y="380" width="1" height="1" fill="#550300"/><rect x="710" y="380" width="1" height="1" fill="#600300"/><rect x="703" y="381" width="1" height="2" fill="#730300"/><rect x="707" y="381" width="1" height="2" fill="#950300"/><rect x="710" y="381" width="1" height="1" fill="#4d0300"/><rect x="743" y="339" width="1" height="1" fill="#5f0300"/><rect x="746" y="339" width="1" height="1" fill="#7c0300"/><rect x="747" y="339" width="1" height="1" fill="#830300"/><rect x="748" y="339" width="1" height="1" fill="#4d0300"/><rect x="749" y="339" width="1" height="1" fill="#5b0300"/><rect x="751" y="339" width="1" height="2" fill="#840300"/><rect x="752" y="339" width="1" height="2" fill="#7e0300"/><rect x="746" y="340" width="1" height="2" fill="#5d0300"/><rect x="747" y="340" width="1" height="1" fill="#740300"/><rect x="749" y="340" width="1" height="2" fill="#5a0300"/><rect x="750" y="340" width="1" height="1" fill="#5b0300"/><rect x="751" y="340" width="1" height="1" fill="#590300"/><rect x="752" y="340" width="1" height="1" fill="#500300"/><rect x="744" y="341" width="1" height="1" fill="#750300"/><rect x="745" y="341" width="1" height="1" fill="#600300"/><rect x="746" y="341" width="1" height="2" fill="#7d0300"/><rect x="747" y="341" width="1" height="2" fill="#760300"/><rect x="748" y="341" width="1" height="1" fill="#530300"/><rect x="749" y="341" width="1" height="2" fill="#500300"/><rect x="752" y="341" width="1" height="2" fill="#510300"/><rect x="743" y="342" width="1" height="2" fill="#560300"/><rect x="744" y="342" width="1" height="2" fill="#710300"/><rect x="745" y="342" width="1" height="2" fill="#570300"/><rect x="747" y="342" width="1" height="1" fill="#690300"/><rect x="748" y="342" width="1" height="1" fill="#7c0300"/><rect x="749" y="342" width="1" height="1" fill="#4e0300"/><rect x="699" y="374" width="1" height="1" fill="#550300"/><rect x="700" y="374" width="1" height="2" fill="#560300"/><rect x="701" y="374" width="1" height="1" fill="#550300"/><rect x="702" y="374" width="1" height="1" fill="#7e0300"/><rect x="697" y="375" width="1" height="2" fill="#7e0300"/><rect x="698" y="375" width="1" height="1" fill="#8f0300"/><rect x="699" y="375" width="1" height="1" fill="#5a0300"/><rect x="700" y="375" width="1" height="2" fill="#900300"/><rect x="698" y="376" width="1" height="1" fill="#540300"/><rect x="700" y="376" width="1" height="2" fill="#830300"/><rect x="701" y="376" width="1" height="1" fill="#880300"/><rect x="702" y="376" width="1" height="1" fill="#8a0300"/><rect x="697" y="377" width="1" height="2" fill="#590300"/><rect x="699" y="377" width="1" height="2" fill="#500300"/><rect x="700" y="377" width="1" height="2" fill="#740300"/><rect x="698" y="378" width="1" height="1" fill="#6e0300"/><rect x="701" y="378" width="1" height="2" fill="#570300"/><rect x="697" y="379" width="1" height="1" fill="#650300"/><rect x="699" y="379" width="1" height="2" fill="#580300"/><rect x="700" y="379" width="1" height="1" fill="#730300"/><rect x="701" y="379" width="1" height="1" fill="#880300"/><rect x="702" y="379" width="1" height="1" fill="#720300"/><rect x="697" y="380" width="1" height="1" fill="#710300"/><rect x="698" y="380" width="1" height="2" fill="#5f0300"/><rect x="699" y="380" width="1" height="1" fill="#5a0300"/><rect x="700" y="380" width="1" height="1" fill="#4f0300"/><rect x="697" y="381" width="1" height="1" fill="#630300"/><rect x="698" y="381" width="1" height="1" fill="#5a0300"/><rect x="699" y="381" width="1" height="2" fill="#500300"/><rect x="700" y="381" width="1" height="2" fill="#4c0300"/><rect x="701" y="381" width="1" height="1" fill="#7a0300"/><rect x="702" y="381" width="1" height="2" fill="#600300"/><rect x="697" y="382" width="1" height="1" fill="#510300"/><rect x="699" y="382" width="1" height="2" fill="#6d0300"/><rect x="700" y="382" width="1" height="1" fill="#890300"/><rect x="701" y="382" width="1" height="2" fill="#5b0300"/><rect x="697" y="383" width="1" height="2" fill="#5f0300"/><rect x="698" y="383" width="1" height="1" fill="#570300"/><rect x="780" y="361" width="1" height="2" fill="#980300"/><rect x="781" y="361" width="1" height="1" fill="#620300"/><rect x="782" y="361" width="1" height="1" fill="#5c0300"/><rect x="781" y="362" width="1" height="2" fill="#6b0300"/><rect x="780" y="363" width="1" height="1" fill="#8f0300"/><rect x="782" y="363" width="1" height="2" fill="#900300"/><rect x="781" y="364" width="1" height="1" fill="#5e0300"/><rect x="782" y="364" width="1" height="1" fill="#5a0300"/><rect x="780" y="367" width="1" height="1" fill="#600300"/><rect x="782" y="367" width="1" height="2" fill="#700300"/><rect x="780" y="368" width="1" height="1" fill="#7e0300"/><rect x="781" y="368" width="1" height="2" fill="#800300"/></g>
<g filter="url(#soft)"><rect x="376.0" y="389.9" width="1.0" height="0.7" fill="#d60000"/><rect x="377.0" y="389.6" width="1.0" height="2.0" fill="#d60000"/><rect x="378.0" y="389.4" width="1.0" height="2.0" fill="#d60000"/><rect x="379.0" y="387.5" width="1.0" height="3.2" fill="#d60000"/><rect x="380.0" y="387.2" width="1.0" height="3.2" fill="#d60000"/><rect x="381.0" y="386.9" width="1.0" height="3.2" fill="#d60000"/><rect x="382.0" y="388.2" width="1.0" height="1.6" fill="#d60000"/><rect x="383.0" y="387.9" width="1.0" height="1.6" fill="#d60000"/><rect x="384.0" y="387.6" width="1.0" height="1.6" fill="#d60000"/><rect x="385.0" y="386.1" width="1.0" height="3.0" fill="#d60000"/><rect x="386.0" y="387.2" width="1.0" height="0.6" fill="#d60000"/><rect x="387.0" y="385.2" width="1.0" height="2.4" fill="#d60000"/><rect x="388.0" y="385.0" width="1.0" height="2.4" fill="#d60000"/><rect x="389.0" y="384.6" width="1.0" height="2.6" fill="#d60000"/><rect x="390.0" y="385.5" width="1.0" height="2.8" fill="#d60000"/><rect x="391.0" y="385.2" width="1.0" height="2.8" fill="#d60000"/><rect x="392.0" y="383.9" width="1.0" height="3.1" fill="#d60000"/><rect x="393.0" y="385.5" width="1.0" height="2.1" fill="#d60000"/><rect x="394.0" y="384.9" width="1.0" height="2.4" fill="#d60000"/><rect x="395.0" y="384.0" width="1.0" height="3.6" fill="#d60000"/><rect x="396.0" y="383.7" width="1.0" height="3.7" fill="#d60000"/><rect x="397.0" y="383.2" width="1.0" height="3.7" fill="#d60000"/><rect x="398.0" y="384.9" width="1.0" height="2.1" fill="#d60000"/><rect x="399.0" y="383.5" width="1.0" height="2.7" fill="#d60000"/><rect x="400.0" y="384.5" width="1.0" height="3.1" fill="#d60000"/><rect x="401.0" y="384.7" width="1.0" height="3.0" fill="#d60000"/><rect x="402.0" y="384.8" width="1.0" height="3.0" fill="#d60000"/><rect x="403.0" y="384.5" width="1.0" height="3.3" fill="#d60000"/><rect x="404.0" y="384.6" width="1.0" height="3.3" fill="#d60000"/><rect x="405.0" y="385.9" width="1.0" height="2.5" fill="#d60000"/><rect x="406.0" y="386.4" width="1.0" height="0.6" fill="#d60000"/><rect x="407.0" y="386.6" width="1.0" height="0.6" fill="#d60000"/><rect x="408.0" y="385.3" width="1.0" height="2.7" fill="#d60000"/><rect x="409.0" y="386.2" width="1.0" height="2.0" fill="#d60000"/><rect x="410.0" y="386.3" width="1.0" height="2.0" fill="#d60000"/><rect x="411.0" y="386.4" width="1.0" height="2.0" fill="#d60000"/><rect x="412.0" y="387.3" width="1.0" height="1.1" fill="#d60000"/><rect x="413.0" y="388.0" width="1.0" height="1.2" fill="#d60000"/><rect x="414.0" y="387.7" width="1.0" height="3.8" fill="#d60000"/><rect x="415.0" y="388.9" width="1.0" height="3.4" fill="#d60000"/><rect x="416.0" y="390.7" width="1.0" height="2.1" fill="#d60000"/><rect x="417.0" y="391.6" width="1.0" height="1.7" fill="#d60000"/><rect x="418.0" y="392.4" width="1.0" height="1.8" fill="#d60000"/><rect x="419.0" y="393.1" width="1.0" height="1.9" fill="#d60000"/><rect x="420.0" y="391.6" width="1.0" height="3.2" fill="#d60000"/><rect x="421.0" y="392.0" width="1.0" height="3.9" fill="#d60000"/><rect x="422.0" y="392.6" width="1.0" height="2.8" fill="#d60000"/><rect x="423.0" y="392.8" width="1.0" height="3.5" fill="#d60000"/><rect x="424.0" y="392.7" width="1.0" height="3.5" fill="#d60000"/><rect x="425.0" y="392.0" width="1.0" height="4.3" fill="#d60000"/><rect x="426.0" y="393.4" width="1.0" height="2.4" fill="#d60000"/><rect x="427.0" y="392.2" width="1.0" height="2.8" fill="#d60000"/><rect x="428.0" y="389.1" width="1.0" height="4.3" fill="#d60000"/><rect x="429.0" y="387.2" width="1.0" height="4.8" fill="#d60000"/><rect x="430.0" y="386.7" width="1.0" height="5.3" fill="#d60000"/><rect x="431.0" y="385.7" width="1.0" height="5.6" fill="#d60000"/><rect x="432.0" y="383.1" width="1.0" height="8.0" fill="#d60000"/><rect x="433.0" y="382.5" width="1.0" height="8.4" fill="#d60000"/><rect x="434.0" y="383.0" width="1.0" height="6.7" fill="#d60000"/><rect x="435.0" y="384.7" width="1.0" height="5.5" fill="#d60000"/><rect x="436.0" y="382.5" width="1.0" height="6.9" fill="#d60000"/><rect x="437.0" y="383.2" width="1.0" height="6.4" fill="#d60000"/><rect x="438.0" y="383.3" width="1.0" height="5.9" fill="#d60000"/><rect x="439.0" y="381.4" width="1.0" height="7.2" fill="#d60000"/><rect x="440.0" y="382.6" width="1.0" height="5.8" fill="#d60000"/><rect x="441.0" y="382.5" width="1.0" height="5.0" fill="#d60000"/><rect x="442.0" y="381.9" width="1.0" height="6.4" fill="#d60000"/><rect x="443.0" y="383.6" width="1.0" height="5.1" fill="#d60000"/><rect x="444.0" y="382.5" width="1.0" height="6.1" fill="#d60000"/><rect x="445.0" y="382.6" width="1.0" height="5.4" fill="#d60000"/><rect x="446.0" y="381.7" width="1.0" height="7.6" fill="#d60000"/><rect x="447.0" y="382.7" width="1.0" height="6.5" fill="#d60000"/><rect x="448.0" y="382.8" width="1.0" height="6.3" fill="#d60000"/><rect x="449.0" y="382.0" width="1.0" height="6.4" fill="#d60000"/><rect x="450.0" y="381.9" width="1.0" height="6.4" fill="#d60000"/><rect x="451.0" y="381.8" width="1.0" height="5.6" fill="#d60000"/><rect x="452.0" y="381.6" width="1.0" height="5.8" fill="#d60000"/><rect x="453.0" y="381.3" width="1.0" height="5.9" fill="#d60000"/><rect x="454.0" y="381.7" width="1.0" height="6.9" fill="#d60000"/><rect x="455.0" y="382.1" width="1.0" height="4.8" fill="#d60000"/><rect x="456.0" y="381.9" width="1.0" height="4.9" fill="#d60000"/><rect x="457.0" y="380.3" width="1.0" height="7.0" fill="#d60000"/><rect x="458.0" y="380.1" width="1.0" height="7.1" fill="#d60000"/><rect x="459.0" y="379.7" width="1.0" height="8.2" fill="#d60000"/><rect x="460.0" y="379.6" width="1.0" height="8.5" fill="#d60000"/><rect x="461.0" y="381.3" width="1.0" height="5.4" fill="#d60000"/><rect x="462.0" y="381.0" width="1.0" height="5.5" fill="#d60000"/><rect x="463.0" y="379.5" width="1.0" height="7.3" fill="#d60000"/><rect x="464.0" y="378.2" width="1.0" height="8.7" fill="#d60000"/><rect x="465.0" y="378.2" width="1.0" height="7.7" fill="#d60000"/><rect x="466.0" y="377.0" width="1.0" height="3.4" fill="#d60000"/><rect x="467.0" y="377.8" width="1.0" height="5.1" fill="#d60000"/><rect x="468.0" y="379.2" width="1.0" height="3.5" fill="#d60000"/><rect x="469.0" y="376.9" width="1.0" height="4.7" fill="#d60000"/><rect x="470.0" y="374.7" width="1.0" height="6.9" fill="#d60000"/><rect x="471.0" y="374.5" width="1.0" height="3.8" fill="#d60000"/><rect x="472.0" y="374.7" width="1.0" height="6.3" fill="#d60000"/><rect x="473.0" y="374.4" width="1.0" height="6.9" fill="#d60000"/><rect x="474.0" y="377.1" width="1.0" height="4.6" fill="#d60000"/><rect x="475.0" y="378.6" width="1.0" height="2.7" fill="#d60000"/><rect x="476.0" y="377.9" width="1.0" height="3.7" fill="#d60000"/><rect x="477.0" y="376.0" width="1.0" height="4.6" fill="#d60000"/><rect x="478.0" y="374.7" width="1.0" height="3.0" fill="#d60000"/><rect x="479.0" y="374.0" width="1.0" height="5.1" fill="#d60000"/><rect x="480.0" y="376.9" width="1.0" height="3.7" fill="#d60000"/><rect x="481.0" y="375.7" width="1.0" height="1.9" fill="#d60000"/><rect x="482.0" y="374.8" width="1.0" height="5.6" fill="#d60000"/><rect x="483.0" y="378.7" width="1.0" height="2.6" fill="#d60000"/><rect x="484.0" y="377.8" width="1.0" height="3.3" fill="#d60000"/><rect x="485.0" y="374.7" width="1.0" height="4.1" fill="#d60000"/><rect x="486.0" y="377.8" width="1.0" height="2.4" fill="#d60000"/><rect x="487.0" y="377.2" width="1.0" height="3.2" fill="#d60000"/><rect x="488.0" y="376.1" width="1.0" height="4.4" fill="#d60000"/><rect x="489.0" y="375.4" width="1.0" height="5.5" fill="#d60000"/><rect x="490.0" y="378.9" width="1.0" height="1.8" fill="#d60000"/><rect x="491.0" y="374.6" width="1.0" height="5.4" fill="#d60000"/><rect x="492.0" y="376.5" width="1.0" height="2.0" fill="#d60000"/><rect x="493.0" y="375.6" width="1.0" height="4.8" fill="#d60000"/><rect x="494.0" y="376.0" width="1.0" height="2.9" fill="#d60000"/><rect x="495.0" y="380.2" width="1.0" height="2.0" fill="#d60000"/><rect x="496.0" y="379.5" width="1.0" height="3.0" fill="#d60000"/><rect x="497.0" y="377.5" width="1.0" height="4.4" fill="#d60000"/><rect x="498.0" y="379.1" width="1.0" height="1.8" fill="#d60000"/><rect x="499.0" y="379.0" width="1.0" height="3.2" fill="#d60000"/><rect x="500.0" y="376.4" width="1.0" height="2.9" fill="#d60000"/><rect x="501.0" y="378.6" width="1.0" height="2.1" fill="#d60000"/><rect x="502.0" y="376.0" width="1.0" height="6.1" fill="#d60000"/><rect x="503.0" y="375.5" width="1.0" height="4.6" fill="#d60000"/><rect x="504.0" y="377.5" width="1.0" height="1.6" fill="#d60000"/><rect x="505.0" y="374.3" width="1.0" height="5.2" fill="#d60000"/><rect x="506.0" y="373.0" width="1.0" height="3.1" fill="#d60000"/><rect x="507.0" y="373.6" width="1.0" height="5.0" fill="#d60000"/><rect x="508.0" y="371.4" width="1.0" height="7.4" fill="#d60000"/><rect x="509.0" y="375.1" width="1.0" height="4.7" fill="#d60000"/><rect x="510.0" y="371.6" width="1.0" height="8.5" fill="#d60000"/><rect x="511.0" y="371.7" width="1.0" height="4.3" fill="#d60000"/><rect x="512.0" y="372.0" width="1.0" height="7.3" fill="#d60000"/><rect x="513.0" y="374.6" width="1.0" height="2.3" fill="#d60000"/><rect x="514.0" y="371.1" width="1.0" height="7.1" fill="#d60000"/><rect x="515.0" y="372.4" width="1.0" height="2.7" fill="#d60000"/><rect x="516.0" y="373.3" width="1.0" height="1.8" fill="#d60000"/><rect x="517.0" y="370.6" width="1.0" height="3.4" fill="#d60000"/><rect x="518.0" y="367.1" width="1.0" height="8.3" fill="#d60000"/><rect x="519.0" y="365.2" width="1.0" height="9.7" fill="#d60000"/><rect x="520.0" y="364.9" width="1.0" height="7.1" fill="#d60000"/><rect x="521.0" y="367.4" width="1.0" height="6.0" fill="#d60000"/><rect x="522.0" y="365.4" width="1.0" height="8.5" fill="#d60000"/><rect x="523.0" y="364.5" width="1.0" height="9.7" fill="#d60000"/><rect x="524.0" y="366.0" width="1.0" height="8.1" fill="#d60000"/><rect x="525.0" y="364.8" width="1.0" height="7.2" fill="#d60000"/><rect x="526.0" y="368.9" width="1.0" height="4.8" fill="#d60000"/><rect x="527.0" y="368.6" width="1.0" height="5.6" fill="#d60000"/><rect x="528.0" y="367.0" width="1.0" height="6.8" fill="#d60000"/><rect x="529.0" y="368.4" width="1.0" height="5.0" fill="#d60000"/><rect x="530.0" y="363.3" width="1.0" height="10.9" fill="#d60000"/><rect x="531.0" y="363.3" width="1.0" height="11.8" fill="#d60000"/><rect x="532.0" y="364.2" width="1.0" height="15.0" fill="#d60000"/><rect x="533.0" y="361.6" width="1.0" height="14.1" fill="#d60000"/><rect x="534.0" y="363.7" width="1.0" height="14.6" fill="#d60000"/><rect x="535.0" y="364.3" width="1.0" height="14.7" fill="#d60000"/><rect x="536.0" y="362.3" width="1.0" height="16.8" fill="#d60000"/><rect x="537.0" y="361.9" width="1.0" height="16.9" fill="#d60000"/><rect x="538.0" y="362.6" width="1.0" height="12.3" fill="#d60000"/><rect x="539.0" y="362.4" width="1.0" height="16.8" fill="#d60000"/><rect x="540.0" y="366.7" width="1.0" height="10.0" fill="#d60000"/><rect x="541.0" y="366.9" width="1.0" height="10.2" fill="#d60000"/><rect x="542.0" y="367.9" width="1.0" height="12.2" fill="#d60000"/><rect x="543.0" y="367.3" width="1.0" height="9.5" fill="#d60000"/><rect x="544.0" y="366.6" width="1.0" height="11.3" fill="#d60000"/><rect x="545.0" y="366.0" width="1.0" height="15.6" fill="#d60000"/><rect x="546.0" y="369.2" width="1.0" height="13.5" fill="#d60000"/><rect x="547.0" y="367.7" width="1.0" height="17.6" fill="#d60000"/><rect x="548.0" y="370.8" width="1.0" height="12.0" fill="#d60000"/><rect x="549.0" y="366.6" width="1.0" height="17.7" fill="#d60000"/><rect x="550.0" y="370.5" width="1.0" height="15.0" fill="#d60000"/><rect x="551.0" y="368.9" width="1.0" height="17.1" fill="#d60000"/><rect x="552.0" y="366.5" width="1.0" height="17.0" fill="#d60000"/><rect x="553.0" y="366.9" width="1.0" height="18.1" fill="#d60000"/><rect x="554.0" y="367.6" width="1.0" height="16.4" fill="#d60000"/><rect x="555.0" y="371.0" width="1.0" height="15.2" fill="#d60000"/><rect x="556.0" y="368.9" width="1.0" height="17.2" fill="#d60000"/><rect x="557.0" y="369.8" width="1.0" height="16.6" fill="#d60000"/><rect x="558.0" y="368.6" width="1.0" height="13.2" fill="#d60000"/><rect x="559.0" y="367.2" width="1.0" height="13.7" fill="#d60000"/><rect x="560.0" y="367.8" width="1.0" height="9.2" fill="#d60000"/><rect x="561.0" y="364.4" width="1.0" height="9.3" fill="#d60000"/><rect x="562.0" y="364.8" width="1.0" height="8.2" fill="#d60000"/><rect x="563.0" y="359.9" width="1.0" height="10.9" fill="#d60000"/><rect x="564.0" y="363.2" width="1.0" height="6.2" fill="#d60000"/><rect x="565.0" y="359.7" width="1.0" height="8.4" fill="#d60000"/><rect x="566.0" y="361.1" width="1.0" height="6.6" fill="#d60000"/><rect x="567.0" y="361.7" width="1.0" height="7.1" fill="#d60000"/><rect x="568.0" y="363.4" width="1.0" height="6.3" fill="#d60000"/><rect x="569.0" y="361.2" width="1.0" height="6.9" fill="#d60000"/><rect x="570.0" y="361.9" width="1.0" height="8.3" fill="#d60000"/><rect x="571.0" y="364.1" width="1.0" height="4.3" fill="#d60000"/><rect x="572.0" y="361.9" width="1.0" height="5.0" fill="#d60000"/><rect x="573.0" y="360.3" width="1.0" height="4.5" fill="#d60000"/><rect x="574.0" y="359.7" width="1.0" height="4.4" fill="#d60000"/><rect x="575.0" y="359.7" width="1.0" height="5.5" fill="#d60000"/><rect x="576.0" y="361.9" width="1.0" height="3.2" fill="#d60000"/><rect x="577.0" y="361.6" width="1.0" height="2.6" fill="#d60000"/><rect x="578.0" y="359.4" width="1.0" height="4.8" fill="#d60000"/><rect x="579.0" y="358.5" width="1.0" height="6.8" fill="#d60000"/><rect x="580.0" y="362.3" width="1.0" height="2.9" fill="#d60000"/><rect x="581.0" y="358.1" width="1.0" height="5.8" fill="#d60000"/><rect x="582.0" y="357.8" width="1.0" height="7.7" fill="#d60000"/><rect x="583.0" y="357.5" width="1.0" height="11.5" fill="#d60000"/><rect x="584.0" y="356.0" width="1.0" height="9.8" fill="#d60000"/><rect x="585.0" y="355.3" width="1.0" height="13.9" fill="#d60000"/><rect x="586.0" y="352.6" width="1.0" height="17.3" fill="#d60000"/><rect x="587.0" y="357.4" width="1.0" height="13.3" fill="#d60000"/><rect x="588.0" y="357.6" width="1.0" height="15.9" fill="#d60000"/><rect x="589.0" y="358.3" width="1.0" height="17.4" fill="#d60000"/><rect x="590.0" y="361.5" width="1.0" height="16.2" fill="#d60000"/><rect x="591.0" y="364.9" width="1.0" height="20.5" fill="#d60000"/><rect x="592.0" y="367.6" width="1.0" height="20.3" fill="#d60000"/><rect x="593.0" y="371.9" width="1.0" height="22.1" fill="#d60000"/><rect x="594.0" y="370.1" width="1.0" height="28.5" fill="#d60000"/><rect x="595.0" y="367.4" width="1.0" height="27.0" fill="#d60000"/><rect x="596.0" y="367.0" width="1.0" height="23.8" fill="#d60000"/><rect x="597.0" y="359.4" width="1.0" height="14.9" fill="#d60000"/><rect x="598.0" y="357.7" width="1.0" height="12.5" fill="#d60000"/><rect x="599.0" y="359.9" width="1.0" height="12.3" fill="#d60000"/><rect x="600.0" y="357.0" width="1.0" height="15.9" fill="#d60000"/><rect x="601.0" y="358.6" width="1.0" height="11.2" fill="#d60000"/><rect x="602.0" y="358.4" width="1.0" height="13.5" fill="#d60000"/><rect x="603.0" y="355.3" width="1.0" height="16.0" fill="#d60000"/><rect x="604.0" y="356.1" width="1.0" height="13.3" fill="#d60000"/><rect x="605.0" y="356.8" width="1.0" height="14.7" fill="#d60000"/><rect x="606.0" y="357.3" width="1.0" height="11.0" fill="#d60000"/><rect x="607.0" y="361.5" width="1.0" height="12.2" fill="#d60000"/><rect x="608.0" y="360.1" width="1.0" height="9.8" fill="#d60000"/><rect x="609.0" y="358.6" width="1.0" height="12.4" fill="#d60000"/><rect x="610.0" y="362.7" width="0.5" height="7.5" fill="#d60000"/><rect x="604.0" y="357.4" width="1.0" height="16.2" fill="#d60000"/><rect x="605.0" y="357.4" width="1.0" height="16.2" fill="#d60000"/><rect x="606.0" y="357.1" width="1.0" height="16.5" fill="#d60000"/><rect x="607.0" y="357.4" width="1.0" height="16.3" fill="#d60000"/><rect x="608.0" y="358.5" width="1.0" height="15.1" fill="#d60000"/><rect x="609.0" y="358.6" width="1.0" height="15.1" fill="#d60000"/><rect x="610.0" y="358.4" width="0.6" height="15.5" fill="#d60000"/><rect x="612.0" y="372.9" width="1.0" height="6.8" fill="#d60000"/><rect x="613.0" y="371.9" width="1.0" height="8.1" fill="#d60000"/><rect x="614.0" y="371.9" width="1.0" height="7.8" fill="#d60000"/><rect x="615.0" y="372.9" width="1.0" height="6.3" fill="#d60000"/><rect x="616.0" y="371.8" width="1.0" height="7.9" fill="#d60000"/><rect x="617.0" y="371.8" width="1.0" height="7.7" fill="#d60000"/><rect x="618.0" y="371.9" width="1.0" height="7.5" fill="#d60000"/><rect x="619.0" y="372.2" width="1.0" height="7.4" fill="#d60000"/><rect x="620.0" y="371.9" width="1.0" height="7.5" fill="#d60000"/><rect x="621.0" y="372.9" width="1.0" height="6.4" fill="#d60000"/><rect x="622.0" y="371.8" width="1.0" height="6.8" fill="#d60000"/><rect x="623.0" y="371.4" width="1.0" height="7.8" fill="#d60000"/><rect x="624.0" y="372.1" width="1.0" height="6.5" fill="#d60000"/><rect x="625.0" y="371.8" width="0.5" height="7.1" fill="#d60000"/><rect x="617.0" y="353.6" width="1.0" height="18.3" fill="#d60000"/><rect x="618.0" y="353.8" width="0.2" height="18.1" fill="#d60000"/><rect x="625.5" y="350.4" width="0.5" height="17.9" fill="#d60000"/><rect x="626.0" y="350.0" width="1.0" height="18.7" fill="#d60000"/><rect x="627.0" y="349.6" width="1.0" height="20.1" fill="#d60000"/><rect x="628.0" y="349.6" width="1.0" height="19.6" fill="#d60000"/><rect x="629.0" y="349.7" width="1.0" height="19.5" fill="#d60000"/><rect x="630.0" y="349.8" width="1.0" height="19.4" fill="#d60000"/><rect x="631.0" y="349.9" width="1.0" height="19.3" fill="#d60000"/><rect x="632.0" y="350.7" width="1.0" height="19.0" fill="#d60000"/><rect x="633.0" y="350.4" width="1.0" height="19.5" fill="#d60000"/><rect x="634.0" y="351.2" width="1.0" height="18.4" fill="#d60000"/><rect x="635.0" y="352.6" width="1.0" height="17.6" fill="#d60000"/><rect x="636.0" y="354.5" width="1.0" height="16.6" fill="#d60000"/><rect x="637.0" y="357.2" width="1.0" height="15.4" fill="#d60000"/><rect x="638.0" y="359.5" width="1.0" height="15.0" fill="#d60000"/><rect x="639.0" y="362.1" width="1.0" height="15.8" fill="#d60000"/><rect x="640.0" y="363.8" width="1.0" height="17.2" fill="#d60000"/><rect x="641.0" y="366.5" width="1.0" height="16.6" fill="#d60000"/><rect x="642.0" y="368.1" width="1.0" height="17.4" fill="#d60000"/><rect x="643.0" y="369.7" width="1.0" height="18.2" fill="#d60000"/><rect x="644.0" y="371.3" width="1.0" height="18.8" fill="#d60000"/><rect x="645.0" y="371.7" width="1.0" height="20.5" fill="#d60000"/><rect x="646.0" y="374.3" width="1.0" height="19.4" fill="#d60000"/><rect x="647.0" y="377.5" width="1.0" height="16.6" fill="#d60000"/><rect x="648.0" y="380.6" width="1.0" height="13.8" fill="#d60000"/><rect x="649.0" y="383.9" width="1.0" height="10.3" fill="#d60000"/><rect x="650.0" y="385.6" width="1.0" height="8.1" fill="#d60000"/><rect x="651.0" y="386.1" width="0.7" height="7.2" fill="#d60000"/><rect x="651.7" y="350.0" width="0.3" height="14.7" fill="#d60000"/><rect x="652.0" y="350.6" width="1.0" height="13.6" fill="#d60000"/><rect x="653.0" y="349.7" width="1.0" height="16.0" fill="#d60000"/><rect x="654.0" y="349.5" width="1.0" height="15.5" fill="#d60000"/><rect x="655.0" y="350.8" width="1.0" height="14.4" fill="#d60000"/><rect x="656.0" y="349.7" width="1.0" height="15.9" fill="#d60000"/><rect x="657.0" y="351.0" width="1.0" height="14.0" fill="#d60000"/><rect x="658.0" y="351.4" width="0.3" height="13.5" fill="#d60000"/><rect x="655.5" y="351.0" width="0.5" height="29.0" fill="#d60000"/><rect x="656.0" y="351.7" width="1.0" height="30.0" fill="#d60000"/><rect x="657.0" y="352.2" width="1.0" height="31.7" fill="#d60000"/><rect x="658.0" y="353.6" width="1.0" height="32.2" fill="#d60000"/><rect x="659.0" y="355.9" width="1.0" height="33.3" fill="#d60000"/><rect x="660.0" y="358.0" width="1.0" height="34.0" fill="#d60000"/><rect x="661.0" y="360.0" width="1.0" height="34.5" fill="#d60000"/><rect x="662.0" y="362.0" width="1.0" height="34.5" fill="#d60000"/><rect x="663.0" y="364.3" width="1.0" height="34.2" fill="#d60000"/><rect x="664.0" y="367.1" width="1.0" height="32.3" fill="#d60000"/><rect x="665.0" y="368.7" width="1.0" height="31.0" fill="#d60000"/><rect x="666.0" y="370.8" width="1.0" height="29.1" fill="#d60000"/><rect x="667.0" y="373.4" width="1.0" height="26.1" fill="#d60000"/><rect x="668.0" y="374.4" width="0.5" height="25.4" fill="#d60000"/><rect x="681.3" y="339.1" width="0.7" height="32.9" fill="#d60000"/><rect x="682.0" y="339.6" width="1.0" height="32.2" fill="#d60000"/><rect x="683.0" y="340.2" width="0.6" height="31.7" fill="#d60000"/><rect x="685.0" y="347.8" width="1.0" height="27.2" fill="#d60000"/><rect x="686.0" y="347.9" width="1.0" height="27.5" fill="#d60000"/><rect x="687.0" y="348.0" width="0.3" height="27.7" fill="#d60000"/><rect x="680.0" y="372.9" width="1.0" height="11.5" fill="#d60000"/><rect x="681.0" y="371.8" width="1.0" height="13.6" fill="#d60000"/><rect x="682.0" y="372.9" width="1.0" height="14.9" fill="#d60000"/><rect x="683.0" y="373.8" width="1.0" height="16.5" fill="#d60000"/><rect x="684.0" y="374.7" width="1.0" height="18.2" fill="#d60000"/><rect x="685.0" y="375.5" width="1.0" height="19.8" fill="#d60000"/><rect x="686.0" y="376.8" width="1.0" height="20.5" fill="#d60000"/><rect x="687.0" y="378.0" width="1.0" height="20.4" fill="#d60000"/><rect x="688.0" y="379.1" width="1.0" height="20.7" fill="#d60000"/><rect x="689.0" y="380.3" width="1.0" height="20.6" fill="#d60000"/><rect x="690.0" y="381.3" width="1.0" height="19.5" fill="#d60000"/><rect x="691.0" y="381.9" width="1.0" height="16.4" fill="#d60000"/><rect x="692.0" y="382.8" width="1.0" height="13.9" fill="#d60000"/><rect x="693.0" y="383.7" width="1.0" height="11.4" fill="#d60000"/><rect x="694.0" y="384.9" width="1.0" height="8.9" fill="#d60000"/><rect x="695.0" y="386.3" width="1.0" height="6.1" fill="#d60000"/><rect x="694.6" y="346.0" width="0.4" height="38.0" fill="#d60000"/><rect x="695.0" y="344.1" width="1.0" height="39.8" fill="#d60000"/><rect x="696.0" y="342.7" width="1.0" height="41.1" fill="#d60000"/><rect x="697.0" y="344.8" width="1.0" height="38.4" fill="#d60000"/><rect x="698.0" y="346.4" width="0.2" height="36.6" fill="#d60000"/><rect x="703.0" y="373.2" width="1.0" height="5.7" fill="#d60000"/><rect x="704.0" y="373.2" width="1.0" height="5.2" fill="#d60000"/><rect x="705.0" y="373.0" width="1.0" height="6.1" fill="#d60000"/><rect x="706.0" y="372.8" width="1.0" height="6.3" fill="#d60000"/><rect x="707.0" y="372.8" width="1.0" height="6.4" fill="#d60000"/><rect x="708.0" y="374.1" width="1.0" height="5.3" fill="#d60000"/><rect x="709.0" y="374.1" width="1.0" height="4.8" fill="#d60000"/><rect x="710.0" y="374.2" width="1.0" height="4.8" fill="#d60000"/><rect x="713.0" y="336.1" width="1.0" height="15.8" fill="#d60000"/><rect x="714.0" y="336.1" width="0.2" height="15.8" fill="#d60000"/><rect x="711.5" y="356.2" width="0.5" height="33.3" fill="#d60000"/><rect x="712.0" y="354.8" width="1.0" height="37.7" fill="#d60000"/><rect x="713.0" y="352.2" width="1.0" height="42.1" fill="#d60000"/><rect x="714.0" y="354.6" width="1.0" height="41.7" fill="#d60000"/><rect x="715.0" y="357.0" width="1.0" height="41.2" fill="#d60000"/><rect x="716.0" y="359.3" width="1.0" height="40.8" fill="#d60000"/><rect x="717.0" y="361.8" width="1.0" height="38.8" fill="#d60000"/><rect x="718.0" y="363.0" width="1.0" height="37.4" fill="#d60000"/><rect x="719.0" y="364.4" width="1.0" height="35.7" fill="#d60000"/><rect x="720.0" y="366.2" width="1.0" height="32.4" fill="#d60000"/><rect x="721.0" y="367.6" width="1.0" height="30.4" fill="#d60000"/><rect x="722.0" y="369.9" width="1.0" height="25.8" fill="#d60000"/><rect x="723.0" y="371.1" width="1.0" height="23.4" fill="#d60000"/><rect x="724.0" y="373.9" width="1.0" height="16.7" fill="#d60000"/><rect x="723.2" y="349.2" width="0.8" height="22.7" fill="#d60000"/><rect x="724.0" y="349.2" width="0.4" height="22.7" fill="#d60000"/><rect x="727.0" y="347.8" width="1.0" height="36.2" fill="#d60000"/><rect x="728.0" y="348.2" width="0.4" height="35.6" fill="#d60000"/><rect x="732.5" y="359.2" width="0.5" height="13.6" fill="#d60000"/><rect x="733.0" y="359.2" width="0.7" height="13.6" fill="#d60000"/><rect x="729.0" y="376.2" width="1.0" height="2.5" fill="#d60000"/><rect x="730.0" y="375.0" width="1.0" height="2.3" fill="#d60000"/><rect x="731.0" y="374.5" width="1.0" height="2.3" fill="#d60000"/><rect x="732.0" y="374.1" width="1.0" height="2.5" fill="#d60000"/><rect x="733.0" y="372.8" width="1.0" height="3.0" fill="#d60000"/><rect x="734.0" y="373.4" width="1.0" height="2.0" fill="#d60000"/><rect x="735.0" y="371.7" width="1.0" height="3.3" fill="#d60000"/><rect x="736.0" y="371.1" width="1.0" height="3.3" fill="#d60000"/><rect x="737.0" y="371.8" width="1.0" height="2.8" fill="#d60000"/><rect x="738.0" y="371.3" width="0.5" height="1.8" fill="#d60000"/><rect x="748.5" y="352.0" width="0.5" height="32.0" fill="#d60000"/><rect x="749.0" y="351.8" width="1.0" height="31.8" fill="#d60000"/><rect x="750.0" y="352.4" width="1.0" height="30.6" fill="#d60000"/><rect x="751.0" y="352.4" width="1.0" height="29.4" fill="#d60000"/><rect x="752.0" y="351.7" width="1.0" height="29.5" fill="#d60000"/><rect x="753.0" y="351.8" width="1.0" height="28.7" fill="#d60000"/><rect x="754.0" y="352.5" width="1.0" height="28.1" fill="#d60000"/><rect x="755.0" y="352.0" width="0.5" height="27.1" fill="#d60000"/><rect x="769.0" y="350.6" width="1.0" height="5.7" fill="#d60000"/><rect x="770.0" y="349.4" width="1.0" height="7.1" fill="#d60000"/><rect x="771.0" y="349.6" width="1.0" height="7.3" fill="#d60000"/><rect x="772.0" y="350.7" width="1.0" height="6.1" fill="#d60000"/><rect x="773.0" y="350.4" width="1.0" height="5.3" fill="#d60000"/><rect x="774.0" y="349.9" width="1.0" height="5.7" fill="#d60000"/><rect x="775.0" y="350.0" width="1.0" height="4.9" fill="#d60000"/><rect x="776.0" y="350.6" width="1.0" height="3.6" fill="#d60000"/><rect x="777.0" y="351.9" width="1.0" height="2.5" fill="#d60000"/><rect x="778.0" y="351.8" width="1.0" height="1.3" fill="#d60000"/><rect x="241.5" y="388.8" width="0.5" height="3.3" fill="#d60000"/><rect x="242.0" y="389.7" width="1.0" height="2.6" fill="#d60000"/><rect x="243.0" y="389.5" width="1.0" height="2.0" fill="#d60000"/><rect x="244.0" y="388.3" width="1.0" height="3.8" fill="#d60000"/><rect x="245.0" y="388.2" width="1.0" height="3.8" fill="#d60000"/><rect x="246.0" y="388.1" width="1.0" height="3.5" fill="#d60000"/><rect x="247.0" y="388.1" width="1.0" height="3.5" fill="#d60000"/><rect x="248.0" y="389.1" width="1.0" height="3.3" fill="#d60000"/><rect x="249.0" y="387.8" width="1.0" height="4.3" fill="#d60000"/><rect x="250.0" y="388.2" width="1.0" height="3.8" fill="#d60000"/><rect x="251.0" y="388.5" width="0.5" height="3.4" fill="#d60000"/><rect x="261.0" y="388.8" width="1.0" height="0.7" fill="#d60000"/><rect x="262.0" y="387.5" width="1.0" height="1.1" fill="#d60000"/><rect x="266.0" y="385.2" width="1.0" height="1.5" fill="#d60000"/><rect x="267.0" y="384.8" width="1.0" height="1.1" fill="#d60000"/><rect x="268.0" y="384.3" width="1.0" height="1.1" fill="#d60000"/><rect x="269.0" y="383.9" width="1.0" height="1.0" fill="#d60000"/><rect x="270.0" y="383.8" width="1.0" height="1.1" fill="#d60000"/><rect x="271.0" y="383.4" width="0.5" height="0.9" fill="#d60000"/><rect x="291.0" y="376.8" width="1.0" height="3.8" fill="#d60000"/><rect x="292.0" y="376.2" width="1.0" height="4.2" fill="#d60000"/><rect x="293.0" y="375.8" width="1.0" height="3.7" fill="#d60000"/><rect x="294.0" y="376.9" width="1.0" height="3.5" fill="#d60000"/><rect x="295.0" y="375.9" width="1.0" height="4.7" fill="#d60000"/><rect x="296.0" y="375.3" width="1.0" height="5.4" fill="#d60000"/><rect x="297.0" y="375.2" width="1.0" height="5.6" fill="#d60000"/><rect x="298.0" y="376.6" width="1.0" height="3.5" fill="#d60000"/><rect x="299.0" y="376.6" width="1.0" height="3.7" fill="#d60000"/><rect x="300.0" y="375.9" width="1.0" height="5.5" fill="#d60000"/><rect x="301.0" y="376.0" width="1.0" height="4.8" fill="#d60000"/><rect x="302.0" y="376.2" width="1.0" height="4.9" fill="#d60000"/><rect x="303.0" y="376.6" width="1.0" height="5.0" fill="#d60000"/><rect x="304.0" y="377.6" width="1.0" height="3.4" fill="#d60000"/><rect x="305.0" y="377.0" width="1.0" height="4.3" fill="#d60000"/><rect x="300.0" y="386.0" width="1.0" height="3.5" fill="#d60000"/><rect x="301.0" y="386.2" width="1.0" height="3.2" fill="#d60000"/><rect x="302.0" y="386.4" width="1.0" height="2.9" fill="#d60000"/><rect x="314.6" y="382.9" width="0.4" height="1.6" fill="#d60000"/><rect x="315.0" y="383.1" width="1.0" height="1.1" fill="#d60000"/><rect x="316.0" y="382.8" width="1.0" height="1.4" fill="#d60000"/><rect x="317.0" y="381.7" width="1.0" height="1.7" fill="#d60000"/><rect x="318.0" y="381.3" width="1.0" height="2.6" fill="#d60000"/><rect x="319.0" y="381.1" width="1.0" height="2.0" fill="#d60000"/><rect x="328.0" y="380.4" width="1.0" height="4.6" fill="#d60000"/><rect x="329.0" y="378.9" width="1.0" height="6.8" fill="#d60000"/><rect x="330.0" y="379.7" width="1.0" height="5.8" fill="#d60000"/><rect x="331.0" y="379.4" width="1.0" height="6.1" fill="#d60000"/><rect x="332.0" y="378.4" width="1.0" height="6.5" fill="#d60000"/><rect x="333.0" y="377.8" width="1.0" height="6.8" fill="#d60000"/><rect x="334.0" y="377.7" width="1.0" height="6.6" fill="#d60000"/><rect x="335.0" y="377.9" width="1.0" height="5.9" fill="#d60000"/><rect x="336.0" y="378.2" width="1.0" height="5.2" fill="#d60000"/><rect x="337.0" y="377.5" width="1.0" height="6.5" fill="#d60000"/><rect x="338.0" y="377.3" width="1.0" height="6.2" fill="#d60000"/><rect x="339.0" y="377.2" width="1.0" height="6.1" fill="#d60000"/><rect x="340.0" y="378.0" width="1.0" height="5.6" fill="#d60000"/><rect x="341.0" y="377.0" width="1.0" height="5.7" fill="#d60000"/><rect x="342.0" y="377.9" width="1.0" height="4.8" fill="#d60000"/><rect x="343.0" y="377.0" width="1.0" height="5.7" fill="#d60000"/><rect x="344.0" y="376.8" width="1.0" height="5.7" fill="#d60000"/><rect x="345.0" y="376.6" width="1.0" height="5.7" fill="#d60000"/><rect x="346.0" y="377.4" width="1.0" height="5.0" fill="#d60000"/><rect x="347.0" y="377.4" width="1.0" height="4.9" fill="#d60000"/><rect x="348.0" y="377.4" width="1.0" height="4.8" fill="#d60000"/><rect x="349.0" y="377.4" width="1.0" height="4.5" fill="#d60000"/><rect x="350.0" y="377.6" width="1.0" height="4.2" fill="#d60000"/><rect x="351.0" y="377.0" width="1.0" height="3.9" fill="#d60000"/><rect x="352.0" y="376.9" width="1.0" height="4.5" fill="#d60000"/><rect x="353.0" y="377.3" width="1.0" height="3.7" fill="#d60000"/><rect x="354.0" y="377.5" width="1.0" height="3.0" fill="#d60000"/><rect x="355.0" y="378.7" width="1.0" height="1.3" fill="#d60000"/><rect x="356.0" y="378.5" width="1.0" height="0.9" fill="#d60000"/><rect x="357.0" y="378.4" width="1.0" height="0.8" fill="#d60000"/><rect x="358.0" y="378.4" width="1.0" height="0.9" fill="#d60000"/><rect x="359.0" y="378.3" width="1.0" height="1.0" fill="#d60000"/><rect x="360.0" y="377.5" width="1.0" height="1.2" fill="#d60000"/><rect x="361.0" y="378.2" width="0.5" height="1.2" fill="#d60000"/><rect x="354.5" y="391.8" width="0.5" height="1.6" fill="#d60000"/><rect x="355.0" y="391.9" width="1.0" height="1.3" fill="#d60000"/></g>
<g filter="url(#soft2)"><ellipse cx="320.0" cy="225.0" rx="6.0" ry="12.0" fill="#3f10ff" opacity="0.8"/><ellipse cx="355.0" cy="232.0" rx="4.0" ry="8.0" fill="#3d10ff" opacity="0.7"/><ellipse cx="495.0" cy="212.0" rx="6.0" ry="3.5" fill="#602500" opacity="0.9"/><ellipse cx="581.5" cy="222.0" rx="3.5" ry="4.5" fill="#652500" opacity="0.9"/><ellipse cx="649.0" cy="242.0" rx="3.0" ry="8.0" fill="#4215ff" opacity="0.8"/><ellipse cx="669.0" cy="221.0" rx="3.5" ry="6.0" fill="#c12b00" opacity="1"/><ellipse cx="677.5" cy="222.5" rx="4.0" ry="6.0" fill="#b73500" opacity="1"/></g><g><rect x="112.0" y="237.0" width="1" height="12.6" fill="#4c13cc" opacity="0.61"/><rect x="108.0" y="226.8" width="1" height="4.1" fill="#4c13cc" opacity="0.76"/><rect x="119.0" y="240.6" width="1" height="7.8" fill="#5213cc" opacity="0.85"/><rect x="111.0" y="225.8" width="1" height="12.4" fill="#5713cc" opacity="0.56"/><rect x="108.0" y="226.3" width="1" height="13.6" fill="#4b13cc" opacity="0.81"/><rect x="119.0" y="224.8" width="1" height="7.9" fill="#5413cc" opacity="0.96"/><rect x="110.0" y="230.2" width="1" height="6.5" fill="#4913cc" opacity="0.84"/><rect x="117.0" y="234.5" width="1" height="4.4" fill="#5a13cc" opacity="0.87"/><rect x="115.0" y="231.9" width="1" height="12.3" fill="#5813cc" opacity="0.79"/><rect x="114.0" y="229.6" width="1" height="8.6" fill="#5c13cc" opacity="0.84"/><rect x="112.0" y="243.7" width="1" height="8.3" fill="#4913cc" opacity="0.58"/><rect x="110.0" y="224.4" width="1" height="11.5" fill="#5813cc" opacity="0.77"/><rect x="119.0" y="232.6" width="1" height="6.0" fill="#4b13cc" opacity="0.67"/><rect x="118.0" y="238.6" width="1" height="4.6" fill="#5313cc" opacity="0.52"/><rect x="115.0" y="226.9" width="1" height="5.8" fill="#5813cc" opacity="0.92"/><rect x="115.0" y="231.0" width="1" height="10.5" fill="#4f13cc" opacity="0.50"/><rect x="111.0" y="240.5" width="1" height="10.3" fill="#4d13cc" opacity="0.92"/><rect x="117.0" y="230.7" width="1" height="13.6" fill="#4e13cc" opacity="0.53"/><rect x="114.0" y="244.8" width="1" height="7.2" fill="#5513cc" opacity="0.74"/><rect x="111.0" y="231.2" width="1" height="8.0" fill="#5513cc" opacity="0.97"/><rect x="108.0" y="230.1" width="1" height="13.4" fill="#5813cc" opacity="0.54"/><rect x="113.0" y="239.6" width="1" height="12.4" fill="#4a13cc" opacity="0.95"/><rect x="107" y="220" width="1" height="1" fill="#9f0300"/><rect x="107" y="221" width="1" height="1" fill="#670300"/><rect x="107" y="222" width="1" height="1" fill="#c30300"/><rect x="107" y="255" width="1" height="1" fill="#870300"/><rect x="107" y="256" width="1" height="2" fill="#830300"/><rect x="107" y="257" width="1" height="2" fill="#be0300"/><rect x="108" y="220" width="1" height="2" fill="#610300"/><rect x="108" y="222" width="1" height="1" fill="#6b0300"/><rect x="108" y="223" width="1" height="1" fill="#570300"/><rect x="108" y="255" width="1" height="1" fill="#750300"/><rect x="108" y="257" width="1" height="2" fill="#570300"/><rect x="109" y="223" width="1" height="2" fill="#6c0300"/><rect x="109" y="225" width="1" height="1" fill="#ad0300"/><rect x="109" y="226" width="1" height="1" fill="#520300"/><rect x="109" y="256" width="1" height="2" fill="#7a0300"/><rect x="109" y="259" width="1" height="1" fill="#670300"/><rect x="110" y="230" width="1" height="1" fill="#5c0300"/><rect x="110" y="232" width="1" height="2" fill="#ac0300"/><rect x="110" y="255" width="1" height="2" fill="#7e0300"/><rect x="110" y="256" width="1" height="2" fill="#5e0300"/><rect x="110" y="257" width="1" height="1" fill="#970300"/><rect x="110" y="258" width="1" height="1" fill="#610300"/><rect x="111" y="231" width="1" height="2" fill="#4c0300"/><rect x="111" y="232" width="1" height="2" fill="#5b0300"/><rect x="111" y="234" width="1" height="2" fill="#a00300"/><rect x="111" y="235" width="1" height="1" fill="#830300"/><rect x="111" y="236" width="1" height="2" fill="#690300"/><rect x="111" y="255" width="1" height="2" fill="#9a0300"/><rect x="111" y="256" width="1" height="1" fill="#ad0300"/><rect x="111" y="258" width="1" height="1" fill="#740300"/><rect x="111" y="259" width="1" height="1" fill="#bb0300"/><rect x="112" y="236" width="1" height="1" fill="#a90300"/><rect x="112" y="238" width="1" height="1" fill="#c30300"/><rect x="112" y="239" width="1" height="1" fill="#ba0300"/><rect x="112" y="255" width="1" height="2" fill="#4d0300"/><rect x="112" y="257" width="1" height="2" fill="#ad0300"/><rect x="113" y="238" width="1" height="1" fill="#c00300"/><rect x="113" y="254" width="1" height="1" fill="#550300"/><rect x="113" y="256" width="1" height="1" fill="#650300"/><rect x="113" y="257" width="1" height="1" fill="#af0300"/><rect x="113" y="258" width="1" height="2" fill="#850300"/><rect x="113" y="259" width="1" height="1" fill="#5e0300"/><rect x="114" y="239" width="1" height="1" fill="#5e0300"/><rect x="114" y="240" width="1" height="1" fill="#790300"/><rect x="114" y="241" width="1" height="2" fill="#6d0300"/><rect x="114" y="254" width="1" height="1" fill="#5a0300"/><rect x="115" y="239" width="1" height="1" fill="#bd0300"/><rect x="115" y="242" width="1" height="2" fill="#630300"/><rect x="115" y="254" width="1" height="1" fill="#670300"/><rect x="115" y="255" width="1" height="1" fill="#c80300"/><rect x="115" y="257" width="1" height="2" fill="#b30300"/><rect x="116" y="240" width="1" height="1" fill="#be0300"/><rect x="116" y="242" width="1" height="1" fill="#760300"/><rect x="116" y="243" width="1" height="1" fill="#520300"/><rect x="116" y="255" width="1" height="1" fill="#4d0300"/><rect x="117" y="242" width="1" height="1" fill="#5a0300"/><rect x="117" y="244" width="1" height="1" fill="#ab0300"/><rect x="117" y="253" width="1" height="1" fill="#970300"/><rect x="117" y="254" width="1" height="1" fill="#970300"/><rect x="118" y="242" width="1" height="1" fill="#7b0300"/><rect x="118" y="243" width="1" height="1" fill="#530300"/><rect x="118" y="244" width="1" height="1" fill="#a70300"/><rect x="118" y="255" width="1" height="1" fill="#a00300"/><rect x="119" y="243" width="1" height="1" fill="#750300"/><rect x="119" y="244" width="1" height="1" fill="#b60300"/><rect x="119" y="247" width="1" height="1" fill="#b90300"/><rect x="119" y="252" width="1" height="1" fill="#c00300"/><rect x="119" y="253" width="1" height="1" fill="#c70300"/><rect x="119" y="254" width="1" height="1" fill="#9e0300"/><rect x="119" y="255" width="1" height="1" fill="#650300"/><rect x="120" y="244" width="1" height="2" fill="#4e0300"/><rect x="120" y="245" width="1" height="1" fill="#b90300"/><rect x="120" y="246" width="1" height="2" fill="#730300"/><rect x="120" y="251" width="1" height="2" fill="#b50300"/><rect x="120" y="253" width="1" height="1" fill="#4e0300"/><rect x="121" y="246" width="1" height="1" fill="#b20300"/><rect x="121" y="248" width="1" height="1" fill="#900300"/><rect x="121" y="249" width="1" height="1" fill="#660300"/><rect x="121" y="250" width="1" height="2" fill="#9b0300"/><rect x="121" y="251" width="1" height="2" fill="#900300"/><rect x="121" y="253" width="1" height="2" fill="#a60300"/><rect x="186.0" y="229.2" width="1" height="12.1" fill="#5613cc" opacity="0.87"/><rect x="187.0" y="228.9" width="1" height="4.7" fill="#5b13cc" opacity="0.83"/><rect x="176.0" y="226.7" width="1" height="8.2" fill="#5813cc" opacity="0.56"/><rect x="186.0" y="230.8" width="1" height="10.5" fill="#4f13cc" opacity="0.62"/><rect x="178.0" y="235.6" width="1" height="8.4" fill="#4a13cc" opacity="0.56"/><rect x="188.0" y="229.6" width="1" height="13.3" fill="#6013cc" opacity="0.91"/><rect x="178.0" y="227.4" width="1" height="12.3" fill="#5213cc" opacity="0.52"/><rect x="177.0" y="230.0" width="1" height="6.5" fill="#4913cc" opacity="0.86"/><rect x="176.0" y="230.0" width="1" height="11.0" fill="#5b13cc" opacity="0.90"/><rect x="179.0" y="228.4" width="1" height="10.2" fill="#5c13cc" opacity="0.87"/><rect x="187.0" y="231.8" width="1" height="11.2" fill="#5f13cc" opacity="0.81"/><rect x="178.0" y="237.6" width="1" height="4.4" fill="#4813cc" opacity="0.65"/><rect x="181.0" y="239.6" width="1" height="4.4" fill="#5313cc" opacity="0.79"/><rect x="182.0" y="238.6" width="1" height="5.4" fill="#5113cc" opacity="0.97"/><rect x="188.0" y="231.7" width="1" height="12.3" fill="#4913cc" opacity="0.94"/><rect x="182.0" y="232.8" width="1" height="11.2" fill="#5213cc" opacity="0.72"/><rect x="179.0" y="235.6" width="1" height="8.4" fill="#5913cc" opacity="0.58"/><rect x="189.0" y="232.9" width="1" height="5.1" fill="#4d13cc" opacity="0.56"/><rect x="178.0" y="233.2" width="1" height="10.8" fill="#5913cc" opacity="0.99"/><rect x="190.0" y="234.7" width="1" height="9.3" fill="#5f13cc" opacity="0.76"/><rect x="188.0" y="233.9" width="1" height="10.1" fill="#5c13cc" opacity="0.95"/><rect x="183.0" y="227.1" width="1" height="4.6" fill="#5913cc" opacity="0.80"/><rect x="188.0" y="228.5" width="1" height="12.2" fill="#6113cc" opacity="0.74"/><rect x="177.0" y="235.6" width="1" height="4.8" fill="#5c13cc" opacity="0.91"/><rect x="162" y="224" width="1" height="1" fill="#a20300"/><rect x="162" y="225" width="1" height="2" fill="#760300"/><rect x="162" y="226" width="1" height="2" fill="#b40300"/><rect x="162" y="227" width="1" height="2" fill="#5a0300"/><rect x="162" y="228" width="1" height="1" fill="#900300"/><rect x="163" y="223" width="1" height="2" fill="#960300"/><rect x="163" y="225" width="1" height="2" fill="#950300"/><rect x="163" y="226" width="1" height="1" fill="#910300"/><rect x="163" y="228" width="1" height="1" fill="#9d0300"/><rect x="163" y="230" width="1" height="1" fill="#640300"/><rect x="164" y="223" width="1" height="2" fill="#6e0300"/><rect x="164" y="224" width="1" height="1" fill="#4c0300"/><rect x="164" y="225" width="1" height="2" fill="#5c0300"/><rect x="164" y="226" width="1" height="1" fill="#9b0300"/><rect x="164" y="228" width="1" height="2" fill="#4c0300"/><rect x="164" y="229" width="1" height="1" fill="#4e0300"/><rect x="164" y="230" width="1" height="1" fill="#cb0300"/><rect x="165" y="224" width="1" height="1" fill="#990300"/><rect x="165" y="226" width="1" height="1" fill="#a20300"/><rect x="165" y="233" width="1" height="1" fill="#880300"/><rect x="166" y="223" width="1" height="1" fill="#720300"/><rect x="166" y="224" width="1" height="1" fill="#9e0300"/><rect x="166" y="225" width="1" height="2" fill="#690300"/><rect x="166" y="226" width="1" height="1" fill="#b90300"/><rect x="166" y="231" width="1" height="1" fill="#4e0300"/><rect x="166" y="232" width="1" height="2" fill="#770300"/><rect x="166" y="233" width="1" height="2" fill="#6d0300"/><rect x="167" y="225" width="1" height="2" fill="#540300"/><rect x="167" y="226" width="1" height="1" fill="#510300"/><rect x="167" y="232" width="1" height="1" fill="#a00300"/><rect x="167" y="233" width="1" height="2" fill="#4c0300"/><rect x="167" y="234" width="1" height="1" fill="#520300"/><rect x="167" y="236" width="1" height="1" fill="#970300"/><rect x="168" y="225" width="1" height="2" fill="#7f0300"/><rect x="168" y="226" width="1" height="1" fill="#cb0300"/><rect x="168" y="234" width="1" height="2" fill="#750300"/><rect x="168" y="236" width="1" height="2" fill="#4c0300"/><rect x="168" y="237" width="1" height="2" fill="#c00300"/><rect x="169" y="226" width="1" height="1" fill="#ad0300"/><rect x="169" y="236" width="1" height="1" fill="#a00300"/><rect x="169" y="237" width="1" height="2" fill="#4e0300"/><rect x="170" y="225" width="1" height="1" fill="#a50300"/><rect x="170" y="226" width="1" height="2" fill="#b60300"/><rect x="170" y="227" width="1" height="2" fill="#c10300"/><rect x="170" y="236" width="1" height="1" fill="#bb0300"/><rect x="170" y="237" width="1" height="2" fill="#680300"/><rect x="170" y="238" width="1" height="2" fill="#9b0300"/><rect x="170" y="239" width="1" height="2" fill="#730300"/><rect x="171" y="226" width="1" height="1" fill="#b60300"/><rect x="171" y="227" width="1" height="1" fill="#5b0300"/><rect x="171" y="238" width="1" height="1" fill="#4f0300"/><rect x="171" y="240" width="1" height="1" fill="#be0300"/><rect x="172" y="227" width="1" height="1" fill="#8f0300"/><rect x="172" y="239" width="1" height="1" fill="#830300"/><rect x="172" y="241" width="1" height="1" fill="#7e0300"/><rect x="173" y="242" width="1" height="2" fill="#4f0300"/><rect x="173" y="243" width="1" height="1" fill="#6b0300"/><rect x="174" y="229" width="1" height="1" fill="#770300"/><rect x="174" y="232" width="1" height="2" fill="#590300"/><rect x="174" y="241" width="1" height="2" fill="#860300"/><rect x="174" y="242" width="1" height="1" fill="#560300"/><rect x="175" y="232" width="1" height="1" fill="#4e0300"/><rect x="175" y="233" width="1" height="2" fill="#5f0300"/><rect x="175" y="242" width="1" height="2" fill="#570300"/><rect x="175" y="243" width="1" height="1" fill="#670300"/><rect x="175" y="244" width="1" height="2" fill="#520300"/><rect x="176" y="233" width="1" height="2" fill="#840300"/><rect x="176" y="234" width="1" height="1" fill="#c40300"/><rect x="176" y="235" width="1" height="2" fill="#bf0300"/><rect x="176" y="243" width="1" height="1" fill="#590300"/><rect x="176" y="244" width="1" height="1" fill="#900300"/><rect x="176" y="245" width="1" height="1" fill="#4c0300"/><rect x="176" y="246" width="1" height="2" fill="#650300"/><rect x="177" y="235" width="1" height="2" fill="#b30300"/><rect x="177" y="236" width="1" height="2" fill="#b60300"/><rect x="177" y="237" width="1" height="2" fill="#7c0300"/><rect x="177" y="244" width="1" height="1" fill="#910300"/><rect x="177" y="245" width="1" height="1" fill="#8e0300"/><rect x="177" y="247" width="1" height="1" fill="#b70300"/><rect x="178" y="239" width="1" height="2" fill="#c10300"/><rect x="178" y="240" width="1" height="1" fill="#ac0300"/><rect x="178" y="241" width="1" height="1" fill="#ae0300"/><rect x="178" y="246" width="1" height="2" fill="#b60300"/><rect x="178" y="248" width="1" height="1" fill="#510300"/><rect x="178" y="249" width="1" height="1" fill="#610300"/><rect x="179" y="245" width="1" height="1" fill="#c50300"/><rect x="179" y="246" width="1" height="1" fill="#4c0300"/><rect x="179" y="247" width="1" height="2" fill="#720300"/><rect x="179" y="248" width="1" height="1" fill="#730300"/><rect x="180" y="226" width="1" height="1" fill="#600300"/><rect x="183" y="226" width="1" height="1" fill="#a00300"/><rect x="186" y="226" width="1" height="1" fill="#550300"/><rect x="189" y="226" width="1" height="2" fill="#480300"/><rect x="178" y="227" width="1" height="1" fill="#600300"/><rect x="179" y="227" width="1" height="1" fill="#5b0300"/><rect x="181" y="227" width="1" height="1" fill="#550300"/><rect x="184" y="227" width="1" height="2" fill="#680300"/><rect x="185" y="227" width="1" height="1" fill="#4d0300"/><rect x="186" y="227" width="1" height="1" fill="#520300"/><rect x="181" y="228" width="1" height="2" fill="#5a0300"/><rect x="186" y="228" width="1" height="1" fill="#8f0300"/><rect x="179" y="229" width="1" height="1" fill="#8b0300"/><rect x="184" y="229" width="1" height="1" fill="#a30300"/><rect x="177" y="230" width="1" height="1" fill="#8d0300"/><rect x="178" y="230" width="1" height="2" fill="#470300"/><rect x="179" y="230" width="1" height="1" fill="#5c0300"/><rect x="181" y="230" width="1" height="2" fill="#900300"/><rect x="187" y="230" width="1" height="1" fill="#490300"/><rect x="188" y="230" width="1" height="2" fill="#7f0300"/><rect x="183" y="231" width="1" height="2" fill="#950300"/><rect x="188" y="231" width="1" height="1" fill="#970300"/><rect x="189" y="231" width="1" height="1" fill="#890300"/><rect x="179" y="232" width="1" height="2" fill="#4f0300"/><rect x="180" y="232" width="1" height="1" fill="#4d0300"/><rect x="178" y="233" width="1" height="2" fill="#4d0300"/><rect x="181" y="233" width="1" height="2" fill="#690300"/><rect x="182" y="233" width="1" height="1" fill="#6f0300"/><rect x="183" y="233" width="1" height="2" fill="#5f0300"/><rect x="184" y="233" width="1" height="1" fill="#690300"/><rect x="185" y="233" width="1" height="2" fill="#9d0300"/><rect x="186" y="233" width="1" height="1" fill="#530300"/><rect x="187" y="233" width="1" height="1" fill="#580300"/><rect x="181" y="234" width="1" height="1" fill="#9a0300"/><rect x="188" y="234" width="1" height="1" fill="#6d0300"/><rect x="189" y="234" width="1" height="2" fill="#840300"/><rect x="180" y="235" width="1" height="2" fill="#aa0300"/><rect x="181" y="235" width="1" height="1" fill="#470300"/><rect x="183" y="235" width="1" height="2" fill="#870300"/><rect x="187" y="235" width="1" height="1" fill="#820300"/><rect x="188" y="235" width="1" height="2" fill="#540300"/><rect x="189" y="235" width="1" height="2" fill="#510300"/><rect x="177" y="236" width="1" height="2" fill="#7b0300"/><rect x="183" y="236" width="1" height="1" fill="#480300"/><rect x="189" y="236" width="1" height="1" fill="#6e0300"/><rect x="178" y="237" width="1" height="1" fill="#4b0300"/><rect x="180" y="237" width="1" height="1" fill="#910300"/><rect x="181" y="237" width="1" height="1" fill="#500300"/><rect x="184" y="237" width="1" height="2" fill="#8b0300"/><rect x="186" y="237" width="1" height="2" fill="#4f0300"/><rect x="189" y="237" width="1" height="1" fill="#a30300"/><rect x="225" y="211" width="1" height="2" fill="#6f0300"/><rect x="227" y="211" width="1" height="1" fill="#470300"/><rect x="235" y="211" width="1" height="1" fill="#570300"/><rect x="236" y="211" width="1" height="1" fill="#6a0300"/><rect x="241" y="211" width="1" height="2" fill="#4e0300"/><rect x="227" y="212" width="1" height="1" fill="#630300"/><rect x="232" y="212" width="1" height="1" fill="#5e0300"/><rect x="233" y="212" width="1" height="1" fill="#860300"/><rect x="234" y="212" width="1" height="1" fill="#a00300"/><rect x="236" y="212" width="1" height="2" fill="#5e0300"/><rect x="237" y="212" width="1" height="2" fill="#4b0300"/><rect x="239" y="212" width="1" height="1" fill="#470300"/><rect x="242" y="212" width="1" height="1" fill="#8b0300"/><rect x="243" y="212" width="1" height="1" fill="#490300"/><rect x="225" y="213" width="1" height="2" fill="#470300"/><rect x="229" y="213" width="1" height="1" fill="#910300"/><rect x="232" y="213" width="1" height="2" fill="#ad0300"/><rect x="235" y="213" width="1" height="1" fill="#490300"/><rect x="239" y="213" width="1" height="2" fill="#9e0300"/><rect x="240" y="213" width="1" height="1" fill="#750300"/><rect x="242" y="213" width="1" height="2" fill="#7d0300"/><rect x="227" y="214" width="1" height="2" fill="#b60300"/><rect x="231" y="214" width="1" height="1" fill="#580300"/><rect x="232" y="214" width="1" height="1" fill="#a20300"/><rect x="233" y="214" width="1" height="1" fill="#630300"/><rect x="237" y="214" width="1" height="2" fill="#a50300"/><rect x="239" y="214" width="1" height="2" fill="#610300"/><rect x="241" y="214" width="1" height="1" fill="#a90300"/><rect x="243" y="214" width="1" height="1" fill="#be0300"/><rect x="225" y="215" width="1" height="1" fill="#4a0300"/><rect x="226" y="215" width="1" height="1" fill="#910300"/><rect x="231" y="215" width="1" height="2" fill="#910300"/><rect x="234" y="215" width="1" height="1" fill="#4a0300"/><rect x="238" y="215" width="1" height="1" fill="#ab0300"/><rect x="240" y="215" width="1" height="1" fill="#470300"/><rect x="241" y="215" width="1" height="2" fill="#920300"/><rect x="225" y="216" width="1" height="1" fill="#aa0300"/><rect x="230" y="216" width="1" height="2" fill="#4d0300"/><rect x="234" y="216" width="1" height="1" fill="#470300"/><rect x="238" y="216" width="1" height="1" fill="#8a0300"/><rect x="240" y="216" width="1" height="1" fill="#4a0300"/><rect x="241" y="216" width="1" height="1" fill="#700300"/><rect x="227" y="217" width="1" height="1" fill="#480300"/><rect x="228" y="217" width="1" height="1" fill="#aa0300"/><rect x="230" y="217" width="1" height="1" fill="#470300"/><rect x="231" y="217" width="1" height="2" fill="#540300"/><rect x="233" y="217" width="1" height="1" fill="#9e0300"/><rect x="235" y="217" width="1" height="2" fill="#4c0300"/><rect x="237" y="217" width="1" height="1" fill="#830300"/><rect x="238" y="217" width="1" height="1" fill="#510300"/><rect x="239" y="217" width="1" height="1" fill="#720300"/><rect x="241" y="217" width="1" height="1" fill="#740300"/><rect x="225" y="218" width="1" height="2" fill="#500300"/><rect x="227" y="218" width="1" height="1" fill="#b10300"/><rect x="229" y="218" width="1" height="2" fill="#4f0300"/><rect x="233" y="218" width="1" height="1" fill="#960300"/><rect x="234" y="218" width="1" height="1" fill="#510300"/><rect x="235" y="218" width="1" height="1" fill="#a60300"/><rect x="238" y="218" width="1" height="2" fill="#4e0300"/><rect x="239" y="218" width="1" height="1" fill="#740300"/><rect x="242" y="218" width="1" height="1" fill="#620300"/><rect x="243" y="218" width="1" height="1" fill="#740300"/><rect x="225" y="219" width="1" height="2" fill="#670300"/><rect x="229" y="219" width="1" height="2" fill="#490300"/><rect x="235" y="219" width="1" height="2" fill="#6e0300"/><rect x="237" y="219" width="1" height="1" fill="#700300"/><rect x="242" y="219" width="1" height="2" fill="#4d0300"/><rect x="243" y="219" width="1" height="2" fill="#4b0300"/><rect x="225" y="220" width="1" height="2" fill="#480300"/><rect x="226" y="220" width="1" height="2" fill="#880300"/><rect x="227" y="220" width="1" height="1" fill="#470300"/><rect x="231" y="220" width="1" height="2" fill="#520300"/><rect x="235" y="220" width="1" height="1" fill="#8c0300"/><rect x="236" y="220" width="1" height="1" fill="#4e0300"/><rect x="238" y="220" width="1" height="2" fill="#500300"/><rect x="239" y="220" width="1" height="1" fill="#a90300"/><rect x="240" y="220" width="1" height="2" fill="#550300"/><rect x="242" y="220" width="1" height="2" fill="#c10300"/><rect x="243" y="220" width="1" height="1" fill="#ba0300"/><rect x="229" y="221" width="1" height="1" fill="#550300"/><rect x="232" y="221" width="1" height="2" fill="#890300"/><rect x="233" y="221" width="1" height="1" fill="#530300"/><rect x="236" y="221" width="1" height="1" fill="#470300"/><rect x="237" y="221" width="1" height="1" fill="#be0300"/><rect x="238" y="221" width="1" height="2" fill="#aa0300"/><rect x="239" y="221" width="1" height="1" fill="#8d0300"/><rect x="240" y="221" width="1" height="2" fill="#b40300"/><rect x="227" y="222" width="1" height="1" fill="#510300"/><rect x="228" y="222" width="1" height="1" fill="#9f0300"/><rect x="235" y="222" width="1" height="1" fill="#ac0300"/><rect x="236" y="222" width="1" height="2" fill="#670300"/><rect x="237" y="222" width="1" height="1" fill="#840300"/><rect x="239" y="222" width="1" height="2" fill="#590300"/><rect x="242" y="222" width="1" height="1" fill="#490300"/><rect x="225" y="223" width="1" height="1" fill="#490300"/><rect x="227" y="223" width="1" height="1" fill="#520300"/><rect x="228" y="223" width="1" height="2" fill="#800300"/><rect x="233" y="223" width="1" height="1" fill="#500300"/><rect x="235" y="223" width="1" height="1" fill="#5e0300"/><rect x="236" y="223" width="1" height="2" fill="#630300"/><rect x="243" y="223" width="1" height="1" fill="#6a0300"/><rect x="227" y="224" width="1" height="1" fill="#8c0300"/><rect x="231" y="224" width="1" height="2" fill="#9f0300"/><rect x="233" y="224" width="1" height="1" fill="#9f0300"/><rect x="235" y="224" width="1" height="1" fill="#5c0300"/><rect x="236" y="224" width="1" height="2" fill="#af0300"/><rect x="238" y="224" width="1" height="1" fill="#ba0300"/><rect x="239" y="224" width="1" height="2" fill="#ab0300"/><rect x="241" y="224" width="1" height="2" fill="#800300"/><rect x="242" y="224" width="1" height="1" fill="#480300"/><rect x="243" y="224" width="1" height="1" fill="#7c0300"/><rect x="226" y="225" width="1" height="2" fill="#4d0300"/><rect x="227" y="225" width="1" height="1" fill="#550300"/><rect x="231" y="225" width="1" height="2" fill="#4d0300"/><rect x="232" y="225" width="1" height="2" fill="#b30300"/><rect x="236" y="225" width="1" height="1" fill="#5c0300"/><rect x="237" y="225" width="1" height="1" fill="#570300"/><rect x="239" y="225" width="1" height="1" fill="#6d0300"/><rect x="242" y="225" width="1" height="2" fill="#560300"/><rect x="227" y="226" width="1" height="1" fill="#860300"/><rect x="234" y="226" width="1" height="1" fill="#930300"/><rect x="235" y="226" width="1" height="2" fill="#7f0300"/><rect x="239" y="226" width="1" height="2" fill="#520300"/><rect x="240" y="226" width="1" height="1" fill="#520300"/><rect x="231" y="227" width="1" height="1" fill="#5c0300"/><rect x="232" y="227" width="1" height="2" fill="#820300"/><rect x="234" y="227" width="1" height="1" fill="#4c0300"/><rect x="239" y="227" width="1" height="1" fill="#4d0300"/><rect x="240" y="227" width="1" height="2" fill="#6a0300"/><rect x="240.0" y="242.9" width="1" height="7.1" fill="#5710cc" opacity="0.87"/><rect x="237.0" y="237.1" width="1" height="11.8" fill="#5a10cc" opacity="0.68"/><rect x="238.0" y="239.2" width="1" height="6.2" fill="#4810cc" opacity="0.62"/><rect x="239.0" y="236.7" width="1" height="10.4" fill="#4e10cc" opacity="0.57"/><rect x="227.0" y="235.9" width="1" height="4.8" fill="#5910cc" opacity="0.83"/><rect x="227.0" y="237.6" width="1" height="10.7" fill="#4b10cc" opacity="0.91"/><rect x="230.0" y="226.0" width="1" height="7.8" fill="#4f10cc" opacity="0.53"/><rect x="238.0" y="227.7" width="1" height="9.8" fill="#4e10cc" opacity="0.55"/><rect x="228.0" y="231.6" width="1" height="5.6" fill="#4710cc" opacity="1.00"/><rect x="233.0" y="226.5" width="1" height="12.9" fill="#4810cc" opacity="0.82"/><rect x="234.0" y="238.6" width="1" height="5.9" fill="#5710cc" opacity="0.78"/><rect x="227.0" y="228.4" width="1" height="5.3" fill="#4a10cc" opacity="0.96"/><rect x="236.0" y="226.7" width="1" height="8.4" fill="#4f10cc" opacity="0.68"/><rect x="235.0" y="234.8" width="1" height="11.6" fill="#4a10cc" opacity="0.92"/><rect x="226.0" y="235.2" width="1" height="7.8" fill="#4710cc" opacity="0.72"/><rect x="228.0" y="236.3" width="1" height="11.7" fill="#5010cc" opacity="0.99"/><rect x="226.0" y="241.3" width="1" height="6.9" fill="#5410cc" opacity="0.91"/><rect x="228.0" y="238.5" width="1" height="7.3" fill="#5710cc" opacity="0.66"/><rect x="238.0" y="227.9" width="1" height="11.8" fill="#5310cc" opacity="0.98"/><rect x="240.0" y="230.6" width="1" height="11.0" fill="#5810cc" opacity="0.73"/><rect x="228.0" y="236.6" width="1" height="11.5" fill="#4810cc" opacity="0.87"/><rect x="238.0" y="240.9" width="1" height="9.1" fill="#5310cc" opacity="0.97"/><rect x="232.0" y="230.0" width="1" height="5.7" fill="#4610cc" opacity="0.65"/><rect x="233.0" y="233.7" width="1" height="9.8" fill="#5110cc" opacity="0.88"/><rect x="230.0" y="245.8" width="1" height="4.2" fill="#5910cc" opacity="0.52"/><rect x="236.0" y="235.1" width="1" height="7.9" fill="#5410cc" opacity="0.56"/><rect x="232.0" y="226.2" width="1" height="13.1" fill="#4d10cc" opacity="0.75"/><rect x="240.0" y="235.5" width="1" height="9.7" fill="#4a10cc" opacity="0.99"/><rect x="236.0" y="245.3" width="1" height="4.7" fill="#4810cc" opacity="0.90"/><rect x="229.0" y="239.7" width="1" height="10.3" fill="#5410cc" opacity="0.90"/><rect x="221.0" y="239.3" width="1" height="5.6" fill="#5f13cc" opacity="0.72"/><rect x="219.0" y="244.9" width="1" height="7.9" fill="#6013cc" opacity="0.80"/><rect x="224.0" y="239.6" width="1" height="4.9" fill="#4b13cc" opacity="0.56"/><rect x="219.0" y="239.9" width="1" height="10.7" fill="#5b13cc" opacity="0.67"/><rect x="224.0" y="237.4" width="1" height="5.5" fill="#5013cc" opacity="0.61"/><rect x="221.0" y="238.1" width="1" height="4.2" fill="#6113cc" opacity="0.52"/><rect x="220.0" y="241.9" width="1" height="11.2" fill="#5813cc" opacity="0.89"/><rect x="222.0" y="241.5" width="1" height="9.5" fill="#4913cc" opacity="0.69"/><rect x="222.0" y="239.3" width="1" height="5.4" fill="#5913cc" opacity="0.56"/><rect x="219.0" y="241.0" width="1" height="5.6" fill="#5013cc" opacity="0.81"/><rect x="225.0" y="236.7" width="1" height="5.1" fill="#4f13cc" opacity="0.52"/><rect x="219.0" y="248.9" width="1" height="5.1" fill="#5e13cc" opacity="0.55"/><rect x="225.0" y="245.8" width="1" height="8.2" fill="#4f13cc" opacity="0.63"/><rect x="223.0" y="247.3" width="1" height="6.7" fill="#4e13cc" opacity="0.81"/><rect x="220.0" y="250.0" width="1" height="4.0" fill="#4b13cc" opacity="0.89"/><rect x="219.0" y="241.4" width="1" height="8.8" fill="#4d13cc" opacity="0.98"/><rect x="279.0" y="223.1" width="1" height="10.6" fill="#4b10cc" opacity="0.84"/><rect x="273.0" y="240.7" width="1" height="5.3" fill="#4b10cc" opacity="0.80"/><rect x="272.0" y="224.0" width="1" height="7.9" fill="#4410cc" opacity="0.73"/><rect x="269.0" y="236.8" width="1" height="9.2" fill="#5210cc" opacity="0.53"/><rect x="259.0" y="235.6" width="1" height="9.5" fill="#5210cc" opacity="0.88"/><rect x="265.0" y="234.2" width="1" height="4.0" fill="#5010cc" opacity="0.71"/><rect x="263.0" y="231.5" width="1" height="13.6" fill="#5610cc" opacity="0.89"/><rect x="269.0" y="221.9" width="1" height="6.0" fill="#4710cc" opacity="0.76"/><rect x="263.0" y="227.5" width="1" height="10.1" fill="#4f10cc" opacity="0.66"/><rect x="280.0" y="233.8" width="1" height="6.5" fill="#4810cc" opacity="0.86"/><rect x="269.0" y="230.4" width="1" height="9.7" fill="#4d10cc" opacity="0.93"/><rect x="261.0" y="229.5" width="1" height="12.9" fill="#4810cc" opacity="0.70"/><rect x="280.0" y="235.2" width="1" height="7.2" fill="#5510cc" opacity="0.76"/><rect x="278.0" y="235.3" width="1" height="6.7" fill="#5210cc" opacity="0.70"/><rect x="277.0" y="239.5" width="1" height="6.5" fill="#5110cc" opacity="0.68"/><rect x="260.0" y="236.3" width="1" height="8.5" fill="#5510cc" opacity="0.62"/><rect x="274.0" y="231.4" width="1" height="4.8" fill="#4510cc" opacity="0.60"/><rect x="267.0" y="229.8" width="1" height="5.3" fill="#4e10cc" opacity="0.96"/><rect x="279.0" y="234.8" width="1" height="7.9" fill="#5610cc" opacity="0.53"/><rect x="279.0" y="234.7" width="1" height="7.7" fill="#4f10cc" opacity="0.70"/><rect x="273.0" y="223.9" width="1" height="6.8" fill="#4710cc" opacity="0.82"/><rect x="258.0" y="228.1" width="1" height="9.6" fill="#5510cc" opacity="0.97"/><rect x="258.0" y="231.8" width="1" height="5.6" fill="#5410cc" opacity="0.98"/><rect x="268.0" y="241.5" width="1" height="4.5" fill="#4410cc" opacity="0.89"/><rect x="270.0" y="228.2" width="1" height="12.7" fill="#5510cc" opacity="0.56"/><rect x="264.0" y="238.7" width="1" height="7.3" fill="#4b10cc" opacity="0.91"/><rect x="275.0" y="241.0" width="1" height="5.0" fill="#5610cc" opacity="0.92"/><rect x="278.0" y="231.4" width="1" height="12.9" fill="#4810cc" opacity="0.99"/><rect x="271.0" y="241.8" width="1" height="4.2" fill="#4a10cc" opacity="0.80"/><rect x="278.0" y="228.1" width="1" height="4.2" fill="#4810cc" opacity="0.62"/><rect x="270.0" y="234.7" width="1" height="8.0" fill="#5010cc" opacity="0.67"/><rect x="269.0" y="229.7" width="1" height="5.8" fill="#5210cc" opacity="0.91"/><rect x="280.0" y="236.9" width="1" height="4.7" fill="#4510cc" opacity="0.57"/><rect x="259.0" y="232.1" width="1" height="10.2" fill="#4a10cc" opacity="0.92"/><rect x="271.0" y="239.3" width="1" height="6.7" fill="#5510cc" opacity="0.77"/><rect x="278.0" y="225.4" width="1" height="11.6" fill="#4510cc" opacity="0.72"/><rect x="256" y="212" width="1" height="2" fill="#520300"/><rect x="260" y="212" width="1" height="1" fill="#5c0300"/><rect x="262" y="212" width="1" height="1" fill="#b50300"/><rect x="266" y="212" width="1" height="2" fill="#bd0300"/><rect x="269" y="212" width="1" height="1" fill="#c60300"/><rect x="270" y="212" width="1" height="1" fill="#8d0300"/><rect x="273" y="212" width="1" height="2" fill="#520300"/><rect x="274" y="212" width="1" height="1" fill="#c00300"/><rect x="276" y="212" width="1" height="2" fill="#980300"/><rect x="277" y="212" width="1" height="1" fill="#6e0300"/><rect x="280" y="212" width="1" height="1" fill="#bb0300"/><rect x="256" y="213" width="1" height="2" fill="#b90300"/><rect x="259" y="213" width="1" height="1" fill="#880300"/><rect x="264" y="213" width="1" height="1" fill="#790300"/><rect x="267" y="213" width="1" height="2" fill="#650300"/><rect x="269" y="213" width="1" height="1" fill="#9e0300"/><rect x="270" y="213" width="1" height="1" fill="#820300"/><rect x="272" y="213" width="1" height="1" fill="#ad0300"/><rect x="273" y="213" width="1" height="1" fill="#690300"/><rect x="275" y="213" width="1" height="1" fill="#500300"/><rect x="276" y="213" width="1" height="2" fill="#810300"/><rect x="280" y="213" width="1" height="2" fill="#5e0300"/><rect x="256" y="214" width="1" height="2" fill="#8d0300"/><rect x="257" y="214" width="1" height="1" fill="#7b0300"/><rect x="260" y="214" width="1" height="1" fill="#5f0300"/><rect x="261" y="214" width="1" height="1" fill="#4c0300"/><rect x="262" y="214" width="1" height="2" fill="#540300"/><rect x="263" y="214" width="1" height="1" fill="#720300"/><rect x="264" y="214" width="1" height="2" fill="#4f0300"/><rect x="266" y="214" width="1" height="1" fill="#bb0300"/><rect x="269" y="214" width="1" height="2" fill="#8f0300"/><rect x="272" y="214" width="1" height="1" fill="#8b0300"/><rect x="273" y="214" width="1" height="2" fill="#4d0300"/><rect x="274" y="214" width="1" height="1" fill="#660300"/><rect x="276" y="214" width="1" height="2" fill="#5f0300"/><rect x="277" y="214" width="1" height="1" fill="#690300"/><rect x="278" y="214" width="1" height="1" fill="#730300"/><rect x="279" y="214" width="1" height="1" fill="#9f0300"/><rect x="281" y="214" width="1" height="2" fill="#850300"/><rect x="258" y="215" width="1" height="1" fill="#750300"/><rect x="261" y="215" width="1" height="2" fill="#9e0300"/><rect x="264" y="215" width="1" height="2" fill="#8a0300"/><rect x="265" y="215" width="1" height="2" fill="#a10300"/><rect x="266" y="215" width="1" height="1" fill="#b90300"/><rect x="268" y="215" width="1" height="1" fill="#4c0300"/><rect x="269" y="215" width="1" height="1" fill="#9f0300"/><rect x="270" y="215" width="1" height="1" fill="#6f0300"/><rect x="273" y="215" width="1" height="2" fill="#4f0300"/><rect x="275" y="215" width="1" height="1" fill="#4f0300"/><rect x="280" y="215" width="1" height="1" fill="#4d0300"/><rect x="256" y="216" width="1" height="1" fill="#620300"/><rect x="257" y="216" width="1" height="1" fill="#7b0300"/><rect x="261" y="216" width="1" height="1" fill="#c50300"/><rect x="263" y="216" width="1" height="2" fill="#640300"/><rect x="266" y="216" width="1" height="2" fill="#9d0300"/><rect x="269" y="216" width="1" height="2" fill="#8e0300"/><rect x="273" y="216" width="1" height="1" fill="#b50300"/><rect x="274" y="216" width="1" height="2" fill="#520300"/><rect x="275" y="216" width="1" height="1" fill="#940300"/><rect x="276" y="216" width="1" height="1" fill="#9f0300"/><rect x="278" y="216" width="1" height="2" fill="#4d0300"/><rect x="279" y="216" width="1" height="1" fill="#920300"/><rect x="280" y="216" width="1" height="1" fill="#850300"/><rect x="256" y="217" width="1" height="1" fill="#950300"/><rect x="257" y="217" width="1" height="2" fill="#4c0300"/><rect x="258" y="217" width="1" height="2" fill="#ac0300"/><rect x="260" y="217" width="1" height="1" fill="#8c0300"/><rect x="261" y="217" width="1" height="2" fill="#4d0300"/><rect x="264" y="217" width="1" height="1" fill="#bd0300"/><rect x="266" y="217" width="1" height="1" fill="#4f0300"/><rect x="268" y="217" width="1" height="1" fill="#8a0300"/><rect x="269" y="217" width="1" height="1" fill="#540300"/><rect x="272" y="217" width="1" height="1" fill="#560300"/><rect x="275" y="217" width="1" height="2" fill="#870300"/><rect x="277" y="217" width="1" height="2" fill="#800300"/><rect x="279" y="217" width="1" height="1" fill="#7b0300"/><rect x="280" y="217" width="1" height="1" fill="#800300"/><rect x="258" y="218" width="1" height="2" fill="#900300"/><rect x="262" y="218" width="1" height="1" fill="#600300"/><rect x="263" y="218" width="1" height="2" fill="#9f0300"/><rect x="266" y="218" width="1" height="2" fill="#680300"/><rect x="267" y="218" width="1" height="1" fill="#630300"/><rect x="269" y="218" width="1" height="1" fill="#590300"/><rect x="271" y="218" width="1" height="2" fill="#7e0300"/><rect x="272" y="218" width="1" height="1" fill="#b40300"/><rect x="275" y="218" width="1" height="2" fill="#9f0300"/><rect x="277" y="218" width="1" height="2" fill="#a80300"/><rect x="278" y="218" width="1" height="1" fill="#5c0300"/><rect x="256" y="219" width="1" height="1" fill="#850300"/><rect x="257" y="219" width="1" height="1" fill="#c80300"/><rect x="259" y="219" width="1" height="2" fill="#a80300"/><rect x="261" y="219" width="1" height="2" fill="#710300"/><rect x="262" y="219" width="1" height="1" fill="#530300"/><rect x="270" y="219" width="1" height="2" fill="#bd0300"/><rect x="271" y="219" width="1" height="2" fill="#7c0300"/><rect x="272" y="219" width="1" height="1" fill="#500300"/><rect x="273" y="219" width="1" height="2" fill="#b10300"/><rect x="274" y="219" width="1" height="2" fill="#990300"/><rect x="277" y="219" width="1" height="2" fill="#6c0300"/><rect x="279" y="219" width="1" height="1" fill="#5a0300"/><rect x="280" y="219" width="1" height="1" fill="#540300"/><rect x="281" y="219" width="1" height="1" fill="#4e0300"/><rect x="256" y="220" width="1" height="1" fill="#4d0300"/><rect x="258" y="220" width="1" height="1" fill="#640300"/><rect x="260" y="220" width="1" height="1" fill="#590300"/><rect x="262" y="220" width="1" height="2" fill="#500300"/><rect x="264" y="220" width="1" height="2" fill="#5c0300"/><rect x="267" y="220" width="1" height="1" fill="#5e0300"/><rect x="269" y="220" width="1" height="2" fill="#9e0300"/><rect x="273" y="220" width="1" height="1" fill="#740300"/><rect x="274" y="220" width="1" height="2" fill="#630300"/><rect x="276" y="220" width="1" height="2" fill="#5a0300"/><rect x="279" y="220" width="1" height="2" fill="#c50300"/><rect x="281" y="220" width="1" height="1" fill="#650300"/><rect x="256" y="221" width="1" height="1" fill="#610300"/><rect x="260" y="221" width="1" height="1" fill="#640300"/><rect x="261" y="221" width="1" height="2" fill="#770300"/><rect x="264" y="221" width="1" height="1" fill="#590300"/><rect x="265" y="221" width="1" height="2" fill="#900300"/><rect x="266" y="221" width="1" height="1" fill="#b90300"/><rect x="267" y="221" width="1" height="1" fill="#700300"/><rect x="268" y="221" width="1" height="1" fill="#4c0300"/><rect x="270" y="221" width="1" height="2" fill="#640300"/><rect x="272" y="221" width="1" height="1" fill="#bf0300"/><rect x="274" y="221" width="1" height="1" fill="#5d0300"/><rect x="275" y="221" width="1" height="2" fill="#a00300"/><rect x="276" y="221" width="1" height="2" fill="#950300"/><rect x="278" y="221" width="1" height="1" fill="#4c0300"/><rect x="281" y="221" width="1" height="1" fill="#6d0300"/><rect x="258" y="222" width="1" height="1" fill="#720300"/><rect x="261" y="222" width="1" height="1" fill="#8c0300"/><rect x="262" y="222" width="1" height="1" fill="#6e0300"/><rect x="266" y="222" width="1" height="1" fill="#620300"/><rect x="267" y="222" width="1" height="2" fill="#530300"/><rect x="270" y="222" width="1" height="1" fill="#bd0300"/><rect x="271" y="222" width="1" height="1" fill="#a50300"/><rect x="272" y="222" width="1" height="1" fill="#5f0300"/><rect x="274" y="222" width="1" height="1" fill="#9d0300"/><rect x="281" y="222" width="1" height="1" fill="#9a0300"/></g><g filter="url(#soft)"><rect x="107.0" y="222.8" width="1.0" height="33.6" fill="#d60000"/><rect x="108.0" y="223.4" width="1.0" height="33.1" fill="#d60000"/><rect x="109.0" y="226.7" width="1.0" height="28.9" fill="#d60000"/><rect x="110.0" y="232.5" width="1.0" height="23.5" fill="#d60000"/><rect x="111.0" y="234.9" width="1.0" height="21.3" fill="#d60000"/><rect x="112.0" y="238.3" width="1.0" height="15.9" fill="#d60000"/><rect x="113.0" y="240.8" width="1.0" height="14.2" fill="#d60000"/><rect x="114.0" y="241.9" width="1.0" height="13.4" fill="#d60000"/><rect x="115.0" y="242.1" width="1.0" height="12.1" fill="#d60000"/><rect x="116.0" y="243.4" width="1.0" height="10.0" fill="#d60000"/><rect x="117.0" y="244.5" width="1.0" height="8.3" fill="#d60000"/><rect x="118.0" y="245.9" width="1.0" height="7.8" fill="#d60000"/><rect x="119.0" y="245.7" width="1.0" height="7.3" fill="#d60000"/><rect x="120.0" y="248.0" width="1.0" height="5.0" fill="#d60000"/><rect x="121.0" y="250.4" width="0.5" height="1.1" fill="#d60000"/><rect x="119.5" y="232.0" width="1.0" height="3.0" fill="#d60000"/><rect x="162.0" y="225.8" width="1.0" height="1.1" fill="#d60000"/><rect x="163.0" y="225.1" width="1.0" height="4.1" fill="#d60000"/><rect x="164.0" y="226.1" width="1.0" height="4.1" fill="#d60000"/><rect x="165.0" y="226.3" width="1.0" height="3.2" fill="#d60000"/><rect x="166.0" y="226.8" width="1.0" height="4.7" fill="#d60000"/><rect x="167.0" y="225.7" width="1.0" height="6.9" fill="#d60000"/><rect x="168.0" y="226.0" width="1.0" height="8.9" fill="#d60000"/><rect x="169.0" y="226.1" width="1.0" height="8.6" fill="#d60000"/><rect x="170.0" y="227.2" width="1.0" height="11.0" fill="#d60000"/><rect x="171.0" y="228.7" width="1.0" height="8.6" fill="#d60000"/><rect x="172.0" y="229.0" width="1.0" height="9.2" fill="#d60000"/><rect x="173.0" y="230.0" width="1.0" height="9.3" fill="#d60000"/><rect x="174.0" y="232.3" width="1.0" height="8.4" fill="#d60000"/><rect x="175.0" y="234.3" width="1.0" height="8.8" fill="#d60000"/><rect x="176.0" y="234.2" width="1.0" height="10.1" fill="#d60000"/><rect x="177.0" y="238.2" width="1.0" height="6.9" fill="#d60000"/><rect x="178.0" y="241.9" width="1.0" height="3.9" fill="#d60000"/><rect x="179.0" y="246.2" width="0.5" height="0.6" fill="#d60000"/><rect x="197.3" y="236.0" width="1.7" height="9.0" fill="#d60000"/><rect x="199.0" y="240.0" width="1.3" height="6.5" fill="#d60000"/><rect x="202.7" y="216.0" width="2.3" height="8.0" fill="#d60000"/><rect x="219.0" y="212.5" width="2.5" height="10.0" fill="#d60000"/><rect x="229.5" y="212.0" width="2.0" height="5.0" fill="#d60000"/><rect x="237.5" y="214.0" width="2.5" height="6.5" fill="#d60000"/><rect x="259.0" y="213.1" width="1.0" height="0.8" fill="#d60000"/><rect x="260.0" y="212.2" width="1.0" height="1.7" fill="#d60000"/><rect x="261.0" y="211.8" width="1.0" height="2.8" fill="#d60000"/><rect x="262.0" y="211.4" width="1.0" height="3.3" fill="#d60000"/><rect x="263.0" y="211.1" width="1.0" height="4.2" fill="#d60000"/><rect x="264.0" y="211.1" width="1.0" height="4.6" fill="#d60000"/><rect x="265.0" y="211.3" width="1.0" height="4.5" fill="#d60000"/><rect x="266.0" y="210.2" width="1.0" height="5.8" fill="#d60000"/><rect x="267.0" y="210.6" width="1.0" height="5.6" fill="#d60000"/><rect x="268.0" y="210.6" width="1.0" height="5.6" fill="#d60000"/><rect x="269.0" y="210.5" width="1.0" height="5.2" fill="#d60000"/><rect x="270.0" y="210.9" width="1.0" height="5.1" fill="#d60000"/><rect x="271.0" y="210.8" width="1.0" height="5.3" fill="#d60000"/><rect x="272.0" y="210.7" width="1.0" height="6.0" fill="#d60000"/><rect x="273.0" y="210.9" width="1.0" height="6.0" fill="#d60000"/><rect x="274.0" y="211.0" width="1.0" height="5.4" fill="#d60000"/><rect x="275.0" y="210.0" width="1.0" height="6.4" fill="#d60000"/><rect x="276.0" y="210.6" width="1.0" height="6.1" fill="#d60000"/><rect x="277.0" y="211.0" width="1.0" height="5.0" fill="#d60000"/><rect x="278.0" y="210.8" width="1.0" height="4.6" fill="#d60000"/><rect x="279.0" y="210.9" width="1.0" height="4.5" fill="#d60000"/><rect x="280.0" y="211.3" width="0.5" height="3.7" fill="#d60000"/><rect x="311.0" y="211.0" width="4.0" height="7.5" fill="#d60000"/><rect x="318.3" y="216.0" width="2.2" height="22.5" fill="#d60000"/><rect x="326.0" y="216.0" width="1.6" height="10.0" fill="#d60000"/><rect x="357.0" y="216.0" width="3.0" height="6.7" fill="#d60000"/><rect x="438.0" y="208.5" width="2.0" height="34.2" fill="#d60000"/><rect x="455.0" y="212.7" width="2.3" height="31.3" fill="#893000"/><rect x="463.7" y="208.5" width="1.5" height="37.5" fill="#d60000"/><rect x="467.8" y="209.0" width="1.4" height="38.7" fill="#ad2b00"/><rect x="490.3" y="213.3" width="0.7" height="35.6" fill="#d60000"/><rect x="491.0" y="215.8" width="1.0" height="32.3" fill="#d60000"/><rect x="492.0" y="213.8" width="1.0" height="34.3" fill="#d60000"/><rect x="493.0" y="214.2" width="1.0" height="34.1" fill="#d60000"/><rect x="495.3" y="213.2" width="0.7" height="33.7" fill="#d60000"/><rect x="496.0" y="213.1" width="1.0" height="32.1" fill="#d60000"/><rect x="497.0" y="213.0" width="1.0" height="31.5" fill="#d60000"/><rect x="498.0" y="215.6" width="1.0" height="29.1" fill="#d60000"/><rect x="499.0" y="214.4" width="1.0" height="31.2" fill="#d60000"/><rect x="504.3" y="217.0" width="2.2" height="29.0" fill="#933000"/><rect x="509.3" y="218.0" width="1.3" height="26.0" fill="#7f3000"/><rect x="513.0" y="216.0" width="1.2" height="30.0" fill="#b72000"/><rect x="515.3" y="216.0" width="1.2" height="30.0" fill="#b72000"/><rect x="522.3" y="214.3" width="0.7" height="31.2" fill="#d60000"/><rect x="523.0" y="215.0" width="1.0" height="28.2" fill="#d60000"/><rect x="524.0" y="215.7" width="1.0" height="28.9" fill="#d60000"/><rect x="525.0" y="213.3" width="1.0" height="30.1" fill="#d60000"/><rect x="526.0" y="215.9" width="1.0" height="26.6" fill="#d60000"/><rect x="527.0" y="213.3" width="0.6" height="28.5" fill="#d60000"/><rect x="528.3" y="216.0" width="1.2" height="42.0" fill="#b72500"/><rect x="531.5" y="219.0" width="1.3" height="43.0" fill="#983000"/><rect x="523.0" y="254.0" width="3.5" height="6.0" fill="#d60000"/><rect x="563.6" y="231.0" width="1.6" height="48.0" fill="#d60000"/><rect x="566.3" y="235.0" width="1.3" height="42.0" fill="#d60000"/><rect x="568.8" y="241.0" width="1.0" height="36.0" fill="#d60000"/><rect x="578.6" y="226.6" width="0.4" height="45.7" fill="#d60000"/><rect x="579.0" y="227.7" width="1.0" height="44.5" fill="#d60000"/><rect x="580.0" y="226.3" width="1.0" height="45.9" fill="#d60000"/><rect x="581.0" y="228.3" width="1.0" height="46.9" fill="#d60000"/><rect x="582.0" y="226.8" width="1.0" height="48.2" fill="#d60000"/><rect x="583.0" y="226.2" width="1.0" height="46.8" fill="#d60000"/><rect x="584.0" y="226.2" width="0.4" height="46.2" fill="#d60000"/><rect x="625.8" y="213.7" width="1.2" height="36.3" fill="#ad2b00"/><rect x="630.7" y="216.0" width="1.3" height="9.0" fill="#d60000"/><rect x="646.0" y="216.0" width="2.5" height="21.5" fill="#d60000"/><rect x="648.5" y="219.0" width="2.5" height="13.0" fill="#d60000"/><rect x="696.5" y="225.0" width="3.0" height="11.0" fill="#752500"/><rect x="773.8" y="231.0" width="1.4" height="9.0" fill="#ad2500"/><rect x="775.2" y="233.0" width="1.4" height="6.0" fill="#701b00"/></g>
</g>
<g>
<rect x="205" y="49" width="14" height="359" fill="#000"/>
<rect x="362.3" y="49" width="13.5" height="359" fill="#000"/>
<rect x="755.5" y="49" width="13.3" height="359" fill="#000"/>
<rect x="312" y="49" width="1" height="359" fill="#fff"/>
<rect x="441" y="49" width="1" height="359" fill="#fff"/>
<rect x="760" y="49" width="1" height="359" fill="#fff"/>
<rect x="800" y="49" width="1" height="359" fill="#fff"/>
<rect x="428" y="49" width="1" height="359" fill="#000"/>
<rect x="442" y="49" width="1" height="359" fill="#000"/>
<rect x="611" y="49" width="1" height="359" fill="#000"/>
</g>
<g>
<rect x="106.5" y="48.5" width="758" height="360" fill="none" stroke="#000" stroke-width="1"/>
<line x1="106.00" y1="408.50" x2="106.00" y2="414.70" stroke="#000" stroke-width="2.0"/>
<line x1="106.00" y1="48.50" x2="106.00" y2="42.30" stroke="#000" stroke-width="2.0"/>
<line x1="145.31" y1="408.50" x2="145.31" y2="412.10" stroke="#000" stroke-width="1.6"/>
<line x1="145.31" y1="48.50" x2="145.31" y2="44.90" stroke="#000" stroke-width="1.6"/>
<line x1="184.62" y1="408.50" x2="184.62" y2="414.70" stroke="#000" stroke-width="2.0"/>
<line x1="184.62" y1="48.50" x2="184.62" y2="42.30" stroke="#000" stroke-width="2.0"/>
<line x1="223.93" y1="408.50" x2="223.93" y2="412.10" stroke="#000" stroke-width="1.6"/>
<line x1="223.93" y1="48.50" x2="223.93" y2="44.90" stroke="#000" stroke-width="1.6"/>
<line x1="263.24" y1="408.50" x2="263.24" y2="414.70" stroke="#000" stroke-width="2.0"/>
<line x1="263.24" y1="48.50" x2="263.24" y2="42.30" stroke="#000" stroke-width="2.0"/>
<line x1="302.55" y1="408.50" x2="302.55" y2="412.10" stroke="#000" stroke-width="1.6"/>
<line x1="302.55" y1="48.50" x2="302.55" y2="44.90" stroke="#000" stroke-width="1.6"/>
<line x1="341.86" y1="408.50" x2="341.86" y2="414.70" stroke="#000" stroke-width="2.0"/>
<line x1="341.86" y1="48.50" x2="341.86" y2="42.30" stroke="#000" stroke-width="2.0"/>
<line x1="381.17" y1="408.50" x2="381.17" y2="412.10" stroke="#000" stroke-width="1.6"/>
<line x1="381.17" y1="48.50" x2="381.17" y2="44.90" stroke="#000" stroke-width="1.6"/>
<line x1="420.48" y1="408.50" x2="420.48" y2="414.70" stroke="#000" stroke-width="2.0"/>
<line x1="420.48" y1="48.50" x2="420.48" y2="42.30" stroke="#000" stroke-width="2.0"/>
<line x1="459.79" y1="408.50" x2="459.79" y2="412.10" stroke="#000" stroke-width="1.6"/>
<line x1="459.79" y1="48.50" x2="459.79" y2="44.90" stroke="#000" stroke-width="1.6"/>
<line x1="499.10" y1="408.50" x2="499.10" y2="414.70" stroke="#000" stroke-width="2.0"/>
<line x1="499.10" y1="48.50" x2="499.10" y2="42.30" stroke="#000" stroke-width="2.0"/>
<line x1="538.41" y1="408.50" x2="538.41" y2="412.10" stroke="#000" stroke-width="1.6"/>
<line x1="538.41" y1="48.50" x2="538.41" y2="44.90" stroke="#000" stroke-width="1.6"/>
<line x1="577.72" y1="408.50" x2="577.72" y2="414.70" stroke="#000" stroke-width="2.0"/>
<line x1="577.72" y1="48.50" x2="577.72" y2="42.30" stroke="#000" stroke-width="2.0"/>
<line x1="617.03" y1="408.50" x2="617.03" y2="412.10" stroke="#000" stroke-width="1.6"/>
<line x1="617.03" y1="48.50" x2="617.03" y2="44.90" stroke="#000" stroke-width="1.6"/>
<line x1="656.34" y1="408.50" x2="656.34" y2="414.70" stroke="#000" stroke-width="2.0"/>
<line x1="656.34" y1="48.50" x2="656.34" y2="42.30" stroke="#000" stroke-width="2.0"/>
<line x1="695.65" y1="408.50" x2="695.65" y2="412.10" stroke="#000" stroke-width="1.6"/>
<line x1="695.65" y1="48.50" x2="695.65" y2="44.90" stroke="#000" stroke-width="1.6"/>
<line x1="734.96" y1="408.50" x2="734.96" y2="414.70" stroke="#000" stroke-width="2.0"/>
<line x1="734.96" y1="48.50" x2="734.96" y2="42.30" stroke="#000" stroke-width="2.0"/>
<line x1="774.27" y1="408.50" x2="774.27" y2="412.10" stroke="#000" stroke-width="1.6"/>
<line x1="774.27" y1="48.50" x2="774.27" y2="44.90" stroke="#000" stroke-width="1.6"/>
<line x1="813.58" y1="408.50" x2="813.58" y2="414.70" stroke="#000" stroke-width="2.0"/>
<line x1="813.58" y1="48.50" x2="813.58" y2="42.30" stroke="#000" stroke-width="2.0"/>
<line x1="852.89" y1="408.50" x2="852.89" y2="412.10" stroke="#000" stroke-width="1.6"/>
<line x1="852.89" y1="48.50" x2="852.89" y2="44.90" stroke="#000" stroke-width="1.6"/>
<line x1="106.50" y1="360.00" x2="100.00" y2="360.00" stroke="#000" stroke-width="2"/>
<line x1="864.50" y1="360.00" x2="871.00" y2="360.00" stroke="#000" stroke-width="2"/>
<line x1="106.50" y1="312.00" x2="100.00" y2="312.00" stroke="#000" stroke-width="2"/>
<line x1="864.50" y1="312.00" x2="871.00" y2="312.00" stroke="#000" stroke-width="2"/>
<line x1="106.50" y1="264.00" x2="100.00" y2="264.00" stroke="#000" stroke-width="2"/>
<line x1="864.50" y1="264.00" x2="871.00" y2="264.00" stroke="#000" stroke-width="2"/>
<line x1="106.50" y1="216.00" x2="100.00" y2="216.00" stroke="#000" stroke-width="2"/>
<line x1="864.50" y1="216.00" x2="871.00" y2="216.00" stroke="#000" stroke-width="2"/>
<line x1="106.50" y1="168.00" x2="100.00" y2="168.00" stroke="#000" stroke-width="2"/>
<line x1="864.50" y1="168.00" x2="871.00" y2="168.00" stroke="#000" stroke-width="2"/>
<line x1="106.50" y1="120.00" x2="100.00" y2="120.00" stroke="#000" stroke-width="2"/>
<line x1="864.50" y1="120.00" x2="871.00" y2="120.00" stroke="#000" stroke-width="2"/>
<line x1="106.50" y1="72.00" x2="100.00" y2="72.00" stroke="#000" stroke-width="2"/>
<line x1="864.50" y1="72.00" x2="871.00" y2="72.00" stroke="#000" stroke-width="2"/>
</g>
<g>
<text class="t16" x="485.3" y="41.3" text-anchor="middle" style="font-size:16.6px">Attenuated Backscatter at 1064 nm FR of pollyxt_melpitz at Melpitz</text>
<text class="t16" x="106.00" y="429.6" text-anchor="middle">00:00</text>
<text class="t16" x="184.62" y="429.6" text-anchor="middle">02:00</text>
<text class="t16" x="263.24" y="429.6" text-anchor="middle">04:00</text>
<text class="t16" x="341.86" y="429.6" text-anchor="middle">06:00</text>
<text class="t16" x="420.48" y="429.6" text-anchor="middle">08:00</text>
<text class="t16" x="499.10" y="429.6" text-anchor="middle">10:00</text>
<text class="t16" x="577.72" y="429.6" text-anchor="middle">12:00</text>
<text class="t16" x="656.34" y="429.6" text-anchor="middle">14:00</text>
<text class="t16" x="734.96" y="429.6" text-anchor="middle">16:00</text>
<text class="t16" x="813.58" y="429.6" text-anchor="middle">18:00</text>
<text class="t16" x="95" y="366.20" text-anchor="end">2</text>
<text class="t16" x="95" y="318.20" text-anchor="end">4</text>
<text class="t16" x="95" y="270.20" text-anchor="end">6</text>
<text class="t16" x="95" y="222.20" text-anchor="end">8</text>
<text class="t16" x="95" y="174.20" text-anchor="end">10</text>
<text class="t16" x="95" y="126.20" text-anchor="end">12</text>
<text class="t16" x="95" y="78.20" text-anchor="end">14</text>
<text class="t16" x="485" y="452.5" text-anchor="middle">Time [UTC]</text>
<text class="t16" transform="translate(65.5,228) rotate(-90)" text-anchor="middle">Height [km]</text>
<text class="t13" x="49" y="455.3">2026-03-26</text>
<text class="t13" x="49" y="470.8">LC: 7.52e+14</text>
<text class="t13" x="192.5" y="455.3">Version: 4.0</text>
<text class="t13" x="192.5" y="470.8">Calibration: True</text>
</g>
<g>
<linearGradient id="cbg" x1="0" y1="1" x2="0" y2="0">
<stop offset="0.0000" stop-color="rgb(0,68,238)"/>
<stop offset="0.0750" stop-color="rgb(0,104,224)"/>
<stop offset="0.1500" stop-color="rgb(0,146,205)"/>
<stop offset="0.2100" stop-color="rgb(0,172,175)"/>
<stop offset="0.2500" stop-color="rgb(15,190,130)"/>
<stop offset="0.3000" stop-color="rgb(35,210,60)"/>
<stop offset="0.3500" stop-color="rgb(60,228,20)"/>
<stop offset="0.4250" stop-color="rgb(130,240,10)"/>
<stop offset="0.5000" stop-color="rgb(200,245,0)"/>
<stop offset="0.5500" stop-color="rgb(255,240,0)"/>
<stop offset="0.6250" stop-color="rgb(255,200,0)"/>
<stop offset="0.7500" stop-color="rgb(255,135,0)"/>
<stop offset="0.8750" stop-color="rgb(255,70,0)"/>
<stop offset="1.0000" stop-color="rgb(255,20,0)"/>
</linearGradient>
<rect x="883.5" y="96.5" width="19" height="264" fill="url(#cbg)" stroke="#000" stroke-width="1"/>
<text class="t16" x="908.3" y="365.90">0.0</text>
<line x1="903" y1="294.50" x2="906.5" y2="294.50" stroke="#000" stroke-width="1"/>
<text class="t16" x="908.3" y="299.90">0.5</text>
<line x1="903" y1="228.50" x2="906.5" y2="228.50" stroke="#000" stroke-width="1"/>
<text class="t16" x="908.3" y="233.90">1.0</text>
<line x1="903" y1="162.50" x2="906.5" y2="162.50" stroke="#000" stroke-width="1"/>
<text class="t16" x="908.3" y="167.90">1.5</text>
<text class="t16" x="908.3" y="101.90">2.0</text>
<text y="75.8" style="font-family:'DejaVu Sans','Liberation Sans',sans-serif;font-size:10.7px"><tspan x="876.3">Mm</tspan><tspan x="896.6" dy="-4.3" font-size="7.6px">−</tspan><tspan x="903.3" font-size="7.6px">1</tspan><tspan x="909.8" dy="4.3">sr</tspan><tspan x="920" dy="-4.3" font-size="7.6px">−</tspan><tspan x="926.7" font-size="7.6px">1</tspan></text>
</g>
<g>
<rect x="576.3" y="444.3" width="96.7" height="32.2" fill="#abb1aa" stroke="#1a1a1a" stroke-width="0.8"/>
<rect x="576.7" y="466.8" width="95.9" height="9.4" fill="#2b2b2b"/>
<circle cx="593.3" cy="458.8" r="12.3" fill="#abb1aa"/>
<circle cx="593.3" cy="458.8" r="10.2" fill="#fff" stroke="#111" stroke-width="2.3"/>
<text x="593.1" y="462.9" text-anchor="middle" style="font-family:'DejaVu Sans','Liberation Sans',sans-serif;font-weight:bold;font-size:12.5px;letter-spacing:-0.8px">cc</text>
<circle cx="627" cy="454.7" r="7.8" fill="#fff" stroke="#111" stroke-width="1.6"/>
<circle cx="627" cy="450.7" r="1.5" fill="#111"/>
<path d="M624.7 453.2h4.6v4.3h-1.1v4.2h-2.4v-4.2h-1.1z" fill="#111"/>
<circle cx="650" cy="454.7" r="7.8" fill="#fff" stroke="#111" stroke-width="1.6"/>
<path d="M646.6 454.3a3.6 3.6 0 1 1 0.9 3.1" fill="none" stroke="#111" stroke-width="1.7"/>
<path d="M644.6 454h4l-2 2.4z" fill="#111"/>
<text x="627" y="474.6" text-anchor="middle" style="font-family:'DejaVu Sans','Liberation Sans',sans-serif;font-weight:bold;font-size:7px;fill:#fff">BY</text>
<text x="650" y="474.6" text-anchor="middle" style="font-family:'DejaVu Sans','Liberation Sans',sans-serif;font-weight:bold;font-size:7px;fill:#fff">SA</text>
</g>
<g>
<text x="692" y="461.3" style="font-size:13.3px;font-weight:bold;fill:#ee2b35">Preliminary</text>
<text x="692" y="475.2" style="font-size:13.3px;font-weight:bold;fill:#ee2b35">Results.</text>
<text x="806" y="467.5" style="font-size:7.75px;font-weight:bold">© TROPOS 2026.</text>
<text x="806" y="477.5" style="font-size:7.75px;font-weight:bold">CC BY SA 4.0 License.</text>
</g>
</svg>
</body></html>
